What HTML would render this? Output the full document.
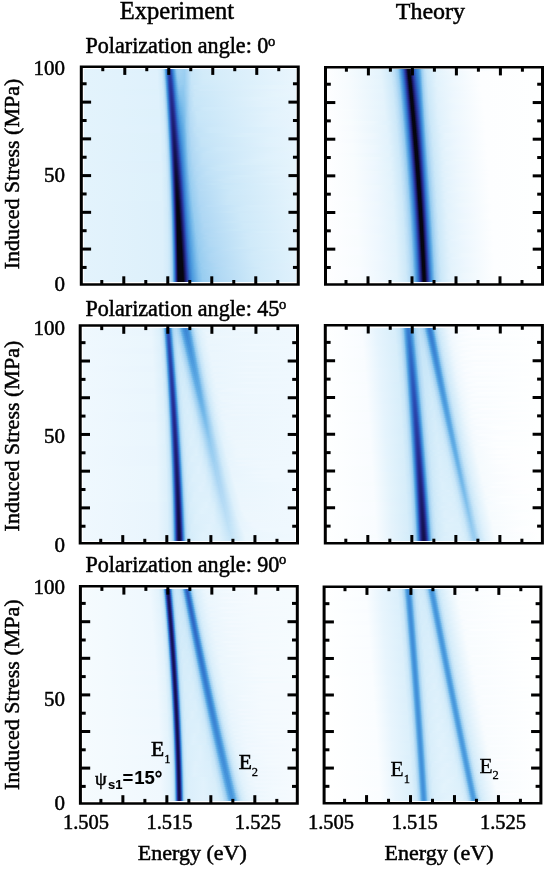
<!DOCTYPE html>
<html><head><meta charset="utf-8"><style>
html,body{margin:0;padding:0;background:#fff;}
#c{position:relative;width:550px;height:871px;overflow:hidden;background:#fff;}
.h{position:absolute;}
.h>div{height:2px;background-size:calc(100% + 1px) 100%;background-position:-0.5px 0;background-repeat:no-repeat;}
svg{position:absolute;left:0;top:0;}
</style></head><body><div id="c">
<div class="h" style="left:84px;top:69px;width:212px;height:213px">
<div style="background-image:linear-gradient(90deg,#e3f3fc 1px,#dff1fc 73px,#d6edfa 77px,#c4e3f7 79px,#b0d8f4 80px,#8ec7ee 81px,#57a4e1 82px,#3981d2 83px,#2d5cbd 84px,#2944aa 85px,#283da2 86px,#2945aa 87px,#2d5bbc 88px,#347acf 89px,#4594db 90px,#7dbdeb 92px,#95ccf0 93px,#a4d2f2 95px,#a1d1f2 98px,#9ccff1 101px,#aed7f4 104px,#c9e7f8 108px,#d3ebfa 119px,#e8f5fd 209px,#e8f5fd 212px)"></div>
<div style="background-image:linear-gradient(90deg,#e3f3fc 1px,#def1fc 74px,#d6edfa 77px,#c6e5f8 79px,#b3daf4 80px,#95ccf0 81px,#5da8e3 82px,#3b85d4 83px,#2e60bf 84px,#2945ab 85px,#283ca1 86px,#2841a7 87px,#2b55b8 88px,#3274cc 89px,#418fd9 90px,#76b9e9 92px,#90c8ef 93px,#9ccff1 94px,#a3d2f2 96px,#9ccff1 101px,#aed7f4 104px,#c9e6f8 108px,#d2ebf9 119px,#e8f5fd 209px,#e8f5fd 212px)"></div>
<div style="background-image:linear-gradient(90deg,#e3f3fc 1px,#dff1fc 74px,#d1eaf9 78px,#c8e6f8 79px,#b6dbf5 80px,#9acef1 81px,#62ade5 82px,#3e8ad6 83px,#2e64c2 84px,#2947ac 85px,#283ba0 86px,#283ea3 87px,#2a4fb5 88px,#306dc7 89px,#3e89d6 90px,#6fb5e8 92px,#8ac5ed 93px,#99cef1 94px,#a1d1f2 96px,#9bcef1 101px,#aed7f4 104px,#c8e6f8 108px,#d2ebf9 120px,#e8f5fd 210px,#e8f5fd 212px)"></div>
<div style="background-image:linear-gradient(90deg,#e3f3fc 1px,#dff1fc 74px,#d2ebf9 78px,#c9e7f8 79px,#b8ddf5 80px,#9ed0f1 81px,#69b2e7 82px,#418ed8 83px,#2f69c5 84px,#2949ae 85px,#283a9f 86px,#283ba0 87px,#2a4ab0 88px,#2f66c3 89px,#3b84d3 90px,#67b1e6 92px,#84c1ec 93px,#97ccf0 94px,#9fd0f1 96px,#9acef1 101px,#aed7f4 104px,#c8e6f8 108px,#d2ebf9 120px,#e8f5fd 210px,#e8f5fd 212px)"></div>
<div style="background-image:linear-gradient(90deg,#e3f3fc 1px,#dff1fc 74px,#d3ebfa 78px,#cbe7f8 79px,#bbdef6 80px,#a2d2f2 81px,#71b6e8 82px,#4493db 83px,#306ec8 84px,#2a4bb1 85px,#283a9f 86px,#27399d 87px,#2946ab 88px,#377ed1 90px,#4898dd 91px,#7dbeeb 93px,#92caef 94px,#9dcff1 96px,#99cef1 101px,#add7f4 104px,#c8e6f8 108px,#d2ebf9 120px,#e8f5fd 209px,#e8f5fd 212px)"></div>
<div style="background-image:linear-gradient(90deg,#e3f3fc 1px,#dff1fc 74px,#d4ecfa 78px,#cce8f9 79px,#bde0f6 80px,#a6d3f2 81px,#79bbea 82px,#4898dd 83px,#3173cb 84px,#2a4db3 85px,#283a9f 86px,#27369b 87px,#2942a7 88px,#2c59bb 89px,#3479ce 90px,#4493db 91px,#77bae9 93px,#8dc7ee 94px,#98cdf0 95px,#9acef1 98px,#99cdf0 101px,#c7e6f8 108px,#d1ebf9 120px,#e8f5fd 209px,#e8f5fd 212px)"></div>
<div style="background-image:linear-gradient(90deg,#e3f3fc 1px,#dff1fc 74px,#d4ecfa 78px,#c0e1f7 80px,#aad5f3 81px,#81c0ec 82px,#4e9cde 83px,#3378ce 84px,#2b51b6 85px,#283b9f 86px,#273599 87px,#283ea3 88px,#2b53b7 89px,#3173cb 90px,#418ed8 91px,#70b6e8 93px,#87c3ed 94px,#95cbf0 95px,#99cdf0 98px,#98cdf0 101px,#c7e5f8 108px,#d1eaf9 119px,#e7f5fd 208px,#e8f5fd 212px)"></div>
<div style="background-image:linear-gradient(90deg,#e3f3fc 1px,#dff1fc 74px,#d5ecfa 78px,#c2e2f7 80px,#add7f4 81px,#89c4ed 82px,#53a1e0 83px,#367cd0 84px,#2b54b8 85px,#283ba0 86px,#273397 87px,#283a9f 88px,#2a4db3 89px,#306cc7 90px,#3e89d6 91px,#69b2e7 93px,#81c0ec 94px,#90c9ef 95px,#98cdf0 97px,#97cdf0 101px,#c6e5f8 108px,#d0eaf9 119px,#e7f5fd 207px,#e8f5fd 212px)"></div>
<div style="background-image:linear-gradient(90deg,#e3f3fc 1px,#dff1fc 74px,#d6edfa 78px,#c4e4f7 80px,#b1d8f4 81px,#91c9ef 82px,#58a5e2 83px,#3880d2 84px,#2c58ba 85px,#283da2 86px,#273296 87px,#27379b 88px,#2948ae 89px,#2f66c3 90px,#3a83d3 91px,#63aee5 93px,#7bbcea 94px,#8cc6ee 95px,#94cbf0 96px,#93caef 100px,#a3d2f2 103px,#c1e2f7 107px,#cce8f9 111px,#e5f4fc 191px,#e8f5fd 212px)"></div>
<div style="background-image:linear-gradient(90deg,#e3f3fc 1px,#dff1fc 74px,#d6edfa 78px,#c6e5f8 80px,#b3daf5 81px,#97ccf0 82px,#5ea9e3 83px,#3b85d4 84px,#2d5dbd 85px,#283ea3 86px,#263195 87px,#273498 88px,#2944a9 89px,#377ed1 91px,#4797dc 92px,#75b9e9 94px,#87c3ed 95px,#90c8ef 96px,#91c9ef 100px,#a2d2f2 103px,#c0e2f7 107px,#cbe8f8 111px,#e5f4fc 190px,#e8f5fd 212px)"></div>
<div style="background-image:linear-gradient(90deg,#e3f3fc 1px,#def1fb 75px,#d1eaf9 79px,#c8e6f8 80px,#b6dbf5 81px,#9bcef1 82px,#63aee5 83px,#3e89d6 84px,#2e61c0 85px,#2840a5 86px,#263095 87px,#263195 88px,#283fa5 89px,#2c59bb 90px,#3479ce 91px,#4392da 92px,#6fb5e8 94px,#81c0ec 95px,#8cc6ee 96px,#8fc8ef 100px,#abd6f3 104px,#c5e4f7 108px,#cfe9f9 117px,#e7f4fd 204px,#e8f5fd 212px)"></div>
<div style="background-image:linear-gradient(90deg,#e3f3fc 1px,#def1fc 75px,#d2ebf9 79px,#c9e7f8 80px,#b8ddf5 81px,#9fd0f1 82px,#6ab2e7 83px,#418ed8 84px,#2f66c3 85px,#2943a8 86px,#263094 87px,#262e93 88px,#283ba0 89px,#2b52b7 90px,#3173cb 91px,#55a2e1 93px,#7cbdeb 95px,#87c3ed 96px,#8dc7ee 100px,#bfe1f7 107px,#cae7f8 111px,#e4f3fc 189px,#e8f5fd 212px)"></div>
<div style="background-image:linear-gradient(90deg,#e3f3fc 1px,#def1fc 75px,#d2ebf9 79px,#cae7f8 80px,#bbdef6 81px,#a3d2f2 82px,#71b7e8 83px,#4493da 84px,#306bc6 85px,#2945ab 86px,#263095 87px,#262d90 88px,#27379c 89px,#2a4db2 90px,#306cc7 91px,#509edf 93px,#77bae9 95px,#83c1ec 96px,#89c5ed 98px,#8bc6ee 100px,#bfe1f6 107px,#cbe7f8 112px,#e5f4fc 193px,#e8f5fd 212px)"></div>
<div style="background-image:linear-gradient(90deg,#e3f3fc 1px,#dff1fc 75px,#d3ecfa 79px,#cbe8f8 80px,#bde0f6 81px,#a6d3f2 82px,#79bbea 83px,#4797dc 84px,#3170c9 85px,#2948ae 86px,#263195 87px,#252b8d 88px,#273398 89px,#2948ad 90px,#3a83d3 92px,#5faae4 94px,#7ebeeb 96px,#86c3ed 98px,#8ac5ed 100px,#bee0f6 107px,#cae7f8 112px,#e5f4fc 192px,#e7f5fd 212px)"></div>
<div style="background-image:linear-gradient(90deg,#e3f3fc 1px,#dff1fc 75px,#d4ecfa 79px,#bfe1f7 81px,#aad5f3 82px,#81c0ec 83px,#4d9bde 84px,#3275cc 85px,#2a4bb1 86px,#273296 87px,#242a8b 88px,#263094 89px,#2943a8 90px,#377ed1 92px,#4695dc 93px,#6cb3e7 95px,#79bbea 96px,#83c1ec 98px,#8ec7ee 101px,#b8ddf5 106px,#c8e6f8 110px,#e1f2fc 175px,#e7f5fd 212px)"></div>
<div style="background-image:linear-gradient(90deg,#e3f3fc 1px,#dff1fc 75px,#d4ecfa 79px,#c1e2f7 81px,#add7f4 82px,#88c4ed 83px,#52a0e0 84px,#347acf 85px,#2a4eb4 86px,#273397 87px,#242a8a 88px,#262d90 89px,#283ea3 90px,#3479ce 92px,#56a3e1 94px,#75b9e9 96px,#80bfeb 98px,#8dc7ee 101px,#b8dcf5 106px,#c7e6f8 110px,#e0f1fc 172px,#e7f5fd 212px)"></div>
<div style="background-image:linear-gradient(90deg,#e3f3fc 1px,#dff1fc 75px,#d5ecfa 79px,#c3e3f7 81px,#b0d8f4 82px,#8fc8ef 83px,#57a4e1 84px,#377ed1 85px,#2b53b7 86px,#273599 87px,#232988 88px,#252b8c 89px,#283a9e 90px,#2b52b7 91px,#3173cb 92px,#519fdf 94px,#70b6e8 96px,#7dbdeb 98px,#8bc6ee 101px,#b7dcf5 106px,#c8e6f8 111px,#e3f3fc 184px,#e7f5fd 212px)"></div>
<div style="background-image:linear-gradient(90deg,#e3f3fc 1px,#dff1fc 75px,#d6edfa 79px,#c5e4f8 81px,#b3d9f4 82px,#96ccf0 83px,#5ca8e3 84px,#3a82d3 85px,#2c57ba 86px,#27379b 87px,#232988 88px,#242989 89px,#27359a 90px,#2a4db2 91px,#306cc7 92px,#3d87d5 93px,#4c9bde 94px,#6bb3e7 96px,#79bbea 98px,#89c5ed 101px,#b7dcf5 106px,#c8e6f8 111px,#e2f2fc 181px,#e7f5fd 212px)"></div>
<div style="background-image:linear-gradient(90deg,#e3f3fc 1px,#dff1fc 75px,#d6edfa 79px,#c7e5f8 81px,#b5dbf5 82px,#9acef1 83px,#61ace5 84px,#3d87d5 85px,#2d5cbd 86px,#27399e 87px,#232987 88px,#232885 89px,#273196 90px,#2948ad 91px,#2f66c3 92px,#3a82d3 93px,#4797dc 94px,#66b0e6 96px,#76b9e9 98px,#88c4ed 101px,#b6dcf5 106px,#c7e5f8 111px,#e1f2fc 178px,#e7f5fd 212px)"></div>
<div style="background-image:linear-gradient(90deg,#e3f3fc 1px,#dff1fc 75px,#d7edfa 79px,#c8e6f8 81px,#b7dcf5 82px,#9dcff1 83px,#67b0e6 84px,#3f8bd7 85px,#2e61c0 86px,#283ba0 87px,#232987 88px,#222682 89px,#262d91 90px,#2943a8 91px,#367dd0 93px,#4493db 94px,#62ade5 96px,#86c3ed 101px,#afd7f4 105px,#c2e3f7 109px,#cde9f9 121px,#e6f4fd 204px,#e7f5fd 212px)"></div>
<div style="background-image:linear-gradient(90deg,#e3f3fc 1px,#def1fb 76px,#d1ebf9 80px,#c9e7f8 81px,#b9def6 82px,#a1d1f2 83px,#6eb5e8 84px,#4290d9 85px,#2f65c3 86px,#283ea3 87px,#232988 88px,#212580 89px,#252b8c 90px,#283ea3 91px,#3378ce 93px,#519fdf 95px,#67b1e6 97px,#84c2ec 101px,#aed7f4 105px,#c2e2f7 109px,#cce8f9 120px,#e6f4fd 203px,#e7f4fd 212px)"></div>
<div style="background-image:linear-gradient(90deg,#e3f3fc 1px,#def1fb 76px,#d2ebf9 80px,#cae7f8 81px,#bcdff6 82px,#a4d3f2 83px,#75b9e9 84px,#4594db 85px,#306bc6 86px,#2841a6 87px,#242989 88px,#20247d 89px,#232988 90px,#27399e 91px,#3173cb 93px,#4d9bde 95px,#64aee5 97px,#83c1ec 101px,#a4d3f2 104px,#badef6 107px,#c8e6f8 113px,#e3f3fc 190px,#e7f4fd 212px)"></div>
<div style="background-image:linear-gradient(90deg,#e3f3fc 1px,#def1fb 76px,#d3ebfa 80px,#cbe8f8 81px,#bee0f6 82px,#a7d4f3 83px,#7cbdeb 84px,#4998dd 85px,#3170c9 86px,#2944aa 87px,#242a8b 88px,#20237b 89px,#222783 90px,#273599 91px,#2a4db3 92px,#306cc7 93px,#3c85d4 94px,#4898dd 95px,#61ace4 97px,#81c0ec 101px,#a4d2f2 104px,#b9ddf5 107px,#c7e6f8 113px,#e3f3fc 187px,#e7f4fd 212px)"></div>
<div style="background-image:linear-gradient(90deg,#e3f3fc 1px,#def1fb 76px,#d3ecfa 80px,#bfe1f7 82px,#aad5f3 83px,#83c1ec 84px,#4e9cde 85px,#3275cc 86px,#2948ad 87px,#252b8d 88px,#1f237a 89px,#21257f 90px,#263094 91px,#2948ae 92px,#2f66c3 93px,#3981d2 94px,#53a1e0 96px,#7fbfeb 101px,#a3d2f2 104px,#b8ddf5 107px,#c8e6f8 114px,#e4f3fc 192px,#e7f4fd 212px)"></div>
<div style="background-image:linear-gradient(90deg,#e3f3fc 1px,#def1fc 76px,#d4ecfa 80px,#c1e2f7 82px,#add7f4 83px,#8ac5ed 84px,#53a0e0 85px,#3479cf 86px,#2a4bb1 87px,#252c8f 88px,#1f2279 89px,#20237b 90px,#262c90 91px,#2943a8 92px,#2e60bf 93px,#367cd0 94px,#4f9edf 96px,#7dbeeb 101px,#99cdf0 103px,#b7dcf5 107px,#c7e6f8 114px,#e3f3fc 189px,#e7f4fd 212px)"></div>
<div style="background-image:linear-gradient(90deg,#e3f3fc 1px,#def1fc 76px,#d4ecfa 80px,#c3e3f7 82px,#b0d8f4 83px,#90c9ef 84px,#58a4e2 85px,#377ed1 86px,#2a4fb5 87px,#262d91 88px,#1f2278 89px,#1f2278 90px,#242a8a 91px,#283ea3 92px,#2c5abb 93px,#3377ce 94px,#4b9ade 96px,#60abe4 98px,#7bbcea 101px,#98cdf0 103px,#b7dcf5 107px,#c7e5f8 114px,#e2f2fc 186px,#e7f4fd 212px)"></div>
<div style="background-image:linear-gradient(90deg,#e3f3fc 1px,#def1fc 76px,#d5ecfa 80px,#c5e4f7 82px,#b3d9f4 83px,#96ccf0 84px,#5da8e3 85px,#3982d3 86px,#2b54b7 87px,#263094 88px,#1f2278 89px,#1e2075 90px,#222785 91px,#27399e 92px,#2b54b8 93px,#3172ca 94px,#4797dc 96px,#5da9e3 98px,#79bbea 101px,#97cdf0 103px,#b6dcf5 107px,#c6e5f8 114px,#e1f2fc 183px,#e7f4fd 212px)"></div>
<div style="background-image:linear-gradient(90deg,#e3f3fc 1px,#def1fc 76px,#d5edfa 80px,#c6e5f8 82px,#b5dbf5 83px,#9acef1 84px,#61ace5 85px,#3c86d5 86px,#2c58ba 87px,#273297 88px,#1f2278 89px,#1d1f72 90px,#212580 91px,#273599 92px,#2a4eb3 93px,#306cc7 94px,#3a83d3 95px,#519fdf 97px,#6bb3e7 100px,#97ccf0 103px,#b5dbf5 107px,#c5e4f8 114px,#e1f2fc 182px,#e7f4fd 212px)"></div>
<div style="background-image:linear-gradient(90deg,#e3f3fc 1px,#dff1fc 76px,#d6edfa 80px,#c8e6f8 82px,#b7dcf5 83px,#9dcff1 84px,#66b0e6 85px,#3f8ad7 86px,#2d5dbd 87px,#27359a 88px,#1f2279 89px,#1c1e6f 90px,#20237b 91px,#263094 92px,#2f66c3 94px,#377fd1 95px,#4d9cde 97px,#68b1e6 100px,#96ccf0 103px,#b5dbf5 107px,#c5e4f7 114px,#e0f2fc 180px,#e7f4fd 212px)"></div>
<div style="background-image:linear-gradient(90deg,#e3f3fc 1px,#dff1fc 76px,#d6edfa 80px,#c9e6f8 82px,#b9ddf5 83px,#a0d1f2 84px,#6db4e7 85px,#418ed8 86px,#2e62c0 87px,#27389d 88px,#1f237a 89px,#1b1d6d 90px,#1e2176 91px,#252c8f 92px,#2e60bf 94px,#357acf 95px,#4a99dd 97px,#66b0e6 100px,#94cbf0 103px,#afd7f4 106px,#c0e1f7 111px,#cce8f9 127px,#e5f4fd 205px,#e6f4fd 212px)"></div>
<div style="background-image:linear-gradient(90deg,#e3f3fc 1px,#dff1fc 76px,#d7edfa 80px,#cae7f8 82px,#bbdef6 83px,#a3d2f2 84px,#73b8e9 85px,#4493da 86px,#2f67c4 87px,#283ba0 88px,#20237c 89px,#1b1c6b 90px,#1d1f72 91px,#242989 92px,#283fa4 93px,#2c5abb 94px,#3276cd 95px,#4696dc 97px,#71b6e8 101px,#92caef 103px,#aed7f4 106px,#bfe1f6 111px,#cce8f9 127px,#e5f4fd 205px,#e6f4fd 212px)"></div>
<div style="background-image:linear-gradient(90deg,#e3f3fc 1px,#dff1fc 76px,#d7edfa 80px,#cbe7f8 82px,#bcdff6 83px,#a6d3f2 84px,#7abcea 85px,#4797dc 86px,#306cc7 87px,#283fa4 88px,#20247e 89px,#1b1b6a 90px,#1c1d6e 91px,#222783 92px,#283a9f 93px,#2b54b8 94px,#3170c9 95px,#4493db 97px,#6fb5e8 101px,#91c9ef 103px,#add6f3 106px,#bee0f6 111px,#cce8f9 127px,#e5f4fd 205px,#e6f4fd 212px)"></div>
<div style="background-image:linear-gradient(90deg,#e3f3fc 1px,#def1fb 77px,#d3ebfa 81px,#cbe8f8 82px,#bee0f6 83px,#a9d5f3 84px,#80bfeb 85px,#4c9bde 86px,#3171ca 87px,#2942a7 88px,#212580 89px,#1a1b68 90px,#1b1b6a 91px,#20247e 92px,#27359a 93px,#2a4eb4 94px,#306bc6 95px,#3980d2 96px,#4c9bde 98px,#6db4e7 101px,#9ccff1 104px,#b2d9f4 107px,#c2e3f7 114px,#dbeffb 164px,#e6f4fd 212px)"></div>
<div style="background-image:linear-gradient(90deg,#e3f3fc 1px,#def1fb 77px,#d3ecfa 81px,#c0e1f7 83px,#acd6f3 84px,#86c3ed 85px,#509edf 86px,#3276cd 87px,#2946ab 88px,#222783 89px,#1a1a68 90px,#1a1a67 91px,#1f2279 92px,#263095 93px,#2949af 94px,#2f65c2 95px,#367cd0 96px,#4998dd 98px,#6ab3e7 101px,#9bcef1 104px,#b1d8f4 107px,#c2e2f7 114px,#d7eefa 155px,#e6f4fd 212px)"></div>
<div style="background-image:linear-gradient(90deg,#e3f3fc 1px,#def1fb 77px,#d4ecfa 81px,#c1e2f7 83px,#aed7f4 84px,#8cc6ee 85px,#55a2e1 86px,#357acf 87px,#2949af 88px,#232886 89px,#1a1a67 90px,#191864 91px,#1d2074 92px,#262c8f 93px,#2e60bf 95px,#3478ce 96px,#4696dc 98px,#68b1e6 101px,#9acef1 104px,#b4daf5 108px,#c5e4f8 118px,#e1f2fc 187px,#e6f4fd 212px)"></div>
<div style="background-image:linear-gradient(90deg,#e3f3fc 1px,#def1fb 77px,#d4ecfa 81px,#c3e3f7 83px,#b1d8f4 84px,#92caef 85px,#59a6e2 86px,#377ed1 87px,#2a4db3 88px,#242989 89px,#1a1a68 90px,#181761 91px,#1c1d6f 92px,#242a89 93px,#2c5abb 95px,#3274cc 96px,#4493db 98px,#66b0e6 101px,#99cdf0 104px,#b3daf5 108px,#c5e4f7 118px,#e0f2fc 186px,#e6f4fd 212px)"></div>
<div style="background-image:linear-gradient(90deg,#e3f3fc 1px,#def1fb 77px,#d4ecfa 81px,#c4e4f7 83px,#b3daf4 84px,#97ccf0 85px,#5ea9e3 86px,#3a82d3 87px,#2b51b6 88px,#252b8d 89px,#1a1a68 90px,#17165e 91px,#1b1b6a 92px,#222783 93px,#2b54b8 95px,#316fc9 96px,#4290d9 98px,#64aee5 101px,#98cdf0 104px,#b2d9f4 108px,#c4e4f7 118px,#e0f2fc 185px,#e6f4fd 212px)"></div>
<div style="background-image:linear-gradient(90deg,#e3f3fc 1px,#def1fb 77px,#d5ecfa 81px,#c6e5f8 83px,#b4dbf5 84px,#9acef1 85px,#62ade5 86px,#3c86d4 87px,#2c56b9 88px,#262d91 89px,#1a1b69 90px,#17155c 91px,#191966 92px,#20247e 93px,#27369a 94px,#2a4fb4 95px,#306ac5 96px,#408dd8 98px,#62ade5 101px,#97ccf0 104px,#b2d9f4 108px,#c4e3f7 118px,#e0f1fc 184px,#e6f4fd 212px)"></div>
<div style="background-image:linear-gradient(90deg,#e3f3fc 1px,#def1fb 77px,#d5edfa 81px,#c7e5f8 83px,#b6dcf5 84px,#9dcff1 85px,#66b0e6 86px,#3e8ad6 87px,#2d5bbc 88px,#263094 89px,#1b1c6b 90px,#16145a 91px,#181761 92px,#1f2278 93px,#273196 94px,#294aaf 95px,#357bcf 97px,#54a1e0 100px,#71b6e8 102px,#95ccf0 104px,#b1d8f4 108px,#c3e3f7 118px,#dff1fc 183px,#e6f4fd 212px)"></div>
<div style="background-image:linear-gradient(90deg,#e3f3fc 1px,#def1fb 77px,#d6edfa 81px,#c8e6f8 83px,#b8ddf5 84px,#a0d0f1 85px,#6cb4e7 86px,#418ed8 87px,#2d5fbf 88px,#273397 89px,#1b1c6c 90px,#151358 91px,#17165d 92px,#1d1f73 93px,#262d90 94px,#2d5fbf 96px,#3377ce 97px,#52a0e0 100px,#6fb5e8 102px,#93caef 104px,#abd6f3 107px,#bcdff6 113px,#cce8f9 134px,#e5f4fc 208px,#e6f4fd 212px)"></div>
<div style="background-image:linear-gradient(90deg,#e3f3fc 1px,#def1fb 77px,#d6edfa 81px,#c9e6f8 83px,#badef6 84px,#a2d2f2 85px,#72b7e9 86px,#4392da 87px,#2e64c2 88px,#27369b 89px,#1c1d6e 90px,#151356 91px,#161459 92px,#1c1d6d 93px,#242a8a 94px,#2c5abb 96px,#3173cb 97px,#509edf 100px,#6cb4e7 102px,#91c9ef 104px,#aad5f3 107px,#bbdff6 113px,#cce8f9 134px,#e5f4fc 207px,#e6f4fd 212px)"></div>
<div style="background-image:linear-gradient(90deg,#e3f3fc 1px,#def1fb 77px,#d6edfa 81px,#cae7f8 83px,#bbdff6 84px,#a5d3f2 85px,#78baea 86px,#4695dc 87px,#2f69c5 88px,#28399e 89px,#1d1e71 90px,#151355 91px,#151355 92px,#1a1a68 93px,#222784 94px,#2b55b8 96px,#306ec8 97px,#4290d9 99px,#6ab2e7 102px,#8fc8ef 104px,#a3d2f2 106px,#b4dbf5 110px,#c6e5f8 124px,#e2f2fc 195px,#e6f4fd 212px)"></div>
<div style="background-image:linear-gradient(90deg,#e3f3fc 1px,#def1fc 77px,#d2ebf9 82px,#cae7f8 83px,#bddff6 84px,#a7d4f3 85px,#7ebeeb 86px,#4a99dd 87px,#306ec8 88px,#283da2 89px,#1d2074 90px,#151354 91px,#141251 92px,#191863 93px,#21257f 94px,#2a4fb5 96px,#377ed1 98px,#59a6e2 101px,#7bbcea 103px,#9acef1 105px,#b1d8f4 109px,#c3e3f7 120px,#dff1fc 185px,#e5f4fd 212px)"></div>
<div style="background-image:linear-gradient(90deg,#e3f3fc 1px,#def1fc 77px,#d2ebf9 82px,#bee0f6 84px,#aad5f3 85px,#83c1ec 86px,#4e9cde 87px,#3172cb 88px,#2840a6 89px,#1e2177 90px,#151354 91px,#13114e 92px,#17165e 93px,#273397 95px,#2a4bb1 96px,#357bcf 98px,#4998dd 100px,#65afe6 102px,#8bc6ee 104px,#99cdf0 105px,#b0d8f4 109px,#c2e3f7 120px,#dff1fc 184px,#e5f4fd 212px)"></div>
<div style="background-image:linear-gradient(90deg,#e3f3fc 1px,#def1fc 77px,#d3ebfa 82px,#c0e1f7 84px,#acd6f3 85px,#89c4ed 86px,#52a0e0 87px,#3377cd 88px,#2944a9 89px,#1f237a 90px,#151354 91px,#13114a 92px,#16145a 93px,#262e92 95px,#2946ac 96px,#3377ce 98px,#4696dc 100px,#77bae9 103px,#98cdf0 105px,#afd8f4 109px,#c2e2f7 120px,#dff1fc 183px,#e5f4fd 212px)"></div>
<div style="background-image:linear-gradient(90deg,#e3f3fc 1px,#def1fc 77px,#d3ebfa 82px,#c1e2f7 84px,#aed7f4 85px,#8ec7ee 86px,#56a3e1 87px,#357acf 88px,#2947ad 89px,#20247d 90px,#151355 91px,#121047 92px,#151354 93px,#252b8c 95px,#2d5bbc 97px,#3274cc 98px,#4594db 100px,#74b8e9 103px,#97ccf0 105px,#aed7f4 109px,#c0e1f7 119px,#dcf0fb 174px,#e5f4fc 212px)"></div>
<div style="background-image:linear-gradient(90deg,#e3f3fc 1px,#ddf0fb 78px,#d3ecfa 82px,#c2e3f7 84px,#b0d8f4 85px,#93caef 86px,#5aa6e2 87px,#377ed1 88px,#2a4bb1 89px,#212681 90px,#151356 91px,#110f45 92px,#14124f 93px,#232887 95px,#2c56b9 97px,#316fc9 98px,#4392da 100px,#72b7e8 103px,#95cbf0 105px,#add7f4 109px,#bfe1f7 119px,#daeffb 170px,#e5f4fc 212px)"></div>
<div style="background-image:linear-gradient(90deg,#e3f3fc 1px,#def0fb 78px,#d4ecfa 82px,#c4e3f7 84px,#b2d9f4 85px,#97ccf0 86px,#5ea9e3 87px,#3982d3 88px,#2a4fb4 89px,#222885 90px,#151357 91px,#110f42 92px,#13114b 93px,#191863 94px,#212681 95px,#2b51b6 97px,#3880d1 99px,#5eaae4 102px,#93caef 105px,#acd6f3 109px,#bee0f6 118px,#d6edfa 159px,#e5f4fc 212px)"></div>
<div style="background-image:linear-gradient(90deg,#e3f3fc 1px,#def0fb 78px,#d4ecfa 82px,#c5e4f7 84px,#b4daf5 85px,#99cef1 86px,#62ace5 87px,#3c85d4 88px,#2b53b7 89px,#242989 90px,#161459 91px,#100e40 92px,#121046 93px,#17165e 94px,#273599 96px,#2a4db3 97px,#367dd0 99px,#5ca8e3 102px,#90c9ef 105px,#a6d3f2 108px,#b8dcf5 114px,#cbe8f8 138px,#e4f3fc 208px,#e5f4fc 212px)"></div>
<div style="background-image:linear-gradient(90deg,#e3f3fc 1px,#def0fb 78px,#d4ecfa 82px,#c6e5f8 84px,#b5dbf5 85px,#9ccff1 86px,#65afe6 87px,#3e89d6 88px,#2c58ba 89px,#252b8d 90px,#16155b 91px,#100e3e 92px,#110f42 93px,#161458 94px,#263195 96px,#2949ae 97px,#347acf 99px,#4b9add 101px,#8ec7ee 105px,#a0d1f2 107px,#b3daf5 112px,#c6e5f8 129px,#e1f2fc 195px,#e5f4fc 212px)"></div>
<div style="background-image:linear-gradient(90deg,#e3f3fc 1px,#def0fb 78px,#d5ecfa 82px,#c7e5f8 84px,#b7dcf5 85px,#9ed0f1 86px,#6ab2e7 87px,#408cd8 88px,#2d5cbd 89px,#262d91 90px,#17165e 91px,#100e3d 92px,#100e3e 93px,#141253 94px,#262d90 96px,#2945aa 97px,#3377cd 99px,#4898dd 101px,#8cc6ee 105px,#9fd0f1 107px,#b4dbf5 113px,#c9e6f8 134px,#e3f3fc 204px,#e5f4fc 212px)"></div>
<div style="background-image:linear-gradient(90deg,#e3f3fc 1px,#def0fb 78px,#d5edfa 82px,#c8e6f8 84px,#b8ddf5 85px,#a1d1f2 86px,#6fb5e8 87px,#4290d9 88px,#2e60c0 89px,#263095 90px,#181760 91px,#0f0d3c 92px,#0f0d3a 93px,#13114d 94px,#242a8a 96px,#2c5abb 98px,#3173cb 99px,#4696dc 101px,#89c5ed 105px,#97ccf0 106px,#afd7f4 111px,#c1e2f7 124px,#def1fc 186px,#e5f4fc 212px)"></div>
<div style="background-image:linear-gradient(90deg,#e3f3fc 1px,#def1fb 78px,#d5edfa 82px,#c9e6f8 84px,#badef6 85px,#a3d2f2 86px,#74b8e9 87px,#4493db 88px,#2f65c2 89px,#273498 90px,#191863 91px,#0f0d3c 92px,#0e0c36 93px,#121048 94px,#222785 96px,#2c56b9 98px,#3170c9 99px,#4594db 101px,#87c3ed 105px,#95ccf0 106px,#aed7f4 111px,#c0e1f7 123px,#ddf0fb 183px,#e5f3fc 212px)"></div>
<div style="background-image:linear-gradient(90deg,#e3f3fc 1px,#def1fb 78px,#d6edfa 82px,#c9e7f8 84px,#bbdef6 85px,#a5d3f2 86px,#79bbea 87px,#4796dc 88px,#2f69c5 89px,#27379c 90px,#1a1966 91px,#0f0d3b 92px,#0d0b32 93px,#110f43 94px,#18165f 95px,#27389d 97px,#2b51b6 98px,#3981d2 100px,#53a0e0 102px,#93caef 106px,#a9d5f3 110px,#bbdff6 119px,#d3ecfa 157px,#e5f3fc 212px)"></div>
<div style="background-image:linear-gradient(90deg,#e3f3fc 1px,#def1fb 78px,#d1eaf9 83px,#cae7f8 84px,#bcdff6 85px,#a7d4f3 86px,#7ebeeb 87px,#4a99dd 88px,#306dc8 89px,#283a9f 90px,#1a1b69 91px,#0f0d3c 92px,#0d0b2f 93px,#100e3e 94px,#16145a 95px,#273499 97px,#2a4db3 98px,#377ed1 100px,#60abe4 103px,#91c9ef 106px,#a4d3f2 109px,#b7dcf5 116px,#cee9f9 147px,#e4f3fc 212px)"></div>
<div style="background-image:linear-gradient(90deg,#e3f3fc 1px,#def1fb 78px,#d1ebf9 83px,#cae7f8 84px,#bde0f6 85px,#a9d5f3 86px,#83c1ec 87px,#4e9cde 88px,#3172ca 89px,#283ea3 90px,#1b1c6d 91px,#0f0d3c 92px,#0c0a2c 93px,#0f0d39 94px,#151354 95px,#263095 97px,#2949af 98px,#367cd0 100px,#5ea9e3 103px,#8ec8ee 106px,#9ed0f1 108px,#b3daf4 114px,#c9e6f8 137px,#e3f3fc 205px,#e4f3fc 212px)"></div>
<div style="background-image:linear-gradient(90deg,#e3f3fc 1px,#def1fb 78px,#d2ebf9 83px,#bfe0f6 85px,#abd6f3 86px,#87c4ed 87px,#519fe0 88px,#3276cd 89px,#2841a6 90px,#1c1e70 91px,#100e3d 92px,#0b092a 93px,#0e0c34 94px,#1c1d6e 96px,#262d90 97px,#2945ab 98px,#3479ce 100px,#5ca8e3 103px,#8cc6ee 106px,#9dcff1 108px,#b4daf5 115px,#cbe7f8 142px,#e4f3fc 209px,#e4f3fc 212px)"></div>
<div style="background-image:linear-gradient(90deg,#e3f3fc 1px,#def1fb 78px,#d2ebf9 83px,#c0e1f7 85px,#add7f4 86px,#8cc6ee 87px,#55a2e1 88px,#3479ce 89px,#2944aa 90px,#1e2074 91px,#100e3f 92px,#0b0928 93px,#0d0b2f 94px,#121049 95px,#242a8b 97px,#2942a7 98px,#3276cd 100px,#5aa6e2 103px,#96ccf0 107px,#afd8f4 113px,#c2e3f7 129px,#def1fc 189px,#e4f3fc 212px)"></div>
<div style="background-image:linear-gradient(90deg,#e3f3fc 1px,#def1fb 78px,#d2ebf9 83px,#c1e2f7 85px,#afd7f4 86px,#90c9ef 87px,#58a5e2 88px,#367cd0 89px,#2948ad 90px,#1f2178 91px,#100e41 92px,#0a0926 93px,#0c0a2b 94px,#110f43 95px,#232885 97px,#283ea3 98px,#2c58ba 99px,#3173cb 100px,#4797dc 102px,#87c3ed 106px,#9bcef1 108px,#b3d9f4 115px,#cae7f8 142px,#e3f3fc 208px,#e4f3fc 212px)"></div>
<div style="background-image:linear-gradient(90deg,#e3f3fc 1px,#def1fb 78px,#d3ebfa 83px,#c2e2f7 85px,#b0d8f4 86px,#94cbf0 87px,#5ca8e3 88px,#387fd1 89px,#2a4bb1 90px,#20237b 91px,#110f43 92px,#0a0824 93px,#0b0927 94px,#100e3e 95px,#17165f 96px,#283a9f 98px,#2b54b8 99px,#316fc9 100px,#4695dc 102px,#85c2ec 106px,#99cef1 108px,#b2d9f4 115px,#c9e7f8 141px,#e3f3fc 207px,#e4f3fc 212px)"></div>
<div style="background-image:linear-gradient(90deg,#e3f3fc 1px,#def1fb 78px,#d3ebfa 83px,#c3e3f7 85px,#b2d9f4 86px,#97cdf0 87px,#5faae4 88px,#3a83d3 89px,#2a4eb4 90px,#21257f 91px,#110f45 92px,#0a0823 93px,#0a0823 94px,#0f0d38 95px,#161459 96px,#27369b 98px,#2a50b5 99px,#306cc7 100px,#4493db 102px,#73b7e9 105px,#8fc8ef 107px,#a2d1f2 110px,#b5dbf5 117px,#cee9f9 151px,#e4f3fc 212px)"></div>
<div style="background-image:linear-gradient(90deg,#e3f3fc 1px,#def1fb 78px,#d3ecfa 83px,#c4e3f7 85px,#b3daf5 86px,#99cef1 87px,#62ade5 88px,#3c86d4 89px,#2b52b7 90px,#222783 91px,#121048 92px,#090822 93px,#090820 94px,#0d0b33 95px,#151353 96px,#273397 98px,#2a4cb2 99px,#387fd1 101px,#60abe4 104px,#8dc7ee 107px,#9ccff1 109px,#b2d9f4 116px,#cce8f9 147px,#e4f3fc 212px)"></div>
<div style="background-image:linear-gradient(90deg,#e3f3fc 1px,#def1fb 78px,#d3ecfa 83px,#c5e4f7 85px,#b4dbf5 86px,#9bcef1 87px,#65afe6 88px,#3e89d6 89px,#2c56b9 90px,#232987 91px,#13114b 92px,#090821 93px,#08071c 94px,#0c0a2e 95px,#1d1e70 97px,#262f93 98px,#2949ae 99px,#367dd0 101px,#4f9edf 103px,#8ac5ee 107px,#9bcef1 109px,#b2d9f4 116px,#cce8f9 147px,#e4f3fc 212px)"></div>
<div style="background-image:linear-gradient(90deg,#e3f3fc 1px,#def1fb 78px,#d4ecfa 83px,#c5e5f8 85px,#b6dbf5 86px,#9dcff1 87px,#69b2e7 88px,#408cd7 89px,#2c5abb 90px,#242a8b 91px,#13114e 92px,#090820 93px,#070719 94px,#0b0929 95px,#1b1c6b 97px,#252c8f 98px,#2945ab 99px,#357acf 101px,#4d9cde 103px,#88c4ed 107px,#9acef1 109px,#b1d9f4 116px,#cbe7f8 146px,#e3f3fc 211px,#e4f3fc 212px)"></div>
<div style="background-image:linear-gradient(90deg,#e3f3fc 1px,#def1fb 78px,#d4ecfa 83px,#c6e5f8 85px,#b7dcf5 86px,#9fd0f1 87px,#6db4e7 88px,#418fd9 89px,#2d5ebe 90px,#252c8f 91px,#141252 92px,#090820 93px,#070616 94px,#0a0925 95px,#110f42 96px,#242a8a 98px,#2942a7 99px,#2d5dbe 100px,#3378ce 101px,#4b9ade 103px,#85c2ed 107px,#99cdf0 109px,#b0d8f4 116px,#cbe7f8 146px,#e3f3fc 211px,#e3f3fc 212px)"></div>
<div style="background-image:linear-gradient(90deg,#e3f3fc 1px,#def1fb 78px,#d4ecfa 83px,#c7e5f8 85px,#b8ddf5 86px,#a1d1f2 87px,#71b7e8 88px,#4391da 89px,#2e61c0 90px,#262f93 91px,#151355 92px,#090821 93px,#060613 94px,#090821 95px,#0f0d3d 96px,#181761 97px,#222785 98px,#283ea3 99px,#2c5abb 100px,#3275cc 101px,#4998dd 103px,#83c1ec 107px,#97cdf0 109px,#b0d8f4 116px,#cae7f8 145px,#e3f3fc 209px,#e3f3fc 212px)"></div>
<div style="background-image:linear-gradient(90deg,#e3f3fc 1px,#ddf0fb 79px,#d4ecfa 83px,#c8e6f8 85px,#b9ddf5 86px,#a3d2f2 87px,#75b9e9 88px,#4594db 89px,#2f65c2 90px,#273296 91px,#161459 92px,#090821 93px,#050511 94px,#08071c 95px,#0e0c37 96px,#17155c 97px,#283ba0 99px,#2c56b9 100px,#3172ca 101px,#4696dc 103px,#73b7e9 106px,#96ccf0 109px,#afd7f4 116px,#c9e6f8 144px,#e2f3fc 208px,#e3f3fc 212px)"></div>
<div style="background-image:linear-gradient(90deg,#e3f3fc 1px,#ddf0fb 79px,#d5ecfa 83px,#c8e6f8 85px,#badef6 86px,#a4d3f2 87px,#79bbea 88px,#4797dc 89px,#2f69c5 90px,#273599 91px,#17155c 92px,#090822 93px,#05050f 94px,#070718 95px,#0d0b32 96px,#151357 97px,#27379c 99px,#2b52b6 100px,#306ec8 101px,#4594db 103px,#70b6e8 106px,#94cbf0 109px,#aed7f4 116px,#c8e6f8 143px,#e2f2fc 206px,#e3f3fc 212px)"></div>
<div style="background-image:linear-gradient(90deg,#e3f3fc 1px,#ddf0fb 79px,#d5ecfa 83px,#c9e6f8 85px,#bbdef6 86px,#a6d3f2 87px,#7dbeeb 88px,#4a99dd 89px,#306cc7 90px,#27389c 91px,#181760 92px,#0a0823 93px,#05050f 94px,#060614 95px,#0c0a2d 96px,#141251 97px,#273498 99px,#2a4eb4 100px,#306bc6 101px,#4492da 103px,#6db4e7 106px,#92caef 109px,#a8d4f3 114px,#b9ddf6 125px,#d4ecfa 167px,#e3f3fc 212px)"></div>
<div style="background-image:linear-gradient(90deg,#e3f3fc 1px,#ddf0fb 79px,#d0eaf9 84px,#c9e7f8 85px,#bcdff6 86px,#a8d4f3 87px,#81c0ec 88px,#4d9cde 89px,#3170c9 90px,#283a9f 91px,#191863 92px,#0a0925 93px,#05050f 94px,#050510 95px,#0b0928 96px,#13114b 97px,#263095 99px,#2a4bb1 100px,#377fd1 102px,#509edf 104px,#85c2ec 108px,#98cdf0 110px,#b0d8f4 118px,#cee9f9 155px,#e3f3fc 212px)"></div>
<div style="background-image:linear-gradient(90deg,#e3f3fc 1px,#ddf0fb 79px,#d0eaf9 84px,#cae7f8 85px,#bddff6 86px,#a9d5f3 87px,#84c2ec 88px,#509edf 89px,#3173cb 90px,#283da2 91px,#1a1a66 92px,#0a0927 93px,#05050f 94px,#05050f 95px,#0a0823 96px,#1b1c6c 98px,#262d91 99px,#2948ad 100px,#2e64c2 101px,#367cd0 102px,#4e9cde 104px,#83c1ec 108px,#97ccf0 110px,#b0d8f4 118px,#cee9f9 155px,#e3f3fc 212px)"></div>
<div style="background-image:linear-gradient(90deg,#e3f3fc 1px,#ddf0fb 79px,#d1eaf9 84px,#bee0f6 86px,#abd6f3 87px,#88c4ed 88px,#53a0e0 89px,#3277cd 90px,#2840a5 91px,#1b1b6a 92px,#0b0929 93px,#05050f 94px,#05050f 95px,#09081f 96px,#1a1a67 98px,#252b8c 99px,#2944aa 100px,#2e60bf 101px,#347acf 102px,#4b9ade 104px,#80bfec 108px,#95cbf0 110px,#add7f4 117px,#c9e6f8 146px,#e2f2fc 208px,#e3f3fc 212px)"></div>
<div style="background-image:linear-gradient(90deg,#e3f3fc 1px,#ddf0fb 79px,#d1eaf9 84px,#bee0f6 86px,#acd6f3 87px,#8bc6ee 88px,#55a2e1 89px,#3479cf 90px,#2943a8 91px,#1c1d6d 92px,#0b0a2b 93px,#05050f 94px,#05050f 95px,#08071a 96px,#0f0d3b 97px,#181862 98px,#232988 99px,#2841a6 100px,#2d5dbd 101px,#3377ce 102px,#4998dd 104px,#7ebeeb 108px,#99cdf0 111px,#b0d8f4 119px,#cee9f9 157px,#e3f3fc 212px)"></div>
<div style="background-image:linear-gradient(90deg,#e3f3fc 1px,#ddf0fb 79px,#d1ebf9 84px,#bfe1f7 86px,#add7f4 87px,#8fc8ee 88px,#58a5e2 89px,#367cd0 90px,#2946ab 91px,#1d1e71 92px,#0c0a2d 93px,#05050f 94px,#05050f 95px,#070616 96px,#0e0c36 97px,#17165e 98px,#222783 99px,#283ea3 100px,#2c59bb 101px,#3274cc 102px,#4797dc 104px,#7cbdea 108px,#98cdf0 111px,#afd8f4 119px,#cee9f9 157px,#e2f3fc 212px)"></div>
<div style="background-image:linear-gradient(90deg,#e3f3fc 1px,#ddf0fb 79px,#d1ebf9 84px,#c0e1f7 86px,#afd7f4 87px,#92c9ef 88px,#5aa7e2 89px,#377fd1 90px,#2949ae 91px,#1e2074 92px,#0d0b30 93px,#05050f 94px,#060512 96px,#0d0b31 97px,#161459 98px,#283b9f 100px,#2c56b9 101px,#3171ca 102px,#4595db 104px,#79bbea 108px,#97ccf0 111px,#afd7f4 119px,#cee9f9 158px,#e2f3fc 212px)"></div>
<div style="background-image:linear-gradient(90deg,#e3f3fc 1px,#ddf0fb 79px,#d2ebf9 84px,#c1e2f7 86px,#b0d8f4 87px,#95cbf0 88px,#5da9e3 89px,#3981d2 90px,#2a4bb1 91px,#1f2278 92px,#0d0b33 93px,#05050f 94px,#05050f 96px,#0c0a2b 97px,#151353 98px,#27379c 100px,#2b52b6 101px,#306ec8 102px,#4493da 104px,#69b2e7 107px,#95ccf0 111px,#aed7f4 119px,#cee9f9 158px,#e2f2fc 212px)"></div>
<div style="background-image:linear-gradient(90deg,#e3f3fc 1px,#ddf0fb 79px,#d2ebf9 84px,#c1e2f7 86px,#b1d9f4 87px,#97ccf0 88px,#5fabe4 89px,#3a83d3 90px,#2a4eb4 91px,#20237b 92px,#0e0c36 93px,#05050f 94px,#05050f 96px,#0b0927 97px,#13114e 98px,#273498 100px,#2a4eb4 101px,#306bc6 102px,#4390d9 104px,#67b0e6 107px,#93cbef 111px,#abd6f3 118px,#c9e6f8 149px,#e1f2fc 209px,#e2f2fc 212px)"></div>
<div style="background-image:linear-gradient(90deg,#e3f3fc 1px,#ddf0fb 79px,#d2ebf9 84px,#c2e3f7 86px,#b2d9f4 87px,#98cdf0 88px,#62ace5 89px,#3c86d4 90px,#2b51b6 91px,#21257f 92px,#0f0d39 93px,#05050f 94px,#05050f 96px,#090822 97px,#121049 98px,#263195 100px,#2a4bb1 101px,#377ed1 103px,#4d9cde 105px,#7ebeeb 109px,#98cdf0 112px,#b0d8f4 121px,#cfeaf9 161px,#e2f2fc 212px)"></div>
<div style="background-image:linear-gradient(90deg,#e3f3fc 1px,#ddf0fb 79px,#d2ebf9 84px,#c3e3f7 86px,#b3daf4 87px,#9acef1 88px,#64aee5 89px,#3d88d5 90px,#2b55b8 91px,#222682 92px,#0f0d3c 93px,#05050f 94px,#05050f 96px,#08071e 97px,#1b1c6c 99px,#262d91 100px,#2948ae 101px,#2e64c2 102px,#357bd0 103px,#4b9add 105px,#7bbcea 109px,#97ccf0 112px,#afd8f4 121px,#cfe9f9 161px,#e2f2fc 212px)"></div>
<div style="background-image:linear-gradient(90deg,#e3f3fc 1px,#ddf0fb 79px,#d3ebfa 84px,#c3e3f7 86px,#b4daf5 87px,#9bcef1 88px,#66b0e6 89px,#3f8ad7 90px,#2c58ba 91px,#232886 92px,#100e3f 93px,#05050f 94px,#05050f 96px,#070719 97px,#1a1a67 99px,#252b8d 100px,#2945aa 101px,#2e60c0 102px,#3479ce 103px,#4898dd 105px,#79bbea 109px,#96ccf0 112px,#add6f3 120px,#cee9f9 160px,#e2f2fc 212px)"></div>
<div style="background-image:linear-gradient(90deg,#e3f3fc 1px,#ddf0fb 79px,#d3ebfa 84px,#c4e4f7 86px,#b5dbf5 87px,#9dcff1 88px,#69b2e7 89px,#408dd8 90px,#2d5bbc 91px,#242989 92px,#110f43 93px,#05050f 94px,#05050f 96px,#060615 97px,#181863 99px,#242989 100px,#2942a7 101px,#2d5dbd 102px,#3277cd 103px,#4696dc 105px,#77bae9 109px,#94cbf0 112px,#aad5f3 119px,#c9e7f8 152px,#e2f2fc 212px)"></div>
<div style="background-image:linear-gradient(90deg,#e3f3fc 1px,#ddf0fb 79px,#d3ebfa 84px,#c5e4f7 86px,#b5dbf5 87px,#9ed0f1 88px,#6cb4e7 89px,#418fd9 90px,#2d5ebe 91px,#252b8c 92px,#121046 93px,#05050f 94px,#050510 97px,#0d0b34 98px,#17165e 99px,#222784 100px,#283fa4 101px,#2c5abb 102px,#3274cc 103px,#4594db 105px,#74b8e9 109px,#92caef 112px,#a7d4f3 118px,#bbdef6 135px,#d5edfa 175px,#e2f2fc 212px)"></div>
<div style="background-image:linear-gradient(90deg,#e3f3fc 1px,#ddf0fb 79px,#d3ecfa 84px,#c5e4f8 86px,#b6dcf5 87px,#9fd0f1 88px,#6fb5e8 89px,#4391da 90px,#2e60c0 91px,#262c90 92px,#12104a 93px,#05050f 94px,#05050f 97px,#0c0a2f 98px,#161459 99px,#283ca0 101px,#2c56b9 102px,#3171ca 103px,#4492da 105px,#72b7e9 109px,#97ccf0 113px,#aed7f4 122px,#cfe9f9 163px,#e1f2fc 212px)"></div>
<div style="background-image:linear-gradient(90deg,#e3f3fc 1px,#ddf0fb 79px,#d3ecfa 84px,#c6e5f8 86px,#b7dcf5 87px,#a1d1f2 88px,#72b7e9 89px,#4493da 90px,#2e63c1 91px,#262e92 92px,#13114d 93px,#05050f 94px,#05050f 97px,#0b092a 98px,#151354 99px,#27389d 101px,#2b53b7 102px,#306dc8 103px,#4290d9 105px,#64aee5 108px,#8ec7ee 112px,#9dcff1 115px,#b2d9f4 126px,#d1eaf9 167px,#e1f2fc 212px)"></div>
<div style="background-image:linear-gradient(90deg,#e3f3fc 1px,#ddf0fb 79px,#d3ecfa 84px,#c6e5f8 86px,#b8dcf5 87px,#a2d1f2 88px,#75b9e9 89px,#4595db 90px,#2f66c3 91px,#263195 92px,#141251 93px,#05050f 94px,#05050f 97px,#0a0925 98px,#14124f 99px,#27359a 101px,#2a4fb5 102px,#306ac6 103px,#418ed8 105px,#62ade5 108px,#94cbf0 113px,#abd6f3 121px,#cee9f9 162px,#e1f2fc 212px)"></div>
<div style="background-image:linear-gradient(90deg,#e3f3fc 1px,#ddf0fb 79px,#d3ecfa 84px,#c7e5f8 86px,#b8ddf5 87px,#a3d2f2 88px,#78baea 89px,#4797dc 90px,#2f69c5 91px,#273397 92px,#151354 93px,#05050f 94px,#05050f 97px,#090821 98px,#12104a 99px,#273296 101px,#2a4cb2 102px,#367dd0 104px,#56a3e1 107px,#8ac5ee 112px,#9ccff1 115px,#b1d9f4 126px,#d0eaf9 167px,#e1f2fc 212px)"></div>
<div style="background-image:linear-gradient(90deg,#e3f3fc 1px,#ddf0fb 79px,#d4ecfa 84px,#c7e5f8 86px,#b9ddf5 87px,#a4d2f2 88px,#7abcea 89px,#4998dd 90px,#306bc6 91px,#27359a 92px,#151357 93px,#05050f 94px,#05050f 97px,#08071c 98px,#1c1d6e 100px,#262f93 101px,#2949af 102px,#357acf 104px,#54a1e0 107px,#88c4ed 112px,#9bcef1 115px,#b0d8f4 126px,#d0eaf9 167px,#e1f2fc 212px)"></div>
<div style="background-image:linear-gradient(90deg,#e3f3fc 1px,#ddf0fb 79px,#d4ecfa 84px,#c8e6f8 86px,#b9def6 87px,#a5d3f2 88px,#7dbdeb 89px,#4b9ade 90px,#306ec8 91px,#27389c 92px,#16145b 93px,#050510 94px,#05050f 97px,#070618 98px,#1b1b6a 100px,#262c8f 101px,#2946ac 102px,#3378ce 104px,#52a0e0 107px,#86c3ed 112px,#9acef1 115px,#b0d8f4 126px,#d0eaf9 167px,#e1f2fc 212px)"></div>
<div style="background-image:linear-gradient(90deg,#e3f3fc 1px,#ddf0fb 79px,#d4ecfa 84px,#c8e6f8 86px,#badef6 87px,#a6d3f2 88px,#7fbfeb 89px,#4d9cde 90px,#3170c9 91px,#283a9f 92px,#17165e 93px,#060512 94px,#05050f 97px,#060613 98px,#191965 100px,#242a8b 101px,#2943a8 102px,#3276cd 104px,#509edf 107px,#84c2ec 112px,#99cdf0 115px,#afd8f4 126px,#d0eaf9 167px,#e1f2fc 212px)"></div>
<div style="background-image:linear-gradient(90deg,#e3f3fc 1px,#ddf0fb 79px,#d4ecfa 84px,#c8e6f8 86px,#bbdef6 87px,#a7d4f3 88px,#82c0ec 89px,#4f9ddf 90px,#3173cb 91px,#283ca1 92px,#181760 93px,#060614 94px,#05050f 96px,#050510 98px,#181761 100px,#232887 101px,#2840a5 102px,#2c5abc 103px,#3173cb 104px,#4392da 106px,#6eb5e8 110px,#93caef 114px,#a7d4f3 121px,#cae7f8 157px,#e1f2fc 212px)"></div>
<div style="background-image:linear-gradient(90deg,#e3f3fc 1px,#ddf0fb 79px,#d4ecfa 84px,#c9e6f8 86px,#bbdff6 87px,#a8d4f3 88px,#84c1ec 89px,#519fdf 90px,#3275cc 91px,#283ea3 92px,#191863 93px,#070616 94px,#05050f 95px,#05050f 98px,#0d0b31 99px,#17155d 100px,#222683 101px,#283da2 102px,#2c57b9 103px,#3170c9 104px,#4290d9 106px,#6cb3e7 110px,#91c9ef 114px,#a4d3f2 120px,#bddff6 142px,#d6edfa 181px,#e1f2fc 212px)"></div>
<div style="background-image:linear-gradient(90deg,#e3f3fc 1px,#ddf0fb 79px,#d4ecfa 84px,#c9e6f8 86px,#a9d5f3 88px,#86c3ed 89px,#52a0e0 90px,#3377ce 91px,#2840a5 92px,#191966 93px,#070719 94px,#05050f 95px,#05050f 98px,#0c0a2c 99px,#161458 100px,#283a9f 102px,#2b53b7 103px,#306dc7 104px,#418ed8 106px,#69b2e7 110px,#8fc8ef 114px,#9fd0f1 118px,#b4daf5 133px,#d1eaf9 171px,#e0f2fc 212px)"></div>
<div style="background-image:linear-gradient(90deg,#e3f3fc 1px,#ddf0fb 79px,#d4ecfa 84px,#c9e7f8 86px,#aad5f3 88px,#88c4ed 89px,#54a1e0 90px,#3479ce 91px,#2942a7 92px,#1a1b69 93px,#08071b 94px,#05050f 95px,#05050f 98px,#0b0927 99px,#141253 100px,#27379c 102px,#2a50b5 103px,#377ed1 105px,#54a2e0 108px,#86c2ed 113px,#99cdf0 116px,#afd8f4 128px,#d0eaf9 169px,#e0f2fc 212px)"></div>
<div style="background-image:linear-gradient(90deg,#e3f3fc 1px,#ddf0fb 79px,#d4ecfa 84px,#c9e7f8 86px,#aad5f3 88px,#8ac5ed 89px,#56a3e1 90px,#357bcf 91px,#2944aa 92px,#1b1c6b 93px,#08071d 94px,#05050f 95px,#05050f 98px,#0a0823 99px,#13114e 100px,#273499 102px,#2a4db3 103px,#357cd0 105px,#52a0e0 108px,#84c1ec 113px,#98cdf0 116px,#add7f4 127px,#cfe9f9 168px,#e0f2fc 212px)"></div>
<div style="background-image:linear-gradient(90deg,#e3f3fc 1px,#ddf0fb 79px,#d4ecfa 84px,#c9e7f8 86px,#abd6f3 88px,#8cc6ee 89px,#57a4e1 90px,#367cd0 91px,#2946ac 92px,#1c1d6e 93px,#090820 94px,#05050f 95px,#05050f 98px,#09081e 99px,#1d1f72 101px,#263195 102px,#2a4ab0 103px,#3479cf 105px,#519fdf 108px,#82c0ec 113px,#97ccf0 116px,#add6f3 127px,#cfe9f9 168px,#e0f2fc 212px)"></div>
<div style="background-image:linear-gradient(90deg,#e3f3fc 1px,#ddf0fb 79px,#d5ecfa 84px,#cae7f8 86px,#acd6f3 88px,#8ec7ee 89px,#59a5e2 90px,#377ed1 91px,#2948ad 92px,#1d1e70 93px,#090822 94px,#05050f 95px,#05050f 98px,#08071a 99px,#1c1d6d 101px,#262e92 102px,#2947ad 103px,#3377ce 105px,#4f9ddf 108px,#80bfeb 113px,#96ccf0 116px,#acd6f3 127px,#cee9f9 168px,#e0f2fc 212px)"></div>
<div style="background-image:linear-gradient(90deg,#e3f3fc 1px,#ddf0fb 79px,#d5ecfa 84px,#cae7f8 86px,#add6f3 88px,#8fc8ef 89px,#5aa6e2 90px,#387fd1 91px,#294aaf 92px,#1d1f73 93px,#0a0925 94px,#05050f 95px,#05050f 98px,#070615 99px,#1a1b69 101px,#252c8e 102px,#2945aa 103px,#3275cc 105px,#4d9cde 108px,#7ebeeb 113px,#98cdf0 117px,#afd7f4 130px,#d0eaf9 171px,#e0f2fc 212px)"></div>
<div style="background-image:linear-gradient(90deg,#e3f3fc 1px,#ddf0fb 79px,#d5ecfa 84px,#cae7f8 86px,#add7f4 88px,#91c9ef 89px,#5ca8e3 90px,#3981d2 91px,#2a4bb1 92px,#1e2075 93px,#0b0927 94px,#05050f 95px,#050511 99px,#191965 101px,#242a8a 102px,#2942a7 103px,#2d5bbc 104px,#3172cb 105px,#4290d9 107px,#68b1e6 111px,#8cc6ee 115px,#9dcff1 119px,#b4daf5 136px,#d1eaf9 173px,#e0f1fc 212px)"></div>
<div style="background-image:linear-gradient(90deg,#e3f3fc 1px,#ddf0fb 79px,#d5ecfa 84px,#cae7f8 86px,#aed7f4 88px,#93caef 89px,#5da9e3 90px,#3a82d3 91px,#2a4db3 92px,#1f2278 93px,#0b0929 94px,#05050f 95px,#05050f 99px,#181761 101px,#232886 102px,#283fa4 103px,#2c58ba 104px,#316fc9 105px,#418ed8 107px,#66b0e6 111px,#8bc5ee 115px,#9acef1 118px,#b1d8f4 133px,#d0eaf9 172px,#e0f1fc 212px)"></div>
<div style="background-image:linear-gradient(90deg,#e3f3fc 1px,#ddf0fb 79px,#d5ecfa 84px,#cae7f8 86px,#afd7f4 88px,#94cbf0 89px,#5eaae4 90px,#3a84d3 91px,#2a4fb4 92px,#1f237a 93px,#0c0a2c 94px,#05050f 95px,#05050f 99px,#0d0b30 100px,#17155d 101px,#222682 102px,#283ca1 103px,#2b54b8 104px,#306dc7 105px,#408cd7 107px,#65afe6 111px,#90c8ef 116px,#a0d1f2 121px,#bcdff6 146px,#d5ecfa 182px,#e0f1fc 212px)"></div>
<div style="background-image:linear-gradient(90deg,#e3f3fc 1px,#ddf0fb 79px,#d5ecfa 84px,#cae7f8 86px,#afd8f4 88px,#96ccf0 89px,#60abe4 90px,#3b85d4 91px,#2b51b6 92px,#20247c 93px,#0c0a2e 94px,#05050f 95px,#05050f 99px,#0c0a2c 100px,#161458 101px,#21247e 102px,#27399e 103px,#2b51b6 104px,#367dd0 106px,#519fdf 109px,#87c3ed 115px,#98cdf0 118px,#b0d8f4 133px,#d0eaf9 173px,#e0f1fc 212px)"></div>
<div style="background-image:linear-gradient(90deg,#e3f3fc 1px,#ddf0fb 79px,#d5ecfa 84px,#cbe7f8 86px,#b0d8f4 88px,#97ccf0 89px,#61ace4 90px,#3c86d5 91px,#2b52b7 92px,#21257e 93px,#0d0b30 94px,#05050f 95px,#05050f 99px,#0b0927 100px,#151353 101px,#27369b 103px,#2a4eb4 104px,#357bcf 106px,#509edf 109px,#85c2ed 115px,#97cdf0 118px,#afd8f4 133px,#d0eaf9 173px,#dff1fc 212px)"></div>
<div style="background-image:linear-gradient(90deg,#e3f3fc 1px,#ddf0fb 79px,#d5ecfa 84px,#cbe7f8 86px,#b0d8f4 88px,#97cdf0 89px,#62ade5 90px,#3d87d5 91px,#2b54b8 92px,#212681 93px,#0d0b33 94px,#05050f 95px,#05050f 99px,#0a0823 100px,#13114e 101px,#273498 103px,#2a4cb1 104px,#3479ce 106px,#4e9cde 109px,#84c1ec 115px,#99cdf0 119px,#b2d9f4 136px,#d0eaf9 174px,#dff1fc 212px)"></div>
<div style="background-image:linear-gradient(90deg,#e3f3fc 1px,#ddf0fb 79px,#d1eaf9 85px,#c0e2f7 87px,#b1d8f4 88px,#98cdf0 89px,#63ade5 90px,#3e88d6 91px,#2c56b9 92px,#222683 93px,#0e0c35 94px,#05050f 95px,#05050f 99px,#09081e 100px,#1d1f72 102px,#263195 103px,#2949af 104px,#3277cd 106px,#4c9bde 109px,#82c0ec 115px,#98cdf0 119px,#b1d9f4 136px,#d0eaf9 174px,#dff1fc 212px)"></div>
<div style="background-image:linear-gradient(90deg,#e3f3fc 1px,#ddf0fb 79px,#d1eaf9 85px,#c1e2f7 87px,#b1d9f4 88px,#99cdf0 89px,#64aee5 90px,#3e8ad6 91px,#2c57ba 92px,#222785 93px,#0e0c37 94px,#05050f 95px,#05050f 99px,#08071a 100px,#1c1d6e 102px,#262e92 103px,#2946ac 104px,#3274cc 106px,#4b9add 109px,#80bfec 115px,#98cdf0 119px,#b1d8f4 136px,#d0eaf9 174px,#dff1fc 212px)"></div>
<div style="background-image:linear-gradient(90deg,#e3f3fc 1px,#ddf0fb 79px,#d1eaf9 85px,#c1e2f7 87px,#b1d9f4 88px,#99cdf0 89px,#65afe6 90px,#3f8bd7 91px,#2c59bb 92px,#232886 93px,#0f0d3a 94px,#05050f 95px,#05050f 99px,#070615 100px,#1b1b6a 102px,#252c8f 103px,#2944a9 104px,#3172ca 106px,#4998dd 109px,#7fbeeb 115px,#97ccf0 119px,#b0d8f4 136px,#d0eaf9 175px,#dff1fc 212px)"></div>
<div style="height:1px;background-image:linear-gradient(90deg,#e3f3fc 1px,#ddf0fb 79px,#d1eaf9 85px,#c1e2f7 87px,#b2d9f4 88px,#9acef1 89px,#66b0e6 90px,#3f8bd7 91px,#2c5abc 92px,#232988 93px,#0f0d3b 94px,#05050f 95px,#060612 100px,#1a1a67 102px,#242b8c 103px,#2942a7 104px,#2c5abb 105px,#3170c9 106px,#408dd8 108px,#63aee5 112px,#8bc6ee 117px,#99cdf0 120px,#b4dbf5 141px,#d0eaf9 176px,#dff1fc 212px)"></div>
</div>
<div class="h" style="left:83px;top:328px;width:212px;height:213px">
<div style="background-image:linear-gradient(90deg,#eff8fe 1px,#eaf6fd 68px,#dff1fc 76px,#cee9f9 79px,#bfe1f7 80px,#a5d3f2 81px,#6eb5e8 82px,#418ed8 83px,#2f68c4 84px,#2a4fb5 85px,#2a4fb5 86px,#2f68c4 87px,#3f8ad6 88px,#61ace4 89px,#93caef 90px,#a9d5f3 91px,#b4daf5 92px,#b5dbf5 94px,#a2d2f2 96px,#93caef 97px,#60abe4 99px,#4391da 101px,#3b85d4 103px,#418ed8 105px,#4a99dd 106px,#5ba7e3 107px,#75b9e9 108px,#95cbf0 109px,#b8ddf5 111px,#cde9f9 113px,#e3f3fc 118px,#ecf7fd 128px,#eff8fe 212px)"></div>
<div style="background-image:linear-gradient(90deg,#eff8fe 1px,#e9f5fd 69px,#dcf0fb 77px,#d0eaf9 79px,#c2e3f7 80px,#a9d5f3 81px,#78bbea 82px,#4594db 83px,#306ec8 84px,#2b51b6 85px,#2a4db3 86px,#2e62c0 87px,#3b85d4 88px,#5ba7e2 89px,#8cc6ee 90px,#a8d4f3 91px,#b4dbf5 92px,#b8ddf5 94px,#a9d5f3 96px,#9ccff1 97px,#6ab2e7 99px,#4797dc 101px,#3d87d5 103px,#3f8bd7 105px,#4595dc 106px,#69b2e7 108px,#8ac5ed 109px,#a1d1f2 110px,#c0e1f7 112px,#d7eefa 115px,#e8f5fd 121px,#eff8fe 162px,#eff8fe 212px)"></div>
<div style="background-image:linear-gradient(90deg,#eff8fe 1px,#e9f5fd 69px,#ddf0fb 77px,#d1ebf9 79px,#c5e4f8 80px,#aed7f4 81px,#82c1ec 82px,#4a99dd 83px,#3173cb 84px,#2b53b7 85px,#2a4cb1 86px,#2d5dbd 87px,#387fd1 88px,#54a2e0 89px,#85c2ed 90px,#a6d3f2 91px,#b4dbf5 92px,#bbdef6 94px,#aed7f4 96px,#93caef 98px,#5faae4 100px,#4492da 102px,#3d88d5 104px,#4392da 106px,#4f9ddf 107px,#61ace4 108px,#9bcef1 110px,#c7e6f8 113px,#def1fb 117px,#ebf6fd 124px,#eff8fe 212px)"></div>
<div style="background-image:linear-gradient(90deg,#eff8fe 1px,#e9f5fd 69px,#ddf0fb 77px,#d2ebf9 79px,#c8e6f8 80px,#b2d9f4 81px,#8cc6ee 82px,#519fdf 83px,#3479ce 84px,#2c56b9 85px,#2a4bb0 86px,#2c58ba 87px,#3479cf 88px,#4e9cde 89px,#7dbeeb 90px,#a3d2f2 91px,#b4daf5 92px,#bde0f6 94px,#b3daf5 96px,#9bcef1 98px,#69b2e7 100px,#4898dd 102px,#3e89d6 104px,#428fd9 106px,#4a99dd 107px,#5aa7e2 108px,#72b7e8 109px,#92caef 110px,#b6dbf5 112px,#cce8f9 114px,#e0f1fc 118px,#ebf6fd 125px,#eff8fe 212px)"></div>
<div style="background-image:linear-gradient(90deg,#eff8fe 1px,#eaf6fd 69px,#def1fb 77px,#d3ecfa 79px,#cae7f8 80px,#b6dbf5 81px,#95ccf0 82px,#58a4e1 83px,#377ed1 84px,#2c59bb 85px,#2a4ab0 86px,#2b53b7 87px,#3173cb 88px,#4797dc 89px,#75b9e9 90px,#a0d1f2 91px,#b3daf5 92px,#bcdff6 93px,#bde0f6 95px,#afd7f4 97px,#92c9ef 99px,#5faae4 101px,#4493db 103px,#3f8ad6 105px,#4696dc 107px,#67b1e6 109px,#9fd0f1 111px,#bee0f6 113px,#d1eaf9 115px,#e5f3fc 120px,#edf7fd 132px,#eff8fe 212px)"></div>
<div style="background-image:linear-gradient(90deg,#eff8fe 1px,#eaf6fd 69px,#def1fb 77px,#d5ecfa 79px,#cbe8f8 80px,#b9ddf5 81px,#9bcef1 82px,#5eaae4 83px,#3a83d3 84px,#2d5dbe 85px,#2a4ab0 86px,#2a4fb5 87px,#306dc7 88px,#4391da 89px,#6cb3e7 90px,#9dcff1 91px,#b2d9f4 92px,#bcdff6 93px,#c0e1f7 95px,#b4daf5 97px,#9bcef1 99px,#68b1e6 101px,#4998dd 103px,#408cd7 105px,#4493db 107px,#60abe4 109px,#98cdf0 111px,#c6e5f8 114px,#ddf0fb 118px,#ebf6fd 125px,#eff8fe 212px)"></div>
<div style="background-image:linear-gradient(90deg,#eff8fe 1px,#eaf6fd 69px,#dff1fc 77px,#cde8f9 80px,#bcdff6 81px,#a0d1f2 82px,#65afe6 83px,#3d88d5 84px,#2e62c0 85px,#2a4ab0 86px,#2a4cb2 87px,#2f66c3 88px,#3f8bd7 89px,#64aee5 90px,#99cdf0 91px,#b0d8f4 92px,#bcdff6 93px,#c2e3f7 95px,#afd7f4 98px,#91c9ef 100px,#5faae4 102px,#4594db 104px,#408dd8 106px,#4b9add 108px,#5aa6e2 109px,#6fb5e8 110px,#8fc8ee 111px,#b4daf5 113px,#cbe8f8 115px,#dff1fc 119px,#ebf6fd 126px,#eff8fe 212px)"></div>
<div style="background-image:linear-gradient(90deg,#eff8fe 1px,#eaf6fd 69px,#dff1fc 77px,#cee9f9 80px,#bfe1f7 81px,#a5d3f2 82px,#6eb5e8 83px,#418ed8 84px,#2f66c3 85px,#2a4bb1 86px,#294aaf 87px,#2e60bf 88px,#3b85d4 89px,#5da9e3 90px,#94cbf0 91px,#aed7f4 92px,#bcdff6 93px,#c4e4f7 95px,#b4daf5 98px,#9acef1 100px,#68b1e6 102px,#4a99dd 104px,#418ed8 106px,#4797dc 108px,#66b0e6 110px,#9dcff1 112px,#c8e6f8 115px,#def1fb 119px,#ebf6fd 126px,#eff8fe 212px)"></div>
<div style="background-image:linear-gradient(90deg,#eff8fe 1px,#eaf6fd 69px,#dff1fc 77px,#cfeaf9 80px,#c2e2f7 81px,#a9d5f3 82px,#78bbea 83px,#4493db 84px,#306bc6 85px,#2a4db3 86px,#2948ad 87px,#2c5abc 88px,#387fd1 89px,#56a3e1 90px,#8cc6ee 91px,#abd6f3 92px,#bbdef6 93px,#c6e5f8 95px,#bfe1f7 97px,#aed7f4 99px,#8fc8ef 101px,#5faae4 103px,#4695dc 105px,#4290d9 107px,#4595db 108px,#5faae4 110px,#96ccf0 112px,#c4e3f7 115px,#d9eefa 118px,#e9f5fd 124px,#eff8fe 172px,#eff8fe 212px)"></div>
<div style="background-image:linear-gradient(90deg,#eff8fe 1px,#eaf6fd 69px,#ddf0fb 78px,#d1eaf9 80px,#c5e4f7 81px,#aed7f4 82px,#82c0ec 83px,#4998dd 84px,#3171ca 85px,#2a4fb5 86px,#2946ac 87px,#2b55b8 88px,#3479ce 89px,#4f9edf 90px,#83c1ec 91px,#a8d4f3 92px,#badef6 93px,#c7e5f8 95px,#c3e3f7 97px,#a8d4f3 100px,#9acef1 101px,#68b1e6 103px,#4b9add 105px,#4391d9 107px,#4c9bde 109px,#59a6e2 110px,#6db4e7 111px,#8bc6ee 112px,#b2d9f4 114px,#cae7f8 116px,#dff1fc 120px,#ebf6fd 127px,#eff8fe 212px)"></div>
<div style="background-image:linear-gradient(90deg,#eff8fe 1px,#e9f5fd 70px,#ddf0fb 78px,#d2ebf9 80px,#c7e6f8 81px,#b2d9f4 82px,#8bc6ee 83px,#509edf 84px,#3277cd 85px,#2b52b6 86px,#2945ab 87px,#2a50b5 88px,#3173cb 89px,#4898dd 90px,#7abbea 91px,#a4d3f2 92px,#b8ddf5 93px,#c8e6f8 95px,#c6e5f8 97px,#aed7f4 100px,#8fc8ee 102px,#5faae4 104px,#4797dc 106px,#4493da 108px,#4998dd 109px,#64afe5 111px,#9bcef1 113px,#c6e5f8 116px,#ddf0fb 120px,#ebf6fd 127px,#eff8fe 212px)"></div>
<div style="background-image:linear-gradient(90deg,#eff8fe 1px,#e9f5fd 70px,#def0fb 78px,#d3ecfa 80px,#c9e7f8 81px,#b5dbf5 82px,#94cbf0 83px,#56a3e1 84px,#357bd0 85px,#2b55b8 86px,#2945aa 87px,#2a4cb2 88px,#306cc6 89px,#4392da 90px,#70b6e8 91px,#a0d1f2 92px,#b6dcf5 93px,#c2e3f7 94px,#cae7f8 96px,#c3e3f7 98px,#a7d4f3 101px,#99cdf0 102px,#67b1e6 104px,#4c9bde 106px,#4493db 108px,#4797dc 109px,#5eaae4 111px,#75b9e9 112px,#93caef 113px,#c2e2f7 116px,#d8eefa 119px,#e9f5fd 125px,#eff8fe 168px,#eff8fe 212px)"></div>
<div style="background-image:linear-gradient(90deg,#eff8fe 1px,#e9f5fd 70px,#def1fb 78px,#d4ecfa 80px,#cbe7f8 81px,#b8ddf5 82px,#9acef1 83px,#5ca8e3 84px,#3980d2 85px,#2c59bb 86px,#2945ab 87px,#2949af 88px,#2f65c2 89px,#3f8cd7 90px,#66b0e6 91px,#9ccff1 92px,#b4daf5 93px,#c1e2f7 94px,#cae7f8 96px,#c0e1f7 99px,#a0d1f2 102px,#8ec7ee 103px,#5faae4 105px,#4898dd 107px,#4696dc 109px,#59a6e2 111px,#6bb3e7 112px,#9fd0f1 114px,#c9e6f8 117px,#def1fb 121px,#ebf6fd 128px,#eff8fe 212px)"></div>
<div style="background-image:linear-gradient(90deg,#eff8fe 1px,#eaf6fd 70px,#def1fc 78px,#cce8f9 81px,#bbdef6 82px,#9ed0f1 83px,#63ade5 84px,#3c86d4 85px,#2d5dbe 86px,#2946ab 87px,#2946ac 88px,#2d5ebe 89px,#3c85d4 90px,#5faae4 91px,#98cdf0 92px,#b2d9f4 93px,#c0e2f7 94px,#cbe8f8 96px,#c4e4f7 99px,#a7d4f3 102px,#98cdf0 103px,#67b1e6 105px,#4d9cde 107px,#4696dc 109px,#55a2e1 111px,#64aee5 112px,#99cdf0 114px,#c4e4f7 117px,#ddf0fb 121px,#ebf6fd 128px,#eff8fe 212px)"></div>
<div style="background-image:linear-gradient(90deg,#eff8fe 1px,#eaf6fd 70px,#dff1fc 78px,#cde9f9 81px,#bee0f6 82px,#a3d2f2 83px,#6bb3e7 84px,#3f8bd7 85px,#2e62c0 86px,#2947ac 87px,#2944a9 88px,#2c58ba 89px,#387fd1 90px,#58a5e2 91px,#90c9ef 92px,#afd7f4 93px,#bfe1f6 94px,#c8e6f8 95px,#cbe7f8 98px,#b8dcf5 101px,#9fd0f1 103px,#8dc7ee 104px,#5faae4 106px,#4a99dd 108px,#4999dd 110px,#5eaae4 112px,#73b8e9 113px,#90c8ef 114px,#b3daf5 116px,#cae7f8 118px,#dff1fc 122px,#ebf6fd 129px,#eff8fe 212px)"></div>
<div style="background-image:linear-gradient(90deg,#eff8fe 1px,#eaf6fd 70px,#dff1fc 78px,#cfe9f9 81px,#c1e2f7 82px,#a7d4f3 83px,#74b8e9 84px,#4290d9 85px,#2f67c4 86px,#2948ae 87px,#2942a7 88px,#2b53b7 89px,#3479ce 90px,#519fdf 91px,#87c3ed 92px,#abd6f3 93px,#bde0f6 94px,#c8e6f8 95px,#cce8f9 98px,#bcdff6 101px,#98cdf0 104px,#67b1e6 106px,#4f9ddf 108px,#4999dd 110px,#5aa6e2 112px,#6ab2e7 113px,#9dcff1 115px,#c7e5f8 118px,#def0fb 122px,#ebf6fd 129px,#eff8fe 212px)"></div>
<div style="background-image:linear-gradient(90deg,#eff8fe 1px,#eaf6fd 70px,#dff1fc 78px,#d0eaf9 81px,#c3e3f7 82px,#acd6f3 83px,#7dbdeb 84px,#4695dc 85px,#306cc7 86px,#2a4ab0 87px,#2841a6 88px,#2a4eb3 89px,#3173cb 90px,#4a99dd 91px,#7ebeeb 92px,#a7d4f3 93px,#bbdff6 94px,#c7e6f8 95px,#cde9f9 98px,#c0e1f7 101px,#9fd0f1 104px,#8cc6ee 105px,#73b7e9 106px,#60abe4 107px,#4c9bde 109px,#4d9cde 111px,#63aee5 113px,#97ccf0 115px,#c3e3f7 118px,#d8eefa 121px,#e9f5fd 127px,#eff8fe 171px,#eff8fe 212px)"></div>
<div style="background-image:linear-gradient(90deg,#eff8fe 1px,#eaf6fd 70px,#ddf0fb 79px,#d1ebf9 81px,#c6e5f8 82px,#b0d8f4 83px,#86c3ed 84px,#4c9bde 85px,#3172ca 86px,#2a4cb2 87px,#2840a5 88px,#294aaf 89px,#306bc6 90px,#4493db 91px,#74b8e9 92px,#a3d2f2 93px,#b9ddf6 94px,#c6e5f8 95px,#cee9f9 97px,#cae7f8 100px,#b2d9f4 103px,#97cdf0 105px,#67b1e6 107px,#509edf 109px,#4d9bde 111px,#5eaae4 113px,#72b7e8 114px,#8dc7ee 115px,#b1d9f4 117px,#c9e7f8 119px,#def1fc 123px,#ebf6fd 130px,#eff8fe 212px)"></div>
<div style="background-image:linear-gradient(90deg,#eff8fe 1px,#eaf6fd 70px,#ddf0fb 79px,#d2ebf9 81px,#c8e6f8 82px,#b3daf4 83px,#8fc8ee 84px,#52a0e0 85px,#3377ce 86px,#2a4fb5 87px,#283fa4 88px,#2946ac 89px,#2e64c2 90px,#408dd8 91px,#6ab2e7 92px,#9fd0f1 93px,#b7dcf5 94px,#c5e4f8 95px,#cfe9f9 97px,#cce8f9 100px,#b7dcf5 103px,#9ed0f1 105px,#60abe4 108px,#4e9ddf 110px,#519fdf 112px,#69b2e7 114px,#9bcef1 116px,#c5e4f8 119px,#ddf0fb 123px,#ebf6fd 130px,#eff8fe 212px)"></div>
<div style="background-image:linear-gradient(90deg,#eff8fe 1px,#e9f5fd 71px,#ddf0fb 79px,#d3ecfa 81px,#c9e7f8 82px,#b6dbf5 83px,#96ccf0 84px,#58a4e2 85px,#367cd0 86px,#2b53b7 87px,#283fa4 88px,#2943a8 89px,#2d5ebe 90px,#3c87d5 91px,#62ace5 92px,#9acef1 93px,#b4daf5 94px,#c3e3f7 95px,#cfe9f9 97px,#cae7f8 101px,#b2d9f4 104px,#97ccf0 106px,#68b1e6 108px,#52a0e0 110px,#509edf 112px,#63aee5 114px,#94cbf0 116px,#c1e2f7 119px,#d7edfa 122px,#e8f5fd 128px,#eff8fe 167px,#eff8fe 212px)"></div>
<div style="background-image:linear-gradient(90deg,#eff8fe 1px,#e9f5fd 71px,#def1fb 79px,#cbe7f8 82px,#b9ddf5 83px,#9bcef1 84px,#5ea9e3 85px,#3981d2 86px,#2c57b9 87px,#2840a5 88px,#2840a5 89px,#2c57ba 90px,#3880d2 91px,#5ba7e2 92px,#95cbf0 93px,#b1d9f4 94px,#c2e2f7 95px,#cfe9f9 97px,#cce8f9 101px,#b7dcf5 104px,#9ed0f1 106px,#61ace4 109px,#519fdf 111px,#55a2e1 113px,#5faae4 114px,#70b6e8 115px,#9fd0f1 117px,#c8e6f8 120px,#def1fb 124px,#ebf6fd 131px,#eff8fe 212px)"></div>
<div style="background-image:linear-gradient(90deg,#eff8fe 1px,#e9f5fd 71px,#def1fb 79px,#cce8f9 82px,#bbdff6 83px,#9fd0f1 84px,#64aee5 85px,#3c86d4 86px,#2d5bbc 87px,#2841a6 88px,#283ea3 89px,#2b51b6 90px,#357acf 91px,#54a1e0 92px,#8cc6ee 93px,#aed7f4 94px,#c0e1f7 95px,#cfe9f9 97px,#cee9f9 101px,#bbdff6 104px,#96ccf0 107px,#68b1e6 109px,#54a1e0 111px,#54a1e0 113px,#69b2e7 115px,#99cef1 117px,#c3e3f7 120px,#dcf0fb 124px,#ebf6fd 131px,#eff8fe 212px)"></div>
<div style="background-image:linear-gradient(90deg,#eff8fe 1px,#eaf6fd 71px,#def1fc 79px,#cde9f9 82px,#bee0f6 83px,#a4d2f2 84px,#6cb3e7 85px,#3f8bd7 86px,#2e60bf 87px,#2942a7 88px,#283ca1 89px,#2a4cb2 90px,#3274cc 91px,#4d9bde 92px,#82c1ec 93px,#aad5f3 94px,#bee0f6 95px,#cae7f8 96px,#d2ebf9 99px,#c8e6f8 103px,#abd6f3 106px,#8bc5ee 108px,#62ace5 110px,#53a1e0 112px,#59a5e2 114px,#63aee5 115px,#92caef 117px,#bfe1f6 120px,#d6edfa 123px,#e8f5fd 129px,#eff8fe 163px,#eff8fe 212px)"></div>
<div style="background-image:linear-gradient(90deg,#eff8fe 1px,#eaf6fd 71px,#dff1fc 79px,#cfe9f9 82px,#c1e2f7 83px,#a8d4f3 84px,#74b8e9 85px,#4290d9 86px,#2f65c2 87px,#2944a9 88px,#283b9f 89px,#2948ae 90px,#306cc7 91px,#4695dc 92px,#79bbea 93px,#a6d3f2 94px,#bbdff6 95px,#c9e6f8 96px,#d2ebf9 99px,#cae7f8 103px,#b1d9f4 106px,#96ccf0 108px,#69b2e7 110px,#56a3e1 112px,#57a4e1 114px,#60abe4 115px,#70b6e8 116px,#9dcff1 118px,#c6e5f8 121px,#ddf0fb 125px,#ebf6fd 132px,#eff8fe 212px)"></div>
<div style="background-image:linear-gradient(90deg,#eff8fe 1px,#eaf6fd 71px,#dff1fc 79px,#d0eaf9 82px,#c3e3f7 83px,#abd6f3 84px,#7dbdeb 85px,#4595dc 86px,#306ac5 87px,#2946ab 88px,#283a9e 89px,#2944a9 90px,#2f65c3 91px,#428fd9 92px,#6fb5e8 93px,#a2d1f2 94px,#b9ddf5 95px,#c7e6f8 96px,#d3ebfa 99px,#cce8f9 103px,#b6dbf5 106px,#9dcff1 108px,#63ade5 111px,#56a3e1 113px,#5da9e3 115px,#69b2e7 116px,#98cdf0 118px,#c1e2f7 121px,#d7eefa 124px,#e9f5fd 130px,#eff8fe 169px,#eff8fe 212px)"></div>
<div style="background-image:linear-gradient(90deg,#eff8fe 1px,#eaf6fd 71px,#dcf0fb 80px,#d1eaf9 82px,#c5e4f8 83px,#afd8f4 84px,#85c2ed 85px,#4b9add 86px,#316fc9 87px,#2948ae 88px,#27399e 89px,#2840a6 90px,#2d5fbe 91px,#3e89d6 92px,#65afe6 93px,#9dcff1 94px,#b6dcf5 95px,#c6e5f8 96px,#d1ebf9 98px,#d1eaf9 102px,#c4e3f7 105px,#a4d2f2 108px,#96ccf0 109px,#6ab2e7 111px,#58a5e2 113px,#5ba7e3 115px,#64aee5 116px,#a1d1f2 119px,#c8e6f8 122px,#def1fb 126px,#ebf6fd 133px,#eff8fe 212px)"></div>
<div style="background-image:linear-gradient(90deg,#eff8fe 1px,#eaf6fd 71px,#ddf0fb 80px,#d2ebf9 82px,#c7e6f8 83px,#b2d9f4 84px,#8dc7ee 85px,#519fdf 86px,#3275cc 87px,#2a4bb1 88px,#27399e 89px,#283da2 90px,#2c58ba 91px,#3a83d3 92px,#5eaae4 93px,#98cdf0 94px,#b4daf5 95px,#c4e4f7 96px,#d1ebf9 98px,#d2ebf9 102px,#c7e6f8 105px,#aad5f3 108px,#8ac5ee 110px,#64aee5 112px,#58a5e2 114px,#61ace4 116px,#70b6e8 117px,#9ccff1 119px,#c4e4f7 122px,#dcf0fb 126px,#ebf6fd 133px,#eff8fe 212px)"></div>
<div style="background-image:linear-gradient(90deg,#eff8fe 1px,#eaf6fd 71px,#ddf0fb 80px,#c9e6f8 83px,#b5dbf5 84px,#95cbf0 85px,#56a3e1 86px,#347acf 87px,#2a4eb4 88px,#27399e 89px,#283a9f 90px,#2b52b6 91px,#367dd0 92px,#57a4e1 93px,#92c9ef 94px,#b1d8f4 95px,#c2e2f7 96px,#d1eaf9 98px,#d3ecfa 102px,#c3e3f7 106px,#a3d2f2 109px,#95ccf0 110px,#6cb3e7 112px,#60abe4 113px,#5aa6e2 115px,#69b2e7 117px,#96ccf0 119px,#bfe1f7 122px,#d6edfa 125px,#e8f5fd 131px,#eff8fe 165px,#eff8fe 212px)"></div>
<div style="background-image:linear-gradient(90deg,#eff8fe 1px,#eaf6fd 71px,#ddf0fb 80px,#cae7f8 83px,#b8ddf5 84px,#9acef1 85px,#5ca8e3 86px,#377ed1 87px,#2b52b7 88px,#283a9f 89px,#27389d 90px,#2a4cb2 91px,#3377cd 92px,#509fdf 93px,#88c4ed 94px,#add7f4 95px,#c0e1f7 96px,#d0eaf9 98px,#d4ecfa 102px,#c7e6f8 106px,#aad5f3 109px,#8ac5ee 111px,#65afe6 113px,#5ba7e3 115px,#65afe6 117px,#9fd0f1 120px,#c6e5f8 123px,#ddf0fb 127px,#ebf6fd 134px,#eff8fe 212px)"></div>
<div style="background-image:linear-gradient(90deg,#eff8fe 1px,#eaf6fd 71px,#def0fb 80px,#cbe8f8 83px,#badef6 84px,#9ed0f1 85px,#62ace5 86px,#3a83d3 87px,#2c56b9 88px,#283ba0 89px,#27369b 90px,#2948ad 91px,#316fc9 92px,#4999dd 93px,#7fbfeb 94px,#a9d5f3 95px,#bee0f6 96px,#cae7f8 97px,#d5edfa 100px,#cee9f9 105px,#badef6 108px,#95ccf0 111px,#6db4e7 113px,#62ace5 114px,#5da9e3 116px,#63ade5 117px,#70b6e8 118px,#9acef1 120px,#c2e3f7 123px,#dcf0fb 127px,#ebf6fd 134px,#eff8fe 212px)"></div>
<div style="background-image:linear-gradient(90deg,#eff8fe 1px,#e9f5fd 72px,#def1fb 80px,#cde8f9 83px,#bddff6 84px,#a2d1f2 85px,#68b1e6 86px,#3d88d5 87px,#2d5bbc 88px,#283ca1 89px,#273599 90px,#2943a9 91px,#2f68c4 92px,#4493db 93px,#76b9e9 94px,#a5d3f2 95px,#bbdff6 96px,#c9e6f8 97px,#d5edfa 100px,#d0eaf9 105px,#bfe0f6 108px,#9ccff1 111px,#67b0e6 114px,#5ea9e3 116px,#61ace4 117px,#6bb3e7 118px,#94cbf0 120px,#bee0f6 123px,#cfeaf9 125px,#e6f4fd 131px,#eef7fe 147px,#eff8fe 212px)"></div>
<div style="background-image:linear-gradient(90deg,#eff8fe 1px,#e9f5fd 72px,#def1fc 80px,#cee9f9 83px,#bfe1f7 84px,#a6d3f2 85px,#70b6e8 86px,#408dd8 87px,#2e60bf 88px,#283ea3 89px,#273398 90px,#283fa4 91px,#2e61c0 92px,#408dd8 93px,#6cb3e7 94px,#a0d1f2 95px,#b9ddf5 96px,#c8e6f8 97px,#d5edfa 100px,#d2ebf9 105px,#c3e3f7 108px,#a3d2f2 111px,#95ccf0 112px,#6fb5e8 114px,#63aee5 115px,#60ace4 117px,#67b0e6 118px,#add6f3 122px,#cde8f9 125px,#e3f3fc 130px,#edf7fd 139px,#eff8fe 212px)"></div>
<div style="background-image:linear-gradient(90deg,#eff8fe 1px,#e9f5fd 72px,#dff1fc 80px,#cfe9f9 83px,#c1e2f7 84px,#a9d5f3 85px,#78bbea 86px,#4392da 87px,#2f65c2 88px,#2840a5 89px,#273397 90px,#283ca1 91px,#2c5abc 92px,#3c87d5 93px,#63aee5 94px,#9ccff1 95px,#b6dbf5 96px,#c6e5f8 97px,#d5edfa 100px,#d3ecfa 105px,#c7e5f8 108px,#a9d5f3 111px,#8bc6ee 113px,#69b2e7 115px,#61ace4 117px,#65afe6 118px,#71b6e8 119px,#99cdf0 121px,#c0e1f7 124px,#d6edfa 127px,#e8f5fd 133px,#eff8fe 166px,#eff8fe 212px)"></div>
<div style="background-image:linear-gradient(90deg,#eff8fe 1px,#eaf6fd 72px,#dff1fc 80px,#d0eaf9 83px,#c3e3f7 84px,#add6f3 85px,#80bfeb 86px,#4796dc 87px,#306ac5 88px,#2943a8 89px,#273296 90px,#27389d 91px,#2b54b8 92px,#3981d2 93px,#5da8e3 94px,#97cdf0 95px,#b3daf5 96px,#c4e4f7 97px,#d2ebf9 99px,#d6edfa 104px,#cae7f8 108px,#afd8f4 111px,#96ccf0 113px,#70b6e8 115px,#65afe6 116px,#64aee5 118px,#6db4e7 119px,#a2d1f2 122px,#c7e5f8 125px,#ddf0fb 129px,#ebf6fd 136px,#eff8fe 212px)"></div>
<div style="background-image:linear-gradient(90deg,#eff8fe 1px,#eaf6fd 72px,#dcf0fb 81px,#d1eaf9 83px,#c5e4f8 84px,#b0d8f4 85px,#87c4ed 86px,#4c9bde 87px,#316fc9 88px,#2945ab 89px,#273296 90px,#27359a 91px,#2a4eb4 92px,#357bcf 93px,#56a3e1 94px,#90c9ef 95px,#b0d8f4 96px,#c2e2f7 97px,#d1ebf9 99px,#d7edfa 104px,#c7e5f8 109px,#9ccff1 113px,#6bb3e7 116px,#64afe5 117px,#64aee5 118px,#6ab2e7 119px,#8bc5ee 121px,#abd6f3 123px,#cce8f9 126px,#e2f2fc 131px,#ecf7fd 139px,#eff8fe 212px)"></div>
<div style="background-image:linear-gradient(90deg,#eff8fe 1px,#eaf6fd 72px,#dcf0fb 81px,#d1ebf9 83px,#c7e6f8 84px,#b3daf4 85px,#8fc8ef 86px,#519fe0 87px,#3275cc 88px,#2948ae 89px,#273297 90px,#273397 91px,#2949af 92px,#3274cc 93px,#4f9edf 94px,#87c3ed 95px,#add6f3 96px,#c0e1f7 97px,#d1eaf9 99px,#d8eefa 103px,#cee9f9 108px,#b9ddf6 111px,#96ccf0 114px,#72b7e9 116px,#68b1e6 117px,#65afe6 118px,#68b1e6 119px,#73b7e9 120px,#98cdf0 122px,#c9e6f8 126px,#e1f2fc 131px,#ecf6fd 138px,#eff8fe 212px)"></div>
<div style="background-image:linear-gradient(90deg,#eff8fe 1px,#eaf6fd 72px,#ddf0fb 81px,#c9e6f8 84px,#b5dbf5 85px,#96ccf0 86px,#57a4e1 87px,#3479cf 88px,#2a4bb1 89px,#273397 90px,#263195 91px,#2944aa 92px,#306dc8 93px,#4998dd 94px,#7ebeeb 95px,#a9d5f3 96px,#bee0f6 97px,#cae7f8 98px,#d7edfa 101px,#d6edfa 106px,#c6e5f8 110px,#9ccff1 114px,#6eb5e8 117px,#67b1e6 118px,#68b1e6 119px,#6fb5e8 120px,#aed7f4 124px,#cde9f9 127px,#e3f3fc 132px,#edf7fd 141px,#eff8fe 212px)"></div>
<div style="background-image:linear-gradient(90deg,#eff8fe 1px,#eaf6fd 72px,#ddf0fb 81px,#cae7f8 84px,#b8dcf5 85px,#9acef1 86px,#5ca8e3 87px,#377ed1 88px,#2a4fb4 89px,#273498 90px,#262f93 91px,#2840a5 92px,#2f66c3 93px,#4492da 94px,#75b9e9 95px,#a5d3f2 96px,#bbdff6 97px,#c9e7f8 98px,#d6edfa 101px,#d5ecfa 107px,#c2e3f7 111px,#96ccf0 115px,#75b9e9 117px,#6bb3e7 118px,#69b1e7 119px,#6db4e7 120px,#8ac5ee 122px,#b6dbf5 125px,#d1eaf9 128px,#e7f4fd 134px,#eef7fe 151px,#eff8fe 212px)"></div>
<div style="background-image:linear-gradient(90deg,#eff8fe 1px,#eaf6fd 72px,#ddf0fb 81px,#cbe8f8 84px,#badef6 85px,#9ecff1 86px,#61ace5 87px,#3a82d3 88px,#2b53b7 89px,#27359a 90px,#262d91 91px,#283ca1 92px,#2d5fbf 93px,#408cd7 94px,#6cb3e7 95px,#a1d1f2 96px,#b9ddf5 97px,#c8e6f8 98px,#d6edfa 101px,#d6edfa 107px,#c6e5f8 111px,#9ccff1 115px,#71b6e8 118px,#6bb3e7 119px,#6cb4e7 120px,#75b9e9 121px,#a4d2f2 124px,#c7e6f8 127px,#ddf0fb 131px,#ebf6fd 138px,#eff8fe 212px)"></div>
<div style="background-image:linear-gradient(90deg,#eff8fe 1px,#eaf6fd 72px,#def0fb 81px,#cce8f9 84px,#bcdff6 85px,#a1d1f2 86px,#67b0e6 87px,#3c87d5 88px,#2c57ba 89px,#27379c 90px,#262c90 91px,#27389d 92px,#2c59bb 93px,#3c86d5 94px,#64aee5 95px,#9ccff1 96px,#b6dcf5 97px,#c6e5f8 98px,#d6edfa 101px,#d7edfa 107px,#c9e7f8 111px,#a3d2f2 115px,#77baea 118px,#6fb5e8 119px,#6db4e7 120px,#72b7e9 121px,#b8ddf5 126px,#d2ebf9 129px,#e7f5fd 135px,#eef7fe 154px,#eff8fe 212px)"></div>
<div style="background-image:linear-gradient(90deg,#eff8fe 1px,#eaf6fd 72px,#def1fb 81px,#cde9f9 84px,#bee0f6 85px,#a5d3f2 86px,#6eb5e8 87px,#3f8bd7 88px,#2d5cbd 89px,#27399e 90px,#252c8f 91px,#273499 92px,#2b52b7 93px,#3981d2 94px,#5da9e3 95px,#98cdf0 96px,#b3daf5 97px,#c4e4f7 98px,#d2ebf9 100px,#d9eefb 105px,#d0eaf9 110px,#bde0f6 113px,#8fc8ee 117px,#73b8e9 119px,#6fb5e8 120px,#71b7e8 121px,#7bbcea 122px,#a7d4f3 125px,#c9e7f8 128px,#e1f2fc 133px,#ecf6fd 140px,#eff8fe 212px)"></div>
<div style="background-image:linear-gradient(90deg,#eff8fe 1px,#eaf6fd 72px,#def1fb 81px,#cee9f9 84px,#c0e1f7 85px,#a8d4f3 86px,#75b9e9 87px,#4290d9 88px,#2e61c0 89px,#283ba0 90px,#252c8e 91px,#273195 92px,#2a4cb2 93px,#357bcf 94px,#57a4e1 95px,#91c9ef 96px,#b1d8f4 97px,#c2e3f7 98px,#d2ebf9 100px,#daeffb 105px,#d2ebf9 110px,#c2e2f7 113px,#97cdf0 117px,#7abbea 119px,#72b7e9 120px,#71b7e8 121px,#78baea 122px,#b0d8f4 126px,#cde9f9 129px,#e3f3fc 134px,#edf7fd 143px,#eff8fe 212px)"></div>
<div style="background-image:linear-gradient(90deg,#eff8fe 1px,#e9f5fd 73px,#def1fc 81px,#cfe9f9 84px,#c2e3f7 85px,#abd6f3 86px,#7dbdeb 87px,#4594db 88px,#2f66c3 89px,#283da2 90px,#252c8e 91px,#262e92 92px,#2947ad 93px,#3275cc 94px,#509edf 95px,#89c4ed 96px,#add7f4 97px,#c0e1f7 98px,#d1ebf9 100px,#daeffb 105px,#d3ecfa 110px,#c6e5f8 113px,#9dcff1 117px,#77bae9 120px,#73b8e9 121px,#76bae9 122px,#90c9ef 124px,#c2e2f7 128px,#dbeffb 132px,#ebf6fd 139px,#eff8fe 212px)"></div>
<div style="background-image:linear-gradient(90deg,#eff8fe 1px,#e9f5fd 73px,#dbeffb 82px,#d0eaf9 84px,#c4e4f7 85px,#aed7f4 86px,#84c1ec 87px,#4998dd 88px,#306bc6 89px,#2840a5 90px,#252c8e 91px,#262c8f 92px,#2943a8 93px,#306ec8 94px,#4a99dd 95px,#80bfeb 96px,#a9d5f3 97px,#bee0f6 98px,#cae7f8 99px,#d7eefa 102px,#d7eefa 109px,#c9e7f8 113px,#98cdf0 118px,#7cbdeb 120px,#76b9e9 121px,#76b9e9 122px,#7dbeeb 123px,#b3daf4 127px,#cfe9f9 130px,#e6f4fd 136px,#eef7fd 150px,#eff8fe 212px)"></div>
<div style="background-image:linear-gradient(90deg,#eff8fe 1px,#e9f5fd 73px,#dcf0fb 82px,#d1eaf9 84px,#c6e5f8 85px,#b1d9f4 86px,#8ac5ee 87px,#4e9ddf 88px,#3170c9 89px,#2943a8 90px,#252c8f 91px,#252b8c 92px,#283ea3 93px,#2f67c3 94px,#4594db 95px,#78baea 96px,#a6d3f2 97px,#bcdff6 98px,#c9e7f8 99px,#d7edfa 102px,#d8eefa 109px,#c6e5f8 114px,#91c9ef 119px,#7abcea 121px,#77baea 122px,#7bbcea 123px,#c4e4f7 129px,#dcf0fb 133px,#ebf6fd 140px,#eff8fe 212px)"></div>
<div style="background-image:linear-gradient(90deg,#eff8fe 1px,#e9f5fd 73px,#dcf0fb 82px,#d1ebf9 84px,#c7e6f8 85px,#b3daf5 86px,#91c9ef 87px,#53a1e0 88px,#3275cc 89px,#2946ab 90px,#262c90 91px,#242a8a 92px,#283a9f 93px,#2e60bf 94px,#418ed8 95px,#6fb5e8 96px,#a2d1f2 97px,#b9ddf6 98px,#c8e6f8 99px,#d7edfa 102px,#d9eefb 109px,#c9e6f8 114px,#99cdf0 119px,#7fbfeb 121px,#7abbea 122px,#7bbcea 123px,#83c1ec 124px,#c0e1f7 129px,#d6edfa 132px,#eaf6fd 139px,#eff8fe 196px,#eff8fe 212px)"></div>
<div style="background-image:linear-gradient(90deg,#eff8fe 1px,#e9f5fd 73px,#dcf0fb 82px,#c9e6f8 85px,#b5dbf5 86px,#97ccf0 87px,#58a4e2 88px,#3479cf 89px,#2949af 90px,#262d91 91px,#232988 92px,#27369a 93px,#2c59bb 94px,#3d88d6 95px,#66b0e6 96px,#9ed0f1 97px,#b7dcf5 98px,#c7e5f8 99px,#d6edfa 102px,#daeffb 109px,#cbe8f8 114px,#a9d5f3 118px,#7dbeeb 122px,#7cbdea 123px,#81c0ec 124px,#c6e5f8 130px,#e0f1fc 135px,#ecf6fd 142px,#eff8fe 212px)"></div>
<div style="background-image:linear-gradient(90deg,#eff8fe 1px,#eaf6fd 73px,#ddf0fb 82px,#cae7f8 85px,#b8dcf5 86px,#9acef1 87px,#5da8e3 88px,#377dd1 89px,#2a4cb2 90px,#262e92 91px,#232886 92px,#273296 93px,#2b53b7 94px,#3a83d3 95px,#60abe4 96px,#9acef1 97px,#b4dbf5 98px,#c5e4f7 99px,#d6edfa 102px,#daeffb 109px,#cee9f9 114px,#afd7f4 118px,#82c0ec 122px,#7ebeeb 123px,#80bfeb 124px,#cbe8f8 131px,#e1f2fc 136px,#ecf7fd 144px,#eff8fe 212px)"></div>
<div style="background-image:linear-gradient(90deg,#eff8fe 1px,#eaf6fd 73px,#ddf0fb 82px,#cbe7f8 85px,#badef6 86px,#9dcff1 87px,#61ace5 88px,#3982d2 89px,#2a50b5 90px,#263094 91px,#222784 92px,#262e93 93px,#2a4db3 94px,#367dd0 95px,#5aa6e2 96px,#95cbf0 97px,#b2d9f4 98px,#c3e3f7 99px,#d2ebf9 101px,#dbeffb 107px,#d3ecfa 113px,#c5e4f8 116px,#81c0ec 123px,#80bfeb 124px,#86c3ed 125px,#c8e6f8 131px,#e0f2fc 136px,#ecf6fd 143px,#eff8fe 212px)"></div>
<div style="background-image:linear-gradient(90deg,#eff8fe 1px,#eaf6fd 73px,#ddf0fb 82px,#cce8f9 85px,#bcdff6 86px,#a1d1f2 87px,#66b0e6 88px,#3c86d4 89px,#2b54b8 90px,#273296 91px,#222784 92px,#252c8f 93px,#2948ad 94px,#3377ce 95px,#54a1e0 96px,#8dc7ee 97px,#afd8f4 98px,#c1e2f7 99px,#d2ebf9 101px,#dbeffb 107px,#d5edfa 113px,#c1e2f7 117px,#85c2ed 123px,#82c0ec 124px,#85c2ec 125px,#cce8f9 132px,#e2f2fc 137px,#ecf7fd 145px,#eff8fe 212px)"></div>
<div style="background-image:linear-gradient(90deg,#eff8fe 1px,#eaf6fd 73px,#ddf0fb 82px,#cce8f9 85px,#bde0f6 86px,#a4d2f2 87px,#6db4e7 88px,#3e8ad6 89px,#2c59bb 90px,#273498 91px,#222783 92px,#242a8b 93px,#2943a8 94px,#3171ca 95px,#4e9cde 96px,#85c2ed 97px,#acd6f3 98px,#bfe1f7 99px,#d1eaf9 101px,#dbeffb 106px,#d6edfa 113px,#c5e4f8 117px,#85c2ec 124px,#85c2ec 125px,#a0d1f2 128px,#cae7f8 132px,#e1f2fc 137px,#ecf6fd 144px,#eff8fe 212px)"></div>
<div style="background-image:linear-gradient(90deg,#eff8fe 1px,#eaf6fd 73px,#def0fb 82px,#cde9f9 85px,#bfe1f7 86px,#a7d4f3 87px,#73b8e9 88px,#418ed8 89px,#2d5dbe 90px,#27369a 91px,#222783 92px,#232887 93px,#283ea3 94px,#306ac6 95px,#4797dc 96px,#7dbeeb 97px,#a8d4f3 98px,#bde0f6 99px,#cae7f8 100px,#d7eefa 103px,#dbeffb 111px,#cee9f9 116px,#afd8f4 120px,#89c4ed 124px,#86c3ed 125px,#8ac5ed 126px,#c7e5f8 132px,#e0f1fc 137px,#ecf6fd 144px,#eff8fe 212px)"></div>
<div style="background-image:linear-gradient(90deg,#eff8fe 1px,#eaf6fd 73px,#def1fb 82px,#cee9f9 85px,#c1e2f7 86px,#aad5f3 87px,#7abbea 88px,#4492da 89px,#2e62c0 90px,#27389d 91px,#222783 92px,#222784 93px,#283a9f 94px,#2e63c1 95px,#4392da 96px,#75b9e9 97px,#a4d3f2 98px,#bbdef6 99px,#c9e6f8 100px,#d7edfa 103px,#dbeffb 111px,#d0eaf9 116px,#bddff6 119px,#8ec7ee 124px,#88c4ed 125px,#89c5ed 126px,#cbe8f8 133px,#e1f2fc 138px,#ecf7fd 146px,#eff8fe 212px)"></div>
<div style="background-image:linear-gradient(90deg,#eff8fe 1px,#eaf6fd 73px,#def1fb 82px,#cfe9f9 85px,#c3e3f7 86px,#acd6f3 87px,#80bfeb 88px,#4696dc 89px,#2f67c3 90px,#283ba0 91px,#222783 92px,#212681 93px,#27369a 94px,#2d5dbd 95px,#408cd7 96px,#6db4e7 97px,#a1d1f2 98px,#b9ddf5 99px,#c8e6f8 100px,#d7edfa 103px,#dcf0fb 111px,#d2ebf9 116px,#c1e2f7 119px,#8cc6ee 125px,#8ac5ee 126px,#a0d1f2 129px,#c9e6f8 133px,#e0f2fc 138px,#ecf6fd 145px,#eff8fe 212px)"></div>
<div style="background-image:linear-gradient(90deg,#eff8fe 1px,#eaf6fd 73px,#def1fc 82px,#d0eaf9 85px,#c4e4f7 86px,#afd7f4 87px,#86c3ed 88px,#4b9add 89px,#306bc6 90px,#283da2 91px,#222784 92px,#21257f 93px,#273296 94px,#2c56b9 95px,#3d87d5 96px,#65afe6 97px,#9dcff1 98px,#b6dcf5 99px,#c6e5f8 100px,#d6edfa 103px,#dcf0fb 111px,#d0eaf9 117px,#bddff6 120px,#91c9ef 125px,#8cc6ee 126px,#8ec7ee 127px,#b2d9f4 131px,#cde8f9 134px,#e5f4fc 140px,#edf7fd 151px,#eff8fe 212px)"></div>
<div style="background-image:linear-gradient(90deg,#eff8fe 1px,#eaf6fd 73px,#def1fc 82px,#d0eaf9 85px,#c6e5f8 86px,#b1d9f4 87px,#8cc6ee 88px,#4f9ddf 89px,#3170c9 90px,#2840a5 91px,#232885 92px,#20247c 93px,#262e92 94px,#2a50b5 95px,#3982d2 96px,#5faae4 97px,#99cdf0 98px,#b4daf5 99px,#c4e4f7 100px,#d3ebfa 102px,#ddf0fb 109px,#d5edfa 116px,#c1e2f7 120px,#96ccf0 125px,#8ec8ee 127px,#a3d2f2 130px,#cae7f8 134px,#e1f2fc 139px,#ecf6fd 146px,#eff8fe 212px)"></div>
<div style="background-image:linear-gradient(90deg,#eff8fe 1px,#eaf6fd 73px,#dff1fc 82px,#d1eaf9 85px,#c7e5f8 86px,#b3daf5 87px,#92caef 88px,#54a1e0 89px,#3275cc 90px,#2943a9 91px,#232887 92px,#1f237b 93px,#252b8d 94px,#2a4bb1 95px,#367cd0 96px,#59a6e2 97px,#95cbf0 98px,#b1d9f4 99px,#c3e3f7 100px,#d2ebf9 102px,#dcf0fb 108px,#d7edfa 116px,#c5e4f7 120px,#94cbf0 126px,#90c9ef 127px,#a0d1f2 130px,#cee9f9 135px,#e5f4fd 141px,#eef7fd 153px,#eff8fe 212px)"></div>
<div style="background-image:linear-gradient(90deg,#eff8fe 1px,#eaf6fd 73px,#dff1fc 82px,#d2ebf9 85px,#c8e6f8 86px,#b5dbf5 87px,#97ccf0 88px,#58a5e2 89px,#3479ce 90px,#2946ac 91px,#242989 92px,#1f2279 93px,#242989 94px,#2946ab 95px,#3377cd 96px,#54a1e0 97px,#8dc7ee 98px,#afd7f4 99px,#c1e2f7 100px,#d1ebf9 102px,#dcf0fb 108px,#d8eefa 116px,#c9e6f8 120px,#98cdf0 126px,#93caef 128px,#a6d4f3 131px,#cce8f9 135px,#e4f3fc 141px,#edf7fd 151px,#eff8fe 212px)"></div>
<div style="background-image:linear-gradient(90deg,#eff8fe 1px,#eaf6fd 73px,#dcf0fb 83px,#c9e7f8 86px,#b7dcf5 87px,#9acef1 88px,#5ca8e3 89px,#367cd0 90px,#2949af 91px,#242a8b 92px,#1f2278 93px,#222784 94px,#2841a6 95px,#3171ca 96px,#4e9cde 97px,#86c3ed 98px,#acd6f3 99px,#bfe1f6 100px,#d1eaf9 102px,#dcf0fb 108px,#d9eefb 116px,#c5e4f7 121px,#9bcef1 126px,#94cbf0 128px,#a3d2f2 131px,#cfeaf9 136px,#e6f4fd 142px,#eef7fd 155px,#eff8fe 212px)"></div>
<div style="background-image:linear-gradient(90deg,#eff8fe 1px,#e9f5fd 74px,#dcf0fb 83px,#cae7f8 86px,#b9ddf5 87px,#9dcff1 88px,#60abe4 89px,#3880d2 90px,#2a4db3 91px,#252b8d 92px,#1f2177 93px,#212681 94px,#283ca1 95px,#306ac6 96px,#4898dd 97px,#7ebeeb 98px,#a8d4f3 99px,#bde0f6 100px,#cae7f8 101px,#d9eefb 105px,#dbeffb 115px,#cde9f9 120px,#99cef1 127px,#97ccf0 129px,#aad5f3 132px,#cde8f9 136px,#e5f4fc 142px,#edf7fd 153px,#eff8fe 212px)"></div>
<div style="background-image:linear-gradient(90deg,#eff8fe 1px,#e9f5fd 74px,#ddf0fb 83px,#cbe7f8 86px,#badef6 87px,#9fd0f1 88px,#64afe5 89px,#3b84d4 90px,#2a50b5 91px,#252c8f 92px,#1e2177 93px,#20247d 94px,#27389d 95px,#2e64c2 96px,#4493da 97px,#77bae9 98px,#a5d3f2 99px,#bbdef6 100px,#c9e6f8 101px,#d7edfa 104px,#ddf0fb 114px,#d0eaf9 120px,#b5dbf5 124px,#9dcff1 127px,#97cdf0 129px,#a6d4f3 132px,#d0eaf9 137px,#e6f4fd 143px,#eef7fe 157px,#eff8fe 212px)"></div>
<div style="background-image:linear-gradient(90deg,#eff8fe 1px,#e9f5fd 74px,#ddf0fb 83px,#cce8f9 86px,#bcdff6 87px,#a2d2f2 88px,#69b2e7 89px,#3d88d5 90px,#2b54b8 91px,#262e92 92px,#1e2177 93px,#1f227a 94px,#273498 95px,#2d5dbe 96px,#418ed8 97px,#6fb5e8 98px,#a2d1f2 99px,#b9ddf5 100px,#c8e6f8 101px,#d7edfa 104px,#ddf0fb 114px,#d2ebf9 120px,#c1e2f7 123px,#9bcef1 128px,#99cef1 130px,#add6f3 133px,#cee9f9 137px,#e5f4fd 143px,#edf7fd 154px,#eff8fe 212px)"></div>
<div style="background-image:linear-gradient(90deg,#eff8fe 1px,#e9f5fd 74px,#ddf0fb 83px,#cce8f9 86px,#bee0f6 87px,#a5d3f2 88px,#6fb5e8 89px,#3f8bd7 90px,#2c58bb 91px,#263094 92px,#1e2177 93px,#1e2177 94px,#263094 95px,#2c57ba 96px,#3e89d6 97px,#67b1e6 98px,#9ed0f1 99px,#b7dcf5 100px,#c6e5f8 101px,#d6edfa 104px,#ddf0fb 114px,#d3ecfa 120px,#bde0f6 124px,#9ed0f1 128px,#9acef1 130px,#a9d5f3 133px,#cce8f9 137px,#e4f3fc 143px,#edf7fd 153px,#eff8fe 212px)"></div>
<div style="background-image:linear-gradient(90deg,#eff8fe 1px,#e9f5fd 74px,#ddf0fb 83px,#cde9f9 86px,#bfe1f7 87px,#a7d4f3 88px,#75b9e9 89px,#428fd9 90px,#2d5dbd 91px,#273296 92px,#1e2177 93px,#1e2074 94px,#252c8f 95px,#2b51b6 96px,#3a83d3 97px,#61ace5 98px,#9bcef1 99px,#b5dbf5 100px,#c5e4f7 101px,#d6edfa 104px,#def1fb 114px,#d5edfa 120px,#c1e2f7 124px,#9dcff1 129px,#9ccff1 131px,#b0d8f4 134px,#cfeaf9 138px,#e6f4fd 144px,#eef7fd 156px,#eff8fe 212px)"></div>
<div style="background-image:linear-gradient(90deg,#eff8fe 1px,#e9f5fd 74px,#ddf0fb 83px,#cee9f9 86px,#c1e2f7 87px,#a9d5f3 88px,#7abcea 89px,#4492da 90px,#2e61c0 91px,#273499 92px,#1f2278 93px,#1d1f72 94px,#242a8a 95px,#2a4cb1 96px,#377ed1 97px,#5ca8e3 98px,#97ccf0 99px,#b2d9f4 100px,#c3e3f7 101px,#d2ebf9 103px,#ddf0fb 110px,#d9eefb 119px,#c5e4f8 124px,#a0d1f2 129px,#9ccff1 131px,#acd6f3 134px,#cde9f9 138px,#e5f4fc 144px,#edf7fd 154px,#eff8fe 212px)"></div>
<div style="background-image:linear-gradient(90deg,#eff8fe 1px,#e9f5fd 74px,#def0fb 83px,#cee9f9 86px,#c2e2f7 87px,#acd6f3 88px,#80bfeb 89px,#4696dc 90px,#2f65c2 91px,#27379b 92px,#1f2279 93px,#1c1e70 94px,#232886 95px,#2947ac 96px,#3479cf 97px,#57a4e1 98px,#91c9ef 99px,#b0d8f4 100px,#c1e2f7 101px,#d1ebf9 103px,#ddf0fb 109px,#daeffb 119px,#c9e6f8 124px,#9fd0f1 130px,#9ed0f1 132px,#bbdef6 136px,#d6edfa 140px,#eaf6fd 147px,#eff8fe 198px,#eff8fe 212px)"></div>
<div style="background-image:linear-gradient(90deg,#eff8fe 1px,#e9f5fd 74px,#def1fb 83px,#cfe9f9 86px,#c3e3f7 87px,#aed7f4 88px,#85c2ec 89px,#4a99dd 90px,#2f69c5 91px,#28399e 92px,#1f227a 93px,#1c1d6e 94px,#212681 95px,#2942a7 96px,#3274cc 97px,#519fe0 98px,#8ac5ee 99px,#add7f4 100px,#c0e1f7 101px,#d1eaf9 103px,#ddf0fb 109px,#dbeffb 119px,#cbe8f8 124px,#a1d1f2 130px,#9ed0f1 132px,#afd8f4 135px,#cfe9f9 139px,#e5f4fd 145px,#eef7fd 156px,#eff8fe 212px)"></div>
<div style="background-image:linear-gradient(90deg,#eff8fe 1px,#e9f5fd 74px,#def1fb 83px,#d0eaf9 86px,#c5e4f7 87px,#b0d8f4 88px,#8ac5ed 89px,#4e9cde 90px,#306dc8 91px,#283ca1 92px,#20237b 93px,#1b1c6c 94px,#20247d 95px,#283ea3 96px,#306ec8 97px,#4c9bde 98px,#83c1ec 99px,#aad5f3 100px,#bee0f6 101px,#cae7f8 102px,#d9eefb 106px,#ddf0fb 118px,#cde9f9 124px,#a1d1f2 131px,#a5d3f2 134px,#d2ebf9 140px,#e8f5fd 147px,#eff8fe 173px,#eff8fe 212px)"></div>
<div style="background-image:linear-gradient(90deg,#eff8fe 1px,#e9f5fd 74px,#def1fb 83px,#d0eaf9 86px,#c6e5f8 87px,#b2d9f4 88px,#8fc8ef 89px,#519fe0 90px,#3171ca 91px,#283fa4 92px,#20247d 93px,#1b1c6b 94px,#1f2279 95px,#27399e 96px,#2f68c4 97px,#4796dc 98px,#7cbdeb 99px,#a7d4f3 100px,#bcdff6 101px,#c9e7f8 102px,#d9eefb 106px,#ddf0fb 118px,#d0eaf9 124px,#afd8f4 129px,#a1d1f2 132px,#aad5f3 135px,#d0eaf9 140px,#e6f4fd 146px,#eef7fd 158px,#eff8fe 212px)"></div>
<div style="background-image:linear-gradient(90deg,#eff8fe 1px,#eaf6fd 74px,#def1fc 83px,#d1eaf9 86px,#c7e5f8 87px,#b3daf5 88px,#94cbef 89px,#55a2e1 90px,#3275cd 91px,#2842a7 92px,#21257f 93px,#1b1b6a 94px,#1e2075 95px,#273599 96px,#2e62c0 97px,#4392da 98px,#75b9e9 99px,#a4d3f2 100px,#badef6 101px,#c8e6f8 102px,#d7edfa 105px,#dff1fc 116px,#d5edfa 123px,#c2e2f7 127px,#a2d2f2 132px,#a8d4f3 135px,#d3ebfa 141px,#e9f5fd 148px,#eff8fe 178px,#eff8fe 212px)"></div>
<div style="background-image:linear-gradient(90deg,#eff8fe 1px,#eaf6fd 74px,#dcf0fb 84px,#c8e6f8 87px,#b5dbf5 88px,#97cdf0 89px,#59a5e2 90px,#3479ce 91px,#2944aa 92px,#212681 93px,#1b1b6a 94px,#1d1f72 95px,#263195 96px,#2d5cbd 97px,#408dd8 98px,#6eb5e8 99px,#a1d1f2 100px,#b8ddf5 101px,#c7e6f8 102px,#d6edfa 105px,#dff1fc 116px,#d7edfa 123px,#c6e5f8 127px,#a5d3f2 132px,#a7d4f3 135px,#d6edfa 142px,#eaf6fd 149px,#eff8fe 198px,#eff8fe 212px)"></div>
<div style="background-image:linear-gradient(90deg,#eff8fe 1px,#eaf6fd 74px,#dcf0fb 84px,#c9e6f8 87px,#b7dcf5 88px,#9acef1 89px,#5ca8e3 90px,#367cd0 91px,#2947ad 92px,#222683 93px,#1a1b69 94px,#1c1d6e 95px,#262d90 96px,#2c56b9 97px,#3d88d6 98px,#67b1e6 99px,#9ed0f1 100px,#b6dcf5 101px,#c6e5f8 102px,#d6edfa 105px,#dff1fc 116px,#d8eefa 123px,#c2e3f7 128px,#a4d3f2 133px,#abd6f3 136px,#d4ecfa 142px,#e9f5fd 149px,#eff8fe 184px,#eff8fe 212px)"></div>
<div style="background-image:linear-gradient(90deg,#eff8fe 1px,#eaf6fd 74px,#dcf0fb 84px,#c9e7f8 87px,#b8ddf5 88px,#9ccff1 89px,#60abe4 90px,#387fd1 91px,#2a4ab0 92px,#222785 93px,#1a1b69 94px,#1b1c6b 95px,#242a8b 96px,#2a50b5 97px,#3b84d3 98px,#62ade5 99px,#9bcef1 100px,#b4dbf5 101px,#c4e4f7 102px,#d6edfa 105px,#dff1fc 116px,#d7edfa 124px,#c6e5f8 128px,#a7d4f3 133px,#aad5f3 136px,#d2ebf9 142px,#e8f5fd 149px,#eff8fe 174px,#eff8fe 212px)"></div>
<div style="background-image:linear-gradient(90deg,#eff8fe 1px,#eaf6fd 74px,#dcf0fb 84px,#cae7f8 87px,#b9ddf6 88px,#9ed0f1 89px,#63aee5 90px,#3a83d3 91px,#2a4db3 92px,#232987 93px,#1a1b69 94px,#1a1b69 95px,#232886 96px,#2a4bb1 97px,#387fd1 98px,#5da9e3 99px,#97cdf0 100px,#b2d9f4 101px,#c3e3f7 102px,#d2ebf9 104px,#ddf0fb 111px,#dcf0fb 122px,#c9e7f8 128px,#a9d5f3 133px,#a9d5f3 136px,#d5edfa 143px,#e9f5fd 150px,#eff8fe 190px,#eff8fe 212px)"></div>
<div style="background-image:linear-gradient(90deg,#eff8fe 1px,#eaf6fd 74px,#dcf0fb 84px,#cbe7f8 87px,#bbdef6 88px,#a0d1f2 89px,#67b0e6 90px,#3c86d4 91px,#2a50b5 92px,#242a8a 93px,#1a1b69 94px,#1a1966 95px,#212681 96px,#2946ac 97px,#357acf 98px,#58a5e2 99px,#92caef 100px,#b0d8f4 101px,#c1e2f7 102px,#d1ebf9 104px,#ddf0fb 111px,#ddf0fb 122px,#cce8f9 128px,#a9d5f3 134px,#acd6f3 137px,#d3ecfa 143px,#e9f5fd 150px,#eff8fe 179px,#eff8fe 212px)"></div>
<div style="background-image:linear-gradient(90deg,#eff8fe 1px,#eaf6fd 74px,#dcf0fb 84px,#cbe8f8 87px,#bcdff6 88px,#a3d2f2 89px,#6bb3e7 90px,#3e89d6 91px,#2b54b8 92px,#252b8c 93px,#1b1b69 94px,#191864 95px,#20247d 96px,#2942a7 97px,#3275cd 98px,#53a1e0 99px,#8cc6ee 100px,#aed7f4 101px,#c0e1f7 102px,#d1eaf9 104px,#ddf0fb 110px,#ddf0fb 122px,#cee9f9 128px,#abd6f3 134px,#abd6f3 137px,#d6edfa 144px,#eaf6fd 151px,#eff8fe 197px,#eff8fe 212px)"></div>
<div style="background-image:linear-gradient(90deg,#eff8fe 1px,#eaf6fd 74px,#ddf0fb 84px,#cce8f9 87px,#bde0f6 88px,#a5d3f2 89px,#70b6e8 90px,#408cd7 91px,#2c57ba 92px,#252c8f 93px,#1b1b6a 94px,#181862 95px,#1f2278 96px,#283ea3 97px,#3170c9 98px,#4e9ddf 99px,#86c3ed 100px,#abd6f3 101px,#bee0f6 102px,#d0eaf9 104px,#ddf0fb 110px,#ddf0fb 123px,#cce8f9 129px,#aad5f3 135px,#afd8f4 138px,#d4ecfa 144px,#e9f5fd 151px,#eff8fe 184px,#eff8fe 212px)"></div>
<div style="background-image:linear-gradient(90deg,#eff8fe 1px,#eaf6fd 74px,#ddf0fb 84px,#cce8f9 87px,#bee0f6 88px,#a7d4f3 89px,#75b9e9 90px,#418fd9 91px,#2d5bbc 92px,#262e92 93px,#1b1c6b 94px,#181760 95px,#1e2074 96px,#27399e 97px,#306ac6 98px,#4999dd 99px,#80bfeb 100px,#a8d4f3 101px,#bddff6 102px,#c9e7f8 103px,#d9eefb 107px,#dff1fc 121px,#d2ebf9 128px,#add7f4 135px,#aed7f4 138px,#d7edfa 145px,#eaf6fd 152px,#eff8fe 206px,#eff8fe 212px)"></div>
<div style="background-image:linear-gradient(90deg,#eff8fe 1px,#eaf6fd 74px,#ddf0fb 84px,#cde8f9 87px,#c0e1f7 88px,#a9d5f3 89px,#79bbea 90px,#4392da 91px,#2d5fbe 92px,#263094 93px,#1b1c6c 94px,#17165e 95px,#1c1e70 96px,#27359a 97px,#2f65c2 98px,#4595db 99px,#79bbea 100px,#a6d3f2 101px,#bbdef6 102px,#c9e6f8 103px,#d9eefa 107px,#dff1fc 121px,#d4ecfa 128px,#badef6 133px,#acd6f3 136px,#b1d9f4 139px,#d9effb 146px,#ebf6fd 153px,#eff8fe 212px)"></div>
<div style="background-image:linear-gradient(90deg,#eff8fe 1px,#eaf6fd 74px,#ddf0fb 84px,#cee9f9 87px,#c1e2f7 88px,#aad5f3 89px,#7dbeeb 90px,#4594db 91px,#2e62c1 92px,#273296 93px,#1c1d6d 94px,#17155d 95px,#1b1c6c 96px,#263195 97px,#2d5fbf 98px,#4290d9 99px,#73b7e9 100px,#a3d2f2 101px,#b9ddf6 102px,#c8e6f8 103px,#d6edfa 106px,#e0f1fc 118px,#d8eefa 127px,#c4e4f7 132px,#afd7f4 136px,#b0d8f4 139px,#d8eefa 146px,#eaf6fd 153px,#eff8fe 212px)"></div>
<div style="background-image:linear-gradient(90deg,#eff8fe 1px,#eaf6fd 74px,#ddf0fb 84px,#cee9f9 87px,#c2e2f7 88px,#acd6f3 89px,#82c0ec 90px,#4797dc 91px,#2f66c3 92px,#273499 93px,#1c1d6e 94px,#17155c 95px,#1a1b69 96px,#262d91 97px,#2c59bb 98px,#408cd7 99px,#6cb4e7 100px,#a0d1f2 101px,#b7dcf5 102px,#c6e5f8 103px,#d6edfa 106px,#e0f1fc 118px,#d9effb 127px,#c1e2f7 133px,#aed7f4 137px,#b4daf5 140px,#daeffb 147px,#ebf6fd 154px,#eff8fe 212px)"></div>
<div style="background-image:linear-gradient(90deg,#eff8fe 1px,#eaf6fd 74px,#ddf0fb 84px,#cee9f9 87px,#c3e3f7 88px,#aed7f4 89px,#86c2ed 90px,#4b9add 91px,#2f69c5 92px,#27379b 93px,#1c1e70 94px,#16145b 95px,#191965 96px,#242b8c 97px,#2b54b8 98px,#3d88d5 99px,#66b0e6 100px,#9dcff1 101px,#b6dbf5 102px,#c5e4f8 103px,#d6edfa 106px,#e0f1fc 118px,#dbeffb 127px,#c5e4f7 133px,#b0d8f4 137px,#b3d9f4 140px,#d9eefa 147px,#eaf6fd 154px,#eff8fe 212px)"></div>
<div style="background-image:linear-gradient(90deg,#eff8fe 1px,#eaf6fd 74px,#ddf0fb 84px,#cfe9f9 87px,#c4e3f7 88px,#b0d8f4 89px,#8ac5ed 90px,#4e9cde 91px,#306cc7 92px,#27399e 93px,#1d1e71 94px,#16145a 95px,#181862 96px,#232887 97px,#2a4fb4 98px,#3a83d3 99px,#61ace5 100px,#9acef1 101px,#b4daf5 102px,#c4e4f7 103px,#d2ebf9 105px,#ddf0fb 112px,#ddf0fb 126px,#cce8f9 132px,#b3d9f4 137px,#b2d9f4 140px,#dbeffb 148px,#ebf6fd 155px,#eff8fe 212px)"></div>
<div style="background-image:linear-gradient(90deg,#eff8fe 1px,#eaf6fd 74px,#def0fb 84px,#cfeaf9 87px,#c5e4f7 88px,#b1d9f4 89px,#8dc7ee 90px,#519fdf 91px,#3170c9 92px,#283ba0 93px,#1d1f73 94px,#161459 95px,#18165f 96px,#222682 97px,#2a4ab0 98px,#387fd1 99px,#5da9e3 100px,#97cdf0 101px,#b2d9f4 102px,#c2e3f7 103px,#d1ebf9 105px,#ddf0fb 112px,#def0fb 126px,#cee9f9 132px,#b2d9f4 138px,#b5dbf5 141px,#ddf0fb 149px,#ebf6fd 156px,#eff8fe 212px)"></div>
<div style="background-image:linear-gradient(90deg,#eff8fe 1px,#eaf6fd 74px,#def0fb 84px,#d0eaf9 87px,#c6e5f8 88px,#b2d9f4 89px,#91c9ef 90px,#53a1e0 91px,#3173cb 92px,#283ea3 93px,#1e2074 94px,#161459 95px,#17155c 96px,#20247d 97px,#2946ab 98px,#357bcf 99px,#59a5e2 100px,#93caef 101px,#b0d8f4 102px,#c1e2f7 103px,#d1ebf9 105px,#ddf0fb 112px,#ddf0fb 127px,#c8e6f8 134px,#b4daf5 138px,#b4daf5 141px,#dcf0fb 149px,#ebf6fd 156px,#eff8fe 212px)"></div>
<div style="background-image:linear-gradient(90deg,#eff8fe 1px,#eaf6fd 74px,#def1fb 84px,#d0eaf9 87px,#c6e5f8 88px,#b3daf5 89px,#95cbf0 90px,#56a3e1 91px,#3276cd 92px,#2840a5 93px,#1e2176 94px,#161459 95px,#16145a 96px,#1f2279 97px,#2942a7 98px,#3277cd 99px,#54a2e0 100px,#8dc7ee 101px,#aed7f4 102px,#c0e1f7 103px,#d1eaf9 105px,#ddf0fb 111px,#def1fb 127px,#cfe9f9 133px,#b4daf5 139px,#b7dcf5 142px,#def0fb 150px,#ecf6fd 157px,#eff8fe 212px)"></div>
<div style="background-image:linear-gradient(90deg,#eff8fe 1px,#eaf6fd 74px,#def1fb 84px,#d1eaf9 87px,#c7e6f8 88px,#b5dbf5 89px,#97cdf0 90px,#59a5e2 91px,#3479ce 92px,#2942a8 93px,#1f2278 94px,#161458 95px,#151357 96px,#1e2074 97px,#283ea3 98px,#3172ca 99px,#509edf 100px,#88c4ed 101px,#acd6f3 102px,#bee0f6 103px,#d0eaf9 105px,#dcf0fb 111px,#def1fc 127px,#cde8f9 134px,#b5dbf5 139px,#b6dcf5 142px,#dcf0fb 150px,#ebf6fd 157px,#eff8fe 212px)"></div>
<div style="background-image:linear-gradient(90deg,#eff8fe 1px,#e9f5fd 75px,#dbeffb 85px,#c8e6f8 88px,#b6dbf5 89px,#99cdf0 90px,#5ca8e3 91px,#357bcf 92px,#2945aa 93px,#1f237a 94px,#161458 95px,#151354 96px,#1c1e70 97px,#28399e 98px,#306cc7 99px,#4b9ade 100px,#82c0ec 101px,#a9d5f3 102px,#bddff6 103px,#c9e7f8 104px,#d9eefb 108px,#e0f2fc 124px,#d6edfa 132px,#b5dbf5 140px,#b9ddf5 143px,#def1fc 151px,#ecf6fd 158px,#eff8fe 212px)"></div>
<div style="background-image:linear-gradient(90deg,#eff8fe 1px,#e9f5fd 75px,#dbeffb 85px,#c9e6f8 88px,#b7dcf5 89px,#9bcef1 90px,#5eaae4 91px,#377ed1 92px,#2947ad 93px,#20237c 94px,#161459 95px,#141252 96px,#1b1c6c 97px,#27359a 98px,#2f67c4 99px,#4797dc 100px,#7cbdeb 101px,#a7d4f3 102px,#bbdff6 103px,#c9e6f8 104px,#d9eefa 108px,#e0f2fc 124px,#d7eefa 132px,#b5dbf5 141px,#bcdff6 144px,#ddf0fb 151px,#ebf6fd 158px,#eff8fe 212px)"></div>
<div style="background-image:linear-gradient(90deg,#eff8fe 1px,#e9f5fd 75px,#dbeffb 85px,#c9e7f8 88px,#b8ddf5 89px,#9ccff1 90px,#61ace4 91px,#3880d2 92px,#2949af 93px,#21247e 94px,#161459 95px,#141250 96px,#1a1a68 97px,#273296 98px,#2e62c1 99px,#4493db 100px,#77bae9 101px,#a4d3f2 102px,#badef6 103px,#c8e6f8 104px,#d8eefa 108px,#e1f2fc 124px,#d9eefa 132px,#b7dcf5 141px,#bbdef6 144px,#dff1fc 152px,#ecf6fd 159px,#eff8fe 212px)"></div>
<div style="background-image:linear-gradient(90deg,#eff8fe 1px,#e9f5fd 75px,#dbeffb 85px,#cae7f8 88px,#b9ddf5 89px,#9ed0f1 90px,#63aee5 91px,#3a83d3 92px,#2a4cb1 93px,#212580 94px,#161459 95px,#13114e 96px,#191964 97px,#262e92 98px,#2d5dbd 99px,#428fd9 100px,#71b6e8 101px,#a2d1f2 102px,#b8ddf5 103px,#c7e5f8 104px,#d6edfa 107px,#e0f2fc 120px,#dcf0fb 131px,#c5e4f7 138px,#b7dcf5 142px,#bee0f6 145px,#def1fb 152px,#ecf6fd 159px,#eff8fe 212px)"></div>
<div style="background-image:linear-gradient(90deg,#eff8fe 1px,#e9f5fd 75px,#dcf0fb 85px,#cae7f8 88px,#badef6 89px,#a0d0f1 90px,#66b0e6 91px,#3b85d4 92px,#2a4eb4 93px,#222682 94px,#16145a 95px,#13114c 96px,#181761 97px,#252b8d 98px,#2c58ba 99px,#3f8bd7 100px,#6bb3e7 101px,#9fd0f1 102px,#b7dcf5 103px,#c6e5f8 104px,#d6edfa 107px,#e0f2fc 119px,#ddf0fb 131px,#c8e6f8 138px,#b8ddf5 142px,#bde0f6 145px,#dff1fc 153px,#ecf7fd 160px,#eff8fe 212px)"></div>
<div style="background-image:linear-gradient(90deg,#eff8fe 1px,#e9f5fd 75px,#dcf0fb 85px,#cae7f8 88px,#bbdef6 89px,#a1d1f2 90px,#69b2e7 91px,#3d87d5 92px,#2b51b6 93px,#222785 94px,#16145b 95px,#12104a 96px,#17155d 97px,#232988 98px,#2b53b7 99px,#3d88d5 100px,#66b0e6 101px,#9dcff1 102px,#b5dbf5 103px,#c5e4f7 104px,#d5edfa 107px,#e0f2fc 119px,#dcf0fb 132px,#c6e5f8 139px,#b9ddf5 143px,#c0e1f7 146px,#e1f2fc 154px,#edf7fd 162px,#eff8fe 212px)"></div>
<div style="background-image:linear-gradient(90deg,#eff8fe 1px,#e9f5fd 75px,#dcf0fb 85px,#cbe7f8 88px,#bcdff6 89px,#a3d2f2 90px,#6db4e7 91px,#3e89d6 92px,#2b53b7 93px,#232887 94px,#16155b 95px,#121048 96px,#16145a 97px,#222784 98px,#2a4eb4 99px,#3b84d3 100px,#62ade5 101px,#9acef1 102px,#b4daf5 103px,#c3e3f7 104px,#d2ebf9 106px,#ddf0fb 113px,#dff1fc 130px,#d0eaf9 137px,#badef6 143px,#bfe1f7 146px,#e0f2fc 154px,#edf7fd 162px,#eff8fe 212px)"></div>
<div style="background-image:linear-gradient(90deg,#eff8fe 1px,#e9f5fd 75px,#dcf0fb 85px,#cbe8f8 88px,#bcdff6 89px,#a4d2f2 90px,#70b6e8 91px,#3f8cd7 92px,#2c56b9 93px,#242989 94px,#17155c 95px,#121047 96px,#151356 97px,#21257f 98px,#2a4ab0 99px,#3880d2 100px,#5eaae4 101px,#98cdf0 102px,#b2d9f4 103px,#c2e3f7 104px,#d1ebf9 106px,#ddf0fb 113px,#dff1fc 131px,#cee9f9 138px,#bcdff6 143px,#bee0f6 146px,#e2f2fc 155px,#edf7fd 163px,#eff8fe 212px)"></div>
<div style="background-image:linear-gradient(90deg,#eff8fe 1px,#e9f5fd 75px,#dcf0fb 85px,#cce8f9 88px,#bde0f6 89px,#a5d3f2 90px,#73b8e9 91px,#418ed8 92px,#2c59bb 93px,#242a8b 94px,#17155d 95px,#121046 96px,#141253 97px,#1f237a 98px,#2946ac 99px,#367cd0 100px,#5aa6e2 101px,#94cbf0 102px,#b0d8f4 103px,#c1e2f7 104px,#d1eaf9 106px,#ddf0fb 113px,#dff1fc 131px,#d0eaf9 138px,#bcdff6 144px,#c1e2f7 147px,#e4f3fc 156px,#edf7fd 165px,#eff8fe 212px)"></div>
<div style="background-image:linear-gradient(90deg,#eff8fe 1px,#e9f5fd 75px,#dcf0fb 85px,#cce8f9 88px,#bee0f6 89px,#a7d4f3 90px,#76b9e9 91px,#4290d9 92px,#2d5bbc 93px,#252b8d 94px,#17165e 95px,#110f45 96px,#14124f 97px,#1e2176 98px,#2943a8 99px,#3479ce 100px,#56a3e1 101px,#90c8ef 102px,#afd7f4 103px,#c0e1f7 104px,#d0eaf9 106px,#dcf0fb 112px,#e0f1fc 131px,#d2ebf9 138px,#bde0f6 144px,#c0e1f7 147px,#e5f4fc 157px,#eef7fd 167px,#eff8fe 212px)"></div>
<div style="background-image:linear-gradient(90deg,#eff8fe 1px,#e9f5fd 75px,#dcf0fb 85px,#cce8f9 88px,#bfe1f6 89px,#a8d4f3 90px,#79bbea 91px,#4392da 92px,#2d5ebe 93px,#262c90 94px,#17165f 95px,#110f44 96px,#13114c 97px,#1d1f72 98px,#283fa4 99px,#3275cc 100px,#53a0e0 101px,#8bc5ee 102px,#add6f3 103px,#bfe1f6 104px,#d0eaf9 106px,#dcf0fb 112px,#dff1fc 132px,#d1eaf9 139px,#bde0f6 145px,#c8e6f8 149px,#e6f4fd 158px,#eef7fe 171px,#eff8fe 212px)"></div>
<div style="background-image:linear-gradient(90deg,#eff8fe 1px,#e9f5fd 75px,#dcf0fb 85px,#cde8f9 88px,#bfe1f7 89px,#a9d5f3 90px,#7cbdeb 91px,#4594db 92px,#2e60bf 93px,#262e92 94px,#181760 95px,#110f43 96px,#121049 97px,#1c1d6e 98px,#283ba0 99px,#3170c9 100px,#4f9ddf 101px,#86c3ed 102px,#aad5f3 103px,#bde0f6 104px,#c9e7f8 105px,#d9eefa 109px,#e1f2fc 127px,#daeffb 136px,#bfe1f6 145px,#c2e3f7 148px,#e6f4fd 158px,#eef7fe 169px,#eff8fe 212px)"></div>
<div style="background-image:linear-gradient(90deg,#eff8fe 1px,#e9f5fd 75px,#dcf0fb 85px,#cde8f9 88px,#c0e1f7 89px,#aad5f3 90px,#7fbeeb 91px,#4696dc 92px,#2e62c1 93px,#262f94 94px,#181761 95px,#110f42 96px,#121046 97px,#1b1b6a 98px,#27389c 99px,#306bc6 100px,#4b9ade 101px,#81c0ec 102px,#a8d4f3 103px,#bcdff6 104px,#c9e6f8 105px,#d8eefa 109px,#e1f2fc 127px,#d9effb 137px,#bfe1f7 146px,#c9e7f8 150px,#e7f4fd 159px,#eef7fe 172px,#eff8fe 212px)"></div>
<div style="background-image:linear-gradient(90deg,#eff8fe 1px,#e9f5fd 75px,#dcf0fb 85px,#cde9f9 88px,#c1e2f7 89px,#acd6f3 90px,#81c0ec 91px,#4897dd 92px,#2f65c2 93px,#263195 94px,#181862 95px,#110f42 96px,#110f43 97px,#191966 98px,#273498 99px,#2f67c4 100px,#4797dc 101px,#7cbdeb 102px,#a6d4f3 103px,#bbdef6 104px,#c8e6f8 105px,#d8eefa 109px,#e1f2fc 127px,#dbeffb 137px,#c0e2f7 146px,#c8e6f8 150px,#e8f5fd 160px,#eff8fe 178px,#eff8fe 212px)"></div>
<div style="background-image:linear-gradient(90deg,#eff8fe 1px,#e9f5fd 75px,#dcf0fb 85px,#cee9f9 88px,#c1e2f7 89px,#add6f3 90px,#84c1ec 91px,#4a99dd 92px,#2f67c4 93px,#273397 94px,#191863 95px,#100e41 96px,#100e41 97px,#181862 98px,#263095 99px,#2e63c1 100px,#4594db 101px,#77baea 102px,#a4d3f2 103px,#badef6 104px,#c7e6f8 105px,#d8eefa 109px,#e1f2fc 127px,#dcf0fb 137px,#c1e2f7 147px,#cee9f9 152px,#e9f5fd 161px,#eff8fe 187px,#eff8fe 212px)"></div>
<div style="background-image:linear-gradient(90deg,#eff8fe 1px,#e9f5fd 75px,#ddf0fb 85px,#cee9f9 88px,#c2e3f7 89px,#aed7f4 90px,#86c3ed 91px,#4c9bde 92px,#2f69c5 93px,#273499 94px,#191965 95px,#100e41 96px,#100e3e 97px,#17165e 98px,#262d91 99px,#2d5ebe 100px,#4390d9 101px,#73b7e9 102px,#a2d2f2 103px,#b8ddf5 104px,#c6e5f8 105px,#d6edfa 108px,#e0f2fc 121px,#def1fb 136px,#c2e2f7 148px,#eaf6fd 162px,#eff8fe 203px,#eff8fe 212px)"></div>
<div style="background-image:linear-gradient(90deg,#eff8fe 1px,#e9f5fd 75px,#ddf0fb 85px,#cee9f9 88px,#c3e3f7 89px,#afd7f4 90px,#89c4ed 91px,#4e9cde 92px,#306cc7 93px,#27369a 94px,#191966 95px,#100e40 96px,#0f0d3c 97px,#16145b 98px,#252b8d 99px,#2c5abb 100px,#408dd8 101px,#6eb5e8 102px,#a0d1f2 103px,#b7dcf5 104px,#c6e5f8 105px,#d5edfa 108px,#e0f2fc 120px,#dff1fc 136px,#c3e3f7 148px,#d7edfa 155px,#ebf6fd 163px,#eff8fe 212px)"></div>
<div style="background-image:linear-gradient(90deg,#eff8fe 1px,#e9f5fd 75px,#ddf0fb 85px,#cee9f9 88px,#c3e3f7 89px,#b0d8f4 90px,#8bc6ee 91px,#4f9edf 92px,#306ec8 93px,#27379c 94px,#1a1a67 95px,#100e40 96px,#0f0d3a 97px,#151357 98px,#232988 99px,#2c56b9 100px,#3e8ad6 101px,#69b2e7 102px,#9ed0f1 103px,#b6dbf5 104px,#c5e4f7 105px,#d5edfa 108px,#e0f2fc 120px,#def1fb 137px,#c4e4f7 149px,#eaf6fd 163px,#eff8fe 212px)"></div>
<div style="background-image:linear-gradient(90deg,#eff8fe 1px,#e9f5fd 75px,#ddf0fb 85px,#cfe9f9 88px,#c4e4f7 89px,#b0d8f4 90px,#8dc7ee 91px,#519fdf 92px,#3170c9 93px,#27399e 94px,#1a1b68 95px,#100e40 96px,#0e0c38 97px,#141253 98px,#222784 99px,#2b51b6 100px,#3c87d5 101px,#65afe6 102px,#9ccff1 103px,#b4dbf5 104px,#c4e3f7 105px,#d5ecfa 108px,#e0f2fc 120px,#dff1fc 137px,#c5e4f7 149px,#eaf6fd 163px,#eff8fe 197px,#eff8fe 212px)"></div>
<div style="height:1px;background-image:linear-gradient(90deg,#eff8fe 1px,#e9f5fd 75px,#ddf0fb 85px,#cfe9f9 88px,#c4e4f7 89px,#b1d9f4 90px,#8fc8ef 91px,#52a0e0 92px,#3171ca 93px,#283a9f 94px,#1a1b69 95px,#100e40 96px,#0e0c36 97px,#141250 98px,#212681 99px,#2a4eb4 100px,#3b84d4 101px,#62ade5 102px,#9acef1 103px,#b3daf5 104px,#c3e3f7 105px,#d1ebf9 107px,#ddf0fb 114px,#e0f2fc 136px,#d0eaf9 144px,#c6e5f8 150px,#eaf6fd 164px,#eff8fe 212px)"></div>
</div>
<div class="h" style="left:83px;top:589px;width:212px;height:212px">
<div style="background-image:linear-gradient(90deg,#f5fbfe 1px,#eff8fe 67px,#e2f2fc 76px,#d2ebf9 79px,#c3e3f7 80px,#a3d2f2 81px,#58a4e2 82px,#2e63c1 83px,#232887 84px,#16145a 85px,#181760 86px,#262f92 87px,#306dc8 88px,#5aa6e2 89px,#9ccff1 90px,#b7dcf5 91px,#c5e4f7 92px,#cce8f9 94px,#c7e6f8 97px,#b2d9f4 99px,#9ccff1 100px,#6db4e7 101px,#4695db 102px,#3378ce 103px,#2e61c0 104px,#2d5fbf 105px,#3173cb 106px,#4391da 107px,#6cb3e7 108px,#a0d1f2 109px,#badef6 110px,#cae7f8 111px,#dcf0fb 114px,#edf7fd 124px,#f5fafe 169px,#f5fbfe 212px)"></div>
<div style="background-image:linear-gradient(90deg,#f5fbfe 1px,#eff8fe 67px,#e3f3fc 76px,#d4ecfa 79px,#c8e6f8 80px,#abd6f3 81px,#64aee5 82px,#3172ca 83px,#262f93 84px,#17165f 85px,#16145b 86px,#232887 87px,#2e60bf 88px,#4f9ddf 89px,#95cbf0 90px,#b4daf5 91px,#c3e3f7 92px,#cce8f9 94px,#c9e7f8 97px,#b7dcf5 99px,#a5d3f2 100px,#81c0ec 101px,#53a0e0 102px,#3982d3 103px,#2f68c4 104px,#2d5ebe 105px,#306ac5 106px,#3b85d4 107px,#5aa6e2 108px,#91c9ef 109px,#b1d9f4 110px,#c5e4f7 111px,#d6edfa 113px,#eaf6fd 121px,#f3fafe 146px,#f5fbfe 212px)"></div>
<div style="background-image:linear-gradient(90deg,#f5fbfe 1px,#eff8fe 67px,#e3f3fc 76px,#d6edfa 79px,#cae7f8 80px,#b2d9f4 81px,#75b9e9 82px,#377ed1 83px,#27399d 84px,#191965 85px,#151357 86px,#20247c 87px,#2b53b7 88px,#4594db 89px,#89c4ed 90px,#b0d8f4 91px,#c1e2f7 92px,#cce8f9 94px,#cae7f8 97px,#bcdff6 99px,#add7f4 100px,#93caef 101px,#61ace4 102px,#418dd8 103px,#3172ca 104px,#2e60bf 105px,#2e64c1 106px,#357acf 107px,#4a99dd 108px,#7abbea 109px,#a6d4f3 110px,#bee0f6 111px,#cce8f9 112px,#ddf0fb 115px,#edf7fd 125px,#f5fafe 172px,#f5fbfe 212px)"></div>
<div style="background-image:linear-gradient(90deg,#f5fbfe 1px,#eff8fe 67px,#e4f3fc 76px,#d7edfa 79px,#cde8f9 80px,#b7dcf5 81px,#86c3ed 82px,#3e89d6 83px,#2943a9 84px,#1c1d6d 85px,#151356 86px,#1d1f72 87px,#2948ad 88px,#3f8ad6 89px,#7bbdea 90px,#acd6f3 91px,#bfe1f7 92px,#c9e7f8 93px,#cde9f9 96px,#c8e6f8 98px,#b3daf5 100px,#9ed0f1 101px,#73b8e9 102px,#4a99dd 103px,#367cd0 104px,#2f65c3 105px,#2e60bf 106px,#3171ca 107px,#408dd8 108px,#63ade5 109px,#9acef1 110px,#b6dbf5 111px,#c8e6f8 112px,#dbeffb 115px,#edf7fd 125px,#f5fafe 169px,#f5fbfe 212px)"></div>
<div style="background-image:linear-gradient(90deg,#f5fbfe 1px,#eff8fe 68px,#e1f2fc 77px,#d8eefa 79px,#cfeaf9 80px,#bcdff6 81px,#95cbf0 82px,#4594db 83px,#2a4eb4 84px,#1e2176 85px,#151356 86px,#1b1b6a 87px,#283ea3 88px,#3880d2 89px,#6db4e8 90px,#a7d4f3 91px,#bde0f6 92px,#c8e6f8 93px,#cee9f9 96px,#c4e3f7 99px,#b9ddf5 100px,#a7d4f3 101px,#87c3ed 102px,#58a4e2 103px,#3c86d5 104px,#306dc7 105px,#2e60bf 106px,#2f69c5 107px,#3981d2 108px,#53a1e0 109px,#86c3ed 110px,#acd6f3 111px,#c1e2f7 112px,#d5ecfa 114px,#e8f5fd 121px,#f3f9fe 142px,#f5fbfe 212px)"></div>
<div style="background-image:linear-gradient(90deg,#f5fbfe 1px,#eff8fe 68px,#e2f2fc 77px,#d1ebf9 80px,#c1e2f7 81px,#9ed0f1 82px,#519fdf 83px,#2d5cbc 84px,#212580 85px,#161458 86px,#191863 87px,#273498 88px,#3275cc 89px,#61ace4 90px,#a1d1f2 91px,#badef6 92px,#c7e6f8 93px,#cee9f9 96px,#c7e5f8 99px,#afd8f4 101px,#98cdf0 102px,#66b0e6 103px,#4392da 104px,#3377cd 105px,#2e63c1 106px,#2e64c1 107px,#3378ce 108px,#4594db 109px,#6eb5e8 110px,#a0d1f2 111px,#badef6 112px,#cae7f8 113px,#dcf0fb 116px,#edf7fd 126px,#f5fafe 171px,#f5fbfe 212px)"></div>
<div style="background-image:linear-gradient(90deg,#f5fbfe 1px,#eff8fe 68px,#e2f3fc 77px,#d3ecfa 80px,#c5e4f8 81px,#a6d3f2 82px,#5da9e3 83px,#2f69c5 84px,#242b8c 85px,#17155c 86px,#17165d 87px,#252c8e 88px,#2f69c5 89px,#57a4e1 90px,#9bcef1 91px,#b7dcf5 92px,#c6e5f8 93px,#cfe9f9 96px,#c9e6f8 99px,#b5dbf5 101px,#a1d1f2 102px,#7abbea 103px,#4f9ddf 104px,#3980d2 105px,#2f69c5 106px,#2e62c0 107px,#306ec8 108px,#3d88d6 109px,#5ca8e3 110px,#92caef 111px,#b1d9f4 112px,#c4e4f7 113px,#d6edfa 115px,#eaf6fd 123px,#f4fafe 149px,#f5fbfe 212px)"></div>
<div style="background-image:linear-gradient(90deg,#f5fbfe 1px,#eff8fe 68px,#e3f3fc 77px,#d5ecfa 80px,#c9e6f8 81px,#add7f4 82px,#6ab2e7 83px,#3376cd 84px,#273297 85px,#181761 86px,#161459 87px,#222783 88px,#2d5cbd 89px,#4c9bde 90px,#93caef 91px,#b4daf5 92px,#c4e4f7 93px,#cee9f9 95px,#cbe7f8 99px,#badef6 101px,#aad5f3 102px,#8dc7ee 103px,#5da8e3 104px,#3f8bd7 105px,#3172cb 106px,#2e63c1 107px,#2f68c4 108px,#377ed1 109px,#4d9bde 110px,#7bbcea 111px,#a6d3f2 112px,#bde0f6 113px,#cce8f9 114px,#ddf0fb 117px,#edf7fd 127px,#f5fafe 174px,#f5fbfe 212px)"></div>
<div style="background-image:linear-gradient(90deg,#f5fbfe 1px,#eff8fe 68px,#e4f3fc 77px,#d6edfa 80px,#cbe8f8 81px,#b4daf5 82px,#7bbcea 83px,#3982d2 84px,#283ca1 85px,#1a1a67 86px,#151356 87px,#1f2279 88px,#2a50b5 89px,#4392da 90px,#87c3ed 91px,#b1d8f4 92px,#c2e3f7 93px,#cee9f9 95px,#cce8f9 99px,#bfe1f6 101px,#b1d9f4 102px,#9bcef1 103px,#6cb4e7 104px,#4796dc 105px,#357bd0 106px,#2f67c4 107px,#2e64c2 108px,#3275cc 109px,#428fd9 110px,#65afe5 111px,#9acef1 112px,#b5dbf5 113px,#c7e5f8 114px,#dbeffb 117px,#ecf6fd 126px,#f4fafe 163px,#f5fbfe 212px)"></div>
<div style="background-image:linear-gradient(90deg,#f5fbfe 1px,#eff8fe 68px,#e4f3fc 77px,#d8eefa 80px,#cee9f9 81px,#b9ddf5 82px,#8bc5ee 83px,#408cd8 84px,#2946ac 85px,#1c1e6f 86px,#151355 87px,#1c1e70 88px,#2945ab 89px,#3d88d5 90px,#7abbea 91px,#acd6f3 92px,#c0e1f7 93px,#cae7f8 94px,#cfe9f9 98px,#c3e3f7 101px,#b7dcf5 102px,#a4d2f2 103px,#80bfeb 104px,#54a2e0 105px,#3c85d4 106px,#306ec8 107px,#2e64c2 108px,#306dc7 109px,#3b84d4 110px,#55a2e1 111px,#87c3ed 112px,#abd6f3 113px,#c0e2f7 114px,#d5ecfa 116px,#e6f4fd 122px,#f2f9fe 140px,#f5fbfe 212px)"></div>
<div style="background-image:linear-gradient(90deg,#f5fbfe 1px,#eff8fe 69px,#e1f2fc 78px,#d9eefa 80px,#d0eaf9 81px,#bee0f6 82px,#98cdf0 83px,#4897dc 84px,#2b51b6 85px,#1f2278 86px,#151356 87px,#1a1b68 88px,#283ca1 89px,#377ed1 90px,#6cb3e7 91px,#a7d4f3 92px,#bee0f6 93px,#c9e7f8 94px,#d0eaf9 97px,#c6e5f8 101px,#acd6f3 103px,#93caef 104px,#62ade5 105px,#4290d9 106px,#3377cd 107px,#2f66c3 108px,#2f68c4 109px,#357bcf 110px,#4796dc 111px,#6fb6e8 112px,#a0d1f2 113px,#b9ddf5 114px,#c9e7f8 115px,#dcf0fb 118px,#edf7fd 128px,#f5fafe 173px,#f5fbfe 212px)"></div>
<div style="background-image:linear-gradient(90deg,#f5fbfe 1px,#eff8fe 69px,#e2f2fc 78px,#d2ebf9 81px,#c2e2f7 82px,#a0d1f2 83px,#53a1e0 84px,#2d5ebe 85px,#222682 86px,#161458 87px,#181862 88px,#273397 89px,#3274cc 90px,#60abe4 91px,#a1d1f2 92px,#bbdff6 93px,#c9e6f8 94px,#d0eaf9 97px,#c9e6f8 101px,#b3daf4 103px,#9ed0f1 104px,#4c9bde 106px,#3880d2 107px,#306bc6 108px,#2f65c3 109px,#3172cb 110px,#3f8bd7 111px,#5da9e3 112px,#92c9ef 113px,#b0d8f4 114px,#c3e3f7 115px,#d6edfa 117px,#e8f5fd 124px,#f3f9fe 146px,#f5fbfe 212px)"></div>
<div style="background-image:linear-gradient(90deg,#f5fbfe 1px,#eff8fe 69px,#e3f3fc 78px,#d3ecfa 81px,#c6e5f8 82px,#a7d4f3 83px,#5faae4 84px,#306bc6 85px,#252b8d 86px,#17155c 87px,#17155d 88px,#252b8d 89px,#2f68c4 90px,#56a3e1 91px,#9bcff1 92px,#b8ddf5 93px,#c7e6f8 94px,#d1eaf9 97px,#cbe7f8 101px,#b8ddf5 103px,#a7d4f3 104px,#87c3ed 105px,#5aa6e2 106px,#3f8ad6 107px,#3173cb 108px,#2f66c3 109px,#306cc7 110px,#3880d2 111px,#4e9ddf 112px,#7bbcea 113px,#a5d3f2 114px,#bcdff6 115px,#cbe7f8 116px,#dcf0fb 119px,#edf7fd 129px,#f5fafe 175px,#f5fbfe 212px)"></div>
<div style="background-image:linear-gradient(90deg,#f5fbfe 1px,#eff8fe 69px,#e3f3fc 78px,#d5edfa 81px,#c9e7f8 82px,#aed7f4 83px,#6bb3e7 84px,#3377ce 85px,#273397 86px,#181761 87px,#161459 88px,#222682 89px,#2d5cbc 90px,#4c9bde 91px,#94cbf0 92px,#b5dbf5 93px,#c6e5f8 94px,#d0eaf9 96px,#cce8f9 101px,#bde0f6 103px,#afd7f4 104px,#98cdf0 105px,#68b1e6 106px,#4695db 107px,#367cd0 108px,#306ac5 109px,#2f68c4 110px,#3378ce 111px,#4391da 112px,#65afe6 113px,#99cef1 114px,#b4daf5 115px,#c6e5f8 116px,#dbeffb 119px,#ecf6fd 128px,#f4fafe 165px,#f5fbfe 212px)"></div>
<div style="background-image:linear-gradient(90deg,#f5fbfe 1px,#eff8fe 69px,#e4f3fc 78px,#d6edfa 81px,#cce8f9 82px,#b4daf5 83px,#7bbcea 84px,#3a82d3 85px,#283ca1 86px,#1a1a67 87px,#151356 88px,#1f2279 89px,#2a50b5 90px,#4492da 91px,#89c4ed 92px,#b2d9f4 93px,#c4e4f7 94px,#d0eaf9 96px,#cde9f9 101px,#c2e2f7 103px,#b5dbf5 104px,#a1d1f2 105px,#7bbcea 106px,#52a0e0 107px,#3b85d4 108px,#3170c9 109px,#2f67c4 110px,#3170c9 111px,#3c86d5 112px,#56a3e1 113px,#86c3ed 114px,#aad5f3 115px,#bfe1f7 116px,#d4ecfa 118px,#e6f4fd 124px,#f2f9fe 142px,#f5fbfe 212px)"></div>
<div style="background-image:linear-gradient(90deg,#f5fbfe 1px,#eff8fe 69px,#e4f3fc 78px,#d8eefa 81px,#cee9f9 82px,#b9ddf5 83px,#8bc5ee 84px,#408cd7 85px,#2946ab 86px,#1c1d6f 87px,#151355 88px,#1c1e70 89px,#2946ab 90px,#3e89d6 91px,#7cbdeb 92px,#add7f4 93px,#c2e2f7 94px,#cfeaf9 96px,#cfe9f9 101px,#c5e4f8 103px,#aad5f3 105px,#8ec7ee 106px,#5fabe4 107px,#428fd9 108px,#3378ce 109px,#2f69c5 110px,#306bc6 111px,#367dd0 112px,#4897dc 113px,#6fb5e8 114px,#9fd0f1 115px,#b8dcf5 116px,#c8e6f8 117px,#dcf0fb 120px,#ecf7fd 129px,#f4fafe 167px,#f5fbfe 212px)"></div>
<div style="background-image:linear-gradient(90deg,#f5fbfe 1px,#eff8fe 70px,#e2f2fc 79px,#d9eefb 81px,#d0eaf9 82px,#bde0f6 83px,#98cdf0 84px,#4796dc 85px,#2a50b5 86px,#1f2177 87px,#151356 88px,#1a1b69 89px,#283da2 90px,#387fd1 91px,#6fb5e8 92px,#a9d5f3 93px,#bfe1f7 94px,#cbe7f8 95px,#d2ebf9 99px,#c8e6f8 103px,#b1d9f4 105px,#9bcef1 106px,#70b6e8 107px,#4b9ade 108px,#3980d2 109px,#306ec8 110px,#2f69c5 111px,#3275cd 112px,#408cd7 113px,#5da9e3 114px,#90c9ef 115px,#afd8f4 116px,#c2e3f7 117px,#d5edfa 119px,#e8f5fd 126px,#f3f9fe 148px,#f5fbfe 212px)"></div>
<div style="background-image:linear-gradient(90deg,#f5fbfe 1px,#eff8fe 70px,#e2f2fc 79px,#d2ebf9 82px,#c2e2f7 83px,#9fd0f1 84px,#52a0e0 85px,#2d5cbd 86px,#212681 87px,#151358 88px,#181862 89px,#273498 90px,#3276cd 91px,#62ade5 92px,#a3d2f2 93px,#bddff6 94px,#cae7f8 95px,#d2ebf9 98px,#cae7f8 103px,#b7dcf5 105px,#a4d3f2 106px,#83c1ec 107px,#58a5e2 108px,#3f8ad6 109px,#3275cc 110px,#2f69c5 111px,#316fc9 112px,#3a82d3 113px,#4f9ddf 114px,#7abcea 115px,#a4d2f2 116px,#bbdef6 117px,#cae7f8 118px,#dcf0fb 121px,#edf7fd 131px,#f5fafe 177px,#f5fbfe 212px)"></div>
<div style="background-image:linear-gradient(90deg,#f5fbfe 1px,#eff8fe 70px,#e3f3fc 79px,#d3ecfa 82px,#c6e5f8 83px,#a6d4f3 84px,#5da8e3 85px,#2f69c5 86px,#242a8b 87px,#16155b 88px,#17155d 89px,#252c8f 90px,#306ac6 91px,#59a5e2 92px,#9ed0f1 93px,#badef6 94px,#c9e6f8 95px,#d3ebfa 98px,#cce8f9 103px,#bcdff6 105px,#add6f3 106px,#94cbf0 107px,#66afe6 108px,#4594db 109px,#367dd0 110px,#306dc7 111px,#306bc6 112px,#357acf 113px,#4492da 114px,#65afe5 115px,#98cdf0 116px,#b3daf4 117px,#c5e4f7 118px,#d6edfa 120px,#e8f5fd 127px,#f3f9fe 149px,#f5fbfe 212px)"></div>
<div style="background-image:linear-gradient(90deg,#f5fbfe 1px,#eff8fe 70px,#e3f3fc 79px,#d5ecfa 82px,#c9e6f8 83px,#add7f4 84px,#68b1e6 85px,#3275cc 86px,#263195 87px,#181760 88px,#161459 89px,#222785 90px,#2d5fbe 91px,#4f9edf 92px,#98cdf0 93px,#b7dcf5 94px,#c8e6f8 95px,#d3ebfa 98px,#cee9f9 103px,#c1e2f7 105px,#b3daf5 106px,#9fd0f1 107px,#519fdf 109px,#3c85d4 110px,#3172cb 111px,#306ac6 112px,#3173cb 113px,#3d88d5 114px,#56a3e1 115px,#84c1ec 116px,#a9d5f3 117px,#bee0f6 118px,#cce8f9 119px,#ddf0fb 122px,#edf7fd 132px,#f5fafe 179px,#f5fbfe 212px)"></div>
<div style="background-image:linear-gradient(90deg,#f5fbfe 1px,#eff8fe 70px,#e4f3fc 79px,#d6edfa 82px,#cbe8f8 83px,#b3daf4 84px,#77baea 85px,#387fd1 86px,#27399e 87px,#191965 88px,#151356 89px,#20237b 90px,#2b53b7 91px,#4695dc 92px,#8ec7ee 93px,#b4daf5 94px,#c6e5f8 95px,#d1eaf9 97px,#d1ebf9 102px,#c5e4f7 105px,#a8d4f3 107px,#8bc5ee 108px,#5ea9e3 109px,#428fd9 110px,#347acf 111px,#306cc7 112px,#306ec8 113px,#387fd1 114px,#4898dd 115px,#6eb5e8 116px,#9dcff1 117px,#b6dbf5 118px,#c7e5f8 119px,#dbeffb 122px,#ecf6fd 131px,#f4fafe 169px,#f5fbfe 212px)"></div>
<div style="background-image:linear-gradient(90deg,#f5fbfe 1px,#eff8fe 70px,#e4f3fc 79px,#d7eefa 82px,#cde9f9 83px,#b7dcf5 84px,#86c3ed 85px,#3e89d6 86px,#2942a8 87px,#1b1c6c 88px,#151355 89px,#1d1f73 90px,#2949af 91px,#408dd8 92px,#82c0ec 93px,#b0d8f4 94px,#c4e4f7 95px,#d1eaf9 97px,#d2ebf9 102px,#c8e6f8 105px,#b0d8f4 107px,#9acef1 108px,#6db4e7 109px,#4b9add 110px,#3982d2 111px,#3171ca 112px,#306cc7 113px,#3378ce 114px,#408dd8 115px,#5da8e3 116px,#8ec7ee 117px,#add7f4 118px,#c0e2f7 119px,#d4ecfa 121px,#e6f4fd 127px,#f2f9fe 145px,#f5fbfe 212px)"></div>
<div style="background-image:linear-gradient(90deg,#f5fbfe 1px,#eff8fe 71px,#e1f2fc 80px,#d8eefa 82px,#cfeaf9 83px,#bcdff6 84px,#94cbef 85px,#4492da 86px,#2a4cb1 87px,#1d2073 88px,#151355 89px,#1b1c6b 90px,#2840a5 91px,#3b84d3 92px,#75b9e9 93px,#acd6f3 94px,#c2e2f7 95px,#d0eaf9 97px,#d3ebfa 102px,#cae7f8 105px,#b6dbf5 107px,#a3d2f2 108px,#80bfeb 109px,#57a4e1 110px,#3f8bd7 111px,#3377cd 112px,#306dc7 113px,#3172cb 114px,#3b84d3 115px,#4f9ddf 116px,#a2d1f2 118px,#b9ddf5 119px,#c9e7f8 120px,#dcf0fb 123px,#ecf7fd 132px,#f5fafe 171px,#f5fbfe 212px)"></div>
<div style="background-image:linear-gradient(90deg,#f5fbfe 1px,#eff8fe 71px,#e2f2fc 80px,#d1eaf9 83px,#c0e1f7 84px,#9ccff1 85px,#4d9bde 86px,#2c57b9 87px,#20237c 88px,#151356 89px,#191965 90px,#27389c 91px,#357bcf 92px,#69b1e7 93px,#a7d4f3 94px,#bfe1f7 95px,#cbe8f8 96px,#d4ecfa 100px,#cce8f9 105px,#bbdef6 107px,#abd6f3 108px,#92caef 109px,#64aee5 110px,#4695db 111px,#377ed1 112px,#3170c9 113px,#306ec8 114px,#367cd0 115px,#4493da 116px,#63aee5 117px,#95cbf0 118px,#b1d8f4 119px,#c3e3f7 120px,#d5edfa 122px,#e8f5fd 129px,#f3f9fe 151px,#f5fbfe 212px)"></div>
<div style="background-image:linear-gradient(90deg,#f5fbfe 1px,#eff8fe 71px,#e3f3fc 80px,#d3ebfa 83px,#c4e4f7 84px,#a3d2f2 85px,#57a4e1 86px,#2e62c1 87px,#232885 88px,#161459 89px,#18165f 90px,#263094 91px,#3171ca 92px,#5faae4 93px,#a2d1f2 94px,#bddff6 95px,#cae7f8 96px,#d4ecfa 99px,#d1eaf9 104px,#c9e7f8 106px,#b2d9f4 108px,#9dcff1 109px,#519fdf 111px,#3c87d5 112px,#3275cc 113px,#306ec8 114px,#3276cd 115px,#3e89d6 116px,#55a2e1 117px,#81c0ec 118px,#a6d4f3 119px,#bcdff6 120px,#cae7f8 121px,#dcf0fb 124px,#ecf7fd 133px,#f5fafe 173px,#f5fbfe 212px)"></div>
<div style="background-image:linear-gradient(90deg,#f5fbfe 1px,#eff8fe 71px,#e3f3fc 80px,#d4ecfa 83px,#c7e6f8 84px,#a9d5f3 85px,#61ace5 86px,#306ec8 87px,#252c8f 88px,#17155d 89px,#16145b 90px,#242a8a 91px,#2f66c3 92px,#56a3e1 93px,#9ccff1 94px,#badef6 95px,#c9e7f8 96px,#d4ecfa 99px,#cfeaf9 105px,#c4e4f7 107px,#a6d4f3 109px,#89c4ed 110px,#5ea9e3 111px,#4290d9 112px,#357cd0 113px,#316fc9 114px,#3171ca 115px,#3880d2 116px,#4898dd 117px,#6bb3e7 118px,#9bcef1 119px,#b4daf5 120px,#c5e4f8 121px,#dbeffb 124px,#ecf6fd 133px,#f4fafe 170px,#f5fbfe 212px)"></div>
<div style="background-image:linear-gradient(90deg,#f5fbfe 1px,#eff8fe 71px,#e4f3fc 80px,#d5edfa 83px,#cae7f8 84px,#afd8f4 85px,#6eb5e8 86px,#3479ce 87px,#273498 88px,#181761 89px,#151358 90px,#212681 91px,#2d5bbc 92px,#4c9bde 93px,#96ccf0 94px,#b7dcf5 95px,#c8e6f8 96px,#d4ecfa 99px,#d0eaf9 105px,#c8e6f8 107px,#aed7f4 109px,#98cdf0 110px,#6cb4e7 111px,#4b9ade 112px,#3a83d3 113px,#3274cc 114px,#316fc9 115px,#347acf 116px,#418ed8 117px,#5ca7e3 118px,#8ac5ed 119px,#aad5f3 120px,#bee0f6 121px,#d4ecfa 123px,#e4f3fc 128px,#f1f9fe 143px,#f5fbfe 212px)"></div>
<div style="background-image:linear-gradient(90deg,#f5fbfe 1px,#eff8fe 71px,#e4f3fc 80px,#d7edfa 83px,#cce8f9 84px,#b4daf5 85px,#7cbdeb 86px,#3a82d3 87px,#283ca1 88px,#1a1a67 89px,#151355 90px,#1f2278 91px,#2a50b5 92px,#4493db 93px,#8cc6ee 94px,#b4daf5 95px,#c6e5f8 96px,#d2ebf9 98px,#d3ecfa 104px,#cae7f8 107px,#b5dbf5 109px,#a1d1f2 110px,#7fbfeb 111px,#57a4e1 112px,#408cd7 113px,#3479cf 114px,#3170c9 115px,#3275cc 116px,#3b85d4 117px,#4e9ddf 118px,#9fd0f1 120px,#b7dcf5 121px,#c7e6f8 122px,#dbeffb 125px,#ecf6fd 134px,#f4fafe 172px,#f5fbfe 212px)"></div>
<div style="background-image:linear-gradient(90deg,#f5fbfe 1px,#eff8fe 72px,#e4f3fc 80px,#d8eefa 83px,#cee9f9 84px,#b9ddf5 85px,#8ac5ed 86px,#3f8bd7 87px,#2944aa 88px,#1c1d6d 89px,#151354 90px,#1d1e71 91px,#2947ad 92px,#3f8bd7 93px,#80bfeb 94px,#b0d8f4 95px,#c4e4f7 96px,#d2ebf9 98px,#d4ecfa 104px,#c6e5f8 108px,#aad5f3 110px,#91c9ef 111px,#64aee5 112px,#4796dc 113px,#3880d2 114px,#3173cb 115px,#3171ca 116px,#377dd0 117px,#4493da 118px,#62ace5 119px,#92caef 120px,#aed7f4 121px,#c1e2f7 122px,#d4ecfa 124px,#e6f4fd 130px,#f2f9fe 148px,#f5fbfe 212px)"></div>
<div style="background-image:linear-gradient(90deg,#f5fbfe 1px,#eff8fe 72px,#e2f2fc 81px,#d9eefb 83px,#d0eaf9 84px,#bddff6 85px,#96ccf0 86px,#4594db 87px,#2a4db3 88px,#1e2075 89px,#151354 90px,#1b1b6a 91px,#283fa4 92px,#3a82d3 93px,#74b8e9 94px,#acd6f3 95px,#c2e3f7 96px,#d2ebf9 98px,#d5ecfa 104px,#c9e6f8 108px,#b1d9f4 110px,#9dcff1 111px,#52a0e0 113px,#3e89d6 114px,#3378ce 115px,#3171ca 116px,#3378ce 117px,#3e89d6 118px,#54a1e0 119px,#7dbdeb 120px,#a3d2f2 121px,#b9def6 122px,#c9e7f8 123px,#dcf0fb 126px,#ecf7fd 135px,#f5fafe 174px,#f5fbfe 212px)"></div>
<div style="background-image:linear-gradient(90deg,#f5fbfe 1px,#eff8fe 72px,#e2f3fc 81px,#d1ebf9 84px,#c1e2f7 85px,#9dcff1 86px,#4e9ddf 87px,#2c58ba 88px,#20247d 89px,#151356 90px,#191864 91px,#27379b 92px,#347acf 93px,#68b1e6 94px,#a7d4f3 95px,#c0e1f7 96px,#cce8f9 97px,#d6edfa 101px,#cfeaf9 107px,#c4e3f7 109px,#a5d3f2 111px,#88c4ed 112px,#5eaae4 113px,#4392da 114px,#377ed1 115px,#3173cb 116px,#3274cc 117px,#3981d2 118px,#4897dc 119px,#69b1e6 120px,#98cdf0 121px,#b1d9f4 122px,#c3e3f7 123px,#d5edfa 125px,#e7f4fd 131px,#f2f9fe 150px,#f5fbfe 212px)"></div>
<div style="background-image:linear-gradient(90deg,#f5fbfe 1px,#eff8fe 72px,#e3f3fc 81px,#d3ebfa 84px,#c4e4f7 85px,#a3d2f2 86px,#58a4e2 87px,#2e63c1 88px,#232885 89px,#161458 90px,#17165f 91px,#262f93 92px,#3170ca 93px,#5faae4 94px,#a2d2f2 95px,#bee0f6 96px,#cbe8f8 97px,#d6edfa 100px,#d3ecfa 106px,#c7e6f8 109px,#aed7f4 111px,#98cdf0 112px,#6db4e7 113px,#4d9bde 114px,#3c85d4 115px,#3377cd 116px,#3172cb 117px,#357bcf 118px,#418ed8 119px,#5aa6e2 120px,#85c2ed 121px,#a7d4f3 122px,#bcdff6 123px,#cae7f8 124px,#dcf0fb 127px,#ecf7fd 136px,#f5fafe 176px,#f5fbfe 212px)"></div>
<div style="background-image:linear-gradient(90deg,#f5fbfe 1px,#eff8fe 72px,#e3f3fc 81px,#d4ecfa 84px,#c7e6f8 85px,#a9d5f3 86px,#61ace5 87px,#306ec8 88px,#252c8f 89px,#17155c 90px,#16145b 91px,#242a8a 92px,#2f66c3 93px,#56a3e1 94px,#9dcff1 95px,#bbdef6 96px,#cae7f8 97px,#d6edfa 100px,#d2ebf9 107px,#cae7f8 109px,#b4daf5 111px,#a1d1f2 112px,#7fbfeb 113px,#59a5e2 114px,#418ed8 115px,#367cd0 116px,#3173cb 117px,#3377cd 118px,#3c85d4 119px,#4d9cde 120px,#70b6e8 121px,#9ccff1 122px,#b4daf5 123px,#c5e4f8 124px,#dbeffb 127px,#ebf6fd 135px,#f4fafe 167px,#f5fbfe 212px)"></div>
<div style="background-image:linear-gradient(90deg,#f5fbfe 1px,#eff8fe 72px,#e4f3fc 81px,#d5edfa 84px,#cae7f8 85px,#afd8f4 86px,#6db4e7 87px,#3378ce 88px,#273397 89px,#181760 90px,#151357 91px,#212681 92px,#2d5cbd 93px,#4e9cde 94px,#98cdf0 95px,#b8ddf5 96px,#c9e7f8 97px,#d6edfa 100px,#d3ebfa 107px,#c5e4f8 110px,#a9d5f3 112px,#91c9ef 113px,#65afe6 114px,#4897dd 115px,#3a83d3 116px,#3276cd 117px,#3274cc 118px,#377ed1 119px,#4492da 120px,#5fabe4 121px,#8dc7ee 122px,#abd6f3 123px,#bee0f6 124px,#d3ecfa 126px,#e4f3fc 131px,#f1f9fe 146px,#f5fbfe 212px)"></div>
<div style="background-image:linear-gradient(90deg,#f5fbfe 1px,#f0f8fe 72px,#e4f3fc 81px,#d7edfa 84px,#cce8f9 85px,#b4daf5 86px,#7abcea 87px,#3981d2 88px,#283a9f 89px,#191965 90px,#151355 91px,#1f2279 92px,#2b52b6 93px,#4695db 94px,#8fc8ef 95px,#b5dbf5 96px,#c8e6f8 97px,#d5edfa 100px,#d4ecfa 107px,#c9e6f8 110px,#b1d9f4 112px,#9dcff1 113px,#53a1e0 115px,#3f8bd7 116px,#357bcf 117px,#3274cc 118px,#347acf 119px,#3e89d6 120px,#52a0e0 121px,#a0d1f2 123px,#b7dcf5 124px,#c7e5f8 125px,#dbeffb 128px,#ecf6fd 137px,#f4fafe 176px,#f5fbfe 212px)"></div>
<div style="background-image:linear-gradient(90deg,#f5fbfe 1px,#eff8fe 73px,#e4f3fc 81px,#d8eefa 84px,#cee9f9 85px,#b8ddf5 86px,#87c3ed 87px,#3e89d6 88px,#2942a8 89px,#1b1c6b 90px,#151353 91px,#1d1f72 92px,#2949af 93px,#408dd8 94px,#84c2ec 95px,#b2d9f4 96px,#c6e5f8 97px,#d3ebfa 99px,#d7edfa 105px,#cbe8f8 110px,#b7dcf5 112px,#a5d3f2 113px,#89c4ed 114px,#5fabe4 115px,#4594db 116px,#3981d2 117px,#3276cd 118px,#3277cd 119px,#3982d3 120px,#4796dc 121px,#65afe6 122px,#94cbef 123px,#aed7f4 124px,#cde8f9 126px,#ddf0fb 129px,#ecf7fd 138px,#f5fafe 180px,#f5fbfe 212px)"></div>
<div style="background-image:linear-gradient(90deg,#f5fbfe 1px,#eff8fe 73px,#e2f2fc 82px,#d9eefa 84px,#cfeaf9 85px,#bcdff6 86px,#93caef 87px,#4392da 88px,#2a4ab0 89px,#1d1f72 90px,#151353 91px,#1b1c6b 92px,#2841a6 93px,#3b85d4 94px,#79bbea 95px,#aed7f4 96px,#c4e4f7 97px,#d3ebfa 99px,#d7eefa 105px,#cde8f9 110px,#bcdff6 112px,#add7f4 113px,#98cdf0 114px,#6eb5e8 115px,#4f9ddf 116px,#3d88d5 117px,#347acf 118px,#3275cd 119px,#367cd0 120px,#418dd8 121px,#58a4e2 122px,#80bfeb 123px,#a4d2f2 124px,#c9e6f8 126px,#dcf0fb 129px,#ecf7fd 138px,#f4fafe 177px,#f5fbfe 212px)"></div>
<div style="background-image:linear-gradient(90deg,#f5fbfe 1px,#eff8fe 73px,#e2f2fc 82px,#d1eaf9 85px,#bfe1f7 86px,#9bcef1 87px,#4a9add 88px,#2b54b7 89px,#1f2279 90px,#151354 91px,#191965 92px,#28399e 93px,#377dd0 94px,#6eb4e8 95px,#aad5f3 96px,#c2e2f7 97px,#cde9f9 98px,#d8eefa 102px,#d2ebf9 109px,#cae7f8 111px,#b4daf5 113px,#a1d1f2 114px,#80bfec 115px,#5aa7e2 116px,#4391d9 117px,#387fd1 118px,#3276cd 119px,#3479ce 120px,#3c85d4 121px,#4c9ade 122px,#6cb3e7 123px,#99cdf0 124px,#b1d9f4 125px,#c2e3f7 126px,#d5ecfa 128px,#e7f4fd 134px,#f2f9fe 153px,#f5fbfe 212px)"></div>
<div style="background-image:linear-gradient(90deg,#f5fbfe 1px,#eff8fe 73px,#e3f3fc 82px,#d2ebf9 85px,#c3e3f7 86px,#a1d1f2 87px,#54a1e0 88px,#2d5ebe 89px,#212681 90px,#151356 91px,#181760 92px,#273297 93px,#3275cc 94px,#63aee5 95px,#a5d3f2 96px,#c0e1f7 97px,#cce8f9 98px,#d7edfa 101px,#d5edfa 108px,#c5e4f8 112px,#a9d5f3 114px,#92caef 115px,#67b0e6 116px,#4a9add 117px,#3c86d4 118px,#3479cf 119px,#3377cd 120px,#387fd1 121px,#4391da 122px,#5da8e3 123px,#87c3ed 124px,#a7d4f3 125px,#cae7f8 127px,#dcf0fb 130px,#ecf7fd 139px,#f5fafe 179px,#f5fbfe 212px)"></div>
<div style="background-image:linear-gradient(90deg,#f5fbfe 1px,#eff8fe 73px,#e3f3fc 82px,#d4ecfa 85px,#c6e5f8 86px,#a6d4f3 87px,#5ca8e3 88px,#2f68c4 89px,#242989 90px,#161459 91px,#17155c 92px,#252c8f 93px,#306bc6 94px,#5ba7e3 95px,#a1d1f2 96px,#bde0f6 97px,#cbe8f8 98px,#d7edfa 101px,#d4ecfa 109px,#c9e6f8 112px,#b1d9f4 114px,#9dcff1 115px,#56a3e1 117px,#418ed8 118px,#377ed1 119px,#3377cd 120px,#357bcf 121px,#3e89d6 122px,#509edf 123px,#73b8e9 124px,#9dcff1 125px,#b4daf5 126px,#c4e4f7 127px,#daeffb 130px,#ebf6fd 138px,#f4fafe 170px,#f5fbfe 212px)"></div>
<div style="background-image:linear-gradient(90deg,#f5fbfe 1px,#eff8fe 73px,#e4f3fc 82px,#d5ecfa 85px,#c9e6f8 86px,#acd6f3 87px,#65afe6 88px,#3172ca 89px,#262e92 90px,#17155d 91px,#161458 92px,#232886 93px,#2e62c0 94px,#53a1e0 95px,#9ccff1 96px,#bbdef6 97px,#cae7f8 98px,#d7edfa 101px,#d5edfa 109px,#cbe8f8 112px,#b7dcf5 114px,#a6d3f2 115px,#8ac5ee 116px,#62ace5 117px,#4796dc 118px,#3b84d3 119px,#3479ce 120px,#3479ce 121px,#3a82d3 122px,#4695dc 123px,#62ace5 124px,#8ec7ee 125px,#aad5f3 126px,#cbe7f8 128px,#dcf0fb 131px,#ecf7fd 140px,#f5fafe 181px,#f5fbfe 212px)"></div>
<div style="background-image:linear-gradient(90deg,#f5fbfe 1px,#f0f8fe 73px,#e4f3fc 82px,#d6edfa 85px,#cbe7f8 86px,#b1d9f4 87px,#71b6e8 88px,#357bcf 89px,#273599 90px,#181761 91px,#151355 92px,#21247e 93px,#2c58ba 94px,#4b9ade 95px,#96ccf0 96px,#b8ddf5 97px,#c9e7f8 98px,#d7edfa 101px,#d6edfa 109px,#c7e6f8 113px,#aed7f4 115px,#99cdf0 116px,#71b7e8 117px,#529fe0 118px,#3f8bd7 119px,#367dd0 120px,#3378ce 121px,#377dd1 122px,#408dd8 123px,#55a2e1 124px,#a0d1f2 126px,#c6e5f8 128px,#dbeffb 131px,#ebf6fd 139px,#f4fafe 172px,#f5fbfe 212px)"></div>
<div style="background-image:linear-gradient(90deg,#f5fbfe 1px,#f0f8fe 73px,#e4f3fc 82px,#d7edfa 85px,#cce8f9 86px,#b5dbf5 87px,#7dbeeb 88px,#3a83d3 89px,#283ca1 90px,#191966 91px,#151353 92px,#1e2177 93px,#2a4fb4 94px,#4493db 95px,#8dc7ee 96px,#b5dbf5 97px,#c8e6f8 98px,#d7edfa 101px,#d7edfa 109px,#cae7f8 113px,#b4daf5 115px,#a2d1f2 116px,#83c1ec 117px,#5da9e3 118px,#4494db 119px,#3a82d3 120px,#3479cf 121px,#357acf 122px,#3c86d4 123px,#4a99dd 124px,#67b0e6 125px,#94cbef 126px,#add7f4 127px,#cce8f9 129px,#ddf0fb 132px,#ecf7fd 141px,#f5fafe 183px,#f5fbfe 212px)"></div>
<div style="background-image:linear-gradient(90deg,#f5fbfe 1px,#eff8fe 74px,#e5f4fc 82px,#d8eefa 85px,#cee9f9 86px,#b9ddf5 87px,#89c4ed 88px,#3f8ad7 89px,#2943a8 90px,#1b1c6b 91px,#141252 92px,#1c1e70 93px,#2947ad 94px,#408cd7 95px,#83c1ec 96px,#b2d9f4 97px,#c7e5f8 98px,#d4ecfa 100px,#d9eefb 107px,#d0eaf9 112px,#c5e4f8 114px,#aad5f3 116px,#94cbef 117px,#6ab2e7 118px,#4e9cde 119px,#3e89d6 120px,#367cd0 121px,#3479ce 122px,#3880d2 123px,#4290d9 124px,#5aa6e2 125px,#81c0ec 126px,#a3d2f2 127px,#c7e6f8 129px,#dbeffb 132px,#ebf6fd 140px,#f4fafe 173px,#f5fbfe 212px)"></div>
<div style="background-image:linear-gradient(90deg,#f5fbfe 1px,#eff8fe 74px,#e2f2fc 83px,#d9eefb 85px,#cfeaf9 86px,#bcdff6 87px,#94cbf0 88px,#4492da 89px,#2a4bb0 90px,#1d1f71 91px,#141252 92px,#1b1b6a 93px,#2840a5 94px,#3b85d4 95px,#79bbea 96px,#afd7f4 97px,#c5e4f7 98px,#d4ecfa 100px,#d9eefb 107px,#cee9f9 113px,#bfe1f6 115px,#b1d9f4 116px,#9ed0f1 117px,#59a5e2 119px,#4391da 120px,#3981d2 121px,#347acf 122px,#367cd0 123px,#3e89d6 124px,#4e9ddf 125px,#6db4e7 126px,#99cdf0 127px,#b0d8f4 128px,#cde8f9 130px,#e0f2fc 134px,#eef7fe 145px,#f5fbfe 212px)"></div>
<div style="background-image:linear-gradient(90deg,#f5fbfe 1px,#eff8fe 74px,#e2f3fc 83px,#d1eaf9 86px,#bfe1f7 87px,#9bcef1 88px,#4a99dd 89px,#2b53b7 90px,#1f2278 91px,#141253 92px,#191964 93px,#27399e 94px,#377dd0 95px,#6fb5e8 96px,#abd6f3 97px,#c3e3f7 98px,#d3ecfa 100px,#d9effb 107px,#d0eaf9 113px,#c3e3f7 115px,#a6d4f3 117px,#8dc7ee 118px,#65afe5 119px,#4a99dd 120px,#3d87d5 121px,#367cd0 122px,#357acf 123px,#3a83d3 124px,#4594db 125px,#5eaae4 126px,#87c3ed 127px,#a6d3f2 128px,#c9e6f8 130px,#dcf0fb 133px,#ecf7fd 142px,#f5fafe 182px,#f5fbfe 212px)"></div>
<div style="background-image:linear-gradient(90deg,#f5fbfe 1px,#eff8fe 74px,#e3f3fc 83px,#d2ebf9 86px,#c3e3f7 87px,#a0d1f2 88px,#52a0e0 89px,#2d5cbd 90px,#21257f 91px,#151355 92px,#181760 93px,#273397 94px,#3276cd 95px,#65afe6 96px,#a7d4f3 97px,#c1e2f7 98px,#cde9f9 99px,#d8eefa 102px,#d6edfa 111px,#c7e6f8 115px,#aed7f4 117px,#9acef1 118px,#55a2e1 120px,#418fd9 121px,#3880d2 122px,#357acf 123px,#377fd1 124px,#408cd7 125px,#52a0e0 126px,#74b8e9 127px,#9ccff1 128px,#b2d9f4 129px,#cee9f9 131px,#e0f2fc 135px,#eef8fe 146px,#f5fbfe 212px)"></div>
<div style="background-image:linear-gradient(90deg,#f5fbfe 1px,#eff8fe 74px,#e3f3fc 83px,#d3ecfa 86px,#c6e5f8 87px,#a5d3f2 88px,#5ba7e2 89px,#2f65c3 90px,#232887 91px,#151357 92px,#17155c 93px,#262d90 94px,#306dc8 95px,#5da9e3 96px,#a2d2f2 97px,#bee0f6 98px,#cce8f9 99px,#d8eefa 102px,#d7edfa 111px,#cae7f8 115px,#b5dbf5 117px,#a3d2f2 118px,#86c3ed 119px,#60abe4 120px,#4797dc 121px,#3c86d4 122px,#367cd0 123px,#367cd0 124px,#3c86d4 125px,#4897dc 126px,#62ade5 127px,#8dc7ee 128px,#a9d5f3 129px,#cae7f8 131px,#dcf0fb 134px,#ecf7fd 143px,#f5fafe 184px,#f5fafe 212px)"></div>
<div style="background-image:linear-gradient(90deg,#f5fbfe 1px,#f0f8fe 74px,#e4f3fc 83px,#d5ecfa 86px,#c8e6f8 87px,#abd5f3 88px,#63ade5 89px,#316fc8 90px,#252c8f 91px,#16145b 92px,#161458 93px,#232988 94px,#2e64c2 95px,#56a3e1 96px,#9ed0f1 97px,#bcdff6 98px,#cbe8f8 99px,#d8eefa 102px,#d8eefa 111px,#cce8f9 115px,#badef6 117px,#96ccf0 119px,#6fb5e8 120px,#519fe0 121px,#408dd8 122px,#3880d2 123px,#357bd0 124px,#3981d2 125px,#428fd9 126px,#56a3e1 127px,#9fd0f1 129px,#c4e4f7 131px,#daeffb 134px,#ebf6fd 142px,#f4fafe 174px,#f5fafe 212px)"></div>
<div style="background-image:linear-gradient(90deg,#f5fbfe 1px,#f0f8fe 74px,#e4f3fc 83px,#d6edfa 86px,#cae7f8 87px,#afd8f4 88px,#6cb4e7 89px,#3377ce 90px,#273296 91px,#17165e 92px,#151355 93px,#212580 94px,#2d5cbd 95px,#4e9ddf 96px,#99cdf0 97px,#badef6 98px,#cae7f8 99px,#d8eefa 102px,#d8eefa 111px,#cee9f9 115px,#bfe1f7 117px,#9fd0f1 119px,#5ca8e3 121px,#4594db 122px,#3b85d4 123px,#367dd0 124px,#377ed1 125px,#3e88d6 126px,#4c9bde 127px,#67b1e6 128px,#92caef 129px,#acd6f3 130px,#cbe7f8 132px,#dcf0fb 135px,#ecf7fd 144px,#f5fafe 186px,#f5fafe 212px)"></div>
<div style="background-image:linear-gradient(90deg,#f5fbfe 1px,#f0f8fe 74px,#e4f3fc 83px,#d7edfa 86px,#cce8f9 87px,#b3daf5 88px,#77baea 89px,#377fd1 90px,#27389d 91px,#181862 92px,#141253 93px,#1f2279 94px,#2b53b7 95px,#4797dc 96px,#93caef 97px,#b7dcf5 98px,#c9e7f8 99px,#d8eefa 102px,#d9eefa 111px,#cbe8f8 116px,#b8ddf5 118px,#a8d4f3 119px,#91c9ef 120px,#69b2e7 121px,#4e9ddf 122px,#3f8bd7 123px,#387fd1 124px,#367dd0 125px,#3a83d3 126px,#4492da 127px,#5aa7e2 128px,#a2d1f2 130px,#c6e5f8 132px,#daeffb 135px,#ebf6fd 143px,#f4fafe 176px,#f5fafe 212px)"></div>
<div style="background-image:linear-gradient(90deg,#f5fbfe 1px,#eff8fe 75px,#e5f3fc 83px,#d8eefa 86px,#cde9f9 87px,#b7dcf5 88px,#82c0ec 89px,#3c86d4 90px,#283ea3 91px,#1a1a67 92px,#141252 93px,#1d1f73 94px,#2a4bb1 95px,#4290d9 96px,#8ac5ee 97px,#b5dbf5 98px,#c8e6f8 99px,#d7eefa 102px,#d9eefb 111px,#cee9f9 116px,#bde0f6 118px,#9ccff1 120px,#59a5e2 122px,#4492da 123px,#3b84d3 124px,#367dd0 125px,#3880d2 126px,#3f8bd7 127px,#4f9edf 128px,#6db4e7 129px,#97ccf0 130px,#aed7f4 131px,#cbe8f8 133px,#ddf0fb 136px,#ecf7fd 145px,#f5fafe 187px,#f5fafe 212px)"></div>
<div style="background-image:linear-gradient(90deg,#f5fbfe 1px,#eff8fe 75px,#e5f4fc 83px,#d8eefa 86px,#cfe9f9 87px,#badef6 88px,#8cc6ee 89px,#408dd8 90px,#2945ab 91px,#1b1c6c 92px,#141251 93px,#1c1d6d 94px,#2945aa 95px,#3e8ad6 96px,#81c0ec 97px,#b2d9f4 98px,#c7e5f8 99px,#d5ecfa 101px,#dbeffb 109px,#d3ecfa 115px,#c2e2f7 118px,#a5d3f2 120px,#8bc5ee 121px,#64aee5 122px,#4b9ade 123px,#3e8ad6 124px,#387fd1 125px,#377ed1 126px,#3c86d4 127px,#4695dc 128px,#5eaae4 129px,#85c2ec 130px,#a4d3f2 131px,#c7e5f8 133px,#dbeffb 136px,#ebf6fd 144px,#f4fafe 178px,#f5fafe 212px)"></div>
<div style="background-image:linear-gradient(90deg,#f5fbfe 1px,#eff8fe 75px,#e2f2fc 84px,#d9eefb 86px,#d0eaf9 87px,#bde0f6 88px,#96ccf0 89px,#4494db 90px,#2a4cb2 91px,#1d1f72 92px,#141251 93px,#1a1a68 94px,#283ea3 95px,#3a83d3 96px,#77baea 97px,#afd7f4 98px,#c5e4f8 99px,#d4ecfa 101px,#dbeffb 108px,#d4ecfa 115px,#c6e5f8 118px,#add6f3 120px,#99cdf0 121px,#74b8e9 122px,#56a3e1 123px,#4391d9 124px,#3a83d3 125px,#377ed1 126px,#3982d2 127px,#418ed8 128px,#53a1e0 129px,#72b7e9 130px,#9acef1 131px,#c1e2f7 133px,#d3ecfa 135px,#e7f4fd 141px,#f2f9fe 160px,#f5fafe 212px)"></div>
<div style="background-image:linear-gradient(90deg,#f5fbfe 1px,#eff8fe 75px,#e3f3fc 84px,#d1ebf9 87px,#c0e1f7 88px,#9bcef1 89px,#4b9ade 90px,#2b53b7 91px,#1f2278 92px,#141252 93px,#191863 94px,#27389d 95px,#367cd0 96px,#6eb5e8 97px,#abd6f3 98px,#c3e3f7 99px,#d4ecfa 101px,#dbeffb 108px,#d3ebfa 116px,#c9e7f8 118px,#b3daf5 120px,#a1d1f2 121px,#85c2ec 122px,#61ace4 123px,#4998dd 124px,#3e88d6 125px,#3880d1 126px,#387fd1 127px,#3d88d5 128px,#4998dd 129px,#62ade5 130px,#8ac5ee 131px,#a7d4f3 132px,#c8e6f8 134px,#dbeffb 137px,#ebf6fd 145px,#f4fafe 179px,#f5fafe 212px)"></div>
<div style="background-image:linear-gradient(90deg,#f5fbfe 1px,#f0f8fe 75px,#e3f3fc 84px,#d2ebf9 87px,#c3e3f7 88px,#a0d1f2 89px,#52a0e0 90px,#2d5cbd 91px,#21257e 92px,#151354 93px,#17165f 94px,#273296 95px,#3276cd 96px,#65afe6 97px,#a7d4f3 98px,#c1e2f7 99px,#cee9f9 100px,#d9eefb 103px,#d9eefb 113px,#cce8f9 118px,#b9ddf5 120px,#95cbf0 122px,#6fb5e8 123px,#53a0e0 124px,#428fd9 125px,#3a83d3 126px,#387fd1 127px,#3b84d3 128px,#4391da 129px,#57a4e1 130px,#9dcff1 132px,#c2e3f7 134px,#d4ecfa 136px,#e7f4fd 142px,#f2f9fe 161px,#f5fafe 212px)"></div>
<div style="background-image:linear-gradient(90deg,#f5fbfe 1px,#f0f8fe 75px,#e3f3fc 84px,#d3ecfa 87px,#c5e4f8 88px,#a5d3f2 89px,#5aa6e2 90px,#2e64c2 91px,#232885 92px,#151356 93px,#16145b 94px,#262d90 95px,#306ec8 96px,#5eaae4 97px,#a3d2f2 98px,#bfe1f7 99px,#cde8f9 100px,#d9eefa 103px,#daeffb 113px,#cee9f9 118px,#bee0f6 120px,#9ed0f1 122px,#5da9e3 124px,#4796dc 125px,#3d88d5 126px,#3880d2 127px,#3981d2 128px,#3f8bd7 129px,#4c9bde 130px,#66b0e6 131px,#8fc8ef 132px,#a9d5f3 133px,#c9e7f8 135px,#dbeffb 138px,#ebf6fd 146px,#f4fafe 181px,#f5fafe 212px)"></div>
<div style="background-image:linear-gradient(90deg,#f5fbfe 1px,#f0f8fe 75px,#e4f3fc 84px,#d5ecfa 87px,#c8e6f8 88px,#aad5f3 89px,#61ace4 90px,#306cc7 91px,#252b8c 92px,#161459 93px,#151358 94px,#242989 95px,#2f66c3 96px,#58a4e2 97px,#9fd0f1 98px,#bde0f6 99px,#cce8f9 100px,#d9eefa 103px,#daeffb 113px,#d0eaf9 118px,#c3e3f7 120px,#a7d4f3 122px,#90c8ef 123px,#6ab2e7 124px,#509edf 125px,#418ed8 126px,#3a83d3 127px,#3880d2 128px,#3c86d4 129px,#4594db 130px,#5aa6e2 131px,#9fd0f1 133px,#c3e3f7 135px,#daeffb 138px,#ebf6fd 146px,#f4fafe 178px,#f5fafe 212px)"></div>
<div style="background-image:linear-gradient(90deg,#f5fbfe 1px,#f0f8fe 75px,#e4f3fc 84px,#d5edfa 87px,#c9e7f8 88px,#aed7f4 89px,#68b1e6 90px,#3274cc 91px,#262f93 92px,#17155c 93px,#151355 94px,#222682 95px,#2d5ebe 96px,#519fdf 97px,#9bcef1 98px,#bbdff6 99px,#cbe8f8 100px,#d9eefa 103px,#dbeffb 113px,#d1ebf9 118px,#c7e5f8 120px,#aed7f4 122px,#9bcff1 123px,#5ba7e2 125px,#4595db 126px,#3d87d5 127px,#3981d2 128px,#3a83d3 129px,#408dd8 130px,#509edf 131px,#6bb3e7 132px,#93caef 133px,#abd6f3 134px,#cae7f8 136px,#dcf0fb 139px,#ebf6fd 147px,#f4fafe 182px,#f5fafe 212px)"></div>
<div style="background-image:linear-gradient(90deg,#f5fbfe 1px,#f0f8fe 75px,#e4f3fc 84px,#d6edfa 87px,#cbe7f8 88px,#b2d9f4 89px,#72b7e9 90px,#357bcf 91px,#273499 92px,#18165f 93px,#141252 94px,#20237b 95px,#2c56b9 96px,#4a9add 97px,#97ccf0 98px,#b9ddf5 99px,#cae7f8 100px,#d8eefa 103px,#daeffb 114px,#cfeaf9 119px,#c1e2f7 121px,#a4d2f2 123px,#8bc5ee 124px,#66afe6 125px,#4e9cde 126px,#408dd8 127px,#3a83d3 128px,#3981d2 129px,#3d88d5 130px,#4796dc 131px,#5ea9e3 132px,#a1d1f2 134px,#c5e4f7 136px,#daeffb 139px,#ebf6fd 147px,#f4fafe 180px,#f5fafe 212px)"></div>
<div style="background-image:linear-gradient(90deg,#f5fbfe 1px,#eff8fe 76px,#e5f3fc 84px,#d7eefa 87px,#cce8f9 88px,#b5dbf5 89px,#7cbdeb 90px,#3981d2 91px,#283a9f 92px,#191863 93px,#141251 94px,#1e2075 95px,#2a4fb4 96px,#4594db 97px,#90c8ef 98px,#b7dcf5 99px,#cae7f8 100px,#d8eefa 103px,#dbeffb 114px,#d1eaf9 119px,#c6e5f8 121px,#acd6f3 123px,#99cdf0 124px,#58a5e2 126px,#4493db 127px,#3c87d5 128px,#3981d2 129px,#3b84d4 130px,#4290d9 131px,#53a1e0 132px,#6fb6e8 133px,#97ccf0 134px,#bee0f6 136px,#d2ebf9 138px,#e4f3fc 143px,#f1f8fe 158px,#f5fafe 212px)"></div>
<div style="background-image:linear-gradient(90deg,#f5fbfe 1px,#eff8fe 76px,#e5f4fc 84px,#d8eefa 87px,#cee9f9 88px,#b8dcf5 89px,#85c2ed 90px,#3d88d5 91px,#2840a5 92px,#1a1a67 93px,#141250 94px,#1c1e70 95px,#2949ae 96px,#418ed8 97px,#88c4ed 98px,#b4daf5 99px,#c9e6f8 100px,#d6edfa 102px,#ddf0fb 110px,#d5edfa 118px,#c9e7f8 121px,#b3daf4 123px,#a1d1f2 124px,#86c3ed 125px,#62ade5 126px,#4c9bde 127px,#408cd7 128px,#3a83d3 129px,#3a82d3 130px,#3f8ad6 131px,#4a99dd 132px,#61ace4 133px,#86c3ed 134px,#a4d2f2 135px,#c6e5f8 137px,#daeffb 140px,#ebf6fd 148px,#f4fafe 181px,#f5fafe 212px)"></div>
<div style="background-image:linear-gradient(90deg,#f5fbfe 1px,#eff8fe 76px,#e2f2fc 85px,#d9eefa 87px,#cfe9f9 88px,#bbdef6 89px,#8ec7ee 90px,#418ed8 91px,#2946ab 92px,#1b1c6c 93px,#14124f 94px,#1b1c6b 95px,#2943a8 96px,#3d88d6 97px,#80bfeb 98px,#b2d9f4 99px,#c7e6f8 100px,#d5edfa 102px,#ddf0fb 110px,#d4ecfa 119px,#c4e4f7 122px,#a9d5f3 124px,#95cbf0 125px,#71b6e8 126px,#55a3e1 127px,#4492da 128px,#3c86d5 129px,#3a82d3 130px,#3c86d5 131px,#4492da 132px,#56a3e1 133px,#74b8e9 134px,#9acef1 135px,#bfe1f7 137px,#d2ebf9 139px,#e4f3fc 144px,#f1f8fe 159px,#f5fafe 212px)"></div>
<div style="background-image:linear-gradient(90deg,#f5fbfe 1px,#eff8fe 76px,#e2f3fc 85px,#d9eefb 87px,#d0eaf9 88px,#bde0f6 89px,#96ccf0 90px,#4494db 91px,#2a4bb1 92px,#1d1e71 93px,#14124f 94px,#191966 95px,#283da2 96px,#3a82d3 97px,#77baea 98px,#afd8f4 99px,#c6e5f8 100px,#d5edfa 102px,#ddf0fb 110px,#d5edfa 119px,#c8e6f8 122px,#b1d8f4 124px,#9ed0f1 125px,#60abe4 127px,#4a99dd 128px,#3f8bd7 129px,#3a84d3 130px,#3b84d3 131px,#408cd7 132px,#4d9bde 133px,#64aee5 134px,#8bc5ee 135px,#a6d3f2 136px,#c7e5f8 138px,#daeffb 141px,#ebf6fd 149px,#f4fafe 183px,#f5fafe 212px)"></div>
<div style="background-image:linear-gradient(90deg,#f5fbfe 1px,#f0f8fe 76px,#e3f3fc 85px,#d1ebf9 88px,#c0e1f7 89px,#9bcef1 90px,#4a99dd 91px,#2b52b7 92px,#1e2176 93px,#141250 94px,#181862 95px,#27389c 96px,#367dd0 97px,#6fb5e8 98px,#acd6f3 99px,#c4e4f7 100px,#d5ecfa 102px,#ddf0fb 109px,#d6edfa 119px,#cbe7f8 122px,#b6dcf5 124px,#91c9ef 126px,#6db4e7 127px,#53a1e0 128px,#4391da 129px,#3c86d5 130px,#3a83d3 131px,#3d88d5 132px,#4594db 133px,#59a6e2 134px,#9ccff1 136px,#c0e1f7 138px,#d3ebfa 140px,#e6f4fd 146px,#f2f9fe 165px,#f5fafe 212px)"></div>
<div style="background-image:linear-gradient(90deg,#f5fbfe 1px,#f0f8fe 76px,#e3f3fc 85px,#d2ebf9 88px,#c2e3f7 89px,#9fd0f1 90px,#509edf 91px,#2c59bb 92px,#20237c 93px,#141251 94px,#17165e 95px,#273297 96px,#3377cd 97px,#67b0e6 98px,#a8d5f3 99px,#c2e3f7 100px,#cee9f9 101px,#dbeffb 105px,#daeffb 117px,#cde8f9 122px,#bcdff6 124px,#9ccff1 126px,#5da9e3 128px,#4898dd 129px,#3f8bd7 130px,#3b84d4 131px,#3c85d4 132px,#418ed8 133px,#4f9edf 134px,#68b1e6 135px,#8fc8ee 136px,#a8d4f3 137px,#c7e6f8 139px,#dbeffb 142px,#ebf6fd 150px,#f4fafe 184px,#f5fafe 212px)"></div>
<div style="background-image:linear-gradient(90deg,#f5fbfe 1px,#f0f8fe 76px,#e3f3fc 85px,#d3ecfa 88px,#c5e4f7 89px,#a3d2f2 90px,#57a4e1 91px,#2e60bf 92px,#212681 93px,#141253 94px,#16145b 95px,#262e91 96px,#3170c9 97px,#61ace4 98px,#a5d3f2 99px,#c1e2f7 100px,#cee9f9 101px,#daeffb 104px,#dbeffb 116px,#cfe9f9 122px,#c1e2f7 124px,#a4d3f2 126px,#8dc7ee 127px,#69b2e7 128px,#519fe0 129px,#4290d9 130px,#3c87d5 131px,#3b84d4 132px,#3e8ad6 133px,#4797dc 134px,#5ca8e3 135px,#9ed0f1 137px,#c1e2f7 139px,#d3ecfa 141px,#e7f4fd 147px,#f2f9fe 166px,#f5fafe 212px)"></div>
<div style="background-image:linear-gradient(90deg,#f5fbfe 1px,#f0f8fe 76px,#e4f3fc 85px,#d4ecfa 88px,#c7e5f8 89px,#a7d4f3 90px,#5da9e3 91px,#2f67c4 92px,#232987 93px,#151355 94px,#151357 95px,#242a8b 96px,#2f69c5 97px,#5ba7e3 98px,#a2d1f2 99px,#bfe1f6 100px,#cde9f9 101px,#d9effb 104px,#dcf0fb 116px,#d1eaf9 122px,#c5e4f8 124px,#acd6f3 126px,#9acef1 127px,#5ba7e3 129px,#4797dc 130px,#3f8ad7 131px,#3b85d4 132px,#3d87d5 133px,#4391d9 134px,#52a0e0 135px,#6cb3e7 136px,#92caef 137px,#bbdef6 139px,#d0eaf9 141px,#e4f3fc 146px,#f0f8fe 160px,#f5fafe 212px)"></div>
<div style="background-image:linear-gradient(90deg,#f5fbfe 1px,#f0f8fe 76px,#e4f3fc 85px,#d5ecfa 88px,#c9e6f8 89px,#abd6f3 90px,#63ade5 91px,#306ec8 92px,#252b8d 93px,#161458 94px,#151355 95px,#222885 96px,#2e62c1 97px,#55a2e1 98px,#9ed0f1 99px,#bde0f6 100px,#cce8f9 101px,#d9effb 104px,#dcf0fb 116px,#d2ebf9 122px,#c9e6f8 124px,#b3daf4 126px,#a2d1f2 127px,#89c4ed 128px,#66b0e6 129px,#509edf 130px,#4290d9 131px,#3d87d5 132px,#3c85d4 133px,#408cd7 134px,#4999dd 135px,#5faae4 136px,#a0d0f1 138px,#c2e3f7 140px,#d9eefb 143px,#e9f5fd 150px,#f3fafe 177px,#f5fafe 212px)"></div>
<div style="background-image:linear-gradient(90deg,#f5fbfe 1px,#f0f8fe 76px,#e4f3fc 85px,#d6edfa 88px,#cae7f8 89px,#afd7f4 90px,#6ab2e7 91px,#3275cc 92px,#262f93 93px,#16145b 94px,#141252 95px,#21257f 96px,#2d5cbd 97px,#509edf 98px,#9bcef1 99px,#bbdff6 100px,#cce8f9 101px,#d9eefb 104px,#dcf0fb 116px,#d4ecfa 122px,#c4e4f7 125px,#aad5f3 127px,#97ccf0 128px,#75b9e9 129px,#59a6e2 130px,#4696dc 131px,#3f8ad7 132px,#3c86d4 133px,#3d88d6 134px,#4493da 135px,#55a2e1 136px,#70b6e8 137px,#95cbf0 138px,#bcdff6 140px,#d1eaf9 142px,#e4f3fc 147px,#f0f8fe 161px,#f5fafe 212px)"></div>
<div style="background-image:linear-gradient(90deg,#f5fbfe 1px,#eff8fe 77px,#e4f3fc 85px,#d7edfa 88px,#cbe8f8 89px,#b2d9f4 90px,#72b7e9 91px,#357bcf 92px,#273498 93px,#17165e 94px,#141250 95px,#1f227a 96px,#2b55b8 97px,#4a99dd 98px,#97ccf0 99px,#b9ddf6 100px,#cbe7f8 101px,#d9eefb 104px,#ddf0fb 116px,#d2ebf9 123px,#c8e6f8 125px,#b1d9f4 127px,#a0d0f1 128px,#85c2ec 129px,#63aee5 130px,#4e9ddf 131px,#428fd9 132px,#3d87d5 133px,#3c87d5 134px,#418ed8 135px,#4c9bde 136px,#61ace5 137px,#85c2ec 138px,#a2d1f2 139px,#c3e3f7 141px,#d9eefb 144px,#eaf6fd 151px,#f4fafe 179px,#f5fafe 212px)"></div>
<div style="background-image:linear-gradient(90deg,#f5fbfe 1px,#eff8fe 77px,#e5f4fc 85px,#d7eefa 88px,#cce8f9 89px,#b4dbf5 90px,#7abcea 91px,#3880d2 92px,#27389d 93px,#181761 94px,#14124f 95px,#1e2075 96px,#2a4fb4 97px,#4594db 98px,#91c9ef 99px,#b7dcf5 100px,#cae7f8 101px,#d9eefb 104px,#ddf0fb 116px,#d3ecfa 123px,#c2e3f7 126px,#a8d4f3 128px,#94cbf0 129px,#71b7e8 130px,#57a4e1 131px,#4695dc 132px,#3f8ad7 133px,#3c86d5 134px,#3e8ad6 135px,#4595db 136px,#57a4e1 137px,#73b8e9 138px,#98cdf0 139px,#bddff6 141px,#d1eaf9 143px,#e4f3fc 148px,#f0f8fe 162px,#f5fafe 212px)"></div>
<div style="background-image:linear-gradient(90deg,#f5fbfe 1px,#eff8fe 77px,#e5f4fc 85px,#d8eefa 88px,#cde9f9 89px,#b7dcf5 90px,#82c1ec 91px,#3c85d4 92px,#283da2 93px,#191965 94px,#13114e 95px,#1c1e70 96px,#294aaf 97px,#428fd9 98px,#8ac5ee 99px,#b5dbf5 100px,#c9e7f8 101px,#d6edfa 103px,#def1fb 112px,#d7eefa 122px,#c7e5f8 126px,#afd8f4 128px,#9dcff1 129px,#61ace4 131px,#4d9cde 132px,#428fd9 133px,#3d88d5 134px,#3d88d5 135px,#428fd9 136px,#4f9ddf 137px,#64aee5 138px,#88c4ed 139px,#a3d2f2 140px,#c4e4f7 142px,#d9eefb 145px,#eaf6fd 152px,#f4fafe 180px,#f5fafe 212px)"></div>
<div style="background-image:linear-gradient(90deg,#f5fbfe 1px,#f0f8fe 77px,#e5f4fc 85px,#d8eefa 88px,#cee9f9 89px,#b9ddf6 90px,#8ac5ed 91px,#3f8ad7 92px,#2942a7 93px,#1a1b68 94px,#13114d 95px,#1b1c6b 96px,#2945aa 97px,#3f8ad7 98px,#83c1ec 99px,#b3daf5 100px,#c8e6f8 101px,#d6edfa 103px,#def1fc 112px,#d6edfa 123px,#cae7f8 126px,#b5dbf5 128px,#91c9ef 130px,#6eb5e8 131px,#56a3e1 132px,#4595db 133px,#3f8bd7 134px,#3d87d5 135px,#3f8cd7 136px,#4797dc 137px,#5aa6e2 138px,#9acef1 140px,#bee0f6 142px,#d1ebf9 144px,#e4f3fc 149px,#f0f8fe 163px,#f5fafe 212px)"></div>
<div style="background-image:linear-gradient(90deg,#f5fbfe 1px,#f0f8fe 77px,#e2f3fc 86px,#d9eefb 88px,#cfeaf9 89px,#bcdff6 90px,#91c9ef 91px,#428fd9 92px,#2947ad 93px,#1b1c6c 94px,#13114d 95px,#1a1a67 96px,#2840a5 97px,#3c86d4 98px,#7dbdeb 99px,#b1d9f4 100px,#c7e6f8 101px,#d6edfa 103px,#def1fc 111px,#d7edfa 123px,#c5e4f8 127px,#add7f4 129px,#9bcef1 130px,#5fabe4 132px,#4c9bde 133px,#418fd9 134px,#3d88d6 135px,#3e89d6 136px,#4391da 137px,#519fdf 138px,#67b0e6 139px,#8bc6ee 140px,#a5d3f2 141px,#c5e4f7 143px,#d9effb 146px,#ebf6fd 154px,#f4fafe 187px,#f5fafe 212px)"></div>
<div style="background-image:linear-gradient(90deg,#f5fbfe 1px,#f0f8fe 77px,#e3f3fc 86px,#d9effb 88px,#d0eaf9 89px,#bee0f6 90px,#97cdf0 91px,#4594db 92px,#2a4cb2 93px,#1d1e70 94px,#13114d 95px,#191863 96px,#283ba0 97px,#3981d2 98px,#76b9e9 99px,#afd7f4 100px,#c6e5f8 101px,#d6edfa 103px,#def1fc 111px,#d8eefa 123px,#c9e6f8 127px,#b4daf5 129px,#a3d2f2 130px,#8dc7ee 131px,#6bb3e7 132px,#55a2e1 133px,#4594db 134px,#3f8bd7 135px,#3e88d6 136px,#408dd8 137px,#4998dd 138px,#5ca8e3 139px,#9bcef1 141px,#bee0f6 143px,#d2ebf9 145px,#e4f3fc 150px,#f0f8fe 164px,#f5fafe 212px)"></div>
<div style="background-image:linear-gradient(90deg,#f5fbfe 1px,#f0f8fe 77px,#e3f3fc 86px,#d1ebf9 89px,#c0e1f7 90px,#9bcef1 91px,#4999dd 92px,#2b51b6 93px,#1e2075 94px,#13114e 95px,#181760 96px,#27369b 97px,#367cd0 98px,#6fb5e8 99px,#acd6f3 100px,#c5e4f7 101px,#d5edfa 103px,#dff1fc 111px,#d9eefa 123px,#cbe8f8 127px,#b9ddf6 129px,#99cef1 131px,#5ea9e3 133px,#4b9ade 134px,#418fd9 135px,#3e89d6 136px,#3f8bd7 137px,#4493db 138px,#53a1e0 139px,#6ab2e7 140px,#8fc8ee 141px,#a6d3f2 142px,#c5e5f8 144px,#daeffb 147px,#ebf6fd 155px,#f4fafe 189px,#f5fafe 212px)"></div>
<div style="background-image:linear-gradient(90deg,#f5fbfe 1px,#f0f8fe 77px,#e3f3fc 86px,#d2ebf9 89px,#c2e2f7 90px,#9ed0f1 91px,#4f9ddf 92px,#2c57ba 93px,#1f2279 94px,#14124f 95px,#17155d 96px,#273296 97px,#3377ce 98px,#68b1e6 99px,#a9d5f3 100px,#c3e3f7 101px,#d5edfa 103px,#def1fc 110px,#d9effb 123px,#c8e6f8 128px,#b2d9f4 130px,#a2d1f2 131px,#8ac5ed 132px,#69b1e6 133px,#53a1e0 134px,#4594db 135px,#3f8bd7 136px,#3e89d6 137px,#418fd9 138px,#4b9ade 139px,#5faae4 140px,#9dcff1 142px,#bfe1f7 144px,#d2ebf9 146px,#e4f3fc 151px,#f1f8fe 166px,#f5fafe 212px)"></div>
<div style="background-image:linear-gradient(90deg,#f5fbfe 1px,#f0f8fe 77px,#e3f3fc 86px,#d3ebfa 89px,#c4e4f7 90px,#a2d1f2 91px,#54a1e0 92px,#2d5dbd 93px,#20247e 94px,#141250 95px,#16145a 96px,#262e92 97px,#3172ca 98px,#63ade5 99px,#a7d4f3 100px,#c2e2f7 101px,#cfe9f9 102px,#daeffb 105px,#def1fb 118px,#d4ecfa 126px,#c3e3f7 129px,#a9d5f3 131px,#98cdf0 132px,#5ca8e3 134px,#4a9add 135px,#3e8ad6 137px,#408cd7 138px,#4595db 139px,#55a3e1 140px,#6db4e8 141px,#91c9ef 142px,#b8ddf5 144px,#cfe9f9 146px,#e0f2fc 150px,#eef7fe 160px,#f5fafe 212px)"></div>
<div style="background-image:linear-gradient(90deg,#f5fbfe 1px,#f0f8fe 77px,#e4f3fc 86px,#d4ecfa 89px,#c6e5f8 90px,#a5d3f2 91px,#59a5e2 92px,#2e62c1 93px,#222682 94px,#141252 95px,#151357 96px,#252b8d 97px,#306cc7 98px,#5ea9e3 99px,#a4d2f2 100px,#c0e2f7 101px,#cee9f9 102px,#daeffb 105px,#def1fb 118px,#d5ecfa 126px,#c7e5f8 129px,#b1d8f4 131px,#a0d1f2 132px,#87c3ed 133px,#67b0e6 134px,#52a0e0 135px,#4494db 136px,#408cd7 137px,#3f8bd7 138px,#4290d9 139px,#4d9cde 140px,#61ace4 141px,#9ed0f1 143px,#c0e1f7 145px,#d2ebf9 147px,#e6f4fd 153px,#f2f9fe 171px,#f5fafe 212px)"></div>
<div style="background-image:linear-gradient(90deg,#f5fbfe 1px,#f0f8fe 77px,#e4f3fc 86px,#d4ecfa 89px,#c7e6f8 90px,#a8d4f3 91px,#5ea9e3 92px,#2f68c4 93px,#232887 94px,#151354 95px,#151354 96px,#232988 97px,#2f67c3 98px,#59a6e2 99px,#a1d1f2 100px,#bfe1f7 101px,#cde9f9 102px,#daeffb 105px,#def1fc 118px,#d6edfa 126px,#cae7f8 129px,#b6dcf5 131px,#95cbf0 133px,#75b9e9 134px,#5ba7e3 135px,#4a99dd 136px,#3f8bd7 138px,#418dd8 139px,#4796dc 140px,#58a4e1 141px,#70b6e8 142px,#94cbef 143px,#b9ddf6 145px,#cfe9f9 147px,#e3f3fc 152px,#f0f8fe 165px,#f5fafe 212px)"></div>
<div style="background-image:linear-gradient(90deg,#f5fbfe 1px,#f0f8fe 77px,#e4f3fc 86px,#d5edfa 89px,#c9e6f8 90px,#abd6f3 91px,#62ade5 92px,#306dc8 93px,#252b8c 94px,#151356 95px,#141252 96px,#222783 97px,#2e61c0 98px,#55a2e1 99px,#9ed0f1 100px,#bee0f6 101px,#cde8f9 102px,#daeffb 105px,#dff1fc 118px,#d5ecfa 127px,#c6e5f8 130px,#afd8f4 132px,#9ed0f1 133px,#65afe6 135px,#529fe0 136px,#4493db 137px,#408cd7 138px,#408cd7 139px,#4392da 140px,#4f9edf 141px,#63ade5 142px,#a0d0f1 144px,#c0e2f7 146px,#d2ebf9 148px,#e6f4fd 154px,#f2f9fe 172px,#f5fafe 212px)"></div>
<div style="background-image:linear-gradient(90deg,#f5fbfe 1px,#f0f8fe 77px,#e4f3fc 86px,#d6edfa 89px,#cae7f8 90px,#aed7f4 91px,#68b1e6 92px,#3173cb 93px,#262d91 94px,#161458 95px,#141250 96px,#21247e 97px,#2d5cbd 98px,#509edf 99px,#9bcef1 100px,#bcdff6 101px,#cce8f9 102px,#daeffb 105px,#dff1fc 118px,#d6edfa 127px,#c9e7f8 130px,#b5dbf5 132px,#93caef 134px,#72b7e9 135px,#5aa6e2 136px,#4999dd 137px,#3f8cd7 139px,#418fd9 140px,#4898dd 141px,#5aa6e2 142px,#73b8e9 143px,#96ccf0 144px,#badef6 146px,#cfeaf9 148px,#e3f3fc 153px,#f0f8fe 166px,#f5fafe 212px)"></div>
<div style="background-image:linear-gradient(90deg,#f5fbfe 1px,#eff8fe 78px,#e5f3fc 86px,#d6edfa 89px,#cbe7f8 90px,#b0d8f4 91px,#6eb5e8 92px,#3378ce 93px,#263095 94px,#16145a 95px,#13114e 96px,#1f227a 97px,#2c57b9 98px,#4c9bde 99px,#99cdf0 100px,#badef6 101px,#cce8f9 102px,#daeffb 105px,#dff1fc 118px,#d7edfa 127px,#c5e4f7 131px,#add7f4 133px,#9dcff1 134px,#63aee5 136px,#4493db 138px,#408dd8 139px,#408dd8 140px,#4493db 141px,#519fe0 142px,#65afe6 143px,#86c3ed 144px,#a1d1f2 145px,#c1e2f7 147px,#d8eefa 150px,#e9f5fd 157px,#f3fafe 184px,#f5fafe 212px)"></div>
<div style="background-image:linear-gradient(90deg,#f5fbfe 1px,#eff8fe 78px,#e5f4fc 86px,#d7edfa 89px,#cce8f9 90px,#b3d9f4 91px,#75b8e9 92px,#367cd0 93px,#273498 94px,#17155d 95px,#13114d 96px,#1e2176 97px,#2b52b6 98px,#4797dc 99px,#95ccf0 100px,#b9ddf5 101px,#cbe8f8 102px,#daeffb 105px,#dff1fc 118px,#d6edfa 128px,#c9e6f8 131px,#b4daf5 133px,#90c9ef 135px,#70b6e8 136px,#59a6e2 137px,#4999dd 138px,#408dd8 140px,#4290d9 141px,#4a9add 142px,#5ba7e3 143px,#76b9e9 144px,#97cdf0 145px,#bbdef6 147px,#cfeaf9 149px,#e3f3fc 154px,#f0f8fe 167px,#f5fafe 212px)"></div>
<div style="background-image:linear-gradient(90deg,#f5fbfe 1px,#f0f8fe 78px,#e5f4fc 86px,#d7eefa 89px,#cce8f9 90px,#b5dbf5 91px,#7bbcea 92px,#3880d2 93px,#27389c 94px,#18165f 95px,#13114c 96px,#1d1f72 97px,#2a4db3 98px,#4493db 99px,#90c9ef 100px,#b7dcf5 101px,#cae7f8 102px,#daeffb 105px,#dff1fc 118px,#d7edfa 128px,#c4e4f7 132px,#acd6f3 134px,#9bcef1 135px,#62ade5 137px,#4494db 139px,#418ed8 140px,#418ed8 141px,#4595db 142px,#53a1e0 143px,#67b1e6 144px,#89c4ed 145px,#a2d1f2 146px,#c2e2f7 148px,#d8eefa 151px,#e9f5fd 158px,#f3fafe 185px,#f5fafe 212px)"></div>
<div style="background-image:linear-gradient(90deg,#f5fbfe 1px,#f0f8fe 78px,#e5f4fc 86px,#d8eefa 89px,#cde9f9 90px,#b6dcf5 91px,#81c0ec 92px,#3b84d3 93px,#283ba0 94px,#181862 95px,#13114b 96px,#1c1d6e 97px,#2949af 98px,#428fd9 99px,#8bc6ee 100px,#b6dbf5 101px,#cae7f8 102px,#d7edfa 104px,#e0f1fc 113px,#daeffb 127px,#c8e6f8 132px,#b3d9f4 134px,#8ec7ee 136px,#6eb5e8 137px,#58a5e2 138px,#4998dd 139px,#418dd8 141px,#4391da 142px,#4c9bde 143px,#5da9e3 144px,#99cdf0 146px,#bbdef6 148px,#cfeaf9 150px,#e3f3fc 155px,#f0f8fe 168px,#f5fafe 212px)"></div>
<div style="background-image:linear-gradient(90deg,#f5fbfe 1px,#f0f8fe 78px,#e5f4fd 86px,#d8eefa 89px,#cee9f9 90px,#b8ddf5 91px,#86c3ed 92px,#3d88d5 93px,#283fa4 94px,#191965 95px,#13114a 96px,#1b1c6b 97px,#2945ab 98px,#408cd7 99px,#86c3ed 100px,#b4dbf5 101px,#c9e7f8 102px,#d7edfa 104px,#e0f1fc 113px,#daeffb 127px,#cbe7f8 132px,#aad5f3 135px,#9acef1 136px,#61ace5 138px,#4594db 140px,#418ed8 141px,#428fd9 142px,#4796dc 143px,#55a2e1 144px,#6ab2e7 145px,#8bc6ee 146px,#a3d2f2 147px,#c2e3f7 149px,#d8eefa 152px,#e9f5fd 159px,#f3fafe 186px,#f5fafe 212px)"></div>
<div style="background-image:linear-gradient(90deg,#f5fbfe 1px,#f0f8fe 78px,#e5f4fd 86px,#d9eefa 89px,#cfe9f9 90px,#badef6 91px,#8cc6ee 92px,#3f8bd7 93px,#2942a8 94px,#1a1a67 95px,#12104a 96px,#1a1a67 97px,#2841a7 98px,#3d88d5 99px,#81c0ec 100px,#b3daf4 101px,#c8e6f8 102px,#d7edfa 104px,#e0f2fc 113px,#d9effb 128px,#c7e5f8 133px,#b1d9f4 135px,#8cc6ee 137px,#6db4e7 138px,#58a4e2 139px,#4998dd 140px,#418ed8 142px,#4493da 143px,#4e9cde 144px,#5faae4 145px,#9acef1 147px,#bcdff6 149px,#d0eaf9 151px,#e3f3fc 156px,#f0f8fe 169px,#f5fafe 212px)"></div>
<div style="background-image:linear-gradient(90deg,#f5fbfe 1px,#f0f8fe 78px,#e2f3fc 87px,#d9eefb 89px,#d0eaf9 90px,#bcdff6 91px,#91c9ef 92px,#428fd9 93px,#2946ac 94px,#1b1b6a 95px,#12104a 96px,#191964 97px,#283ea3 98px,#3b84d4 99px,#7cbdea 100px,#b1d9f4 101px,#c8e6f8 102px,#d6edfa 104px,#e0f1fc 112px,#daeffb 128px,#cae7f8 133px,#a9d5f3 136px,#98cdf0 137px,#60abe4 139px,#4594db 141px,#428fd9 142px,#4290d9 143px,#4898dd 144px,#57a4e1 145px,#6cb4e7 146px,#8dc7ee 147px,#b5dbf5 149px,#cce8f9 151px,#dff1fc 155px,#edf7fd 164px,#f5fafe 212px)"></div>
<div style="background-image:linear-gradient(90deg,#f5fbfe 1px,#f0f8fe 78px,#e3f3fc 87px,#d9effb 89px,#d0eaf9 90px,#bde0f6 91px,#96ccf0 92px,#4493da 93px,#2949af 94px,#1c1d6d 95px,#12104a 96px,#181761 97px,#283a9f 98px,#3981d2 99px,#76bae9 100px,#afd8f4 101px,#c7e5f8 102px,#d6edfa 104px,#e0f1fc 112px,#dbeffb 128px,#cce8f9 133px,#bcdff6 135px,#a0d1f2 137px,#8ac5ed 138px,#6bb3e7 139px,#4998dd 141px,#428fd9 143px,#4594db 144px,#509edf 145px,#61ace4 146px,#9bcef1 148px,#bcdff6 150px,#d0eaf9 152px,#e3f3fc 157px,#f0f8fe 170px,#f5fafe 212px)"></div>
<div style="background-image:linear-gradient(90deg,#f5fbfe 1px,#f0f8fe 78px,#e3f3fc 87px,#d1eaf9 90px,#bfe1f6 91px,#99cdf0 92px,#4696dc 93px,#2a4db3 94px,#1c1e70 95px,#13114a 96px,#17165f 97px,#27379c 98px,#377dd0 99px,#71b7e8 100px,#aed7f4 101px,#c6e5f8 102px,#d6edfa 104px,#e0f1fc 112px,#dbeffb 128px,#cfe9f9 133px,#c1e2f7 135px,#97ccf0 138px,#60abe4 140px,#4594db 142px,#4290d9 143px,#4a99dd 145px,#58a5e2 146px,#6eb5e8 147px,#8fc8ef 148px,#b5dbf5 150px,#cce8f9 152px,#dff1fc 156px,#edf7fd 165px,#f5fafe 212px)"></div>
<div style="background-image:linear-gradient(90deg,#f5fbfe 1px,#f0f8fe 78px,#e3f3fc 87px,#d1ebf9 90px,#c0e1f7 91px,#9bcef1 92px,#4a99dd 93px,#2b51b6 94px,#1d1f73 95px,#13114b 96px,#17155c 97px,#273498 98px,#347acf 99px,#6cb4e7 100px,#acd6f3 101px,#c5e4f7 102px,#d6edfa 104px,#e0f2fc 112px,#dbeffb 129px,#cce8f9 134px,#bbdef6 136px,#9fd0f1 138px,#88c4ed 139px,#6ab2e7 140px,#4999dd 142px,#4390d9 144px,#4695dc 145px,#62ade5 147px,#9ccff1 149px,#bcdff6 151px,#d0eaf9 153px,#e3f3fc 158px,#f0f8fe 171px,#f5fafe 212px)"></div>
<div style="background-image:linear-gradient(90deg,#f5fbfe 1px,#f0f8fe 78px,#e3f3fc 87px,#d2ebf9 90px,#c2e2f7 91px,#9ed0f1 92px,#4d9cde 93px,#2b55b8 94px,#1e2176 95px,#13114b 96px,#16145a 97px,#263195 98px,#3277cd 99px,#68b1e6 100px,#aad5f3 101px,#c4e4f7 102px,#d6edfa 104px,#e0f1fc 111px,#dbeffb 129px,#cee9f9 134px,#c0e1f7 136px,#a7d4f3 138px,#96ccf0 139px,#5faae4 141px,#4595db 143px,#4493da 145px,#4b9ade 146px,#5aa6e2 147px,#70b6e8 148px,#91c9ef 149px,#b6dbf5 151px,#cce8f9 153px,#dff1fc 157px,#edf7fd 166px,#f5fafe 212px)"></div>
<div style="background-image:linear-gradient(90deg,#f5fbfe 1px,#f0f8fe 78px,#e3f3fc 87px,#d3ebfa 90px,#c3e3f7 91px,#a0d1f2 92px,#519fdf 93px,#2c59bb 94px,#1f2279 95px,#13114c 96px,#151358 97px,#262e92 98px,#3173cb 99px,#64aee5 100px,#a8d4f3 101px,#c3e3f7 102px,#cfeaf9 103px,#dbeffb 106px,#e0f2fc 121px,#d7edfa 132px,#c5e4f7 136px,#aed7f4 138px,#9ed0f1 139px,#69b2e7 141px,#4a99dd 143px,#4391da 145px,#4796dc 146px,#64aee5 148px,#9dcff1 150px,#bddff6 152px,#d0eaf9 154px,#e3f3fc 159px,#f0f8fe 172px,#f5fafe 212px)"></div>
<div style="background-image:linear-gradient(90deg,#f5fbfe 1px,#f0f8fe 78px,#e4f3fc 87px,#d3ecfa 90px,#c4e4f7 91px,#a2d2f2 92px,#54a2e0 93px,#2d5cbd 94px,#20247c 95px,#13114d 96px,#151355 97px,#252c8e 98px,#316fc8 99px,#61ace4 100px,#a6d3f2 101px,#c2e2f7 102px,#cfe9f9 103px,#dbeffb 106px,#e0f2fc 121px,#d8eefa 132px,#c8e6f8 136px,#a6d3f2 139px,#94cbf0 140px,#5faae4 142px,#4695dc 144px,#4594db 146px,#4d9bde 147px,#5ba7e3 148px,#73b7e9 149px,#93caef 150px,#b6dcf5 152px,#cde8f9 154px,#dff1fc 158px,#edf7fd 167px,#f5fafe 212px)"></div>
<div style="background-image:linear-gradient(90deg,#f5fbfe 1px,#f0f8fe 78px,#e4f3fc 87px,#d4ecfa 90px,#c5e4f8 91px,#a4d3f2 92px,#58a4e2 93px,#2e60bf 94px,#21257f 95px,#13114e 96px,#151353 97px,#242a8b 98px,#306bc6 99px,#5da9e3 100px,#a4d2f2 101px,#c1e2f7 102px,#cee9f9 103px,#dbeffb 106px,#e1f2fc 121px,#d7edfa 133px,#c4e4f7 137px,#9dcff1 140px,#68b1e6 142px,#4a99dd 144px,#4493da 146px,#4898dd 147px,#65afe6 149px,#9ecff1 151px,#bde0f6 153px,#d0eaf9 155px,#e3f3fc 160px,#f0f8fe 173px,#f5fafe 212px)"></div>
<div style="background-image:linear-gradient(90deg,#f5fbfe 1px,#f0f8fe 78px,#e4f3fc 87px,#d4ecfa 90px,#c6e5f8 91px,#a6d4f3 92px,#5ba7e3 93px,#2e64c2 94px,#222682 95px,#14124f 96px,#141251 97px,#232987 98px,#2f67c4 99px,#5aa7e2 100px,#a2d2f2 101px,#c0e1f7 102px,#cee9f9 103px,#dbeffb 106px,#e1f2fc 121px,#d8eefa 133px,#c8e6f8 137px,#a5d3f2 140px,#93caef 141px,#76b9e9 142px,#5eaae4 143px,#4696dc 145px,#4595dc 147px,#4e9ddf 148px,#5da9e3 149px,#74b8e9 150px,#94cbef 151px,#b7dcf5 153px,#cde8f9 155px,#dff1fc 159px,#edf7fd 168px,#f5fafe 212px)"></div>
<div style="background-image:linear-gradient(90deg,#f5fbfe 1px,#f0f8fe 78px,#e4f3fc 87px,#d5ecfa 90px,#c8e6f8 91px,#a8d4f3 92px,#5ea9e3 93px,#2f67c4 94px,#232885 95px,#141250 96px,#141250 97px,#222784 98px,#2e64c1 99px,#57a4e1 100px,#a0d1f2 101px,#bfe1f6 102px,#cee9f9 103px,#dbeffb 106px,#e1f2fc 121px,#d9eefa 133px,#cbe7f8 137px,#acd6f3 140px,#9ccff1 141px,#68b1e6 143px,#4a99dd 145px,#4494db 147px,#4999dd 148px,#67b0e6 150px,#9ed0f1 152px,#bde0f6 154px,#d0eaf9 156px,#e3f3fc 161px,#f0f8fe 174px,#f5fafe 212px)"></div>
<div style="background-image:linear-gradient(90deg,#f5fbfe 1px,#f0f8fe 78px,#e4f3fc 87px,#d5edfa 90px,#c8e6f8 91px,#aad5f3 92px,#61ace4 93px,#306bc6 94px,#242988 95px,#141251 96px,#13114e 97px,#212681 98px,#2e60bf 99px,#54a2e1 100px,#9ed0f1 101px,#bee0f6 102px,#cde9f9 103px,#dbeffb 106px,#e1f2fc 121px,#d7eefa 134px,#c7e6f8 138px,#a4d2f2 141px,#92caef 142px,#75b9e9 143px,#5eaae4 144px,#4796dc 146px,#4696dc 148px,#5eaae4 150px,#76b9e9 151px,#95cbf0 152px,#c4e3f7 155px,#d8eefa 158px,#e9f5fd 165px,#f3fafe 193px,#f5fafe 212px)"></div>
<div style="background-image:linear-gradient(90deg,#f5fbfe 1px,#f0f8fe 78px,#e4f3fc 87px,#d5edfa 90px,#c9e7f8 91px,#acd6f3 92px,#64aee5 93px,#306ec8 94px,#242a8b 95px,#141253 96px,#13114d 97px,#20247e 98px,#2d5dbd 99px,#529fe0 100px,#9dcff1 101px,#bde0f6 102px,#cde8f9 103px,#dbeffb 106px,#e1f2fc 121px,#d8eefa 134px,#cae7f8 138px,#abd6f3 141px,#9bcff1 142px,#67b1e6 144px,#4b9add 146px,#4595db 148px,#4b9add 149px,#69b1e7 151px,#9fd0f1 153px,#bee0f6 155px,#d0eaf9 157px,#e3f3fc 162px,#f0f8fe 175px,#f5fafe 212px)"></div>
<div style="background-image:linear-gradient(90deg,#f5fbfe 1px,#f0f8fe 79px,#e4f3fc 87px,#d6edfa 90px,#cae7f8 91px,#aed7f4 92px,#67b0e6 93px,#3171ca 94px,#252c8e 95px,#151354 96px,#13114c 97px,#20237b 98px,#2c59bb 99px,#4f9ddf 100px,#9bcef1 101px,#bcdff6 102px,#cde8f9 103px,#dbeffb 106px,#e1f2fc 121px,#d9effb 134px,#c7e5f8 139px,#a3d2f2 142px,#91c9ef 143px,#74b8e9 144px,#5eaae4 145px,#4797dc 147px,#4797dc 149px,#5fabe4 151px,#96ccf0 153px,#c4e4f7 156px,#d8eefa 159px,#e9f5fd 166px,#f3fafe 194px,#f5fafe 212px)"></div>
<div style="background-image:linear-gradient(90deg,#f5fbfe 1px,#f0f8fe 79px,#e5f3fc 87px,#d6edfa 90px,#cae7f8 91px,#afd8f4 92px,#6ab3e7 93px,#3274cc 94px,#262d91 95px,#151355 96px,#13114b 97px,#1f2278 98px,#2c56b9 99px,#4c9bde 100px,#99cef1 101px,#bbdff6 102px,#cce8f9 103px,#dbeffb 106px,#e1f2fc 121px,#d8eefa 135px,#cae7f8 139px,#aad5f3 142px,#9bcef1 143px,#67b0e6 145px,#4b9ade 147px,#4696dc 149px,#58a5e2 151px,#6ab2e7 152px,#9fd0f1 154px,#bee0f6 156px,#d0eaf9 158px,#e3f3fc 163px,#eff8fe 175px,#f5fafe 212px)"></div>
<div style="background-image:linear-gradient(90deg,#f5fbfe 1px,#f0f8fe 79px,#e5f4fc 87px,#d6edfa 90px,#cbe7f8 91px,#b1d8f4 92px,#6eb5e8 93px,#3377ce 94px,#262f93 95px,#151357 96px,#12104a 97px,#1e2176 98px,#2b53b7 99px,#4999dd 100px,#98cdf0 101px,#badef6 102px,#cce8f9 103px,#dbeffb 106px,#e2f2fc 121px,#d9eefb 135px,#cce8f9 139px,#b1d9f4 142px,#90c8ef 144px,#74b8e9 145px,#5eaae4 146px,#4898dd 148px,#4998dd 150px,#61ace4 152px,#97ccf0 154px,#c4e4f7 157px,#d8eefa 160px,#e9f5fd 167px,#f3fafe 195px,#f5fafe 212px)"></div>
<div style="background-image:linear-gradient(90deg,#f5fbfe 1px,#f0f8fe 79px,#e5f4fc 87px,#d7edfa 90px,#cbe8f8 91px,#b2d9f4 92px,#72b7e8 93px,#3479cf 94px,#263195 95px,#161458 96px,#121049 97px,#1d1f73 98px,#2a50b5 99px,#4797dc 100px,#96ccf0 101px,#b9def6 102px,#cbe8f8 103px,#daeffb 106px,#e2f2fc 121px,#d8eefa 136px,#c9e7f8 140px,#aad5f3 143px,#9acef1 144px,#67b0e6 146px,#4c9bde 148px,#4797dc 150px,#59a6e2 152px,#6cb3e7 153px,#89c4ed 154px,#a0d1f2 155px,#bee0f6 157px,#d0eaf9 159px,#e3f3fc 164px,#eff8fe 176px,#f5fafe 212px)"></div>
<div style="background-image:linear-gradient(90deg,#f5fbfe 1px,#f0f8fe 79px,#e5f4fc 87px,#d7edfa 90px,#cce8f9 91px,#b3daf4 92px,#75b9e9 93px,#357cd0 94px,#273397 95px,#16145a 96px,#121048 97px,#1d1e71 98px,#2a4eb4 99px,#4595db 100px,#93caef 101px,#b9ddf5 102px,#cbe8f8 103px,#daeffb 106px,#e2f2fc 121px,#d9eefb 136px,#cce8f9 140px,#b0d8f4 143px,#8fc8ef 145px,#73b8e9 146px,#5eaae4 147px,#4998dd 149px,#4696dc 150px,#53a1e0 152px,#62ace5 153px,#97cdf0 155px,#c4e4f7 158px,#d8eefa 161px,#e9f5fd 168px,#f3fafe 196px,#f4fafe 212px)"></div>
</div>
<div class="h" style="left:328px;top:69px;width:212px;height:213px">
<div style="background-image:linear-gradient(90deg,#fdfeff 1px,#f6fbfe 20px,#e5f4fc 53px,#d0eaf9 63px,#c2e3f7 66px,#a9d5f3 69px,#9dcff1 70px,#89c5ed 71px,#57a4e1 73px,#4392da 74px,#367cd0 75px,#2e61c0 76px,#2943a8 77px,#232887 78px,#16145a 79px,#090820 80px,#05050f 81px,#05050f 82px,#0e0c37 83px,#1b1c6c 84px,#262f93 85px,#2947ad 86px,#3171ca 88px,#4797dc 91px,#58a5e2 92px,#70b6e8 93px,#91c9ef 94px,#b4daf5 96px,#c8e6f8 98px,#dcf0fb 104px,#ecf6fd 118px,#f9fcff 140px,#feffff 194px,#feffff 212px)"></div>
<div style="background-image:linear-gradient(90deg,#fdfeff 1px,#f6fbfe 20px,#e5f4fc 53px,#d1eaf9 63px,#bcdff6 67px,#9fd0f1 70px,#8ec8ee 71px,#4696dc 74px,#2f67c3 76px,#2948ae 77px,#252c8f 78px,#191864 79px,#0c0a2b 80px,#05050f 81px,#05050f 82px,#0c0a2b 83px,#181863 84px,#242a8b 85px,#2942a7 86px,#2c58bb 87px,#367cd0 89px,#4594db 91px,#6cb3e7 93px,#8dc7ee 94px,#a3d2f2 95px,#bee0f6 97px,#cce8f9 99px,#e0f2fc 107px,#eef7fd 123px,#fdfeff 153px,#feffff 212px)"></div>
<div style="background-image:linear-gradient(90deg,#fdfeff 1px,#f6fbfe 20px,#e5f4fd 53px,#d2ebf9 63px,#bee0f6 67px,#a2d1f2 70px,#94cbef 71px,#60abe4 73px,#4a99dd 74px,#306dc7 76px,#2a4eb4 77px,#273296 78px,#1c1d6d 79px,#0e0c37 80px,#05050f 81px,#05050f 82px,#090820 83px,#161459 84px,#222783 85px,#283da2 86px,#2b53b7 87px,#3378ce 89px,#4392da 91px,#67b1e6 93px,#89c4ed 94px,#a1d1f2 95px,#bddff6 97px,#d0eaf9 100px,#e5f4fc 110px,#fdfeff 152px,#feffff 212px)"></div>
<div style="background-image:linear-gradient(90deg,#fdfeff 1px,#f6fbfe 20px,#e4f3fc 54px,#cfe9f9 64px,#b8ddf5 68px,#97cdf0 71px,#64aee5 73px,#3e89d6 75px,#3172cb 76px,#2b54b8 77px,#27389c 78px,#1e2176 79px,#110f43 80px,#05050f 81px,#05050f 82px,#070616 83px,#13114e 84px,#20237b 85px,#27389c 86px,#2a4eb3 87px,#3275cc 89px,#428fd9 91px,#509edf 92px,#64aee5 93px,#85c2ec 94px,#9fd0f1 95px,#bbdef6 97px,#cfeaf9 100px,#e4f3fc 110px,#fdfeff 152px,#feffff 212px)"></div>
<div style="background-image:linear-gradient(90deg,#fdfeff 1px,#f7fbfe 20px,#e4f3fc 54px,#cfeaf9 64px,#c1e2f7 67px,#a6d4f3 70px,#9acef1 71px,#53a0e0 74px,#3378ce 76px,#2c5abc 77px,#283da2 78px,#21257f 79px,#13114f 80px,#060615 81px,#05050f 82px,#05050f 83px,#110f42 84px,#1d1f73 85px,#273296 86px,#2949ae 87px,#3170c9 89px,#408cd7 91px,#4d9bde 92px,#61ace5 93px,#9ccff1 95px,#badef6 97px,#cee9f9 100px,#e4f3fc 110px,#fdfeff 152px,#feffff 212px)"></div>
<div style="background-image:linear-gradient(90deg,#fdfeff 1px,#f7fbfe 20px,#e5f4fc 54px,#d0eaf9 64px,#c2e3f7 67px,#a9d5f3 70px,#9ccff1 71px,#89c5ed 72px,#57a4e1 74px,#4392da 75px,#367cd0 76px,#2e60c0 77px,#2943a8 78px,#232887 79px,#16145a 80px,#090820 81px,#05050f 82px,#05050f 83px,#0e0c37 84px,#1b1b6a 85px,#262d90 86px,#2944a9 87px,#306cc7 89px,#3e8ad6 91px,#4a99dd 92px,#5eaae4 93px,#9acef1 95px,#b8ddf5 97px,#cee9f9 100px,#e2f3fc 109px,#eff8fe 127px,#fdfeff 153px,#feffff 212px)"></div>
<div style="background-image:linear-gradient(90deg,#fdfeff 1px,#f7fbfe 20px,#e5f4fc 54px,#d1eaf9 64px,#bcdff6 68px,#9fd0f1 71px,#8ec7ee 72px,#4695dc 75px,#2f66c3 77px,#2948ae 78px,#252c8f 79px,#191863 80px,#0b0a2b 81px,#05050f 82px,#05050f 83px,#0c0a2b 84px,#181761 85px,#242989 86px,#283fa4 87px,#2b54b8 88px,#3478ce 90px,#4797dc 92px,#5ba7e3 93px,#98cdf0 95px,#b7dcf5 97px,#cde8f9 100px,#e2f2fc 109px,#eff8fe 127px,#fdfeff 153px,#feffff 212px)"></div>
<div style="background-image:linear-gradient(90deg,#fdfeff 1px,#f6fbfe 21px,#e5f4fc 54px,#d1ebf9 64px,#bee0f6 68px,#a1d1f2 71px,#93caef 72px,#5fabe4 74px,#4a99dd 75px,#306cc7 77px,#2a4eb3 78px,#273196 79px,#1b1c6c 80px,#0e0c36 81px,#05050f 82px,#05050f 83px,#090820 84px,#161458 85px,#212681 86px,#283a9f 87px,#2a4fb4 88px,#3275cc 90px,#4594db 92px,#58a5e2 93px,#73b8e9 94px,#96ccf0 95px,#b5dbf5 97px,#cce8f9 100px,#e0f2fc 108px,#eef7fd 124px,#fdfeff 154px,#feffff 212px)"></div>
<div style="background-image:linear-gradient(90deg,#fdfeff 1px,#f6fbfe 21px,#e4f3fc 55px,#cfe9f9 65px,#b8dcf5 69px,#97ccf0 72px,#63aee5 74px,#3e89d6 76px,#3172ca 77px,#2b54b7 78px,#27379c 79px,#1e2075 80px,#110f42 81px,#05050f 82px,#05050f 83px,#070616 84px,#13114d 85px,#1f227a 86px,#27359a 87px,#2a4ab0 88px,#3171ca 90px,#4391da 92px,#55a2e1 93px,#6fb5e8 94px,#92c9ef 95px,#b3daf5 97px,#cbe8f8 100px,#e0f2fc 108px,#edf7fd 124px,#fdfeff 155px,#feffff 212px)"></div>
<div style="background-image:linear-gradient(90deg,#fdfeff 1px,#f6fbfe 21px,#e4f3fc 55px,#cfeaf9 65px,#c1e2f7 68px,#a6d3f2 71px,#9acef1 72px,#52a0e0 75px,#3377ce 77px,#2c5abb 78px,#283da1 79px,#20247d 80px,#13114d 81px,#060614 82px,#05050f 84px,#110f42 85px,#1d1f72 86px,#263094 87px,#2946ab 88px,#306dc7 90px,#418ed8 92px,#52a0e0 93px,#6bb3e7 94px,#8dc7ee 95px,#a3d2f2 96px,#bcdff6 98px,#cfe9f9 101px,#e4f3fc 111px,#fdfeff 153px,#feffff 212px)"></div>
<div style="background-image:linear-gradient(90deg,#fdfeff 1px,#f7fbfe 21px,#e5f4fc 55px,#d0eaf9 65px,#c2e2f7 68px,#a8d4f3 71px,#9ccff1 72px,#88c4ed 73px,#56a3e1 75px,#4391da 76px,#357cd0 77px,#2e60bf 78px,#2942a7 79px,#232886 80px,#161458 81px,#08071e 82px,#05050f 83px,#05050f 84px,#0e0c37 85px,#1a1b69 86px,#252c8e 87px,#2841a6 88px,#2f69c5 90px,#3f8bd7 92px,#4f9ddf 93px,#66b0e6 94px,#89c4ed 95px,#a1d1f2 96px,#bbdef6 98px,#cee9f9 101px,#e4f3fc 111px,#fdfeff 153px,#feffff 212px)"></div>
<div style="background-image:linear-gradient(90deg,#fdfeff 1px,#f7fbfe 21px,#e5f4fc 55px,#d1eaf9 65px,#bcdff6 69px,#9ed0f1 72px,#8dc7ee 73px,#4595db 76px,#2f65c3 78px,#2947ad 79px,#252b8d 80px,#181762 81px,#0b0928 82px,#05050f 83px,#05050f 84px,#0c0a2c 85px,#181761 86px,#232887 87px,#283da1 88px,#2a50b5 89px,#3378ce 91px,#4c9bde 93px,#63aee5 94px,#85c2ec 95px,#9fd0f1 96px,#b9ddf6 98px,#cde9f9 101px,#e2f2fc 110px,#eff8fe 128px,#fdfeff 154px,#feffff 212px)"></div>
<div style="background-image:linear-gradient(90deg,#fdfeff 1px,#f7fbfe 21px,#e4f3fc 56px,#cee9f9 66px,#b6dbf5 70px,#92caef 73px,#4998dd 76px,#306bc6 78px,#2a4cb2 79px,#263094 80px,#1b1b6a 81px,#0d0b33 82px,#05050f 83px,#05050f 84px,#090821 85px,#161458 86px,#212580 87px,#27389c 88px,#2a4cb1 89px,#3274cc 91px,#4998dd 93px,#60abe4 94px,#9ccff1 96px,#b8ddf5 98px,#cde8f9 101px,#e2f2fc 110px,#eef7fe 127px,#fdfeff 155px,#feffff 212px)"></div>
<div style="background-image:linear-gradient(90deg,#fdfeff 1px,#f7fbfe 21px,#e4f3fc 56px,#cfe9f9 66px,#b7dcf5 70px,#96ccf0 73px,#62ade5 75px,#3d88d5 77px,#3171ca 78px,#2b52b7 79px,#27369a 80px,#1d1f73 81px,#100e3f 82px,#05050f 83px,#05050f 84px,#070617 85px,#13114d 86px,#1f2278 87px,#273397 88px,#2947ad 89px,#3170c9 91px,#4696dc 93px,#5da9e3 94px,#9acef1 96px,#b6dcf5 98px,#cce8f9 101px,#e2f2fc 110px,#eef7fe 127px,#fdfeff 155px,#feffff 212px)"></div>
<div style="background-image:linear-gradient(90deg,#fdfeff 1px,#f6fbfe 22px,#e4f3fc 56px,#cfeaf9 66px,#c0e1f7 69px,#a5d3f2 72px,#99cdf0 73px,#519fe0 76px,#3276cd 78px,#2c58ba 79px,#283ba0 80px,#20237b 81px,#12104a 82px,#050511 83px,#05050f 85px,#1d1e71 87px,#262e92 88px,#2c57ba 90px,#3880d2 92px,#4493db 93px,#5aa6e2 94px,#98cdf0 96px,#b5dbf5 98px,#cbe8f8 101px,#e0f1fc 109px,#edf7fd 125px,#fdfeff 156px,#feffff 212px)"></div>
<div style="background-image:linear-gradient(90deg,#fdfeff 1px,#f7fbfe 22px,#e5f3fc 56px,#d0eaf9 66px,#c2e2f7 69px,#a8d4f3 72px,#9bcef1 73px,#87c3ed 74px,#55a2e1 76px,#357acf 78px,#2d5ebe 79px,#2840a6 80px,#222783 81px,#151355 82px,#08071b 83px,#05050f 84px,#05050f 85px,#0e0c38 86px,#1a1b69 87px,#252b8c 88px,#2b52b7 90px,#367dd0 92px,#4290d9 93px,#57a4e1 94px,#95cbf0 96px,#b3daf5 98px,#cae7f8 101px,#dff1fc 109px,#edf7fd 124px,#fdfeff 156px,#feffff 212px)"></div>
<div style="background-image:linear-gradient(90deg,#fdfeff 1px,#f7fbfe 22px,#e5f4fc 56px,#d0eaf9 66px,#bcdff6 70px,#9ed0f1 73px,#8cc6ee 74px,#59a6e2 76px,#4494db 77px,#2e64c1 79px,#2946ab 80px,#242a8b 81px,#17165f 82px,#0a0925 83px,#05050f 84px,#05050f 85px,#0c0a2d 86px,#181761 87px,#232885 88px,#2a4eb4 90px,#347acf 92px,#408dd8 93px,#54a1e0 94px,#6eb5e8 95px,#91c9ef 96px,#b2d9f4 98px,#cae7f8 101px,#dff1fc 109px,#edf7fd 124px,#fdfeff 156px,#feffff 212px)"></div>
<div style="background-image:linear-gradient(90deg,#fdfeff 1px,#f7fbfe 22px,#e5f4fc 56px,#d1ebf9 66px,#bde0f6 70px,#a0d1f2 73px,#90c9ef 74px,#4797dc 77px,#2f69c5 79px,#2a4bb0 80px,#262e92 81px,#1a1a67 82px,#0d0b2f 83px,#05050f 84px,#05050f 85px,#0a0823 86px,#161458 87px,#21257e 88px,#27369b 89px,#2e60bf 91px,#3276cd 92px,#509edf 94px,#6ab2e7 95px,#8dc7ee 96px,#a2d1f2 97px,#badef6 99px,#cde9f9 102px,#e2f2fc 111px,#eff8fe 129px,#fdfeff 155px,#feffff 212px)"></div>
<div style="background-image:linear-gradient(90deg,#fdfeff 1px,#f7fbfe 22px,#e4f3fc 57px,#cee9f9 67px,#b7dcf5 71px,#95cbf0 74px,#61ace4 76px,#3c86d5 78px,#306ec8 79px,#2a50b5 80px,#273498 81px,#1c1e70 82px,#0f0d3a 83px,#05050f 84px,#05050f 85px,#070719 86px,#13114e 87px,#1f2177 88px,#273296 89px,#2d5bbc 91px,#3173cb 92px,#4d9cde 94px,#66b0e6 95px,#88c4ed 96px,#a0d0f1 97px,#b9ddf5 99px,#cce8f9 102px,#e2f2fc 111px,#eef7fe 128px,#fdfeff 156px,#feffff 212px)"></div>
<div style="background-image:linear-gradient(90deg,#fdfeff 1px,#f7fbfe 22px,#e4f3fc 57px,#cfe9f9 67px,#c0e1f7 70px,#a4d3f2 73px,#98cdf0 74px,#64afe6 76px,#3f8ad7 78px,#3274cc 79px,#2c56b9 80px,#27399e 81px,#1f2278 82px,#110f45 83px,#05050f 84px,#050511 86px,#110f44 87px,#1c1e70 88px,#262d91 89px,#2c57ba 91px,#3b84d4 93px,#4a99dd 94px,#62ade5 95px,#84c1ec 96px,#9dcff1 97px,#b7dcf5 99px,#cce8f9 102px,#e1f2fc 111px,#eef7fe 128px,#fdfeff 156px,#feffff 212px)"></div>
<div style="background-image:linear-gradient(90deg,#fdfeff 1px,#f8fcfe 22px,#e5f3fc 57px,#d0eaf9 67px,#c1e2f7 70px,#a7d4f3 73px,#9acef1 74px,#85c2ec 75px,#69b2e7 76px,#418ed8 78px,#3378ce 79px,#2d5bbc 80px,#283ea3 81px,#212580 82px,#141250 83px,#070616 84px,#05050f 85px,#05050f 86px,#1a1b69 88px,#242a8b 89px,#2b53b7 91px,#3981d2 93px,#4796dc 94px,#5fabe4 95px,#9bcef1 97px,#b6dbf5 99px,#cbe7f8 102px,#e0f1fc 110px,#edf7fd 126px,#fdfeff 157px,#feffff 212px)"></div>
<div style="background-image:linear-gradient(90deg,#fefeff 1px,#f7fbfe 23px,#e5f4fc 57px,#d0eaf9 67px,#bbdef6 71px,#9dcff1 74px,#89c5ed 75px,#57a4e1 77px,#4392da 78px,#367cd0 79px,#2e61c0 80px,#2943a8 81px,#232987 82px,#16145a 83px,#090820 84px,#05050f 85px,#05050f 86px,#0d0b30 87px,#181761 88px,#222784 89px,#2a4eb4 91px,#377ed1 93px,#4494db 94px,#5ca8e3 95px,#99cdf0 97px,#b4daf5 99px,#cae7f8 102px,#dff1fc 110px,#edf7fd 125px,#fdfeff 157px,#feffff 212px)"></div>
<div style="background-image:linear-gradient(90deg,#fefeff 1px,#f7fbfe 23px,#e5f4fc 57px,#d1eaf9 67px,#bcdff6 71px,#9fd0f1 74px,#8ec7ee 75px,#4695dc 78px,#2f66c3 80px,#2948ae 81px,#252c8f 82px,#191863 83px,#0b092a 84px,#05050f 85px,#05050f 86px,#0a0926 87px,#161459 88px,#20247e 89px,#27369a 90px,#2e62c1 92px,#357bcf 93px,#4391d9 94px,#59a5e2 95px,#97ccf0 97px,#b3daf4 99px,#c9e7f8 102px,#dff1fc 110px,#edf7fd 125px,#fdfeff 157px,#feffff 212px)"></div>
<div style="background-image:linear-gradient(90deg,#fefeff 1px,#f7fbfe 23px,#e4f3fc 58px,#cee9f9 68px,#b6dbf5 72px,#93caef 75px,#4999dd 78px,#306cc6 80px,#2a4db3 81px,#263195 82px,#1b1c6b 83px,#0e0c34 84px,#05050f 85px,#05050f 86px,#08071c 87px,#141250 88px,#1f2177 89px,#273196 90px,#2d5ebe 92px,#3378ce 93px,#418ed8 94px,#56a3e1 95px,#93caef 97px,#b1d9f4 99px,#c9e6f8 102px,#dff1fc 110px,#edf7fd 125px,#fdfeff 158px,#feffff 212px)"></div>
<div style="background-image:linear-gradient(90deg,#fefeff 1px,#f7fbfe 23px,#e4f3fc 58px,#cfe9f9 68px,#b7dcf5 72px,#97ccf0 75px,#62ade5 77px,#3d88d5 79px,#3171ca 80px,#2b52b7 81px,#27369a 82px,#1d1f73 83px,#100e3f 84px,#05050f 85px,#060613 87px,#121046 88px,#1d1e71 89px,#262d91 90px,#2c5abb 92px,#3274cc 93px,#3f8bd7 94px,#52a0e0 95px,#6db4e8 96px,#8fc8ef 97px,#b0d8f4 99px,#c8e6f8 102px,#def1fc 110px,#edf7fd 125px,#fdfeff 158px,#feffff 212px)"></div>
<div style="background-image:linear-gradient(90deg,#fefeff 1px,#f7fcfe 23px,#e4f3fc 58px,#cfeaf9 68px,#c0e1f7 71px,#a5d3f2 74px,#99cdf0 75px,#66b0e6 77px,#408cd7 79px,#3276cd 80px,#2c58ba 81px,#283ba0 82px,#20237b 83px,#121049 84px,#050510 85px,#05050f 87px,#1b1b6a 89px,#242a8b 90px,#2c56b9 92px,#3170c9 93px,#3d87d5 94px,#4f9ddf 95px,#69b2e7 96px,#8bc5ee 97px,#a0d1f2 98px,#b8dcf5 100px,#cbe8f8 103px,#e1f2fc 112px,#eef7fe 128px,#fdfeff 157px,#feffff 212px)"></div>
<div style="background-image:linear-gradient(90deg,#fefeff 1px,#f8fcfe 23px,#edf7fd 47px,#def1fc 62px,#c8e6f8 70px,#a7d4f3 74px,#9bcef1 75px,#87c3ed 76px,#55a2e1 78px,#347acf 80px,#2d5dbe 81px,#2840a5 82px,#222682 83px,#151353 84px,#070719 85px,#05050f 86px,#05050f 87px,#0d0b33 88px,#181863 89px,#232885 90px,#2b51b6 92px,#3b84d4 94px,#4c9bde 95px,#65afe6 96px,#86c3ed 97px,#9ed0f1 98px,#b6dcf5 100px,#cbe7f8 103px,#dff1fc 111px,#edf7fd 126px,#fdfeff 158px,#feffff 212px)"></div>
<div style="background-image:linear-gradient(90deg,#fefeff 1px,#f8fcfe 23px,#edf7fd 45px,#e0f2fc 61px,#cde8f9 69px,#b3daf5 73px,#9dcff1 75px,#8bc6ee 76px,#59a5e2 78px,#4493db 79px,#2e63c1 81px,#2945aa 82px,#242a8a 83px,#17155d 84px,#0a0822 85px,#05050f 86px,#05050f 87px,#0b0929 88px,#16155b 89px,#21257f 90px,#2a4db3 92px,#3981d2 94px,#4898dd 95px,#62ace5 96px,#82c0ec 97px,#9ccff1 98px,#b5dbf5 100px,#cae7f8 103px,#dff1fc 111px,#edf7fd 126px,#fdfeff 158px,#feffff 212px)"></div>
<div style="background-image:linear-gradient(90deg,#fefeff 1px,#f7fbfe 24px,#e5f4fc 58px,#d1eaf9 68px,#bddff6 72px,#a0d0f1 75px,#8fc8ef 76px,#4796dc 79px,#2f68c4 81px,#2949af 82px,#262d91 83px,#191965 84px,#0c0a2c 85px,#05050f 86px,#05050f 87px,#090820 88px,#141253 89px,#1f2279 90px,#273397 91px,#2e64c2 93px,#4595dc 95px,#5eaae4 96px,#9acef1 98px,#bcdff6 101px,#d1eaf9 105px,#e6f4fd 116px,#fdfeff 157px,#feffff 212px)"></div>
<div style="background-image:linear-gradient(90deg,#fefeff 1px,#f7fbfe 24px,#e4f3fc 59px,#cee9f9 69px,#b6dcf5 73px,#94cbf0 76px,#60abe4 78px,#4a9add 79px,#306dc7 81px,#2a4eb4 82px,#273296 83px,#1c1d6d 84px,#0e0c36 85px,#05050f 86px,#05050f 87px,#070617 88px,#12104a 89px,#1d1f72 90px,#262f93 91px,#2e60bf 93px,#357bcf 94px,#4492da 95px,#5ba7e3 96px,#97cdf0 98px,#b2d9f4 100px,#cde8f9 104px,#e2f2fc 113px,#eef7fe 130px,#fdfeff 158px,#feffff 212px)"></div>
<div style="background-image:linear-gradient(90deg,#fefeff 1px,#f7fbfe 24px,#e4f3fc 59px,#cfe9f9 69px,#b8dcf5 73px,#97cdf0 76px,#63aee5 78px,#3e89d6 80px,#3172ca 81px,#2b54b7 82px,#27379c 83px,#1e2075 84px,#100e41 85px,#05050f 86px,#050510 88px,#1b1c6c 90px,#252b8e 91px,#2d5bbc 93px,#3378ce 94px,#428fd9 95px,#58a5e2 96px,#94cbf0 98px,#b0d8f4 100px,#cce8f9 104px,#e1f2fc 113px,#eef7fe 130px,#fdfeff 158px,#feffff 212px)"></div>
<div style="background-image:linear-gradient(90deg,#fefeff 1px,#f8fcfe 24px,#e4f3fc 59px,#cfeaf9 69px,#c0e2f7 72px,#a6d3f2 75px,#99cef1 76px,#52a0e0 79px,#3277cd 81px,#2c59bb 82px,#283ca1 83px,#20247c 84px,#13114b 85px,#050511 86px,#05050f 88px,#191965 90px,#232988 91px,#2c57ba 93px,#3274cc 94px,#408cd7 95px,#55a2e1 96px,#90c9ef 98px,#afd7f4 100px,#cbe8f8 104px,#e0f1fc 112px,#edf7fd 128px,#fdfeff 159px,#feffff 212px)"></div>
<div style="background-image:linear-gradient(90deg,#fefeff 1px,#f8fcfe 24px,#edf7fd 47px,#e0f2fc 62px,#cce8f9 70px,#b2d9f4 74px,#9ccff1 76px,#87c3ed 77px,#56a3e1 79px,#357bcf 81px,#2d5ebe 82px,#2841a6 83px,#222783 84px,#151355 85px,#070719 86px,#05050f 87px,#05050f 88px,#0c0a2e 89px,#17165f 90px,#222682 91px,#2b53b7 93px,#3170c9 94px,#3e89d6 95px,#519fe0 96px,#6cb3e7 97px,#8cc6ee 98px,#a0d1f2 99px,#bee0f6 102px,#d2ebf9 106px,#e8f5fd 118px,#fdfeff 158px,#feffff 212px)"></div>
<div style="background-image:linear-gradient(90deg,#fefeff 1px,#f8fcfe 24px,#eef7fd 46px,#e0f2fc 62px,#cde8f9 70px,#b4daf5 74px,#9ed0f1 76px,#8cc6ee 77px,#59a5e2 79px,#4493db 80px,#2e63c1 82px,#2945ab 83px,#242a8a 84px,#17165e 85px,#0a0823 86px,#05050f 87px,#05050f 88px,#0a0925 89px,#151357 90px,#20247c 91px,#2a4fb4 93px,#306cc7 94px,#3c86d4 95px,#4e9ddf 96px,#67b1e6 97px,#88c4ed 98px,#9ed0f1 99px,#bde0f6 102px,#d1ebf9 106px,#e7f5fd 118px,#fdfeff 158px,#feffff 212px)"></div>
<div style="background-image:linear-gradient(90deg,#fefeff 1px,#f8fcfe 24px,#eef7fe 45px,#e2f2fc 61px,#cee9f9 70px,#b5dbf5 74px,#a0d0f1 76px,#90c8ef 77px,#4797dc 80px,#2f68c4 82px,#294ab0 83px,#262d91 84px,#191965 85px,#0c0a2c 86px,#05050f 87px,#05050f 88px,#08071c 89px,#14124f 90px,#1e2176 91px,#273297 92px,#2a4bb1 93px,#3a83d3 95px,#4b9add 96px,#64aee5 97px,#83c1ec 98px,#9ccff1 99px,#bcdff6 102px,#d1eaf9 106px,#e6f4fd 117px,#fdfeff 158px,#feffff 212px)"></div>
<div style="background-image:linear-gradient(90deg,#fefeff 1px,#f7fbfe 25px,#e4f3fc 60px,#cee9f9 70px,#b6dcf5 74px,#94cbf0 77px,#60abe4 79px,#4b9add 80px,#306dc8 82px,#2a4eb4 83px,#273296 84px,#1c1d6d 85px,#0e0c36 86px,#05050f 87px,#060614 89px,#121046 90px,#1c1e70 91px,#262e92 92px,#2e64c2 94px,#4797dc 96px,#7fbfeb 98px,#99cef1 99px,#bbdef6 102px,#cde8f9 105px,#e2f2fc 114px,#eef7fe 131px,#fdfeff 159px,#feffff 212px)"></div>
<div style="background-image:linear-gradient(90deg,#fefeff 1px,#f7fbfe 25px,#e4f3fc 60px,#cfe9f9 70px,#b8dcf5 74px,#97cdf0 77px,#63aee5 79px,#3e89d6 81px,#3172cb 82px,#2b54b8 83px,#27379c 84px,#1e2075 85px,#100e40 86px,#05050f 87px,#05050f 89px,#1b1b6a 91px,#252b8d 92px,#2e60bf 94px,#367cd0 95px,#4594db 96px,#7bbcea 98px,#97cdf0 99px,#b9def6 102px,#cce8f9 105px,#e1f2fc 114px,#eef7fe 131px,#fdfeff 159px,#feffff 212px)"></div>
<div style="background-image:linear-gradient(90deg,#fefeff 1px,#f8fcfe 25px,#e4f3fc 60px,#cfeaf9 70px,#c0e2f7 73px,#a6d3f2 76px,#99cef1 77px,#52a0e0 80px,#3277cd 82px,#2c59bb 83px,#283ca1 84px,#20237c 85px,#12104a 86px,#050510 87px,#05050f 89px,#0e0c35 90px,#191864 91px,#232988 92px,#2d5bbc 94px,#3479cf 95px,#4391da 96px,#76bae9 98px,#94cbf0 99px,#afd8f4 101px,#cbe8f8 105px,#e1f2fc 114px,#eef7fe 130px,#fdfeff 160px,#feffff 212px)"></div>
<div style="background-image:linear-gradient(90deg,#fefeff 1px,#f8fcfe 25px,#edf7fd 48px,#e0f2fc 63px,#cce8f9 71px,#b2d9f4 75px,#9bcef1 77px,#87c3ed 78px,#55a2e1 80px,#357acf 82px,#2d5ebe 83px,#2840a5 84px,#222683 85px,#151353 86px,#070618 87px,#05050f 88px,#05050f 89px,#0c0a2c 90px,#17155d 91px,#222682 92px,#2c57ba 94px,#3276cd 95px,#418ed8 96px,#72b7e9 98px,#90c9ef 99px,#aed7f4 101px,#cbe7f8 105px,#dff1fc 113px,#edf7fd 128px,#fdfeff 160px,#feffff 212px)"></div>
<div style="background-image:linear-gradient(90deg,#fefeff 1px,#f8fcfe 25px,#edf7fd 47px,#e0f2fc 63px,#cde8f9 71px,#b4daf5 75px,#9dcff1 77px,#8bc6ee 78px,#59a5e2 80px,#4493db 81px,#2e63c1 83px,#2945aa 84px,#242a89 85px,#17155c 86px,#090821 87px,#05050f 88px,#05050f 89px,#0a0823 90px,#151356 91px,#20247d 92px,#27389d 93px,#2b53b7 94px,#3172cb 95px,#3f8bd7 96px,#6eb4e8 98px,#8cc6ee 99px,#9fd0f1 100px,#bde0f6 103px,#d1ebf9 107px,#e7f5fd 119px,#fdfeff 159px,#feffff 212px)"></div>
<div style="background-image:linear-gradient(90deg,#fefeff 1px,#f8fcfe 25px,#eef7fe 46px,#e2f2fc 62px,#cde9f9 71px,#b5dbf5 75px,#9fd0f1 77px,#8fc8ef 78px,#4696dc 81px,#2f68c4 83px,#2949af 84px,#262d90 85px,#191964 86px,#0b092a 87px,#05050f 88px,#05050f 89px,#08071b 90px,#13114e 91px,#1e2177 92px,#273499 93px,#2a4fb4 94px,#306ec8 95px,#3d88d5 96px,#69b2e7 98px,#88c4ed 99px,#9dcff1 100px,#bcdff6 103px,#d1eaf9 107px,#e6f4fd 118px,#fdfeff 159px,#feffff 212px)"></div>
<div style="background-image:linear-gradient(90deg,#fefeff 1px,#f8fcfe 25px,#eef7fe 46px,#e2f3fc 62px,#cee9f9 71px,#b6dcf5 75px,#93caef 78px,#5fabe4 80px,#4a99dd 81px,#306cc7 83px,#2a4eb3 84px,#263195 85px,#1b1c6b 86px,#0d0b33 87px,#05050f 88px,#060613 90px,#121046 91px,#1d1e71 92px,#263095 93px,#2a4bb1 94px,#306ac5 95px,#4d9cde 97px,#65afe6 98px,#84c2ec 99px,#9bcef1 100px,#bbdef6 103px,#cde8f9 106px,#e2f2fc 115px,#eef7fe 132px,#fdfeff 160px,#feffff 212px)"></div>
<div style="background-image:linear-gradient(90deg,#fefeff 1px,#f7fbfe 26px,#e4f3fc 61px,#cfe9f9 71px,#b7dcf5 75px,#97ccf0 78px,#63ade5 80px,#3d88d6 82px,#3171ca 83px,#2b52b7 84px,#27369a 85px,#1d1f73 86px,#100e3d 87px,#05050f 88px,#05050f 90px,#1b1c6b 92px,#262d90 93px,#2947ad 94px,#2f66c3 95px,#4a99dd 97px,#80bfeb 99px,#99cdf0 100px,#badef6 103px,#cce8f9 106px,#e1f2fc 115px,#eef7fe 132px,#fdfeff 160px,#feffff 212px)"></div>
<div style="background-image:linear-gradient(90deg,#fefeff 1px,#f7fcfe 26px,#e4f3fc 61px,#cfeaf9 71px,#c0e1f7 74px,#a5d3f2 77px,#99cdf0 78px,#66b0e6 80px,#3f8cd7 82px,#3275cd 83px,#2c57ba 84px,#283a9f 85px,#1f227a 86px,#121047 87px,#05050f 88px,#05050f 90px,#0e0c35 91px,#191965 92px,#242a8b 93px,#2944a9 94px,#2e62c0 95px,#4696dc 97px,#97cdf0 100px,#b9ddf5 103px,#cbe8f8 106px,#e1f2fc 115px,#eef7fe 131px,#fdfeff 160px,#feffff 212px)"></div>
<div style="background-image:linear-gradient(90deg,#fefeff 1px,#f8fcfe 26px,#edf7fd 50px,#def1fc 65px,#c8e6f8 73px,#a7d4f3 77px,#9bcef1 78px,#86c3ed 79px,#54a2e0 81px,#3479ce 83px,#2d5cbd 84px,#283fa4 85px,#212580 86px,#141250 87px,#060614 88px,#05050f 90px,#0c0a2d 91px,#17165f 92px,#232886 93px,#2840a5 94px,#2d5dbe 95px,#357cd0 96px,#4493db 97px,#78baea 99px,#94cbf0 100px,#b7dcf5 103px,#cfe9f9 107px,#e4f3fc 117px,#fdfeff 159px,#feffff 212px)"></div>
<div style="background-image:linear-gradient(90deg,#fefeff 1px,#f8fcfe 26px,#edf7fd 48px,#e0f2fc 64px,#cde8f9 72px,#b3daf5 76px,#9dcff1 78px,#8ac5ed 79px,#58a4e2 81px,#4492da 82px,#367dd0 83px,#2e61c0 84px,#2943a9 85px,#232887 86px,#161459 87px,#08071d 88px,#05050f 89px,#05050f 90px,#0a0925 91px,#161458 92px,#212580 93px,#283ca1 94px,#2c59bb 95px,#3478ce 96px,#4390d9 97px,#73b8e9 99px,#90c9ef 100px,#add7f4 102px,#cae7f8 106px,#dff1fc 114px,#edf7fd 129px,#fdfeff 161px,#feffff 212px)"></div>
<div style="background-image:linear-gradient(90deg,#fefeff 1px,#f8fcfe 26px,#eef7fe 47px,#e2f2fc 63px,#cde9f9 72px,#b4dbf5 76px,#9fd0f1 78px,#8ec7ee 79px,#4595dc 82px,#2f66c3 84px,#2947ad 85px,#252b8d 86px,#181760 87px,#0a0925 88px,#05050f 89px,#05050f 90px,#08071d 91px,#141251 92px,#1f237b 93px,#27389d 94px,#2b55b8 95px,#3275cc 96px,#418dd8 97px,#6fb5e8 99px,#8dc6ee 100px,#9fd0f1 101px,#bddff6 104px,#d1ebf9 108px,#e6f4fd 119px,#fdfeff 160px,#feffff 212px)"></div>
<div style="background-image:linear-gradient(90deg,#fefeff 1px,#f8fcfe 26px,#eef7fe 47px,#e2f3fc 63px,#cee9f9 72px,#b6dbf5 76px,#92c9ef 79px,#4898dd 82px,#306ac6 84px,#2a4cb1 85px,#262f93 86px,#1a1a68 87px,#0c0a2e 88px,#05050f 89px,#060615 91px,#121049 92px,#1e2075 93px,#273599 94px,#2b51b6 95px,#3171ca 96px,#52a0e0 98px,#89c4ed 100px,#9dcff1 101px,#bcdff6 104px,#d0eaf9 108px,#e6f4fd 119px,#fdfeff 160px,#feffff 212px)"></div>
<div style="background-image:linear-gradient(90deg,#fefeff 1px,#f8fcfe 26px,#eef7fe 46px,#e2f3fc 63px,#cee9f9 72px,#b7dcf5 76px,#95ccf0 79px,#61ace4 81px,#3c87d5 83px,#316fc9 84px,#2a50b5 85px,#273398 86px,#1c1d6f 87px,#0e0c38 88px,#05050f 89px,#05050f 91px,#1c1e6f 93px,#263195 94px,#2a4db3 95px,#306dc7 96px,#4f9ddf 98px,#66b0e6 99px,#85c2ec 100px,#9bcef1 101px,#badef6 104px,#cce8f9 107px,#e2f2fc 116px,#eef7fe 133px,#fdfeff 161px,#feffff 212px)"></div>
<div style="background-image:linear-gradient(90deg,#fefeff 1px,#f8fcfe 26px,#eef7fe 46px,#e3f3fc 63px,#cfe9f9 72px,#c0e1f7 75px,#a4d3f2 78px,#98cdf0 79px,#64aee5 81px,#3e8ad6 83px,#3173cb 84px,#2b55b8 85px,#27389d 86px,#1e2176 87px,#100e41 88px,#05050f 89px,#05050f 91px,#0f0d39 92px,#1b1b69 93px,#262d91 94px,#2949af 95px,#2f69c5 96px,#4c9bde 98px,#63aee5 99px,#99cdf0 101px,#b9ddf6 104px,#cce8f9 107px,#e1f2fc 116px,#eef7fe 133px,#fdfeff 161px,#feffff 212px)"></div>
<div style="background-image:linear-gradient(90deg,#fefeff 1px,#f8fcfe 27px,#e4f3fc 62px,#cfeaf9 72px,#c1e2f7 75px,#a6d3f2 78px,#9acef1 79px,#52a0e0 82px,#3377ce 84px,#2c5abb 85px,#283ca1 86px,#20247c 87px,#12104a 88px,#050510 89px,#05050f 91px,#0d0b31 92px,#191864 93px,#242b8c 94px,#2946ab 95px,#2f65c2 96px,#4998dd 98px,#97ccf0 101px,#b8ddf5 104px,#cbe8f8 107px,#e0f1fc 115px,#edf7fd 131px,#fdfeff 162px,#feffff 212px)"></div>
<div style="background-image:linear-gradient(90deg,#fefeff 1px,#f8fcfe 27px,#edf7fd 50px,#e0f2fc 65px,#cce8f9 73px,#b2d9f4 77px,#9ccff1 79px,#87c4ed 80px,#56a3e1 82px,#357bcf 84px,#2d5ebe 85px,#2840a6 86px,#222683 87px,#141253 88px,#070616 89px,#05050f 90px,#05050f 91px,#0b0929 92px,#17165e 93px,#232887 94px,#2942a7 95px,#2e61c0 96px,#377ed1 97px,#4696dc 98px,#94cbf0 101px,#b7dcf5 104px,#cee9f9 108px,#e4f3fc 118px,#fdfeff 160px,#feffff 212px)"></div>
<div style="background-image:linear-gradient(90deg,#fefeff 1px,#f8fcfe 27px,#edf7fd 49px,#e0f2fc 65px,#cde8f9 73px,#b4daf5 77px,#9dcff1 79px,#8bc6ee 80px,#59a5e2 82px,#4493db 83px,#2e63c1 85px,#2945aa 86px,#242989 87px,#16155b 88px,#09081f 89px,#05050f 90px,#05050f 91px,#090822 92px,#151357 93px,#212681 94px,#283ea3 95px,#2d5dbd 96px,#357bcf 97px,#4493da 98px,#75b8e9 100px,#91c9ef 101px,#acd6f3 103px,#cae7f8 107px,#dff1fc 115px,#edf7fd 130px,#fdfeff 162px,#feffff 212px)"></div>
<div style="background-image:linear-gradient(90deg,#fefeff 1px,#f8fcfe 27px,#eef7fe 48px,#e2f2fc 64px,#cde9f9 73px,#b5dbf5 77px,#9fd0f1 79px,#8fc8ef 80px,#4696dc 83px,#2f67c4 85px,#2949ae 86px,#252c8f 87px,#181862 88px,#0b0927 89px,#05050f 90px,#05050f 91px,#08071a 92px,#141250 93px,#20237c 94px,#283b9f 95px,#2c59bb 96px,#3378ce 97px,#4290d9 98px,#70b6e8 100px,#8dc7ee 101px,#abd6f3 103px,#c9e7f8 107px,#dff1fc 115px,#edf7fd 130px,#fdfeff 162px,#feffff 212px)"></div>
<div style="background-image:linear-gradient(90deg,#fefeff 1px,#f8fcfe 27px,#eef7fe 48px,#e2f3fc 64px,#cee9f9 73px,#b6dbf5 77px,#93caef 80px,#4999dd 83px,#306cc6 85px,#2a4db2 86px,#263094 87px,#1a1b69 88px,#0d0b30 89px,#05050f 90px,#060613 92px,#121048 93px,#1e2176 94px,#27379c 95px,#2b54b8 96px,#3275cc 97px,#54a2e0 99px,#89c4ed 101px,#9dcff1 102px,#bbdff6 105px,#d0eaf9 109px,#e6f4fd 120px,#fdfeff 161px,#feffff 212px)"></div>
<div style="background-image:linear-gradient(90deg,#fefeff 1px,#f8fcfe 27px,#eef7fe 47px,#e3f3fc 64px,#cee9f9 73px,#b7dcf5 77px,#96ccf0 80px,#62ade5 82px,#3d87d5 84px,#3170c9 85px,#2b51b6 86px,#273499 87px,#1c1e70 88px,#0f0d39 89px,#05050f 90px,#05050f 92px,#100e41 93px,#1d1e71 94px,#273398 95px,#2a50b5 96px,#3171ca 97px,#519fe0 99px,#68b1e6 100px,#85c2ed 101px,#9bcef1 102px,#badef6 105px,#cce8f9 108px,#e2f2fc 117px,#eef7fe 134px,#fdfeff 162px,#feffff 212px)"></div>
<div style="background-image:linear-gradient(90deg,#fefeff 1px,#f8fcfe 27px,#eef7fe 47px,#e3f3fc 64px,#cfe9f9 73px,#c0e1f7 76px,#a5d3f2 79px,#98cdf0 80px,#65afe6 82px,#3f8ad7 84px,#3274cc 85px,#2c56b9 86px,#27389d 87px,#1e2176 88px,#110f41 89px,#05050f 90px,#05050f 92px,#0f0d39 93px,#1b1c6b 94px,#263094 95px,#2a4cb2 96px,#306dc7 97px,#4e9ddf 99px,#65afe6 100px,#99cdf0 102px,#b9ddf6 105px,#cce8f9 108px,#e1f2fc 117px,#eef7fe 134px,#fdfeff 162px,#feffff 212px)"></div>
<div style="background-image:linear-gradient(90deg,#fefeff 1px,#f8fcfe 28px,#e4f3fc 63px,#cfeaf9 73px,#c1e2f7 76px,#a6d4f3 79px,#9acef1 80px,#53a0e0 83px,#3378ce 85px,#2c5abc 86px,#283da1 87px,#20247c 88px,#12104a 89px,#050510 90px,#05050f 92px,#0d0b32 93px,#191966 94px,#262c8f 95px,#2949af 96px,#2f69c5 97px,#4b9ade 99px,#97cdf0 102px,#b8ddf5 105px,#cbe8f8 108px,#e0f1fc 116px,#edf7fd 132px,#fdfeff 163px,#feffff 212px)"></div>
<div style="background-image:linear-gradient(90deg,#fefeff 1px,#f8fcfe 28px,#edf7fd 51px,#e0f2fc 66px,#cce8f9 74px,#b2d9f4 78px,#9ccff1 80px,#88c4ed 81px,#56a3e1 83px,#357bcf 85px,#2d5ebe 86px,#2841a6 87px,#222683 88px,#141252 89px,#070616 90px,#05050f 91px,#05050f 92px,#0b0a2a 93px,#181760 94px,#242a8a 95px,#2945ab 96px,#2f65c2 97px,#4898dd 99px,#95cbf0 102px,#b7dcf5 105px,#cee9f9 109px,#e4f3fc 119px,#fdfeff 161px,#feffff 212px)"></div>
<div style="background-image:linear-gradient(90deg,#fefeff 1px,#f8fcfe 28px,#eef7fd 50px,#e0f2fc 66px,#cde8f9 74px,#b4daf5 78px,#9ecff1 80px,#8bc6ee 81px,#59a5e2 83px,#4493db 84px,#2e63c1 86px,#2944aa 87px,#242989 88px,#16145a 89px,#08071e 90px,#05050f 91px,#05050f 92px,#0a0823 93px,#16145a 94px,#232885 95px,#2942a7 96px,#2e61c0 97px,#377ed1 98px,#4595dc 99px,#91c9ef 102px,#acd6f3 104px,#cae7f8 108px,#dff1fc 116px,#edf7fd 131px,#fdfeff 163px,#feffff 212px)"></div>
<div style="background-image:linear-gradient(90deg,#fefeff 1px,#f8fcfe 28px,#eef7fe 49px,#e2f2fc 65px,#cde9f9 74px,#b5dbf5 78px,#9fd0f1 80px,#8fc8ef 81px,#4696dc 84px,#2f67c4 86px,#2948ae 87px,#252c8e 88px,#181761 89px,#0a0926 90px,#05050f 91px,#05050f 92px,#08071c 93px,#141253 94px,#212580 95px,#283ea3 96px,#2d5dbd 97px,#357bd0 98px,#4492da 99px,#72b7e9 101px,#8ec7ee 102px,#abd6f3 104px,#c9e7f8 108px,#dff1fc 116px,#edf7fd 131px,#fdfeff 163px,#feffff 212px)"></div>
<div style="background-image:linear-gradient(90deg,#fefeff 1px,#f8fcfe 28px,#eef7fe 49px,#e2f3fc 65px,#cee9f9 74px,#b6dbf5 78px,#92caef 81px,#4999dd 84px,#306bc6 86px,#2a4cb2 87px,#262f93 88px,#1a1a68 89px,#0c0a2e 90px,#05050f 91px,#060614 93px,#13114c 94px,#20237b 95px,#283ba0 96px,#2c59bb 97px,#3378ce 98px,#56a3e1 100px,#8ac5ee 102px,#9dcff1 103px,#bbdff6 106px,#d0eaf9 110px,#e6f4fd 121px,#fdfeff 162px,#feffff 212px)"></div>
<div style="background-image:linear-gradient(90deg,#fefeff 1px,#f8fcfe 28px,#eef7fe 48px,#e3f3fc 65px,#cee9f9 74px,#b7dcf5 78px,#96ccf0 81px,#61ace5 83px,#3d87d5 85px,#316fc9 86px,#2a50b5 87px,#273398 88px,#1c1d6e 89px,#0e0c37 90px,#05050f 91px,#05050f 93px,#110f45 94px,#1e2075 95px,#27379c 96px,#2b55b8 97px,#3275cc 98px,#53a1e0 100px,#87c3ed 102px,#9bcff1 103px,#badef6 106px,#cce8f9 109px,#e2f2fc 118px,#eef7fe 135px,#fdfeff 163px,#feffff 212px)"></div>
<div style="background-image:linear-gradient(90deg,#fefeff 1px,#f8fcfe 28px,#eef7fe 48px,#e3f3fc 65px,#cfe9f9 74px,#c0e1f7 77px,#a4d3f2 80px,#98cdf0 81px,#64aee5 83px,#3e8ad6 85px,#3173cb 86px,#2b55b8 87px,#27379c 88px,#1e2075 89px,#100e3f 90px,#05050f 91px,#05050f 93px,#100e3e 94px,#1c1e70 95px,#273498 96px,#2b51b6 97px,#3171ca 98px,#519fdf 100px,#66b0e6 101px,#83c1ec 102px,#9acef1 103px,#b9ddf6 106px,#cce8f9 109px,#e1f2fc 118px,#eef7fe 135px,#fdfeff 163px,#feffff 212px)"></div>
<div style="background-image:linear-gradient(90deg,#fefeff 1px,#f9fcff 28px,#eef7fe 48px,#e3f3fc 65px,#cfeaf9 74px,#c1e2f7 77px,#a6d3f2 80px,#9acef1 81px,#52a0e0 84px,#3377cd 86px,#2c59bb 87px,#283ba0 88px,#1f237b 89px,#121047 90px,#05050f 91px,#05050f 93px,#0e0c36 94px,#1b1c6b 95px,#263094 96px,#2a4db3 97px,#306ec8 98px,#4e9cde 100px,#64aee5 101px,#98cdf0 103px,#b8ddf5 106px,#cbe8f8 109px,#e0f1fc 117px,#edf7fd 133px,#fdfeff 164px,#feffff 212px)"></div>
<div style="background-image:linear-gradient(90deg,#fefeff 1px,#f9fcff 28px,#eef7fe 48px,#e3f3fc 65px,#d0eaf9 74px,#c2e2f7 77px,#a7d4f3 80px,#9bcef1 81px,#87c3ed 82px,#55a2e1 84px,#347acf 86px,#2d5dbd 87px,#283fa4 88px,#212580 89px,#141250 90px,#060613 91px,#05050f 93px,#0c0a2f 94px,#191965 95px,#262d90 96px,#294ab0 97px,#306ac5 98px,#4b9add 100px,#96ccf0 103px,#b7dcf5 106px,#cee9f9 110px,#e4f3fc 120px,#fdfeff 162px,#feffff 212px)"></div>
<div style="background-image:linear-gradient(90deg,#fefeff 1px,#f8fcfe 29px,#edf7fd 51px,#e0f2fc 67px,#cde8f9 75px,#b3daf5 79px,#9dcff1 81px,#8ac5ee 82px,#58a5e2 84px,#4492da 85px,#367dd0 86px,#2e61c0 87px,#2943a8 88px,#232886 89px,#151357 90px,#08071b 91px,#05050f 92px,#05050f 93px,#0b0928 94px,#181760 95px,#242a8b 96px,#2946ac 97px,#2f66c3 98px,#4897dd 100px,#93caef 103px,#b6dcf5 106px,#cee9f9 110px,#e4f3fc 120px,#fdfeff 162px,#feffff 212px)"></div>
<div style="background-image:linear-gradient(90deg,#fefeff 1px,#f8fcfe 29px,#eef7fd 51px,#e0f2fc 67px,#cde9f9 75px,#b4dbf5 79px,#9fd0f1 81px,#8ec7ee 82px,#4595dc 85px,#2f65c3 87px,#2947ac 88px,#242b8c 89px,#17165e 90px,#0a0823 91px,#05050f 92px,#05050f 93px,#090821 94px,#16145a 95px,#232886 96px,#2943a8 97px,#2e62c1 98px,#387fd1 99px,#4595dc 100px,#90c8ef 103px,#acd6f3 105px,#cae7f8 109px,#dff1fc 117px,#edf7fd 132px,#fdfeff 164px,#feffff 212px)"></div>
<div style="background-image:linear-gradient(90deg,#fefeff 1px,#f8fcfe 29px,#eef7fe 50px,#e2f2fc 66px,#cee9f9 75px,#b5dbf5 79px,#a0d1f2 81px,#91c9ef 82px,#4897dd 85px,#2f69c5 87px,#2a4ab0 88px,#262d91 89px,#191965 90px,#0b0a2a 91px,#05050f 92px,#05050f 93px,#08071a 94px,#151353 95px,#212681 96px,#2840a5 97px,#2d5fbe 98px,#367cd0 99px,#4492da 100px,#71b6e8 102px,#8cc6ee 103px,#aad5f3 105px,#c9e7f8 109px,#dff1fc 117px,#edf7fd 132px,#fdfeff 165px,#feffff 212px)"></div>
<div style="background-image:linear-gradient(90deg,#fefeff 1px,#f8fcfe 29px,#eef7fe 50px,#e2f3fc 66px,#cee9f9 75px,#b6dcf5 79px,#94cbf0 82px,#60abe4 84px,#4b9add 85px,#306dc7 87px,#2a4eb4 88px,#263195 89px,#1b1c6b 90px,#0d0b32 91px,#05050f 92px,#060614 94px,#13114c 95px,#20247c 96px,#283ca1 97px,#2d5bbc 98px,#3479ce 99px,#56a3e1 101px,#89c4ed 103px,#9ccff1 104px,#bbdef6 107px,#cde8f9 110px,#e2f2fc 119px,#eef7fe 136px,#fdfeff 164px,#feffff 212px)"></div>
<div style="background-image:linear-gradient(90deg,#fefeff 1px,#f8fcfe 29px,#eef7fe 49px,#e3f3fc 66px,#cfe9f9 75px,#b7dcf5 79px,#97ccf0 82px,#63ade5 84px,#3d88d6 86px,#3171ca 87px,#2b52b6 88px,#273599 89px,#1d1e71 90px,#0f0d3a 91px,#05050f 92px,#05050f 94px,#110f46 95px,#1f2177 96px,#27399e 97px,#2c57ba 98px,#3276cd 99px,#53a1e0 101px,#69b2e7 102px,#86c2ed 103px,#9bcef1 104px,#badef6 107px,#cce8f9 110px,#e1f2fc 119px,#eef7fe 136px,#fdfeff 164px,#feffff 212px)"></div>
<div style="background-image:linear-gradient(90deg,#fefeff 1px,#f8fcfe 29px,#eef7fe 49px,#e3f3fc 66px,#cfeaf9 75px,#c0e1f7 78px,#a5d3f2 81px,#98cdf0 82px,#65afe6 84px,#3f8bd7 86px,#3275cc 87px,#2c56b9 88px,#27399e 89px,#1e2177 90px,#110f42 91px,#05050f 92px,#05050f 94px,#100e3f 95px,#1d1f72 96px,#27359a 97px,#2b53b7 98px,#3173cb 99px,#519fdf 101px,#66b0e6 102px,#99cdf0 104px,#b9ddf5 107px,#cce8f9 110px,#e1f2fc 119px,#eef7fe 136px,#fdfeff 164px,#feffff 212px)"></div>
<div style="background-image:linear-gradient(90deg,#fefeff 1px,#f9fcff 29px,#eef7fe 49px,#e3f3fc 66px,#d0eaf9 75px,#c1e2f7 78px,#a6d4f3 81px,#9acef1 82px,#84c2ec 83px,#68b1e7 84px,#418ed8 86px,#3378ce 87px,#2c5abc 88px,#283ca1 89px,#20247c 90px,#12104a 91px,#050510 92px,#05050f 94px,#0e0c38 95px,#1c1d6d 96px,#273296 97px,#2a4fb5 98px,#316fc9 99px,#4e9cde 101px,#63aee5 102px,#97cdf0 104px,#b8ddf5 107px,#cfe9f9 111px,#e4f3fc 121px,#fdfeff 163px,#feffff 212px)"></div>
<div style="background-image:linear-gradient(90deg,#fefeff 1px,#f9fcff 29px,#eef7fe 49px,#e3f3fc 66px,#d0eaf9 75px,#c2e2f7 78px,#a8d4f3 81px,#9ccff1 82px,#88c4ed 83px,#56a3e1 85px,#357bcf 87px,#2d5ebe 88px,#2840a5 89px,#222682 90px,#141252 91px,#070616 92px,#05050f 93px,#05050f 94px,#0d0b31 95px,#1a1a68 96px,#262f93 97px,#2a4cb2 98px,#306cc7 99px,#4b9ade 101px,#7bbcea 103px,#95ccf0 104px,#b7dcf5 107px,#cee9f9 111px,#e4f3fc 121px,#fdfeff 163px,#feffff 212px)"></div>
<div style="background-image:linear-gradient(90deg,#fefeff 1px,#f8fcfe 30px,#edf7fd 52px,#e0f2fc 68px,#cde8f9 76px,#b3daf5 80px,#9dcff1 82px,#8bc6ee 83px,#58a5e2 85px,#4493da 86px,#377dd0 87px,#2e62c0 88px,#2944a9 89px,#232987 90px,#161459 91px,#08071d 92px,#05050f 93px,#05050f 94px,#0b092a 95px,#181862 96px,#252c8e 97px,#2949ae 98px,#2f68c4 99px,#4898dd 101px,#92caef 104px,#b6dbf5 107px,#cee9f9 111px,#e4f3fc 121px,#fdfeff 163px,#feffff 212px)"></div>
<div style="background-image:linear-gradient(90deg,#fefeff 1px,#f8fcfe 30px,#eef7fe 51px,#e2f2fc 67px,#cde9f9 76px,#b4dbf5 80px,#9fd0f1 82px,#8ec7ee 83px,#4695dc 86px,#2f66c3 88px,#2947ad 89px,#252b8c 90px,#18165f 91px,#0a0924 92px,#05050f 93px,#05050f 94px,#0a0823 95px,#17155d 96px,#242a8a 97px,#2945ab 98px,#2e64c2 99px,#4696dc 101px,#8fc8ef 104px,#abd6f3 106px,#cae7f8 110px,#dff1fc 118px,#edf7fd 133px,#fdfeff 165px,#feffff 212px)"></div>
<div style="background-image:linear-gradient(90deg,#fefeff 1px,#f8fcfe 30px,#eef7fe 51px,#e2f3fc 67px,#cee9f9 76px,#b5dbf5 80px,#a0d1f2 82px,#91c9ef 83px,#4898dd 86px,#2f69c5 88px,#2a4ab0 89px,#262e91 90px,#191965 91px,#0c0a2c 92px,#05050f 93px,#05050f 94px,#08071d 95px,#151357 96px,#222885 97px,#2942a7 98px,#2e61c0 99px,#377dd0 100px,#4493db 101px,#71b6e8 103px,#8cc6ee 104px,#aad5f3 106px,#c9e7f8 110px,#dff1fc 118px,#edf7fd 133px,#fdfeff 166px,#feffff 212px)"></div>
<div style="background-image:linear-gradient(90deg,#fefeff 1px,#f8fcfe 30px,#eef7fe 51px,#e2f3fc 67px,#cee9f9 76px,#b6dcf5 80px,#94cbf0 83px,#60abe4 85px,#4b9add 86px,#306dc7 88px,#2a4eb4 89px,#273195 90px,#1b1c6b 91px,#0d0b33 92px,#05050f 93px,#05050f 94px,#070617 95px,#141251 96px,#212580 97px,#283fa4 98px,#2d5dbe 99px,#357bcf 100px,#4391d9 101px,#6eb4e8 103px,#89c4ed 104px,#9ccff1 105px,#bbdef6 108px,#cde8f9 111px,#e2f2fc 120px,#eef7fe 137px,#fdfeff 165px,#feffff 212px)"></div>
<div style="background-image:linear-gradient(90deg,#fefeff 1px,#f8fcfe 30px,#eef7fe 50px,#e3f3fc 67px,#cfe9f9 76px,#b7dcf5 80px,#97ccf0 83px,#62ade5 85px,#3d88d5 87px,#3171ca 88px,#2b52b6 89px,#273599 90px,#1d1e71 91px,#0f0d3b 92px,#05050f 93px,#050511 95px,#12104a 96px,#20237b 97px,#283ca1 98px,#2c5abb 99px,#3378ce 100px,#54a1e0 102px,#86c3ed 104px,#9bcef1 105px,#badef6 108px,#cce8f9 111px,#e1f2fc 120px,#eef7fe 137px,#fdfeff 165px,#feffff 212px)"></div>
<div style="background-image:linear-gradient(90deg,#fefeff 1px,#f8fcfe 30px,#eef7fe 50px,#e3f3fc 67px,#cfeaf9 76px,#c0e1f7 79px,#a5d3f2 82px,#98cdf0 83px,#65afe6 85px,#3f8bd7 87px,#3274cc 88px,#2c56b9 89px,#27389d 90px,#1e2176 91px,#110f42 92px,#05050f 93px,#05050f 95px,#110f44 96px,#1e2176 97px,#27389d 98px,#2c56b9 99px,#3275cc 100px,#519fe0 102px,#67b0e6 103px,#99cef1 105px,#b9ddf6 108px,#cce8f9 111px,#e1f2fc 120px,#eef7fe 137px,#fdfeff 165px,#feffff 212px)"></div>
<div style="background-image:linear-gradient(90deg,#fefeff 1px,#f9fcff 30px,#eef7fe 50px,#e3f3fc 67px,#cfeaf9 76px,#c1e2f7 79px,#a6d3f2 82px,#9acef1 83px,#53a0e0 86px,#3377ce 88px,#2c59bb 89px,#283ca1 90px,#20237b 91px,#121049 92px,#050510 93px,#05050f 95px,#100e3d 96px,#1d1f72 97px,#27359a 98px,#2b52b7 99px,#3172ca 100px,#4f9ddf 102px,#64aee5 103px,#98cdf0 105px,#b8ddf5 108px,#cbe8f8 111px,#e0f1fc 119px,#edf7fd 135px,#fdfeff 166px,#feffff 212px)"></div>
<div style="background-image:linear-gradient(90deg,#fefeff 1px,#f9fcff 30px,#eef7fe 50px,#e3f3fc 67px,#d0eaf9 76px,#c2e2f7 79px,#a8d4f3 82px,#9bcef1 83px,#87c3ed 84px,#55a2e1 86px,#347acf 88px,#2d5dbd 89px,#283fa4 90px,#212681 91px,#141250 92px,#070615 93px,#05050f 94px,#05050f 95px,#0e0c37 96px,#1b1c6d 97px,#273296 98px,#2a4fb4 99px,#306ec8 100px,#4c9bde 102px,#7cbdeb 104px,#96ccf0 105px,#b7dcf5 108px,#cee9f9 112px,#e4f3fc 122px,#fdfeff 164px,#feffff 212px)"></div>
<div style="background-image:linear-gradient(90deg,#fefeff 1px,#f9fcff 30px,#eff8fe 49px,#e3f3fc 67px,#d0eaf9 76px,#bbdef6 80px,#9dcff1 83px,#8ac5ed 84px,#58a4e2 86px,#4392da 87px,#367dd0 88px,#2e61c0 89px,#2943a8 90px,#232886 91px,#151357 92px,#08071c 93px,#05050f 94px,#05050f 95px,#0d0b30 96px,#1a1a68 97px,#262f93 98px,#2a4cb2 99px,#306bc6 100px,#4a99dd 102px,#94cbef 105px,#b6dcf5 108px,#cee9f9 112px,#e4f3fc 122px,#fdfeff 164px,#feffff 212px)"></div>
<div style="background-image:linear-gradient(90deg,#fefeff 1px,#f8fcfe 31px,#eef7fd 53px,#e0f2fc 69px,#cde9f9 77px,#b4daf5 81px,#9ed0f1 83px,#8dc7ee 84px,#5aa6e2 86px,#4594db 87px,#2e64c2 89px,#2946ab 90px,#242a8b 91px,#17165e 92px,#0a0823 93px,#05050f 94px,#05050f 95px,#0b092a 96px,#191863 97px,#252c8f 98px,#2949ae 99px,#2f68c4 100px,#4797dc 102px,#91c9ef 105px,#acd6f3 107px,#cae7f8 111px,#dff1fc 119px,#edf7fd 134px,#fdfeff 166px,#feffff 212px)"></div>
<div style="background-image:linear-gradient(90deg,#fefeff 1px,#f8fcfe 31px,#eef7fe 52px,#e2f2fc 68px,#cde9f9 77px,#b5dbf5 81px,#a0d0f1 83px,#90c8ef 84px,#4797dc 87px,#2f68c4 89px,#2949af 90px,#262c8f 91px,#191863 92px,#0b092a 93px,#05050f 94px,#05050f 95px,#0a0824 96px,#17165e 97px,#242a8a 98px,#2946ab 99px,#2e64c2 100px,#4595db 102px,#8ec7ee 105px,#abd6f3 107px,#c9e7f8 111px,#dff1fc 119px,#edf7fd 134px,#fdfeff 166px,#feffff 212px)"></div>
<div style="background-image:linear-gradient(90deg,#fefeff 1px,#f8fcfe 31px,#eef7fe 52px,#e2f3fc 68px,#cee9f9 77px,#b6dbf5 81px,#93caef 84px,#4999dd 87px,#306bc6 89px,#2a4cb2 90px,#262f93 91px,#1a1b69 92px,#0d0b30 93px,#05050f 94px,#05050f 95px,#08071e 96px,#161458 97px,#232886 98px,#2943a8 99px,#2e61c0 100px,#367dd0 101px,#4492da 102px,#70b6e8 104px,#8bc5ee 105px,#9dcff1 106px,#bbdff6 109px,#d0eaf9 113px,#e6f4fd 124px,#fdfeff 165px,#feffff 212px)"></div>
<div style="background-image:linear-gradient(90deg,#fefeff 1px,#f8fcfe 31px,#eef7fe 51px,#e2f3fc 68px,#cee9f9 77px,#b7dcf5 81px,#95ccf0 84px,#61ace4 86px,#3c87d5 88px,#306ec8 89px,#2a4fb5 90px,#273397 91px,#1c1d6e 92px,#0e0c38 93px,#05050f 94px,#05050f 95px,#070618 96px,#141252 97px,#212681 98px,#2840a5 99px,#2d5ebe 100px,#357acf 101px,#56a3e1 103px,#88c4ed 105px,#9ccff1 106px,#bbdef6 109px,#cce8f9 112px,#e2f2fc 121px,#eef7fe 138px,#fdfeff 166px,#feffff 212px)"></div>
<div style="background-image:linear-gradient(90deg,#fefeff 1px,#f8fcfe 31px,#eef7fe 51px,#e3f3fc 68px,#cfe9f9 77px,#b8ddf5 81px,#97cdf0 84px,#63aee5 86px,#3e89d6 88px,#3172ca 89px,#2b53b7 90px,#27369b 91px,#1d1f73 92px,#100e3e 93px,#05050f 94px,#060612 96px,#13114c 97px,#20247d 98px,#283da2 99px,#2c5abc 100px,#3378ce 101px,#54a1e0 103px,#69b2e7 104px,#85c2ec 105px,#9acef1 106px,#badef6 109px,#cce8f9 112px,#e1f2fc 121px,#eef7fe 138px,#fdfeff 166px,#feffff 212px)"></div>
<div style="background-image:linear-gradient(90deg,#fefeff 1px,#f8fcfe 31px,#eef7fe 51px,#e3f3fc 68px,#cfeaf9 77px,#c0e1f7 80px,#a5d3f2 83px,#99cdf0 84px,#65b0e6 86px,#3f8bd7 88px,#3275cc 89px,#2c57b9 90px,#28399e 91px,#1f2278 92px,#110f45 93px,#05050f 94px,#05050f 96px,#121046 97px,#1f2278 98px,#283a9e 99px,#2c57ba 100px,#3275cd 101px,#519fdf 103px,#66b0e6 104px,#99cdf0 106px,#b9ddf5 109px,#cbe8f8 112px,#e1f2fc 121px,#eef7fe 138px,#fdfeff 166px,#feffff 212px)"></div>
<div style="background-image:linear-gradient(90deg,#fefeff 1px,#f9fcff 31px,#eef7fe 51px,#e3f3fc 68px,#cfeaf9 77px,#c1e2f7 80px,#a6d4f3 83px,#9acef1 84px,#84c2ec 85px,#68b1e6 86px,#418ed8 88px,#3378ce 89px,#2c5abc 90px,#283da2 91px,#20247d 92px,#13114c 93px,#060612 94px,#05050f 96px,#100e40 97px,#1e2074 98px,#27379b 99px,#2b54b7 100px,#3172cb 101px,#4f9ddf 103px,#64aee5 104px,#98cdf0 106px,#b8ddf5 109px,#cfe9f9 113px,#e4f3fc 123px,#fdfeff 165px,#feffff 212px)"></div>
<div style="background-image:linear-gradient(90deg,#fefeff 1px,#f9fcff 31px,#eef7fe 51px,#e3f3fc 68px,#d0eaf9 77px,#c2e2f7 80px,#a8d4f3 83px,#9bcef1 84px,#87c3ed 85px,#55a2e1 87px,#357acf 89px,#2d5dbe 90px,#2840a5 91px,#222682 92px,#141252 93px,#070718 94px,#05050f 95px,#05050f 96px,#0f0d3a 97px,#1c1e6f 98px,#273498 99px,#2a50b5 100px,#316fc9 101px,#4c9bde 103px,#7cbdeb 105px,#96ccf0 106px,#b7dcf5 109px,#cee9f9 113px,#e4f3fc 123px,#fdfeff 165px,#feffff 212px)"></div>
<div style="background-image:linear-gradient(90deg,#fefeff 1px,#f9fcff 31px,#eff8fe 50px,#e3f3fc 68px,#d0eaf9 77px,#bbdef6 81px,#9dcff1 84px,#8ac5ed 85px,#58a4e1 87px,#4392da 88px,#367dd0 89px,#2e61c0 90px,#2943a8 91px,#232886 92px,#161459 93px,#09081e 94px,#05050f 95px,#05050f 96px,#0d0b34 97px,#1b1c6b 98px,#263095 99px,#2a4db3 100px,#306cc7 101px,#4a99dd 103px,#79bbea 105px,#94cbef 106px,#b6dcf5 109px,#cee9f9 113px,#e4f3fc 123px,#fdfeff 165px,#feffff 212px)"></div>
<div style="background-image:linear-gradient(90deg,#fefeff 1px,#f9fcff 31px,#eff8fe 50px,#e4f3fc 68px,#d1eaf9 77px,#bcdff6 81px,#9ed0f1 84px,#8dc6ee 85px,#5aa6e2 87px,#4594db 88px,#2e64c2 90px,#2946ab 91px,#242a8b 92px,#17165e 93px,#0a0924 94px,#05050f 95px,#05050f 96px,#0c0a2e 97px,#191966 98px,#262d91 99px,#2a4ab0 100px,#2f69c5 101px,#4897dd 103px,#91c9ef 106px,#acd6f3 108px,#cae7f8 112px,#dff1fc 120px,#edf7fd 135px,#fdfeff 167px,#feffff 212px)"></div>
<div style="background-image:linear-gradient(90deg,#fefeff 1px,#f8fcfe 32px,#eef7fe 53px,#e2f2fc 69px,#cde9f9 78px,#b5dbf5 82px,#9fd0f1 84px,#8fc8ef 85px,#4696dc 88px,#2f67c4 90px,#2949ae 91px,#262c8f 92px,#191863 93px,#0b0a2a 94px,#05050f 95px,#05050f 96px,#0b0928 97px,#181761 98px,#252b8d 99px,#2947ad 100px,#2f66c3 101px,#4695dc 103px,#8ec7ee 106px,#abd6f3 108px,#c9e7f8 112px,#dff1fc 120px,#edf7fd 135px,#fdfeff 167px,#feffff 212px)"></div>
<div style="background-image:linear-gradient(90deg,#fefeff 1px,#f8fcfe 32px,#eef7fe 53px,#e2f3fc 69px,#cee9f9 78px,#b6dbf5 82px,#92caef 85px,#4998dd 88px,#306ac6 90px,#2a4cb1 91px,#262f93 92px,#1a1b68 93px,#0d0b31 94px,#05050f 95px,#05050f 96px,#0a0822 97px,#17155d 98px,#242a89 99px,#2945aa 100px,#2e63c1 101px,#4493db 103px,#70b6e8 105px,#8cc6ee 106px,#9ed0f1 107px,#bcdff6 110px,#d0eaf9 114px,#e6f4fd 125px,#fdfeff 166px,#feffff 212px)"></div>
<div style="background-image:linear-gradient(90deg,#fefeff 1px,#f8fcfe 32px,#eef7fe 53px,#e2f3fc 69px,#cee9f9 78px,#b7dcf5 82px,#94cbf0 85px,#60abe4 87px,#4b9ade 88px,#306dc8 90px,#2a4eb4 91px,#273296 92px,#1c1d6d 93px,#0e0c37 94px,#05050f 95px,#05050f 96px,#08071d 97px,#151357 98px,#232885 99px,#2942a7 100px,#2e60bf 101px,#367cd0 102px,#4391da 103px,#6eb4e8 105px,#89c4ed 106px,#9ccff1 107px,#bbdef6 110px,#cce8f9 113px,#e2f2fc 122px,#eef7fe 139px,#fdfeff 167px,#feffff 212px)"></div>
<div style="background-image:linear-gradient(90deg,#fefeff 1px,#f8fcfe 32px,#eef7fe 52px,#e3f3fc 69px,#cfe9f9 78px,#b7dcf5 82px,#97ccf0 85px,#62ade5 87px,#3d88d5 89px,#3170ca 90px,#2b52b6 91px,#27359a 92px,#1d1f72 93px,#100e3d 94px,#05050f 95px,#05050f 96px,#070618 97px,#141252 98px,#212681 99px,#283fa4 100px,#2d5dbd 101px,#347acf 102px,#55a2e1 104px,#86c3ed 106px,#9bcef1 107px,#badef6 110px,#cce8f9 113px,#e2f2fc 122px,#eef7fe 139px,#fdfeff 167px,#feffff 212px)"></div>
<div style="background-image:linear-gradient(90deg,#fefeff 1px,#f8fcfe 32px,#eef7fe 52px,#e3f3fc 69px,#cfe9f9 78px,#c0e1f7 81px,#a4d3f2 84px,#98cdf0 85px,#64afe5 87px,#3f8ad6 89px,#3173cb 90px,#2b55b8 91px,#27389d 92px,#1e2177 93px,#110f44 94px,#05050f 95px,#060613 97px,#13114c 98px,#20247d 99px,#283ca1 100px,#2c5abb 101px,#3377ce 102px,#53a0e0 104px,#68b1e6 105px,#9acef1 107px,#b9ddf6 110px,#cce8f9 113px,#e1f2fc 122px,#eef7fe 139px,#fdfeff 167px,#feffff 212px)"></div>
<div style="background-image:linear-gradient(90deg,#fefeff 1px,#f8fcfe 32px,#eef7fe 52px,#e3f3fc 69px,#cfeaf9 78px,#c0e2f7 81px,#a6d3f2 84px,#99cdf0 85px,#66b0e6 87px,#408cd7 89px,#3276cd 90px,#2c58ba 91px,#283ba0 92px,#20237b 93px,#12104a 94px,#050511 95px,#05050f 97px,#121047 98px,#1f2279 99px,#283a9e 100px,#2c56b9 101px,#3275cc 102px,#509edf 104px,#65afe6 105px,#98cdf0 107px,#b8ddf5 110px,#cbe8f8 113px,#e1f2fc 122px,#eef7fe 138px,#fdfeff 167px,#feffff 212px)"></div>
<div style="background-image:linear-gradient(90deg,#fefeff 1px,#f9fcff 32px,#eef7fe 52px,#e3f3fc 69px,#d0eaf9 78px,#c1e2f7 81px,#a7d4f3 84px,#9acef1 85px,#85c2ec 86px,#69b2e7 87px,#418ed8 89px,#3479ce 90px,#2d5bbc 91px,#283ea3 92px,#21257f 93px,#141250 94px,#070616 95px,#05050f 96px,#05050f 97px,#100e41 98px,#1e2075 99px,#27379b 100px,#2b53b7 101px,#3172ca 102px,#4e9ddf 104px,#63aee5 105px,#97cdf0 107px,#b8dcf5 110px,#cfe9f9 114px,#e4f3fc 124px,#fdfeff 166px,#feffff 212px)"></div>
<div style="background-image:linear-gradient(90deg,#fefeff 1px,#f9fcff 32px,#eef7fe 52px,#e3f3fc 69px,#d0eaf9 78px,#c2e2f7 81px,#a8d4f3 84px,#9ccff1 85px,#88c4ed 86px,#56a3e1 88px,#357bcf 90px,#2d5ebe 91px,#2841a6 92px,#222784 93px,#151356 94px,#08071b 95px,#05050f 96px,#05050f 97px,#0f0d3b 98px,#1c1e70 99px,#273498 100px,#2a50b5 101px,#316fc9 102px,#4c9bde 104px,#7cbdeb 106px,#96ccf0 107px,#b7dcf5 110px,#cee9f9 114px,#e4f3fc 124px,#fdfeff 166px,#feffff 212px)"></div>
<div style="background-image:linear-gradient(90deg,#fefeff 1px,#f9fcff 32px,#eff8fe 51px,#e3f3fc 69px,#d0eaf9 78px,#bbdff6 82px,#9dcff1 85px,#8ac5ee 86px,#58a4e2 88px,#4492da 89px,#367dd0 90px,#2e61c0 91px,#2944a9 92px,#232988 93px,#16145b 94px,#090821 95px,#05050f 96px,#05050f 97px,#0e0c36 98px,#1b1c6c 99px,#273195 100px,#2a4db3 101px,#306cc7 102px,#4a99dd 104px,#79bbea 106px,#93caef 107px,#b6dcf5 110px,#cee9f9 114px,#e4f3fc 124px,#fdfeff 166px,#feffff 212px)"></div>
<div style="background-image:linear-gradient(90deg,#fefeff 1px,#f9fcff 32px,#eff8fe 51px,#e4f3fc 69px,#d1eaf9 78px,#bcdff6 82px,#9ed0f1 85px,#8dc6ee 86px,#5aa6e2 88px,#4594db 89px,#2e64c2 91px,#2946ac 92px,#252b8c 93px,#181760 94px,#0a0926 95px,#05050f 96px,#05050f 97px,#0d0b30 98px,#1a1a68 99px,#262e92 100px,#2a4bb1 101px,#2f69c5 102px,#4897dd 104px,#91c9ef 107px,#acd6f3 109px,#cae7f8 113px,#dff1fc 121px,#edf7fd 136px,#fdfeff 168px,#feffff 212px)"></div>
<div style="background-image:linear-gradient(90deg,#fefeff 1px,#f9fcff 32px,#eff8fe 51px,#e4f3fc 69px,#cde9f9 79px,#b5dbf5 83px,#9fd0f1 85px,#8fc8ef 86px,#4696dc 89px,#2f67c4 91px,#2949af 92px,#262c90 93px,#191964 94px,#0c0a2c 95px,#05050f 96px,#05050f 97px,#0b0a2b 98px,#191863 99px,#252c8f 100px,#2948ae 101px,#2f67c3 102px,#4696dc 104px,#8fc8ee 107px,#abd6f3 109px,#c9e7f8 113px,#dff1fc 121px,#edf7fd 136px,#fdfeff 168px,#feffff 212px)"></div>
<div style="background-image:linear-gradient(90deg,#fefeff 1px,#f8fcfe 33px,#eef7fe 54px,#e2f3fc 70px,#cee9f9 79px,#b6dbf5 83px,#a0d1f2 85px,#91c9ef 86px,#4898dd 89px,#306ac6 91px,#2a4bb1 92px,#262f93 93px,#1a1b69 94px,#0d0b31 95px,#05050f 96px,#05050f 97px,#0a0926 98px,#17165f 99px,#242a8b 100px,#2946ab 101px,#2e64c2 102px,#4594db 104px,#71b6e8 106px,#8cc6ee 107px,#aad5f3 109px,#c9e7f8 113px,#dff1fc 121px,#edf7fd 136px,#fdfeff 169px,#feffff 212px)"></div>
<div style="background-image:linear-gradient(90deg,#fefeff 1px,#f8fcfe 33px,#eef7fe 54px,#e2f3fc 70px,#cee9f9 79px,#b6dcf5 83px,#94cbf0 86px,#60abe4 88px,#4a99dd 89px,#306dc7 91px,#2a4eb4 92px,#273296 93px,#1c1d6d 94px,#0e0c37 95px,#05050f 96px,#05050f 97px,#090821 98px,#16145b 99px,#232988 100px,#2943a9 101px,#2e61c0 102px,#367dd0 103px,#4392da 104px,#6eb5e8 106px,#8ac5ed 107px,#9dcff1 108px,#bbdef6 111px,#d0eaf9 115px,#e6f4fd 126px,#fdfeff 167px,#feffff 212px)"></div>
<div style="height:1px;background-image:linear-gradient(90deg,#fefeff 1px,#f8fcfe 33px,#eef7fe 53px,#e2f3fc 70px,#cee9f9 79px,#b7dcf5 83px,#95ccf0 86px,#61ace4 88px,#3c87d5 90px,#316fc8 91px,#2a50b5 92px,#273498 93px,#1c1e70 94px,#0f0d3b 95px,#05050f 96px,#05050f 97px,#08071d 98px,#151357 99px,#222785 100px,#2841a7 101px,#2d5fbf 102px,#357bcf 103px,#4391d9 104px,#6db4e7 106px,#88c4ed 107px,#9ccff1 108px,#bbdef6 111px,#cce8f9 114px,#e2f2fc 123px,#eef7fe 140px,#fdfeff 168px,#feffff 212px)"></div>
</div>
<div class="h" style="left:328px;top:328px;width:212px;height:213px">
<div style="background-image:linear-gradient(90deg,#feffff 1px,#f9fcff 34px,#e6f4fd 49px,#d9eefb 67px,#c8e6f8 72px,#b2d9f4 74px,#a1d1f2 75px,#87c3ed 76px,#63aee5 77px,#4b9ade 78px,#3e89d6 79px,#377dd0 80px,#347acf 81px,#377ed1 82px,#4c9bde 84px,#62ade5 85px,#9bcef1 87px,#b3daf4 89px,#bde0f6 92px,#afd8f4 95px,#90c9ef 97px,#6fb5e8 98px,#54a1e0 99px,#428fd9 100px,#3880d2 101px,#347acf 102px,#377ed1 103px,#3f8bd7 104px,#519fdf 105px,#6eb4e8 106px,#95cbf0 107px,#badef6 109px,#cde9f9 111px,#ebf6fd 119px,#f8fcfe 129px,#feffff 212px)"></div>
<div style="background-image:linear-gradient(90deg,#feffff 1px,#f9fcff 34px,#e6f4fd 49px,#d9effb 67px,#c9e6f8 72px,#b4daf5 74px,#a4d2f2 75px,#8dc7ee 76px,#67b1e6 77px,#4f9ddf 78px,#3f8bd7 79px,#377ed1 80px,#3479ce 81px,#367cd0 82px,#4797dc 84px,#5ea9e3 85px,#98cdf0 87px,#b2d9f4 89px,#bee0f6 92px,#b3daf5 95px,#9acef1 97px,#5faae4 99px,#4897dc 100px,#3c86d5 101px,#367cd0 102px,#367cd0 103px,#3c86d4 104px,#4897dc 105px,#61ace4 106px,#87c3ed 107px,#a3d2f2 108px,#c2e2f7 110px,#d6edfa 113px,#f2f9fe 123px,#fcfdff 142px,#feffff 212px)"></div>
<div style="background-image:linear-gradient(90deg,#feffff 1px,#f9fcff 34px,#e6f4fd 49px,#d8eefa 68px,#c9e7f8 72px,#b6dbf5 74px,#92caef 76px,#6db4e7 77px,#52a0e0 78px,#408dd8 79px,#387fd1 80px,#3378ce 81px,#347acf 82px,#3a83d3 83px,#4493db 84px,#59a5e2 85px,#95cbf0 87px,#b0d8f4 89px,#bfe1f6 92px,#b7dcf5 95px,#a1d1f2 97px,#8dc6ee 98px,#6ab3e7 99px,#519fe0 100px,#418dd8 101px,#3880d2 102px,#367cd0 103px,#3982d2 104px,#4290d9 105px,#57a4e1 106px,#9bcef1 108px,#bde0f6 110px,#cfe9f9 112px,#eef7fe 121px,#fafdff 133px,#feffff 212px)"></div>
<div style="background-image:linear-gradient(90deg,#feffff 1px,#f8fcfe 35px,#e7f4fd 49px,#d8eefa 68px,#cae7f8 72px,#b8dcf5 74px,#97ccf0 76px,#73b7e9 77px,#55a2e1 78px,#428fd9 79px,#3880d2 80px,#3378ce 81px,#3378ce 82px,#3880d2 83px,#428fd9 84px,#54a1e0 85px,#6eb4e8 86px,#8fc8ee 87px,#a2d1f2 88px,#b7dcf5 90px,#c0e1f7 93px,#b3daf4 96px,#98cdf0 98px,#5ca8e3 100px,#4695dc 101px,#3c85d4 102px,#367dd0 103px,#387fd1 104px,#3f8ad7 105px,#4e9ddf 106px,#69b2e7 107px,#91c9ef 108px,#a8d4f3 109px,#c4e4f7 111px,#dbeffb 115px,#f4fafe 125px,#fdfeff 152px,#feffff 212px)"></div>
<div style="background-image:linear-gradient(90deg,#feffff 1px,#f9fcff 35px,#e6f4fd 50px,#d8eefa 68px,#cbe8f8 72px,#badef6 74px,#9acef1 76px,#59a5e2 78px,#4392da 79px,#3981d2 80px,#3377ce 81px,#3276cd 82px,#377dd0 83px,#3f8cd7 84px,#4f9edf 85px,#67b0e6 86px,#88c4ed 87px,#9fd0f1 88px,#b6dbf5 90px,#c1e2f7 93px,#b7dcf5 96px,#a0d0f1 98px,#89c4ed 99px,#67b0e6 100px,#4f9ddf 101px,#408cd7 102px,#3880d2 103px,#377ed1 104px,#3c85d4 105px,#4696dc 106px,#5ea9e3 107px,#82c0ec 108px,#a0d1f2 109px,#c0e1f7 111px,#d0eaf9 113px,#f0f8fe 123px,#fbfdff 138px,#feffff 212px)"></div>
<div style="background-image:linear-gradient(90deg,#feffff 1px,#f9fcff 35px,#e6f4fd 50px,#d9eefa 68px,#cce8f9 72px,#bbdff6 74px,#9dcff1 76px,#5ca8e3 78px,#4594db 79px,#3a83d3 80px,#3378ce 81px,#3274cc 82px,#357bcf 83px,#4a9add 85px,#62ace5 86px,#82c0ec 87px,#9ccff1 88px,#b5dbf5 90px,#c2e2f7 93px,#badef6 96px,#a6d3f2 98px,#96ccf0 99px,#59a5e2 101px,#4493db 102px,#3b85d4 103px,#377fd1 104px,#3a82d3 105px,#428fd9 106px,#55a2e1 107px,#73b7e9 108px,#98cdf0 109px,#bbdef6 111px,#cee9f9 113px,#ebf6fd 121px,#f8fcfe 131px,#feffff 212px)"></div>
<div style="background-image:linear-gradient(90deg,#feffff 1px,#f9fcff 35px,#e6f4fd 50px,#d9eefb 68px,#c7e5f8 73px,#b1d9f4 75px,#a0d0f1 76px,#84c1ec 77px,#60abe4 78px,#4797dc 79px,#3378ce 81px,#3173cb 82px,#3378ce 83px,#4696dc 85px,#5da9e3 86px,#99cdf0 88px,#b4daf5 90px,#c2e3f7 93px,#bde0f6 96px,#acd6f3 98px,#9ed0f1 99px,#85c2ec 100px,#63aee5 101px,#4c9bde 102px,#3f8bd7 103px,#3981d2 104px,#3880d2 105px,#3e8ad6 106px,#4c9bde 107px,#65afe6 108px,#8cc6ee 109px,#a5d3f2 110px,#c3e3f7 112px,#d6edfa 115px,#f2f9fe 125px,#fcfeff 145px,#feffff 212px)"></div>
<div style="background-image:linear-gradient(90deg,#feffff 1px,#f9fcff 35px,#e6f4fd 50px,#d9eefb 68px,#c8e6f8 73px,#b3daf4 75px,#a2d2f2 76px,#89c4ed 77px,#64aee5 78px,#4b9add 79px,#3479ce 81px,#3172ca 82px,#3275cd 83px,#4392da 85px,#58a5e2 86px,#96ccf0 88px,#b2d9f4 90px,#c3e3f7 93px,#c0e1f7 96px,#b2d9f4 98px,#93caef 100px,#72b7e8 101px,#56a3e1 102px,#4392da 103px,#3b85d4 104px,#3880d2 105px,#3c86d4 106px,#4594db 107px,#5ba7e3 108px,#9dcff1 110px,#bee0f6 112px,#cfeaf9 114px,#eef7fe 123px,#fafdff 135px,#feffff 212px)"></div>
<div style="background-image:linear-gradient(90deg,#feffff 1px,#f9fcff 35px,#e6f4fd 50px,#d8eefa 69px,#c9e7f8 73px,#b5dbf5 75px,#a5d3f2 76px,#8fc8ee 77px,#68b1e6 78px,#4e9cde 79px,#3e89d6 80px,#347acf 81px,#3171ca 82px,#3173cb 83px,#418dd8 85px,#53a1e0 86px,#6eb4e8 87px,#90c8ef 88px,#b0d8f4 90px,#c3e3f7 93px,#c2e2f7 96px,#b6dbf5 98px,#9ccff1 100px,#61ace4 102px,#4a99dd 103px,#3f8ad6 104px,#3982d3 105px,#3a83d3 106px,#418ed8 107px,#52a0e0 108px,#6eb5e8 109px,#94cbf0 110px,#b9ddf6 112px,#cde9f9 114px,#ebf6fd 122px,#f8fcfe 132px,#feffff 212px)"></div>
<div style="background-image:linear-gradient(90deg,#feffff 1px,#f8fcfe 36px,#e6f4fd 51px,#d8eefa 69px,#cae7f8 73px,#b7dcf5 75px,#94cbf0 77px,#6eb5e8 78px,#519fe0 79px,#3f8bd7 80px,#357bcf 81px,#3171ca 82px,#3170ca 83px,#357acf 84px,#3e89d6 85px,#4e9ddf 86px,#67b0e6 87px,#8ac5ed 88px,#a0d1f2 89px,#b8ddf5 91px,#c5e4f8 94px,#c0e1f7 97px,#b1d9f4 99px,#90c8ef 101px,#6db4e8 102px,#54a1e0 103px,#4391d9 104px,#3b85d4 105px,#3a82d3 106px,#3e8ad6 107px,#4a99dd 108px,#61ace5 109px,#86c3ed 110px,#a2d2f2 111px,#c1e2f7 113px,#d6edfa 116px,#f2f9fe 126px,#fcfeff 145px,#feffff 212px)"></div>
<div style="background-image:linear-gradient(90deg,#feffff 1px,#f9fcff 36px,#e6f4fd 51px,#d8eefa 69px,#cbe7f8 73px,#b9ddf5 75px,#98cdf0 77px,#55a2e1 79px,#418ed8 80px,#3171ca 82px,#306ec8 83px,#3377cd 84px,#4999dd 86px,#61ace5 87px,#83c1ec 88px,#9dcff1 89px,#b7dcf5 91px,#c6e5f8 94px,#c2e3f7 97px,#b5dbf5 99px,#9acef1 101px,#5eaae4 103px,#4898dd 104px,#3e8ad6 105px,#3a83d3 106px,#3c86d5 107px,#4493db 108px,#58a5e2 109px,#9acef1 111px,#bcdff6 113px,#cfe9f9 115px,#eef7fd 124px,#fafdff 136px,#feffff 212px)"></div>
<div style="background-image:linear-gradient(90deg,#feffff 1px,#f9fcff 36px,#e6f4fd 51px,#d8eefa 69px,#cbe8f8 73px,#badef6 75px,#9bcef1 77px,#59a5e2 79px,#4290d9 80px,#3171ca 82px,#306dc7 83px,#3274cc 84px,#4594db 86px,#5da8e3 87px,#9acef1 89px,#b5dbf5 91px,#c6e5f8 94px,#c5e4f7 97px,#b0d8f4 100px,#a2d1f2 101px,#8cc6ee 102px,#6ab2e7 103px,#529fe0 104px,#428fd9 105px,#3c85d4 106px,#3b85d4 107px,#418ed8 108px,#509edf 109px,#69b2e7 110px,#90c8ef 111px,#a7d4f3 112px,#c4e3f7 114px,#dbeffb 118px,#f4fafe 128px,#fdfeff 154px,#feffff 212px)"></div>
<div style="background-image:linear-gradient(90deg,#feffff 1px,#f9fcff 36px,#e6f4fd 51px,#d9eefa 69px,#c6e5f8 74px,#b0d8f4 76px,#9ed0f1 77px,#5ca8e3 79px,#4493db 80px,#3172ca 82px,#306bc6 83px,#3170ca 84px,#4290d9 86px,#58a4e1 87px,#97ccf0 89px,#b4daf5 91px,#c6e5f8 94px,#c6e5f8 97px,#b5dbf5 100px,#98cdf0 102px,#5ca7e3 104px,#4796dc 105px,#3e89d6 106px,#3b85d4 107px,#3e8ad6 108px,#4897dd 109px,#5eaae4 110px,#9fd0f1 112px,#bfe1f7 114px,#d0eaf9 116px,#f0f8fe 126px,#fbfdff 140px,#feffff 212px)"></div>
<div style="background-image:linear-gradient(90deg,#feffff 1px,#f9fcff 36px,#e6f4fd 51px,#d9eefb 69px,#c7e6f8 74px,#b2d9f4 76px,#a1d1f2 77px,#85c2ec 78px,#60abe4 79px,#4696dc 80px,#3173cb 82px,#306ac6 83px,#306ec8 84px,#357acf 85px,#408cd7 86px,#52a0e0 87px,#6eb5e8 88px,#91c9ef 89px,#b2d9f4 91px,#c6e5f8 94px,#c8e6f8 97px,#b9ddf5 100px,#a0d1f2 102px,#88c4ed 103px,#66b0e6 104px,#509edf 105px,#418fd9 106px,#3c86d5 107px,#3d87d5 108px,#4392da 109px,#55a3e1 110px,#72b7e9 111px,#97ccf0 112px,#badef6 114px,#cee9f9 116px,#ebf6fd 124px,#f9fcff 134px,#feffff 212px)"></div>
<div style="background-image:linear-gradient(90deg,#feffff 1px,#f9fcff 36px,#e6f4fd 52px,#d7eefa 70px,#c9e6f8 74px,#b4daf5 76px,#a3d2f2 77px,#8ac5ee 78px,#64aee5 79px,#4999dd 80px,#3274cc 82px,#306ac5 83px,#306bc6 84px,#3377cd 85px,#4d9cde 87px,#67b0e6 88px,#8bc6ee 89px,#a1d1f2 90px,#b9def6 92px,#c8e6f8 95px,#c7e5f8 98px,#b4daf5 101px,#96ccf0 103px,#59a6e2 105px,#4695dc 106px,#3e8ad6 107px,#3c87d5 108px,#418dd8 109px,#4d9cde 110px,#65afe6 111px,#8ac5ee 112px,#a4d2f2 113px,#c2e2f7 115px,#d6edfa 118px,#f2f9fe 128px,#fcfeff 147px,#feffff 212px)"></div>
<div style="background-image:linear-gradient(90deg,#feffff 1px,#f8fcfe 37px,#e6f4fd 52px,#d8eefa 70px,#c9e7f8 74px,#b5dbf5 76px,#a6d3f2 77px,#90c8ef 78px,#68b1e7 79px,#4d9cde 80px,#3c86d5 81px,#3275cd 82px,#2f69c5 83px,#2f69c5 84px,#3173cb 85px,#4898dd 87px,#62ace5 88px,#84c2ec 89px,#9ed0f1 90px,#b8ddf5 92px,#c8e6f8 95px,#c5e4f8 99px,#add7f4 102px,#9ed0f1 103px,#84c2ec 104px,#63aee5 105px,#4e9cde 106px,#418ed8 107px,#3d87d5 108px,#3f8ad7 109px,#4796dc 110px,#5ba7e3 111px,#9ccff1 113px,#bde0f6 115px,#cfe9f9 117px,#eef7fe 126px,#fafdff 138px,#feffff 212px)"></div>
<div style="background-image:linear-gradient(90deg,#feffff 1px,#f9fcff 37px,#e6f4fd 52px,#d8eefa 70px,#cae7f8 74px,#b7dcf5 76px,#95cbf0 78px,#6eb5e8 79px,#519fdf 80px,#3e89d6 81px,#3377cd 82px,#2f69c5 83px,#2f66c3 84px,#316fc9 85px,#4494db 87px,#5da8e3 88px,#9bcef1 90px,#b7dcf5 92px,#c8e6f8 95px,#c8e6f8 99px,#b3daf4 102px,#93caef 104px,#71b7e8 105px,#57a4e1 106px,#4594db 107px,#3f8ad6 108px,#3e89d6 109px,#4391da 110px,#53a1e0 111px,#6db4e7 112px,#93caef 113px,#b8ddf5 115px,#cde8f9 117px,#e7f5fd 124px,#f7fbfe 133px,#feffff 195px,#feffff 212px)"></div>
<div style="background-image:linear-gradient(90deg,#feffff 1px,#f9fcff 37px,#e6f4fd 52px,#d8eefa 70px,#cbe7f8 74px,#b9ddf6 76px,#98cdf0 78px,#54a2e0 80px,#408cd7 81px,#3479ce 82px,#306ac5 83px,#2f65c2 84px,#306cc7 85px,#367cd0 86px,#428fd9 87px,#57a4e1 88px,#98cdf0 90px,#b5dbf5 92px,#c8e6f8 95px,#c9e7f8 99px,#b7dcf5 102px,#9ccff1 104px,#61ace4 106px,#4c9bde 107px,#418ed8 108px,#3e89d6 109px,#418ed8 110px,#4c9ade 111px,#61ace5 112px,#85c2ec 113px,#a1d1f2 114px,#c0e1f7 116px,#d5edfa 119px,#f2f9fe 129px,#fcfdff 147px,#feffff 212px)"></div>
<div style="background-image:linear-gradient(90deg,#feffff 1px,#f9fcff 37px,#e6f4fd 52px,#d8eefa 70px,#cce8f9 74px,#bbdef6 76px,#9bcef1 78px,#58a5e2 80px,#418ed8 81px,#357acf 82px,#306ac6 83px,#2e63c1 84px,#2f69c5 85px,#3378ce 86px,#3f8bd7 87px,#52a0e0 88px,#6fb5e8 89px,#93caef 90px,#b3daf5 92px,#c8e6f8 95px,#cae7f8 99px,#bbdff6 102px,#a4d2f2 104px,#8fc8ef 105px,#6db4e8 106px,#55a2e1 107px,#4494db 108px,#3f8bd7 109px,#3f8bd7 110px,#4695dc 111px,#59a5e2 112px,#99cdf0 114px,#bbdef6 116px,#cee9f9 118px,#ebf6fd 126px,#f9fcff 136px,#feffff 212px)"></div>
<div style="background-image:linear-gradient(90deg,#feffff 1px,#f9fcff 37px,#e6f4fd 52px,#d9eefa 70px,#c6e5f8 75px,#b0d8f4 77px,#9ed0f1 78px,#5ca8e3 80px,#4391da 81px,#367dd0 82px,#306bc6 83px,#2e62c1 84px,#2f66c3 85px,#3274cc 86px,#3c86d5 87px,#4d9cde 88px,#68b1e6 89px,#8dc7ee 90px,#a3d2f2 91px,#bbdef6 93px,#cae7f8 96px,#c9e7f8 100px,#b7dcf5 103px,#9acef1 105px,#5faae4 107px,#4b9add 108px,#418ed8 109px,#3f8bd7 110px,#4391da 111px,#519fdf 112px,#68b1e6 113px,#8dc7ee 114px,#a5d3f2 115px,#c3e3f7 117px,#d6edfa 120px,#f3f9fe 130px,#fcfeff 149px,#feffff 212px)"></div>
<div style="background-image:linear-gradient(90deg,#feffff 1px,#f9fcff 37px,#e6f4fd 53px,#d9eefb 70px,#c8e6f8 75px,#b2d9f4 77px,#a1d1f2 78px,#85c2ec 79px,#5fabe4 80px,#4594db 81px,#377fd1 82px,#306cc7 83px,#2e62c0 84px,#2e63c1 85px,#3170c9 86px,#4898dd 88px,#62ade5 89px,#86c3ed 90px,#a0d1f2 91px,#badef6 93px,#cae7f8 96px,#cbe7f8 100px,#bbdef6 103px,#a2d1f2 105px,#8cc6ee 106px,#6ab2e7 107px,#53a1e0 108px,#4493db 109px,#408cd7 110px,#418ed8 111px,#4a99dd 112px,#5faae4 113px,#9ed0f1 115px,#bee0f6 117px,#cfeaf9 119px,#eef7fe 128px,#fafdff 140px,#feffff 212px)"></div>
<div style="background-image:linear-gradient(90deg,#feffff 1px,#f8fcfe 38px,#e6f4fd 53px,#d7eefa 71px,#c9e6f8 75px,#b4daf5 77px,#a4d2f2 78px,#8ac5ee 79px,#63aee5 80px,#4897dd 81px,#3981d2 82px,#306ec8 83px,#2e61c0 84px,#2e61c0 85px,#306bc6 86px,#377ed1 87px,#4493db 88px,#5da9e3 89px,#9dcff1 91px,#b8ddf5 93px,#cae7f8 96px,#cae7f8 101px,#b6dbf5 104px,#98cdf0 106px,#5da8e3 108px,#4a99dd 109px,#418fd9 110px,#408dd8 111px,#4595db 112px,#56a3e1 113px,#71b6e8 114px,#95cbf0 115px,#b9ddf5 117px,#cde8f9 119px,#eaf6fd 127px,#f9fcff 137px,#feffff 212px)"></div>
<div style="background-image:linear-gradient(90deg,#feffff 1px,#f9fcff 38px,#e6f4fd 53px,#d8eefa 71px,#c9e7f8 75px,#b6dbf5 77px,#a6d3f2 78px,#90c8ef 79px,#68b1e6 80px,#4b9ade 81px,#3b84d3 82px,#3170c9 83px,#2e61c0 84px,#2d5ebe 85px,#2f68c4 86px,#347acf 87px,#418fd9 88px,#58a5e2 89px,#99cef1 91px,#b6dcf5 93px,#cae7f8 96px,#cbe7f8 101px,#badef6 104px,#a0d1f2 106px,#88c4ed 107px,#67b0e6 108px,#529fe0 109px,#4493db 110px,#418dd8 111px,#4391da 112px,#4f9ddf 113px,#64afe5 114px,#88c4ed 115px,#a2d2f2 116px,#c1e2f7 118px,#d6edfa 121px,#f2f9fe 131px,#fcfdff 149px,#feffff 212px)"></div>
<div style="background-image:linear-gradient(90deg,#feffff 1px,#f9fcff 38px,#e6f4fd 53px,#d8eefa 71px,#cae7f8 75px,#b7dcf5 77px,#95cbf0 79px,#6db4e8 80px,#4f9ddf 81px,#3c86d5 82px,#3172ca 83px,#2e62c0 84px,#2d5dbd 85px,#2e64c2 86px,#3276cd 87px,#3f8ad6 88px,#53a0e0 89px,#71b6e8 90px,#95ccf0 91px,#b5dbf5 93px,#c9e7f8 96px,#cce8f9 101px,#bee0f6 104px,#a7d4f3 106px,#96ccf0 107px,#5ba7e2 109px,#4998dd 110px,#428fd9 111px,#428fd9 112px,#4998dd 113px,#5ca8e3 114px,#9bcef1 116px,#bcdff6 118px,#cee9f9 120px,#eef7fd 129px,#fafcff 140px,#feffff 212px)"></div>
<div style="background-image:linear-gradient(90deg,#feffff 1px,#f9fcff 38px,#e6f4fd 53px,#d8eefa 71px,#cbe7f8 75px,#b9ddf6 77px,#98cdf0 79px,#53a0e0 81px,#3e89d6 82px,#3274cc 83px,#2e62c1 84px,#2d5bbc 85px,#2e61c0 86px,#3171ca 87px,#3c86d4 88px,#4d9cde 89px,#69b2e7 90px,#8fc8ef 91px,#a4d3f2 92px,#bcdff6 94px,#cce8f9 97px,#cbe8f8 102px,#b9ddf6 105px,#9ed0f1 107px,#85c2ec 108px,#64afe5 109px,#509edf 110px,#4493db 111px,#428fd9 112px,#4595db 113px,#54a1e0 114px,#6cb3e7 115px,#90c9ef 116px,#b7dcf5 118px,#cce8f9 120px,#e7f4fd 127px,#f7fbfe 136px,#feffff 196px,#feffff 212px)"></div>
<div style="background-image:linear-gradient(90deg,#feffff 1px,#f9fcff 38px,#e6f4fd 53px,#d8eefa 71px,#cce8f9 75px,#bbdef6 77px,#9bcef1 79px,#57a3e1 81px,#408cd7 82px,#3277cd 83px,#2e63c1 84px,#2c5abc 85px,#2d5ebe 86px,#3981d2 88px,#4898dd 89px,#63aee5 90px,#89c4ed 91px,#a1d1f2 92px,#bbdef6 94px,#cbe8f8 97px,#cce8f9 102px,#bde0f6 105px,#a6d3f2 107px,#93caef 108px,#72b7e9 109px,#59a5e2 110px,#4898dd 111px,#4290d9 112px,#4492da 113px,#4e9cde 114px,#61ace5 115px,#9fd0f1 117px,#bfe1f6 119px,#d0eaf9 121px,#eef7fe 130px,#fafdff 142px,#feffff 212px)"></div>
<div style="background-image:linear-gradient(90deg,#feffff 1px,#f9fcff 38px,#e6f4fd 54px,#d9eefa 71px,#c6e5f8 76px,#b0d8f4 78px,#9ed0f1 79px,#7ebeeb 80px,#5aa6e2 81px,#428fd9 82px,#3479ce 83px,#2f65c2 84px,#2c5abb 85px,#2d5bbc 86px,#2f68c4 87px,#367dd0 88px,#4493db 89px,#5eaae4 90px,#82c0ec 91px,#9ed0f1 92px,#b9ddf6 94px,#cbe8f8 97px,#cde9f9 102px,#c1e2f7 105px,#add6f3 107px,#9dcff1 108px,#62ade5 110px,#4f9edf 111px,#4493db 112px,#4391da 113px,#4898dd 114px,#59a6e2 115px,#74b8e9 116px,#97cdf0 117px,#badef6 119px,#cde9f9 121px,#ebf6fd 129px,#f9fcff 139px,#feffff 212px)"></div>
<div style="background-image:linear-gradient(90deg,#feffff 1px,#f8fcfe 39px,#e6f4fd 54px,#d7edfa 72px,#c8e6f8 76px,#b2d9f4 78px,#a1d1f2 79px,#84c1ec 80px,#5eaae4 81px,#4492da 82px,#357bd0 83px,#2f66c3 84px,#2c59bb 85px,#2c59bb 86px,#2e64c2 87px,#3479ce 88px,#418fd9 89px,#59a5e2 90px,#9bcef1 92px,#b8ddf5 94px,#cbe7f8 97px,#cee9f9 102px,#c5e4f7 105px,#b3daf4 107px,#90c9ef 109px,#6fb5e8 110px,#57a4e1 111px,#4898dd 112px,#4392da 113px,#4595db 114px,#52a0e0 115px,#68b1e6 116px,#8bc5ee 117px,#a3d2f2 118px,#c1e2f7 120px,#d6edfa 123px,#f2f9fe 133px,#fcfeff 151px,#feffff 212px)"></div>
<div style="background-image:linear-gradient(90deg,#feffff 1px,#f9fcff 39px,#e6f4fd 54px,#d7eefa 72px,#c9e6f8 76px,#b4daf5 78px,#a3d2f2 79px,#89c5ed 80px,#62ade5 81px,#4695dc 82px,#377ed1 83px,#2f68c4 84px,#2c59bb 85px,#2c56b9 86px,#2e60bf 87px,#3274cc 88px,#3f8ad6 89px,#54a1e0 90px,#97cdf0 92px,#b6dbf5 94px,#cae7f8 97px,#cfeaf9 102px,#c8e6f8 105px,#abd6f3 108px,#9bcef1 109px,#60abe4 111px,#4e9ddf 112px,#4594db 113px,#4493db 114px,#4d9bde 115px,#5faae4 116px,#9ccff1 118px,#bcdff6 120px,#cfe9f9 122px,#eef7fd 131px,#fafdff 142px,#feffff 212px)"></div>
<div style="background-image:linear-gradient(90deg,#feffff 1px,#f9fcff 39px,#e6f4fd 54px,#d7eefa 72px,#c9e7f8 76px,#b6dbf5 78px,#a6d3f2 79px,#8fc8ee 80px,#66b0e6 81px,#4998dd 82px,#3981d2 83px,#306ac5 84px,#2c59bb 85px,#2b55b8 86px,#2d5cbd 87px,#316fc9 88px,#3c85d4 89px,#4e9ddf 90px,#6cb3e7 91px,#92caef 92px,#b4daf5 94px,#cae7f8 97px,#d0eaf9 102px,#c4e4f7 106px,#b2d9f4 108px,#a2d2f2 109px,#8dc7ee 110px,#6cb3e7 111px,#56a3e1 112px,#4898dd 113px,#4493db 114px,#4898dd 115px,#57a4e1 116px,#6fb5e8 117px,#93caef 118px,#b7dcf5 120px,#cce8f9 122px,#e7f5fd 129px,#f7fbfe 138px,#feffff 199px,#feffff 212px)"></div>
<div style="background-image:linear-gradient(90deg,#feffff 1px,#f9fcff 39px,#e6f4fd 54px,#d8eefa 72px,#cae7f8 76px,#b7dcf5 78px,#94cbf0 80px,#6bb3e7 81px,#4d9cde 82px,#3a83d3 83px,#306cc7 84px,#2c5abc 85px,#2b53b7 86px,#2c59bb 87px,#3981d2 89px,#4999dd 90px,#65afe6 91px,#8cc6ee 92px,#a3d2f2 93px,#bcdff6 95px,#cce8f9 98px,#d0eaf9 103px,#c8e6f8 106px,#aad5f3 109px,#99cdf0 110px,#5faae4 112px,#4e9cde 113px,#4595db 114px,#4696dc 115px,#519fdf 116px,#64aee5 117px,#85c2ec 118px,#a0d1f2 119px,#bfe1f7 121px,#d0eaf9 123px,#f0f8fe 133px,#fbfdff 147px,#feffff 212px)"></div>
<div style="background-image:linear-gradient(90deg,#feffff 1px,#f9fcff 39px,#e6f4fd 54px,#d8eefa 72px,#cbe7f8 76px,#b9ddf5 78px,#98cdf0 80px,#71b6e8 81px,#519fdf 82px,#3c86d5 83px,#316fc9 84px,#2d5bbc 85px,#2b52b7 86px,#2c56b9 87px,#2f66c3 88px,#367cd0 89px,#4594db 90px,#60abe4 91px,#85c2ec 92px,#a0d1f2 93px,#bbdef6 95px,#cce8f9 98px,#d0eaf9 103px,#c4e4f7 107px,#b0d8f4 109px,#a1d1f2 110px,#8ac5ed 111px,#69b2e7 112px,#55a2e1 113px,#4898dd 114px,#4595dc 115px,#4c9bde 116px,#5ca8e3 117px,#99cdf0 119px,#badef6 121px,#cee9f9 123px,#ebf6fd 131px,#f9fcff 141px,#feffff 212px)"></div>
<div style="background-image:linear-gradient(90deg,#feffff 1px,#f9fcff 39px,#e6f4fd 55px,#d8eefa 72px,#cbe8f8 76px,#bbdef6 78px,#9acef1 80px,#54a2e0 82px,#3e89d6 83px,#3172ca 84px,#2d5cbd 85px,#2b51b6 86px,#2b53b7 87px,#2e61c0 88px,#3378ce 89px,#428fd9 90px,#5ba7e2 91px,#9dcff1 93px,#b9ddf6 95px,#cce8f9 98px,#d0eaf9 104px,#c7e6f8 107px,#b6dbf5 109px,#97ccf0 111px,#5da9e3 113px,#4e9cde 114px,#4696dc 115px,#4998dd 116px,#55a3e1 117px,#6bb3e7 118px,#8dc7ee 119px,#a4d3f2 120px,#c2e2f7 122px,#d6edfa 125px,#f2f9fe 135px,#fcfeff 153px,#feffff 212px)"></div>
<div style="background-image:linear-gradient(90deg,#feffff 1px,#f9fcff 39px,#e6f4fd 55px,#d8eefa 72px,#c6e5f8 77px,#b0d8f4 79px,#9dcff1 80px,#58a5e2 82px,#408cd8 83px,#3275cc 84px,#2d5ebe 85px,#2b51b6 86px,#2b51b6 87px,#2d5dbd 88px,#3173cb 89px,#3f8bd7 90px,#55a2e1 91px,#99cef1 93px,#b7dcf5 95px,#c8e6f8 97px,#d2ebf9 102px,#cae7f8 107px,#afd8f4 110px,#9fd0f1 111px,#86c3ed 112px,#67b0e6 113px,#54a2e0 114px,#4998dd 115px,#4797dc 116px,#509edf 117px,#61ace4 118px,#9dcff1 120px,#bde0f6 122px,#cfe9f9 124px,#eef7fd 133px,#fafdff 144px,#feffff 212px)"></div>
<div style="background-image:linear-gradient(90deg,#feffff 1px,#f8fcfe 40px,#e6f4fd 55px,#d9eefa 72px,#c7e6f8 77px,#b2d9f4 79px,#a0d1f2 80px,#82c0ec 81px,#5ca8e3 82px,#4290d9 83px,#3377ce 84px,#2d5fbf 85px,#2b51b6 86px,#2a4eb4 87px,#2c59bb 88px,#306ec8 89px,#3c86d4 90px,#509edf 91px,#6fb5e8 92px,#95ccf0 93px,#b6dbf5 95px,#cbe8f8 98px,#d1ebf9 104px,#c7e5f8 108px,#b5dbf5 110px,#95cbf0 112px,#75b9e9 113px,#5ca8e3 114px,#4e9cde 115px,#4897dd 116px,#4c9bde 117px,#5aa6e2 118px,#72b7e9 119px,#95cbf0 120px,#b8ddf5 122px,#cce8f9 124px,#e7f5fd 131px,#f7fbfe 140px,#feffff 202px,#feffff 212px)"></div>
<div style="background-image:linear-gradient(90deg,#feffff 1px,#f9fcff 40px,#e6f4fd 55px,#d7edfa 73px,#c8e6f8 77px,#b3daf5 79px,#a2d2f2 80px,#87c3ed 81px,#60abe4 82px,#4493db 83px,#357acf 84px,#2e61c0 85px,#2b51b6 86px,#2a4db3 87px,#2b55b8 88px,#3981d2 90px,#4b9add 91px,#68b1e6 92px,#8fc8ef 93px,#a5d3f2 94px,#bee0f6 96px,#cde9f9 99px,#d1ebf9 105px,#c9e7f8 108px,#aed7f4 111px,#9dcff1 112px,#65afe6 114px,#54a1e0 115px,#4a99dd 116px,#4a99dd 117px,#54a2e0 118px,#67b0e6 119px,#88c4ed 120px,#a1d1f2 121px,#c0e1f7 123px,#d0eaf9 125px,#f0f8fe 135px,#fbfdff 148px,#feffff 212px)"></div>
<div style="background-image:linear-gradient(90deg,#feffff 1px,#f9fcff 40px,#e6f4fd 55px,#d7eefa 73px,#c9e7f8 77px,#b5dbf5 79px,#a5d3f2 80px,#8cc6ee 81px,#64aee5 82px,#4696dc 83px,#367dd0 84px,#2e64c2 85px,#2b51b6 86px,#2a4bb1 87px,#2b51b6 88px,#2e64c2 89px,#367dd0 90px,#4695dc 91px,#62ade5 92px,#88c4ed 93px,#a2d2f2 94px,#bcdff6 96px,#cde9f9 99px,#d2ebf9 105px,#c6e5f8 109px,#b4daf5 111px,#92caef 113px,#72b7e9 114px,#5ba7e3 115px,#4e9cde 116px,#4a99dd 117px,#509edf 118px,#5faae4 119px,#9acef1 121px,#bbdef6 123px,#cee9f9 125px,#ebf6fd 133px,#f9fcff 143px,#feffff 212px)"></div>
<div style="background-image:linear-gradient(90deg,#feffff 1px,#f9fcff 40px,#e6f4fd 55px,#d7eefa 73px,#cae7f8 77px,#b7dcf5 79px,#a8d4f3 80px,#92c9ef 81px,#68b1e6 82px,#4a99dd 83px,#3880d2 84px,#2b52b7 86px,#2a4ab0 87px,#2a4eb4 88px,#2d5fbf 89px,#3378ce 90px,#4391d9 91px,#5da9e3 92px,#82c0ec 93px,#9fd0f1 94px,#bbdef6 96px,#cde8f9 99px,#d3ebfa 105px,#c9e7f8 109px,#acd6f3 112px,#9ccff1 113px,#63aee5 115px,#53a1e0 116px,#4b9ade 117px,#4d9cde 118px,#58a5e2 119px,#6eb5e8 120px,#8fc8ef 121px,#b5dbf5 123px,#cbe8f8 125px,#e3f3fc 131px,#f6fbfe 140px,#fefeff 184px,#feffff 212px)"></div>
<div style="background-image:linear-gradient(90deg,#feffff 1px,#f9fcff 40px,#e6f4fd 56px,#d8eefa 73px,#cae7f8 77px,#b8ddf5 79px,#96ccf0 81px,#6eb5e8 82px,#4e9cde 83px,#3a83d3 84px,#2f69c5 85px,#2b53b7 86px,#294aaf 87px,#2a4cb2 88px,#2c5abc 89px,#3173cb 90px,#408cd7 91px,#58a4e1 92px,#9ccff1 94px,#b9ddf6 96px,#cce8f9 99px,#d3ecfa 105px,#cbe8f8 109px,#bde0f6 111px,#a3d2f2 113px,#8fc8ef 114px,#70b6e8 115px,#5aa6e2 116px,#4e9ddf 117px,#4c9bde 118px,#53a1e0 119px,#64aee5 120px,#9ed0f1 122px,#bde0f6 124px,#cfe9f9 126px,#eef7fd 135px,#fafdff 146px,#feffff 212px)"></div>
<div style="background-image:linear-gradient(90deg,#feffff 1px,#f9fcff 40px,#e6f4fd 56px,#d8eefa 73px,#cbe8f8 77px,#badef6 79px,#99cdf0 81px,#519fe0 83px,#3c86d4 84px,#306cc7 85px,#2b55b8 86px,#2949af 87px,#294aaf 88px,#2c56b9 89px,#306ec8 90px,#3d87d5 91px,#52a0e0 92px,#98cdf0 94px,#b7dcf5 96px,#c8e6f8 98px,#d4ecfa 104px,#cde8f9 109px,#c2e2f7 111px,#abd6f3 113px,#9acef1 114px,#62ade5 116px,#53a1e0 117px,#4d9bde 118px,#509edf 119px,#5da9e3 120px,#75b9e9 121px,#96ccf0 122px,#b8ddf5 124px,#cde8f9 126px,#e7f5fd 133px,#f7fcfe 142px,#feffff 205px,#feffff 212px)"></div>
<div style="background-image:linear-gradient(90deg,#feffff 1px,#f9fcff 40px,#e6f4fd 56px,#d8eefa 73px,#cce8f9 77px,#bbdff6 79px,#9ccff1 81px,#55a2e1 83px,#3e89d6 84px,#316fc9 85px,#2c56b9 86px,#2949af 87px,#2948ad 88px,#2b52b6 89px,#2f68c4 90px,#3a82d3 91px,#4d9cde 92px,#6cb3e7 93px,#94cbef 94px,#b5dbf5 96px,#c7e6f8 98px,#d3ecfa 103px,#cee9f9 109px,#bcdff6 112px,#a2d1f2 114px,#8cc6ee 115px,#6db4e8 116px,#5aa6e2 117px,#4f9ddf 118px,#4e9ddf 119px,#57a4e1 120px,#69b2e7 121px,#8ac5ed 122px,#a2d1f2 123px,#c0e1f7 125px,#d5edfa 128px,#f2f9fe 138px,#fcfdff 154px,#feffff 212px)"></div>
<div style="background-image:linear-gradient(90deg,#feffff 1px,#f8fcfe 41px,#e6f4fd 56px,#d8eefa 73px,#c7e5f8 78px,#b1d8f4 80px,#9fd0f1 81px,#7ebeeb 82px,#59a6e2 83px,#408cd7 84px,#3172cb 85px,#2c58ba 86px,#2949af 87px,#2946ab 88px,#2a4eb4 89px,#377ed1 91px,#4797dc 92px,#65afe6 93px,#8dc7ee 94px,#a4d3f2 95px,#bee0f6 97px,#cee9f9 100px,#d3ecfa 107px,#c9e6f8 111px,#a9d5f3 114px,#99cdf0 115px,#61ace4 117px,#53a1e0 118px,#4e9ddf 119px,#53a1e0 120px,#61ace5 121px,#9bcef1 123px,#bbdef6 125px,#cee9f9 127px,#ebf6fd 135px,#f9fcff 145px,#feffff 212px)"></div>
<div style="background-image:linear-gradient(90deg,#feffff 1px,#f9fcff 41px,#e6f4fd 56px,#d7edfa 74px,#c8e6f8 78px,#b2d9f4 80px,#a1d1f2 81px,#84c1ec 82px,#5da9e3 83px,#428fd9 84px,#3276cd 85px,#2c5abc 86px,#2949af 87px,#2945aa 88px,#2a4bb1 89px,#2d5ebe 90px,#3479ce 91px,#4493da 92px,#60abe4 93px,#86c3ed 94px,#a1d1f2 95px,#bcdff6 97px,#cee9f9 100px,#d4ecfa 107px,#cbe7f8 111px,#b0d8f4 114px,#a0d1f2 115px,#8ac5ed 116px,#6bb3e7 117px,#59a6e2 118px,#509edf 119px,#519fdf 120px,#5ba7e3 121px,#71b6e8 122px,#91c9ef 123px,#b6dbf5 125px,#cbe8f8 127px,#e3f3fc 133px,#f6fbfe 142px,#fefeff 186px,#feffff 212px)"></div>
<div style="background-image:linear-gradient(90deg,#feffff 1px,#f9fcff 41px,#e6f4fd 56px,#d7edfa 74px,#c9e6f8 78px,#b4daf5 80px,#a4d2f2 81px,#89c4ed 82px,#61ace4 83px,#4493da 84px,#3479ce 85px,#2d5dbd 86px,#294ab0 87px,#2943a9 88px,#2948ae 89px,#2c59bb 90px,#3274cc 91px,#418ed8 92px,#5ba7e2 93px,#7fbfeb 94px,#9ed0f1 95px,#bbdef6 97px,#cde9f9 100px,#d5ecfa 107px,#c8e6f8 112px,#a8d4f3 115px,#97ccf0 116px,#60abe4 118px,#54a1e0 119px,#509edf 120px,#57a4e1 121px,#66b0e6 122px,#9fd0f1 124px,#bde0f6 126px,#cfeaf9 128px,#eef7fd 137px,#fafdff 148px,#feffff 212px)"></div>
<div style="background-image:linear-gradient(90deg,#feffff 1px,#f9fcff 41px,#e5f4fd 57px,#d7eefa 74px,#c9e7f8 78px,#b6dbf5 80px,#a6d3f2 81px,#8ec8ee 82px,#65afe6 83px,#4696dc 84px,#357bd0 85px,#2d5fbf 86px,#2a4bb0 87px,#2942a8 88px,#2946ab 89px,#2b54b8 90px,#306ec8 91px,#3e89d6 92px,#55a2e1 93px,#9bcef1 95px,#b9ddf5 97px,#cde8f9 100px,#d5ecfa 107px,#cbe7f8 112px,#afd8f4 115px,#9fd0f1 116px,#6ab2e7 118px,#59a6e2 119px,#529fe0 120px,#54a1e0 121px,#5fabe4 122px,#78baea 123px,#97ccf0 124px,#b8ddf5 126px,#cde8f9 128px,#e7f5fd 135px,#f8fcfe 144px,#feffff 207px,#feffff 212px)"></div>
<div style="background-image:linear-gradient(90deg,#feffff 1px,#f9fcff 41px,#e5f4fd 57px,#d7eefa 74px,#cae7f8 78px,#b7dcf5 80px,#a8d5f3 81px,#93caef 82px,#69b2e7 83px,#4a99dd 84px,#377ed1 85px,#2a4cb1 87px,#2942a7 88px,#2943a9 89px,#2a50b5 90px,#2f69c5 91px,#3b84d4 92px,#509edf 93px,#97cdf0 95px,#b7dcf5 97px,#c8e6f8 99px,#d5edfa 105px,#d0eaf9 111px,#c8e6f8 113px,#b5dbf5 115px,#95cbf0 117px,#77baea 118px,#60abe4 119px,#55a2e1 120px,#53a0e0 121px,#5aa7e2 122px,#6cb4e7 123px,#8bc6ee 124px,#a2d2f2 125px,#c0e1f7 127px,#d5edfa 130px,#f2f9fe 140px,#fcfdff 156px,#feffff 212px)"></div>
<div style="background-image:linear-gradient(90deg,#feffff 1px,#f9fcff 41px,#e6f4fd 57px,#d8eefa 74px,#cbe7f8 78px,#b9ddf5 80px,#97cdf0 82px,#6fb5e8 83px,#4e9cde 84px,#3982d2 85px,#2a4db3 87px,#2841a7 88px,#2841a6 89px,#2a4cb2 90px,#387fd1 92px,#4a9add 93px,#69b2e7 94px,#92caef 95px,#a7d4f3 96px,#c0e1f7 98px,#cfe9f9 101px,#d5edfa 108px,#cae7f8 113px,#aed7f4 116px,#9dcff1 117px,#68b1e6 119px,#59a6e2 120px,#53a1e0 121px,#57a4e1 122px,#64aee5 123px,#9bcef1 125px,#bbdef6 127px,#cee9f9 129px,#ebf6fd 137px,#f9fcff 147px,#feffff 212px)"></div>
<div style="background-image:linear-gradient(90deg,#feffff 1px,#f8fcfe 42px,#e6f4fd 57px,#d8eefa 74px,#cbe8f8 78px,#badef6 80px,#9acef1 82px,#519fe0 84px,#3b85d4 85px,#2f68c4 86px,#2a4eb4 87px,#2841a7 88px,#283fa4 89px,#2948ae 90px,#2d5ebe 91px,#357bcf 92px,#4695dc 93px,#63aee5 94px,#8bc6ee 95px,#a4d2f2 96px,#bee0f6 98px,#cfe9f9 101px,#d6edfa 108px,#cce8f9 113px,#bfe0f6 115px,#a5d3f2 117px,#93caef 118px,#75b9e9 119px,#5fabe4 120px,#56a3e1 121px,#55a2e1 122px,#5eaae4 123px,#73b8e9 124px,#93caef 125px,#b6dbf5 127px,#cbe8f8 129px,#e3f3fc 135px,#f7fbfe 144px,#fefeff 187px,#feffff 212px)"></div>
<div style="background-image:linear-gradient(90deg,#feffff 1px,#f9fcff 42px,#e6f4fd 57px,#d8eefa 74px,#c6e5f8 79px,#afd8f4 81px,#9dcff1 82px,#55a2e1 84px,#3d88d5 85px,#306cc7 86px,#2a50b5 87px,#2841a7 88px,#283ea3 89px,#2945ab 90px,#2c58bb 91px,#3276cd 92px,#4290d9 93px,#5eaae4 94px,#85c2ec 95px,#a1d1f2 96px,#bcdff6 98px,#cee9f9 101px,#d6edfa 108px,#cee9f9 113px,#b9ddf5 116px,#9ccff1 118px,#67b1e6 120px,#5aa6e2 121px,#55a2e1 122px,#5aa6e2 123px,#69b2e7 124px,#9fd0f1 126px,#bee0f6 128px,#cfeaf9 130px,#eef7fd 139px,#fafdff 150px,#feffff 212px)"></div>
<div style="background-image:linear-gradient(90deg,#feffff 1px,#f9fcff 42px,#e6f4fd 57px,#d8eefa 74px,#c7e5f8 79px,#b1d9f4 81px,#9fd0f1 82px,#7fbfeb 83px,#59a6e2 84px,#3f8bd7 85px,#316fc9 86px,#2b53b7 87px,#2942a7 88px,#283ca1 89px,#2942a8 90px,#2b53b7 91px,#3170c9 92px,#3f8cd7 93px,#59a5e2 94px,#7ebeeb 95px,#9ed0f1 96px,#bbdef6 98px,#cee9f9 101px,#d7edfa 108px,#d0eaf9 113px,#c7e5f8 115px,#b3daf4 117px,#91c9ef 119px,#73b8e9 120px,#5faae4 121px,#57a4e1 122px,#58a4e2 123px,#62ade5 124px,#98cdf0 126px,#c5e4f7 129px,#dbeffb 133px,#f4fafe 143px,#fdfeff 167px,#feffff 212px)"></div>
<div style="background-image:linear-gradient(90deg,#feffff 1px,#f9fcff 42px,#e6f4fd 57px,#d7edfa 75px,#c8e6f8 79px,#b3daf4 81px,#a2d1f2 82px,#84c2ec 83px,#5da9e3 84px,#418fd8 85px,#3173cb 86px,#2b55b8 87px,#2942a8 88px,#283ba0 89px,#2840a5 90px,#2a4fb4 91px,#306ac6 92px,#3c87d5 93px,#54a1e0 94px,#9acef1 96px,#b9ddf6 98px,#cde9f9 101px,#d7edfa 108px,#cee9f9 114px,#c2e3f7 116px,#abd6f3 118px,#9bcef1 119px,#66b0e6 121px,#5aa6e2 122px,#57a4e1 123px,#5ea9e3 124px,#6fb5e8 125px,#8dc7ee 126px,#b3daf5 128px,#cae7f8 130px,#e0f1fc 135px,#f5fafe 144px,#fdfeff 173px,#feffff 212px)"></div>
<div style="background-image:linear-gradient(90deg,#feffff 1px,#f9fcff 42px,#e5f4fd 58px,#d7edfa 75px,#c9e6f8 79px,#b4dbf5 81px,#a4d2f2 82px,#8ac5ed 83px,#61ace4 84px,#4392da 85px,#3276cd 86px,#2c58ba 87px,#2943a9 88px,#283a9f 89px,#283da2 90px,#2a4bb0 91px,#2e64c2 92px,#3982d3 93px,#4e9ddf 94px,#6fb6e8 95px,#97ccf0 96px,#b7dcf5 98px,#c9e6f8 100px,#d6edfa 106px,#d3ebfa 113px,#c6e5f8 116px,#b2d9f4 118px,#8ec8ee 120px,#72b7e8 121px,#5faae4 122px,#58a5e2 123px,#5ba7e2 124px,#66b0e6 125px,#9ccff1 127px,#bbdef6 129px,#cee9f9 131px,#ebf6fd 139px,#f9fcff 149px,#feffff 212px)"></div>
<div style="background-image:linear-gradient(90deg,#feffff 1px,#f9fcff 42px,#e5f4fd 58px,#d7edfa 75px,#c9e7f8 79px,#b6dbf5 81px,#a6d4f3 82px,#8fc8ee 83px,#64afe5 84px,#4595dc 85px,#3479cf 86px,#2d5bbc 87px,#2944aa 88px,#283a9f 89px,#283ba0 90px,#2947ac 91px,#2d5fbe 92px,#367dd0 93px,#4998dd 94px,#68b1e6 95px,#91c9ef 96px,#a7d4f3 97px,#c0e1f7 99px,#cfeaf9 102px,#d7edfa 110px,#cee9f9 115px,#c2e2f7 117px,#99cef1 120px,#66b0e6 122px,#5ba7e3 123px,#59a6e2 124px,#61ace4 125px,#76b9e9 126px,#94cbf0 127px,#b6dbf5 129px,#cbe8f8 131px,#e3f3fc 137px,#f7fbfe 146px,#fefeff 189px,#feffff 212px)"></div>
<div style="background-image:linear-gradient(90deg,#feffff 1px,#f9fcff 42px,#e5f4fd 58px,#d7eefa 75px,#cae7f8 79px,#b7dcf5 81px,#a9d5f3 82px,#94cbf0 83px,#69b2e7 84px,#4998dd 85px,#367dd0 86px,#2d5ebe 87px,#2946ab 88px,#283a9e 89px,#27399d 90px,#2943a9 91px,#2c59bb 92px,#3378ce 93px,#4594db 94px,#62ade5 95px,#8bc6ee 96px,#a4d2f2 97px,#bee0f6 99px,#cfe9f9 102px,#d7eefa 110px,#d0eaf9 115px,#c6e5f8 117px,#b1d8f4 119px,#8cc6ee 121px,#71b6e8 122px,#5fabe4 123px,#5aa6e2 124px,#5ea9e3 125px,#6cb4e7 126px,#9fd0f1 128px,#bde0f6 130px,#cfe9f9 132px,#eef7fd 141px,#fafdff 152px,#feffff 212px)"></div>
<div style="background-image:linear-gradient(90deg,#feffff 1px,#f9fcff 42px,#e5f4fd 58px,#d8eefa 75px,#cbe7f8 79px,#b9ddf5 81px,#97cdf0 83px,#6fb5e8 84px,#4d9bde 85px,#3880d2 86px,#2947ad 88px,#28399e 89px,#27379c 90px,#2840a5 91px,#2b54b8 92px,#3173cb 93px,#428fd9 94px,#5da9e3 95px,#84c2ec 96px,#a1d1f2 97px,#bddff6 99px,#cee9f9 102px,#d8eefa 109px,#d1ebf9 115px,#c1e2f7 118px,#98cdf0 121px,#66afe6 123px,#5ca8e3 124px,#5ca8e3 125px,#65afe6 126px,#99cdf0 128px,#c4e4f7 131px,#dbeffb 135px,#f4fafe 145px,#fdfeff 168px,#feffff 212px)"></div>
<div style="background-image:linear-gradient(90deg,#feffff 1px,#f8fcfe 43px,#e6f4fd 58px,#d8eefa 75px,#cbe8f8 79px,#badef6 81px,#9acef1 83px,#509fdf 85px,#3a83d3 86px,#2e64c2 87px,#2949af 88px,#283a9e 89px,#27359a 90px,#283da2 91px,#2a4fb4 92px,#306dc7 93px,#3f8ad6 94px,#58a5e2 95px,#7dbeeb 96px,#9ed0f1 97px,#bbdef6 99px,#cee9f9 102px,#d8eefa 109px,#d3ebfa 115px,#c5e4f8 118px,#b0d8f4 120px,#8ac5ee 122px,#70b6e8 123px,#60abe4 124px,#5ca7e3 125px,#61ace4 126px,#72b7e9 127px,#8ec8ee 128px,#b3daf5 130px,#cae7f8 132px,#e0f1fc 137px,#f5fafe 146px,#fdfeff 174px,#feffff 212px)"></div>
<div style="background-image:linear-gradient(90deg,#feffff 1px,#f9fcff 43px,#e6f4fd 58px,#d8eefa 75px,#c6e5f8 80px,#afd8f4 82px,#9ccff1 83px,#54a2e0 85px,#3c86d5 86px,#2f68c4 87px,#2a4bb1 88px,#283a9f 89px,#273498 90px,#283a9f 91px,#2a4ab0 92px,#2f67c4 93px,#3c85d4 94px,#53a0e0 95px,#9acef1 97px,#b9ddf6 99px,#cde9f9 102px,#d8eefa 109px,#d1ebf9 116px,#c0e1f7 119px,#97ccf0 122px,#65afe6 124px,#5da9e3 125px,#5eaae4 126px,#6ab2e7 127px,#9ccff1 129px,#bbdef6 131px,#cee9f9 133px,#eaf6fd 141px,#f9fcff 151px,#feffff 212px)"></div>
<div style="background-image:linear-gradient(90deg,#feffff 1px,#f9fcff 43px,#e6f4fd 58px,#d8eefa 75px,#c7e5f8 80px,#b1d9f4 82px,#9fd0f1 83px,#7ebeeb 84px,#58a5e2 85px,#3e89d6 86px,#306bc6 87px,#2a4db3 88px,#283ba0 89px,#273397 90px,#27379c 91px,#2946ac 92px,#3880d2 94px,#4d9cde 95px,#6fb5e8 96px,#97cdf0 97px,#b8dcf5 99px,#c9e6f8 101px,#d7edfa 107px,#d5ecfa 115px,#c4e4f7 119px,#aed7f4 121px,#9fd0f1 122px,#6fb5e8 124px,#61ace4 125px,#5ea9e3 126px,#64aee5 127px,#78bbea 128px,#95cbf0 129px,#c2e3f7 132px,#d6edfa 135px,#f4fafe 146px,#fcfeff 167px,#feffff 212px)"></div>
<div style="background-image:linear-gradient(90deg,#feffff 1px,#f9fcff 43px,#e5f4fc 59px,#d6edfa 76px,#c8e6f8 80px,#b3daf4 82px,#a1d1f2 83px,#84c1ec 84px,#5ca8e3 85px,#408dd8 86px,#316fc9 87px,#2a4fb5 88px,#283ca0 89px,#273297 90px,#273599 91px,#2943a8 92px,#2d5bbc 93px,#357cd0 94px,#4898dd 95px,#68b1e6 96px,#92caef 97px,#a7d4f3 98px,#c0e1f7 100px,#d0eaf9 103px,#d9eefa 111px,#d1ebf9 117px,#c8e6f8 119px,#a6d3f2 122px,#95cbf0 123px,#7abcea 124px,#66b0e6 125px,#5faae4 126px,#61ace4 127px,#6fb5e8 128px,#a0d0f1 130px,#bde0f6 132px,#cfe9f9 134px,#edf7fd 143px,#fafdff 154px,#feffff 212px)"></div>
<div style="background-image:linear-gradient(90deg,#feffff 1px,#f9fcff 43px,#e5f4fd 59px,#d7edfa 76px,#c9e6f8 80px,#b4daf5 82px,#a4d2f2 83px,#89c4ed 84px,#5fabe4 85px,#4290d9 86px,#3173cb 87px,#2b52b7 88px,#283da2 89px,#273296 90px,#273297 91px,#283fa4 92px,#2c56b9 93px,#3377cd 94px,#4493db 95px,#62ade5 96px,#8bc6ee 97px,#a4d3f2 98px,#bfe1f6 100px,#cfeaf9 103px,#d9eefb 111px,#d3ebfa 117px,#c4e4f7 120px,#add7f4 122px,#9ecff1 123px,#6eb5e8 125px,#61ace5 126px,#60abe4 127px,#68b1e6 128px,#99cdf0 130px,#c4e4f7 133px,#dbeffb 137px,#f4fafe 147px,#fdfeff 170px,#feffff 212px)"></div>
<div style="background-image:linear-gradient(90deg,#feffff 1px,#f9fcff 43px,#e5f4fd 59px,#d7edfa 76px,#c9e7f8 80px,#b6dbf5 82px,#a6d3f2 83px,#8ec7ee 84px,#63aee5 85px,#4493db 86px,#3277cd 87px,#2b55b8 88px,#283ea3 89px,#273196 90px,#263095 91px,#283ba0 92px,#2a50b5 93px,#3171ca 94px,#418ed8 95px,#5da9e3 96px,#85c2ec 97px,#a1d1f2 98px,#bde0f6 100px,#cfe9f9 103px,#d9eefb 111px,#d1eaf9 118px,#c8e6f8 120px,#a5d3f2 123px,#94cbf0 124px,#79bbea 125px,#66b0e6 126px,#60abe4 127px,#64aee5 128px,#75b9e9 129px,#90c8ef 130px,#b3daf5 132px,#cae7f8 134px,#e0f1fc 139px,#f6fbfe 149px,#fefeff 188px,#feffff 212px)"></div>
<div style="background-image:linear-gradient(90deg,#feffff 1px,#f9fcff 43px,#e5f4fd 59px,#d7eefa 76px,#cae7f8 80px,#b7dcf5 82px,#a8d4f3 83px,#92caef 84px,#67b1e6 85px,#4797dc 86px,#347acf 87px,#2c58ba 88px,#283fa5 89px,#273196 90px,#262f93 91px,#27389d 92px,#2a4bb1 93px,#306bc6 94px,#3e89d6 95px,#58a5e2 96px,#7ebeeb 97px,#9ed0f1 98px,#b0d8f4 99px,#c5e4f7 101px,#d5edfa 106px,#d8eefa 115px,#cbe7f8 120px,#acd6f3 123px,#9dcff1 124px,#6eb5e8 126px,#62ade5 127px,#62ade5 128px,#6db4e7 129px,#9ccff1 131px,#c6e5f8 134px,#dbeffb 138px,#f5fafe 148px,#fdfeff 172px,#feffff 212px)"></div>
<div style="background-image:linear-gradient(90deg,#feffff 1px,#f8fcfe 44px,#e5f4fd 59px,#d7eefa 76px,#cae7f8 80px,#b9ddf5 82px,#97ccf0 84px,#6db4e7 85px,#4b9add 86px,#367dd0 87px,#2d5cbd 88px,#2841a6 89px,#273196 90px,#262d91 91px,#273599 92px,#2947ad 93px,#2f65c2 94px,#3b85d4 95px,#53a0e0 96px,#9bcef1 98px,#badef6 100px,#cee9f9 103px,#d9effb 111px,#d4ecfa 118px,#c7e6f8 121px,#a4d2f2 124px,#93caef 125px,#79bbea 126px,#67b0e6 127px,#62ade5 128px,#67b1e6 129px,#7bbcea 130px,#95cbf0 131px,#c2e2f7 134px,#d6edfa 137px,#f4fafe 148px,#fdfeff 169px,#feffff 212px)"></div>
<div style="background-image:linear-gradient(90deg,#feffff 1px,#f9fcff 44px,#e5f4fd 59px,#d8eefa 76px,#cbe7f8 80px,#badef6 82px,#99cdf0 84px,#4e9ddf 86px,#3880d2 87px,#2d5fbf 88px,#2943a8 89px,#273296 90px,#262c8f 91px,#273296 92px,#2943a8 93px,#3880d2 95px,#4e9cde 96px,#98cdf0 98px,#b8ddf5 100px,#c9e7f8 102px,#d7eefa 108px,#d7edfa 117px,#cae7f8 121px,#abd6f3 124px,#9ccff1 125px,#6eb5e8 127px,#64aee5 128px,#65afe6 129px,#72b7e9 130px,#a0d1f2 132px,#c8e6f8 135px,#dff1fc 140px,#f6fbfe 150px,#fefeff 186px,#feffff 212px)"></div>
<div style="background-image:linear-gradient(90deg,#feffff 1px,#f9fcff 44px,#e6f4fd 59px,#d8eefa 76px,#c5e4f8 81px,#aed7f4 83px,#9ccff1 84px,#52a0e0 86px,#3a83d3 87px,#2e63c1 88px,#2945aa 89px,#273297 90px,#252c8e 91px,#262f93 92px,#283fa4 93px,#2c59bb 94px,#357bcf 95px,#4898dd 96px,#69b2e7 97px,#93caef 98px,#a8d4f3 99px,#c1e2f7 101px,#d0eaf9 104px,#daeffb 113px,#d4ecfa 119px,#c7e5f8 122px,#a3d2f2 125px,#91c9ef 126px,#78bbea 127px,#68b1e6 128px,#64aee5 129px,#6cb3e7 130px,#99cef1 132px,#c4e4f7 135px,#dbeffb 139px,#f4fafe 149px,#fdfeff 171px,#feffff 212px)"></div>
<div style="background-image:linear-gradient(90deg,#feffff 1px,#f9fcff 44px,#e5f4fc 60px,#d6edfa 77px,#c6e5f8 81px,#b0d8f4 83px,#9ed0f1 84px,#7cbdeb 85px,#56a3e1 86px,#3c87d5 87px,#2f66c3 88px,#2947ad 89px,#273398 90px,#252b8d 91px,#262d90 92px,#283ba0 93px,#2b53b7 94px,#3276cd 95px,#4493db 96px,#63aee5 97px,#8dc7ee 98px,#a5d3f2 99px,#bfe1f7 101px,#d0eaf9 104px,#daeffb 112px,#d5edfa 119px,#cae7f8 122px,#aad5f3 125px,#9bcef1 126px,#6fb5e8 128px,#65afe6 129px,#68b1e6 130px,#78baea 131px,#91c9ef 132px,#b3daf4 134px,#c9e7f8 136px,#dff1fc 141px,#f6fbfe 151px,#fefeff 189px,#feffff 212px)"></div>
<div style="background-image:linear-gradient(90deg,#feffff 1px,#f9fcff 44px,#e5f4fc 60px,#d6edfa 77px,#c7e6f8 81px,#b2d9f4 83px,#a0d1f2 84px,#81c0ec 85px,#5aa6e2 86px,#3e8ad6 87px,#306ac6 88px,#294aaf 89px,#273499 90px,#252b8c 91px,#252b8d 92px,#27379c 93px,#2a4eb4 94px,#3170c9 95px,#418fd8 96px,#5eaae4 97px,#86c3ed 98px,#a2d2f2 99px,#bee0f6 101px,#cfeaf9 104px,#daeffb 112px,#d4ecfa 120px,#c6e5f8 123px,#a2d2f2 126px,#90c9ef 127px,#78bbea 128px,#69b2e7 129px,#66b0e6 130px,#71b6e8 131px,#9dcff1 133px,#c6e5f8 136px,#dbeffb 140px,#f5fafe 150px,#fdfeff 173px,#feffff 212px)"></div>
<div style="background-image:linear-gradient(90deg,#feffff 1px,#f9fcff 44px,#e5f4fc 60px,#d6edfa 77px,#c8e6f8 81px,#b3daf5 83px,#a3d2f2 84px,#86c3ed 85px,#5da9e3 86px,#418dd8 87px,#306ec8 88px,#2a4cb2 89px,#27369a 90px,#242a8b 91px,#242a8b 92px,#273498 93px,#2949af 94px,#306ac5 95px,#3e8ad6 96px,#59a5e2 97px,#80bfeb 98px,#9fd0f1 99px,#bcdff6 101px,#cfe9f9 104px,#daeffb 112px,#d5edfa 120px,#cae7f8 123px,#a9d5f3 126px,#9acef1 127px,#6fb5e8 129px,#67b1e6 130px,#6cb3e7 131px,#7dbdeb 132px,#96ccf0 133px,#c1e2f7 136px,#d6edfa 139px,#f4fafe 150px,#fcfeff 170px,#feffff 212px)"></div>
<div style="background-image:linear-gradient(90deg,#feffff 1px,#f9fcff 44px,#e5f4fc 60px,#d7edfa 77px,#c9e6f8 81px,#b5dbf5 83px,#a5d3f2 84px,#8bc6ee 85px,#61ace4 86px,#4391d9 87px,#3172ca 88px,#2a4fb4 89px,#27379c 90px,#242a8b 91px,#232988 92px,#263095 93px,#2945aa 94px,#2e64c2 95px,#3b85d4 96px,#54a1e0 97px,#79bbea 98px,#9ccff1 99px,#bbdef6 101px,#cee9f9 104px,#daeffb 112px,#d6edfa 120px,#c6e5f8 124px,#a1d1f2 127px,#78bbea 129px,#6ab3e7 130px,#69b2e7 131px,#76b9e9 132px,#a0d1f2 134px,#c8e6f8 137px,#dff1fc 142px,#f6fbfe 152px,#fefeff 186px,#feffff 212px)"></div>
<div style="background-image:linear-gradient(90deg,#feffff 1px,#f8fcfe 45px,#e5f4fd 60px,#d7edfa 77px,#c9e7f8 81px,#b6dcf5 83px,#a7d4f3 84px,#90c8ef 85px,#64afe5 86px,#4594db 87px,#3276cd 88px,#2b52b6 89px,#27399d 90px,#242a8b 91px,#232886 92px,#262d91 93px,#2840a6 94px,#2d5ebe 95px,#3880d2 96px,#4f9ddf 97px,#99cdf0 99px,#b9ddf5 101px,#cee9f9 104px,#daeffb 112px,#d5edfa 121px,#c9e7f8 124px,#a8d4f3 127px,#99cdf0 128px,#70b6e8 130px,#6ab2e7 131px,#70b6e8 132px,#9acef1 134px,#c3e3f7 137px,#daeffb 141px,#f6fbfe 152px,#fdfeff 181px,#feffff 212px)"></div>
<div style="background-image:linear-gradient(90deg,#feffff 1px,#f8fcfe 45px,#e5f4fd 60px,#d7edfa 77px,#cae7f8 81px,#b8dcf5 83px,#a9d5f3 84px,#94cbf0 85px,#69b2e7 86px,#4797dc 87px,#3479ce 88px,#2b55b9 89px,#283a9f 90px,#252b8c 91px,#222784 92px,#252b8d 93px,#283ca1 94px,#2c58ba 95px,#357bcf 96px,#4999dd 97px,#6bb3e7 98px,#95cbf0 99px,#b7dcf5 101px,#c9e6f8 103px,#d8eefa 109px,#d9eefb 119px,#cce8f9 124px,#afd8f4 127px,#8ec7ee 129px,#78bbea 130px,#6cb4e7 131px,#6db4e7 132px,#7bbcea 133px,#a3d2f2 135px,#c9e7f8 138px,#dff1fc 143px,#f6fbfe 153px,#fefeff 189px,#feffff 212px)"></div>
<div style="background-image:linear-gradient(90deg,#feffff 1px,#f9fcff 45px,#e5f4fd 60px,#d7eefa 77px,#cae7f8 81px,#b9ddf6 83px,#97cdf0 85px,#6eb5e8 86px,#4b9ade 87px,#367cd0 88px,#2c59bb 89px,#283ca1 90px,#252b8d 91px,#222683 92px,#242a8a 93px,#27389d 94px,#2b52b7 95px,#3276cd 96px,#4594db 97px,#65afe6 98px,#8fc8ef 99px,#a6d4f3 100px,#c0e1f7 102px,#d0eaf9 105px,#dbeffb 114px,#d5edfa 122px,#c9e6f8 125px,#a7d4f3 128px,#98cdf0 129px,#71b7e8 131px,#6cb4e7 132px,#75b9e9 133px,#add6f3 136px,#c5e5f8 138px,#dbeffb 142px,#f6fbfe 153px,#fdfeff 184px,#feffff 212px)"></div>
<div style="background-image:linear-gradient(90deg,#feffff 1px,#f9fcff 45px,#e5f4fc 61px,#d7eefa 77px,#cbe7f8 81px,#badef6 83px,#9acef1 85px,#4f9ddf 87px,#3880d1 88px,#2d5cbd 89px,#283ea4 90px,#252b8e 91px,#212681 92px,#232886 93px,#273499 94px,#2a4db3 95px,#3170c9 96px,#4290d9 97px,#60abe4 98px,#89c4ed 99px,#a3d2f2 100px,#bfe0f6 102px,#d0eaf9 105px,#dbeffb 114px,#d6edfa 122px,#c5e4f7 126px,#9fd0f1 129px,#79bbea 131px,#6eb5e8 132px,#71b6e8 133px,#80bfeb 134px,#97ccf0 135px,#c1e2f7 138px,#d6edfa 141px,#f4fafe 152px,#fcfeff 171px,#feffff 212px)"></div>
<div style="background-image:linear-gradient(90deg,#feffff 1px,#f9fcff 45px,#e5f4fc 61px,#d8eefa 77px,#c5e4f8 82px,#afd8f4 84px,#9ccff1 85px,#78bbea 86px,#52a0e0 87px,#3a83d3 88px,#2e60bf 89px,#2841a6 90px,#252c8f 91px,#212580 92px,#222783 93px,#263095 94px,#2948ae 95px,#306ac6 96px,#3f8bd7 97px,#5ba7e2 98px,#83c1ec 99px,#a1d1f2 100px,#bde0f6 102px,#cfeaf9 105px,#dbeffb 113px,#d7eefa 122px,#c9e6f8 126px,#a7d4f3 129px,#98cdf0 130px,#82c0ec 131px,#73b7e9 132px,#6fb6e8 133px,#79bbea 134px,#b0d8f4 137px,#c7e6f8 139px,#dff1fc 144px,#f6fbfe 154px,#fdfeff 187px,#feffff 212px)"></div>
<div style="background-image:linear-gradient(90deg,#feffff 1px,#f9fcff 45px,#e5f4fc 61px,#d6edfa 78px,#c6e5f8 82px,#b1d8f4 84px,#9ed0f1 85px,#7dbdeb 86px,#56a3e1 87px,#3c86d5 88px,#2e64c2 89px,#2943a8 90px,#262d90 91px,#212580 92px,#212580 93px,#262d91 94px,#2943a9 95px,#2e64c2 96px,#3c86d5 97px,#56a3e1 98px,#7cbdeb 99px,#9ed0f1 100px,#b0d8f4 101px,#c5e4f7 103px,#d6edfa 108px,#dbeffb 119px,#d0eaf9 125px,#badef6 128px,#9fd0f1 130px,#79bbea 132px,#71b6e8 133px,#75b9e9 134px,#a9d5f3 137px,#cce8f9 140px,#e3f3fc 146px,#f7fbfe 155px,#fefeff 196px,#feffff 212px)"></div>
<div style="background-image:linear-gradient(90deg,#feffff 1px,#f9fcff 45px,#e5f4fc 61px,#d6edfa 78px,#c7e6f8 82px,#b2d9f4 84px,#a1d1f2 85px,#82c0ec 86px,#5aa6e2 87px,#3e89d6 88px,#2f68c4 89px,#2946ab 90px,#262e92 91px,#21257f 92px,#20247d 93px,#252b8c 94px,#283fa4 95px,#2d5ebe 96px,#3981d2 97px,#519fdf 98px,#9bcef1 100px,#badef6 102px,#cee9f9 105px,#dbeffb 113px,#d7eefa 123px,#c8e6f8 127px,#a6d3f2 130px,#97cdf0 131px,#82c0ec 132px,#74b8e9 133px,#73b7e9 134px,#7ebeeb 135px,#a3d2f2 137px,#c9e6f8 140px,#dff1fc 145px,#f6fbfe 155px,#fefeff 190px,#feffff 212px)"></div>
<div style="background-image:linear-gradient(90deg,#feffff 1px,#f9fcff 45px,#e5f4fc 61px,#d6edfa 78px,#c8e6f8 82px,#b4daf5 84px,#a3d2f2 85px,#87c3ed 86px,#5da9e3 87px,#408dd8 88px,#306cc7 89px,#2948ae 90px,#262f94 91px,#21257f 92px,#20237b 93px,#232988 94px,#283b9f 95px,#2c58ba 96px,#367cd0 97px,#4c9ade 98px,#6eb5e8 99px,#97cdf0 100px,#b8ddf5 102px,#cee9f9 105px,#dbeffb 113px,#d8eefa 123px,#cbe7f8 127px,#add7f4 130px,#7abcea 133px,#73b8e9 134px,#79bbea 135px,#acd6f3 138px,#c5e4f7 140px,#dbeffb 144px,#f6fbfe 155px,#fdfeff 185px,#feffff 212px)"></div>
<div style="background-image:linear-gradient(90deg,#feffff 1px,#f8fcfe 46px,#e5f4fc 61px,#d6edfa 78px,#c9e6f8 82px,#b5dbf5 84px,#a5d3f2 85px,#8bc6ee 86px,#61ace4 87px,#4290d9 88px,#3170c9 89px,#2a4bb1 90px,#263195 91px,#212580 92px,#1f2279 93px,#222784 94px,#27369b 95px,#2b52b7 96px,#3378ce 97px,#4796dc 98px,#68b1e6 99px,#93caef 100px,#a8d4f3 101px,#c1e2f7 103px,#d0eaf9 106px,#dcf0fb 115px,#d7eefa 124px,#c8e6f8 128px,#a5d3f2 131px,#82c1ec 133px,#76b9e9 134px,#76b9e9 135px,#82c1ec 136px,#97cdf0 137px,#c0e2f7 140px,#d5edfa 143px,#f4fafe 154px,#fcfeff 172px,#feffff 212px)"></div>
<div style="background-image:linear-gradient(90deg,#feffff 1px,#f8fcfe 46px,#e5f4fc 61px,#d7edfa 78px,#c9e7f8 82px,#b6dcf5 84px,#a7d4f3 85px,#90c8ef 86px,#64aee5 87px,#4493db 88px,#3274cb 89px,#2a4eb4 90px,#273397 91px,#212580 92px,#1f2177 93px,#212580 94px,#273296 95px,#2a4db3 96px,#3172ca 97px,#4392da 98px,#62ade5 99px,#8dc7ee 100px,#a5d3f2 101px,#c0e1f7 103px,#d0eaf9 106px,#dcf0fb 115px,#d8eefa 124px,#cbe7f8 128px,#acd6f3 131px,#7cbdea 134px,#76b9e9 135px,#7dbdeb 136px,#afd8f4 139px,#c7e5f8 141px,#dbeffb 145px,#f6fbfe 156px,#fdfeff 187px,#feffff 212px)"></div>
<div style="background-image:linear-gradient(90deg,#feffff 1px,#f9fcff 46px,#e5f4fc 62px,#d7edfa 78px,#cae7f8 82px,#b8dcf5 84px,#a9d5f3 85px,#94cbf0 86px,#68b1e6 87px,#4696dc 88px,#3377ce 89px,#2b51b6 90px,#273599 91px,#212681 92px,#1e2176 93px,#20237c 94px,#262e92 95px,#2948ae 96px,#306cc7 97px,#408dd8 98px,#5ea9e3 99px,#87c3ed 100px,#a2d2f2 101px,#bee0f6 103px,#cfeaf9 106px,#dcf0fb 115px,#d7eefa 125px,#c7e6f8 129px,#a5d3f2 132px,#83c1ec 134px,#78bbea 135px,#7abbea 136px,#b7dcf5 140px,#d1ebf9 143px,#f0f8fe 153px,#fbfdff 165px,#feffff 212px)"></div>
<div style="background-image:linear-gradient(90deg,#feffff 1px,#f9fcff 46px,#e5f4fc 62px,#d7edfa 78px,#cae7f8 82px,#b9ddf5 84px,#97cdf0 86px,#6db4e8 87px,#4a99dd 88px,#357acf 89px,#2b55b8 90px,#27379c 91px,#222682 92px,#1e2075 93px,#1f2279 94px,#252b8d 95px,#2943a9 96px,#2f66c3 97px,#3d88d6 98px,#59a5e2 99px,#80bfeb 100px,#a0d0f1 101px,#bddff6 103px,#cfe9f9 106px,#dcf0fb 115px,#d8eefa 125px,#cae7f8 129px,#acd6f3 132px,#7dbdeb 135px,#79bbea 136px,#81c0ec 137px,#b2d9f4 140px,#c8e6f8 142px,#dff1fc 147px,#f6fbfe 157px,#fefeff 190px,#feffff 212px)"></div>
<div style="background-image:linear-gradient(90deg,#feffff 1px,#f9fcff 46px,#e5f4fc 62px,#d7eefa 78px,#cbe7f8 82px,#badef6 84px,#add7f4 85px,#9acef1 86px,#4e9cde 88px,#377ed1 89px,#2c58bb 90px,#27399e 91px,#222783 92px,#1e2074 93px,#1e2176 94px,#232988 95px,#283fa4 96px,#2e60bf 97px,#3a84d3 98px,#54a1e0 99px,#7abcea 100px,#9dcff1 101px,#afd8f4 102px,#c5e4f7 104px,#d6edfa 109px,#ddf0fb 121px,#d5ecfa 127px,#c7e5f8 130px,#a4d2f2 133px,#84c1ec 135px,#7abcea 136px,#7dbeeb 137px,#b9ddf5 141px,#cce8f9 143px,#e4f3fc 149px,#f7fbfe 158px,#fefeff 199px,#feffff 212px)"></div>
<div style="background-image:linear-gradient(90deg,#feffff 1px,#f9fcff 46px,#e5f4fc 62px,#d7eefa 78px,#c5e4f8 83px,#afd7f4 85px,#9ccff1 86px,#77baea 87px,#519fdf 88px,#3981d2 89px,#2d5cbd 90px,#283ca1 91px,#232885 92px,#1d2073 93px,#1d1f73 94px,#222784 95px,#283a9f 96px,#2c5abb 97px,#387fd1 98px,#4f9ddf 99px,#9acef1 101px,#badef6 103px,#cee9f9 106px,#dbeffb 114px,#daeffb 125px,#cae7f8 130px,#abd6f3 133px,#7ebeeb 136px,#7cbdeb 137px,#86c2ed 138px,#b4daf5 141px,#cae7f8 143px,#dff1fc 148px,#f6fbfe 158px,#fefeff 193px,#feffff 212px)"></div>
<div style="background-image:linear-gradient(90deg,#feffff 1px,#f9fcff 46px,#e5f4fc 62px,#d6edfa 79px,#c6e5f8 83px,#b0d8f4 85px,#9ed0f1 86px,#7cbdeb 87px,#55a2e1 88px,#3b84d4 89px,#2e60bf 90px,#283ea3 91px,#232887 92px,#1d1f73 93px,#1c1e70 94px,#21257f 95px,#27369a 96px,#2b54b8 97px,#357acf 98px,#4a99dd 99px,#6cb4e7 100px,#97ccf0 101px,#b8ddf5 103px,#c9e7f8 105px,#d9eefa 111px,#dcf0fb 124px,#d1ebf9 129px,#c7e5f8 131px,#a4d2f2 134px,#85c2ec 136px,#7dbdeb 137px,#81c0ec 138px,#bbdef6 142px,#cde9f9 144px,#e7f5fd 151px,#f8fcfe 160px,#feffff 212px)"></div>
<div style="background-image:linear-gradient(90deg,#feffff 1px,#f9fcff 46px,#e5f4fc 62px,#d6edfa 79px,#c7e5f8 83px,#b2d9f4 85px,#a0d1f2 86px,#80bfec 87px,#58a5e2 88px,#3d87d5 89px,#2e64c2 90px,#2841a6 91px,#242989 92px,#1d1f73 93px,#1c1d6e 94px,#20237b 95px,#273195 96px,#2a4eb4 97px,#3275cc 98px,#4595db 99px,#66b0e6 100px,#91c9ef 101px,#a7d4f3 102px,#c1e2f7 104px,#d0eaf9 107px,#dcf0fb 116px,#d8eefa 127px,#cae7f8 131px,#aad5f3 134px,#80bfeb 137px,#7fbfeb 138px,#c2e2f7 143px,#d6edfa 146px,#f4fafe 157px,#fcfeff 175px,#feffff 212px)"></div>
<div style="background-image:linear-gradient(90deg,#feffff 1px,#f9fcff 46px,#e4f3fc 63px,#d6edfa 79px,#c8e6f8 83px,#b3daf5 85px,#a2d2f2 86px,#85c2ec 87px,#5ca8e3 88px,#3f8bd7 89px,#2f68c4 90px,#2943a9 91px,#242a8b 92px,#1d2073 93px,#1b1c6c 94px,#1e2177 95px,#262d91 96px,#2949af 97px,#316fc9 98px,#4290d9 99px,#61ace4 100px,#8cc6ee 101px,#a5d3f2 102px,#bfe1f7 104px,#d0eaf9 107px,#dcf0fb 116px,#d9effb 127px,#cce8f9 131px,#b1d9f4 134px,#86c3ed 137px,#7fbfeb 138px,#85c2ec 139px,#bde0f6 143px,#cee9f9 145px,#eaf6fd 153px,#f9fcff 163px,#feffff 212px)"></div>
<div style="background-image:linear-gradient(90deg,#feffff 1px,#f8fcfe 47px,#e5f4fc 62px,#d6edfa 79px,#c8e6f8 83px,#b4dbf5 85px,#a4d3f2 86px,#89c5ed 87px,#5faae4 88px,#418ed8 89px,#306cc7 90px,#2946ac 91px,#252b8d 92px,#1e2074 93px,#1b1b6a 94px,#1d1f73 95px,#242b8c 96px,#2944aa 97px,#2f69c5 98px,#3f8bd7 99px,#5ca8e3 100px,#85c2ed 101px,#a2d2f2 102px,#bee0f6 104px,#cfeaf9 107px,#dcf0fb 116px,#daeffb 127px,#cae7f8 132px,#aad5f3 135px,#82c0ec 138px,#82c1ec 139px,#c4e3f7 144px,#daeffb 148px,#f6fbfe 159px,#fdfeff 186px,#feffff 212px)"></div>
<div style="background-image:linear-gradient(90deg,#feffff 1px,#f9fcff 47px,#e5f3fc 63px,#d6edfa 79px,#c9e6f8 83px,#b6dbf5 85px,#a6d3f2 86px,#8ec7ee 87px,#62ade5 88px,#4391da 89px,#3170c9 90px,#2949af 91px,#262d90 92px,#1e2075 93px,#1a1b69 94px,#1c1e6f 95px,#232886 96px,#283fa5 97px,#2e63c1 98px,#3d87d5 99px,#58a4e2 100px,#7fbfeb 101px,#9fd0f1 102px,#b1d9f4 103px,#c6e5f8 105px,#d6edfa 110px,#ddf0fb 123px,#d5ecfa 130px,#c6e5f8 133px,#96ccf0 137px,#87c3ed 138px,#82c0ec 139px,#89c4ed 140px,#bfe1f6 144px,#d5ecfa 147px,#f3fafe 158px,#fcfeff 175px,#feffff 212px)"></div>
<div style="background-image:linear-gradient(90deg,#feffff 1px,#f9fcff 47px,#e5f3fc 63px,#d7edfa 79px,#c9e7f8 83px,#b7dcf5 85px,#a8d4f3 86px,#92caef 87px,#66b0e6 88px,#4594db 89px,#3274cb 90px,#2a4cb2 91px,#262e92 92px,#1e2176 93px,#1a1a68 94px,#1b1c6c 95px,#212681 96px,#283ba0 97px,#2d5dbd 98px,#3a82d3 99px,#53a0e0 100px,#79bbea 101px,#9dcff1 102px,#afd7f4 103px,#c4e4f7 105px,#d6edfa 110px,#def0fb 123px,#d6edfa 130px,#c9e7f8 133px,#aad5f3 136px,#84c2ec 139px,#86c3ed 140px,#c5e4f8 145px,#dbeffb 149px,#f6fbfe 160px,#fdfeff 188px,#feffff 212px)"></div>
<div style="background-image:linear-gradient(90deg,#feffff 1px,#f9fcff 47px,#e5f4fc 63px,#d7edfa 79px,#cae7f8 83px,#b8ddf5 85px,#96ccf0 87px,#6ab3e7 88px,#4797dc 89px,#3377ce 90px,#2a4fb5 91px,#263195 92px,#1e2177 93px,#1a1a67 94px,#1a1b69 95px,#20247c 96px,#27369b 97px,#2c57ba 98px,#377dd1 99px,#4e9cde 100px,#9acef1 102px,#b9def6 104px,#cee9f9 107px,#dcf0fb 115px,#dbeffb 128px,#cce8f9 133px,#b0d8f4 136px,#89c4ed 139px,#85c2ec 140px,#9bcef1 142px,#cae7f8 146px,#e0f1fc 151px,#f7fbfe 161px,#fefeff 196px,#feffff 212px)"></div>
<div style="background-image:linear-gradient(90deg,#feffff 1px,#f9fcff 47px,#e5f4fc 63px,#d7edfa 79px,#cae7f8 83px,#b9ddf6 85px,#98cdf0 87px,#4b9ade 89px,#357acf 90px,#2b53b7 91px,#273397 92px,#1f2279 93px,#1a1a66 94px,#191966 95px,#1f2177 96px,#273296 97px,#2b51b6 98px,#3479ce 99px,#4998dd 100px,#6cb4e7 101px,#97ccf0 102px,#b8ddf5 104px,#c9e7f8 106px,#d9eefa 112px,#ddf0fb 126px,#d3ebfa 132px,#c0e1f7 135px,#86c3ed 140px,#89c5ed 141px,#c7e5f8 146px,#def1fc 151px,#f6fbfe 161px,#fdfeff 191px,#feffff 212px)"></div>
<div style="background-image:linear-gradient(90deg,#feffff 1px,#f9fcff 47px,#e5f4fc 63px,#d7eefa 79px,#cbe7f8 83px,#badef6 85px,#aed7f4 86px,#9acef1 87px,#4e9ddf 89px,#377ed1 90px,#2c57b9 91px,#27359a 92px,#1f237a 93px,#1a1966 94px,#191863 95px,#1d1f73 96px,#262d91 97px,#2a4cb1 98px,#3274cb 99px,#4594db 100px,#66b0e6 101px,#92c9ef 102px,#a8d4f3 103px,#c1e2f7 105px,#d0eaf9 108px,#ddf0fb 118px,#d9effb 130px,#cce8f9 134px,#b0d8f4 137px,#8ac5ee 140px,#88c4ed 141px,#cbe8f8 147px,#e3f3fc 153px,#f8fcfe 163px,#feffff 212px)"></div>
<div style="background-image:linear-gradient(90deg,#feffff 1px,#f9fcff 47px,#e5f4fc 63px,#d7eefa 79px,#c5e4f8 84px,#afd8f4 86px,#9dcff1 87px,#78bbea 88px,#52a0e0 89px,#3981d2 90px,#2c5abc 91px,#27389d 92px,#20247c 93px,#191966 94px,#181761 95px,#1c1d6f 96px,#242b8c 97px,#2947ac 98px,#306ec8 99px,#4290d9 100px,#61ace4 101px,#8cc6ee 102px,#a5d3f2 103px,#bfe1f7 105px,#d0eaf9 108px,#ddf0fb 117px,#daeffb 130px,#c9e6f8 135px,#90c9ef 140px,#89c4ed 141px,#8dc7ee 142px,#c9e6f8 147px,#dff1fc 152px,#f6fbfe 162px,#fdfeff 193px,#feffff 212px)"></div>
<div style="background-image:linear-gradient(90deg,#feffff 1px,#f9fcff 47px,#e4f3fc 64px,#d5edfa 80px,#c6e5f8 84px,#b1d8f4 86px,#9fd0f1 87px,#7dbdeb 88px,#55a2e1 89px,#3b84d4 90px,#2d5ebe 91px,#283b9f 92px,#21257e 93px,#1a1a66 94px,#17165f 95px,#1b1b6a 96px,#232886 97px,#2942a7 98px,#2f68c4 99px,#3f8bd7 100px,#5da8e3 101px,#86c3ed 102px,#a2d2f2 103px,#bee0f6 105px,#d0eaf9 108px,#ddf0fb 117px,#dbeffb 130px,#cce8f9 135px,#afd8f4 138px,#8cc6ee 141px,#8bc6ee 142px,#c5e4f7 147px,#daeffb 151px,#f6fbfe 162px,#fdfeff 188px,#feffff 212px)"></div>
<div style="background-image:linear-gradient(90deg,#feffff 1px,#f8fcfe 48px,#e5f4fc 63px,#d6edfa 80px,#c7e5f8 84px,#b2d9f4 86px,#a1d1f2 87px,#81c0ec 88px,#59a5e2 89px,#3d87d5 90px,#2e62c0 91px,#283da2 92px,#212681 93px,#1a1a67 94px,#17165d 95px,#1a1a67 96px,#212681 97px,#283da2 98px,#2e62c0 99px,#3c87d5 100px,#58a5e2 101px,#80bfeb 102px,#a0d0f1 103px,#bddff6 105px,#cfeaf9 108px,#ddf0fb 117px,#dcf0fb 130px,#cee9f9 135px,#b5dbf5 138px,#92caef 141px,#8bc6ee 142px,#9ccff1 144px,#cae7f8 148px,#dff1fc 153px,#f6fbfe 163px,#fefeff 196px,#feffff 212px)"></div>
<div style="background-image:linear-gradient(90deg,#feffff 1px,#f8fcfe 48px,#e4f3fc 64px,#d6edfa 80px,#c8e6f8 84px,#b3daf5 86px,#a3d2f2 87px,#86c2ed 88px,#5ca8e3 89px,#3f8ad6 90px,#2f66c3 91px,#2840a5 92px,#222783 93px,#1a1a67 94px,#17155c 95px,#191863 96px,#20237b 97px,#27389d 98px,#2d5cbd 99px,#3a82d3 100px,#53a1e0 101px,#7abcea 102px,#9dcff1 103px,#afd8f4 104px,#c5e4f7 106px,#d6edfa 111px,#dff1fc 125px,#d7eefa 133px,#c4e4f7 137px,#8ec7ee 142px,#8ec8ee 143px,#c6e5f8 148px,#dbeffb 152px,#f6fbfe 163px,#fdfeff 191px,#feffff 212px)"></div>
<div style="background-image:linear-gradient(90deg,#feffff 1px,#f9fcff 48px,#e4f3fc 64px,#d6edfa 80px,#c8e6f8 84px,#b4dbf5 86px,#a4d3f2 87px,#8ac5ed 88px,#5faae4 89px,#418dd8 90px,#306ac5 91px,#2943a8 92px,#232886 93px,#1a1a68 94px,#16145b 95px,#181760 96px,#1e2176 97px,#273498 98px,#2c56b9 99px,#377dd0 100px,#4e9ddf 101px,#9acef1 103px,#add7f4 104px,#c3e3f7 106px,#d4ecfa 110px,#dff1fc 122px,#d9eefa 133px,#c8e6f8 137px,#93caef 142px,#8ec7ee 143px,#9ed0f1 145px,#cbe7f8 149px,#e3f3fc 155px,#f8fcfe 165px,#feffff 212px)"></div>
<div style="background-image:linear-gradient(90deg,#feffff 1px,#f9fcff 48px,#e4f3fc 64px,#d6edfa 80px,#c9e6f8 84px,#b6dbf5 86px,#a6d3f2 87px,#8ec7ee 88px,#62ade5 89px,#4290d9 90px,#306ec8 91px,#2946ab 92px,#242989 93px,#1a1b69 94px,#16145a 95px,#17155c 96px,#1d1f71 97px,#262f93 98px,#2a50b5 99px,#3479ce 100px,#4a99dd 101px,#6db4e8 102px,#97cdf0 103px,#b8ddf5 105px,#cee9f9 108px,#dcf0fb 116px,#dcf0fb 131px,#d0eaf9 136px,#badef6 139px,#90c9ef 143px,#92c9ef 144px,#c8e6f8 149px,#dff1fc 154px,#f7fbfe 165px,#feffff 209px,#feffff 212px)"></div>
<div style="background-image:linear-gradient(90deg,#feffff 1px,#f9fcff 48px,#e5f3fc 64px,#d6edfa 80px,#c9e7f8 84px,#b7dcf5 86px,#a8d4f3 87px,#92caef 88px,#65b0e6 89px,#4493db 90px,#3172ca 91px,#2949ae 92px,#242b8c 93px,#1b1c6b 94px,#161459 95px,#161459 96px,#1b1c6c 97px,#252c8e 98px,#2a4bb0 99px,#3274cc 100px,#4595db 101px,#67b1e6 102px,#93caef 103px,#a8d4f3 104px,#c1e2f7 106px,#d0eaf9 109px,#def1fb 119px,#dcf0fb 132px,#cee9f9 137px,#b4dbf5 140px,#95cbf0 143px,#91c9ef 144px,#a1d1f2 146px,#cce8f9 150px,#e3f3fc 156px,#f8fcfe 166px,#feffff 212px)"></div>
<div style="background-image:linear-gradient(90deg,#feffff 1px,#f9fcff 48px,#e5f3fc 64px,#d7edfa 80px,#cae7f8 84px,#b8ddf5 86px,#96ccf0 88px,#6ab2e7 89px,#4696dc 90px,#3275cd 91px,#2a4cb2 92px,#252c8f 93px,#1b1c6c 94px,#161458 95px,#151356 96px,#1a1a68 97px,#232988 98px,#2946ab 99px,#306ec8 100px,#4390d9 101px,#62ade5 102px,#8ec7ee 103px,#a6d3f2 104px,#c0e1f7 106px,#d0eaf9 109px,#def1fb 119px,#dbeffb 133px,#cbe8f8 138px,#99cdf0 143px,#93caef 144px,#9dcff1 146px,#c9e7f8 150px,#dff1fc 155px,#f6fbfe 165px,#fdfeff 195px,#feffff 212px)"></div>
<div style="background-image:linear-gradient(90deg,#feffff 1px,#f9fcff 48px,#e5f3fc 64px,#d7edfa 80px,#cae7f8 84px,#b9ddf6 86px,#98cdf0 88px,#4a99dd 90px,#3479ce 91px,#2a4fb5 92px,#262e92 93px,#1c1d6e 94px,#161458 95px,#151354 96px,#191863 97px,#222682 98px,#2841a6 99px,#2f68c4 100px,#408cd7 101px,#5ea9e3 102px,#88c4ed 103px,#a3d2f2 104px,#bfe0f6 106px,#d0eaf9 109px,#ddf0fb 118px,#dcf0fb 133px,#cee9f9 138px,#b4daf5 141px,#96ccf0 144px,#94cbf0 145px,#a3d2f2 147px,#c5e4f8 150px,#dbeffb 154px,#f6fbfe 165px,#fdfeff 191px,#feffff 212px)"></div>
<div style="background-image:linear-gradient(90deg,#feffff 1px,#f9fcff 48px,#e4f3fc 65px,#d7edfa 80px,#cbe7f8 84px,#badef6 86px,#add7f4 87px,#9acef1 88px,#4d9cde 90px,#367cd0 91px,#2b53b7 92px,#263094 93px,#1c1e70 94px,#161458 95px,#141251 96px,#18165f 97px,#20247c 98px,#283ca1 99px,#2e62c0 100px,#3d88d5 101px,#59a6e2 102px,#82c0ec 103px,#a1d1f2 104px,#bde0f6 106px,#cfeaf9 109px,#ddf0fb 118px,#ddf0fb 133px,#d0eaf9 138px,#b9ddf6 141px,#9acef1 144px,#95cbf0 145px,#9fd0f1 147px,#cae7f8 151px,#dff1fc 156px,#f7fbfe 166px,#fefeff 198px,#feffff 212px)"></div>
<div style="background-image:linear-gradient(90deg,#feffff 1px,#f9fcff 48px,#e4f3fc 65px,#d5ecfa 81px,#c5e4f7 85px,#afd7f4 87px,#9ccff1 88px,#77baea 89px,#509edf 90px,#377fd1 91px,#2c56b9 92px,#273397 93px,#1d1f72 94px,#161458 95px,#14124f 96px,#16155b 97px,#1e2177 98px,#27379c 99px,#2d5cbd 100px,#3a83d3 101px,#55a2e1 102px,#7cbdeb 103px,#9ed0f1 104px,#b0d8f4 105px,#c5e4f8 107px,#d6edfa 112px,#e0f1fc 127px,#d9eefa 136px,#c8e6f8 140px,#9ed0f1 144px,#96ccf0 146px,#a5d3f2 148px,#c7e5f8 151px,#def1fb 156px,#f7fbfe 167px,#fefeff 208px,#feffff 212px)"></div>
<div style="background-image:linear-gradient(90deg,#feffff 1px,#f8fcfe 49px,#e4f3fc 65px,#d5edfa 81px,#c6e5f8 85px,#b0d8f4 87px,#9ed0f1 88px,#7bbcea 89px,#54a1e0 90px,#3982d3 91px,#2c5abc 92px,#27369a 93px,#1e2075 94px,#161459 95px,#13114d 96px,#151357 97px,#1d1f72 98px,#273397 99px,#2c56b9 100px,#377fd1 101px,#509edf 102px,#76bae9 103px,#9ccff1 104px,#aed7f4 105px,#c4e4f7 107px,#d4ecfa 111px,#dff1fc 124px,#daeffb 136px,#cbe7f8 140px,#9acef1 145px,#99cef1 147px,#cbe8f8 152px,#e3f3fc 158px,#f8fcfe 168px,#feffff 212px)"></div>
<div style="background-image:linear-gradient(90deg,#feffff 1px,#f8fcfe 49px,#e4f3fc 65px,#d5edfa 81px,#c6e5f8 85px,#b1d9f4 87px,#a0d1f2 88px,#7fbfeb 89px,#57a4e1 90px,#3b85d4 91px,#2d5ebe 92px,#27389d 93px,#1e2177 94px,#16145a 95px,#13114b 96px,#141253 97px,#1b1c6c 98px,#262e92 99px,#2a50b5 100px,#357acf 101px,#4c9ade 102px,#99cdf0 104px,#b9ddf6 106px,#cee9f9 109px,#dcf0fb 117px,#def1fb 133px,#d2ebf9 139px,#bee0f6 142px,#9ed0f1 145px,#98cdf0 147px,#a8d4f3 149px,#c8e6f8 152px,#dff1fc 157px,#f7fbfe 168px,#feffff 211px,#feffff 212px)"></div>
<div style="background-image:linear-gradient(90deg,#feffff 1px,#f9fcff 49px,#e4f3fc 65px,#d5edfa 81px,#c7e5f8 85px,#b3daf4 87px,#a2d1f2 88px,#84c1ec 89px,#5aa6e2 90px,#3d88d5 91px,#2e62c0 92px,#283ba0 93px,#1f227a 94px,#16145b 95px,#12104a 96px,#14124f 97px,#1a1a67 98px,#252b8c 99px,#2a4bb1 100px,#3275cd 101px,#4797dc 102px,#6ab2e7 103px,#96ccf0 104px,#b8dcf5 106px,#c9e7f8 108px,#d9eefb 114px,#e0f1fc 130px,#d7eefa 138px,#c3e3f7 142px,#9bcef1 146px,#9bcef1 148px,#cce8f9 153px,#e3f3fc 159px,#f8fcfe 169px,#feffff 212px)"></div>
<div style="height:1px;background-image:linear-gradient(90deg,#feffff 1px,#f9fcff 49px,#e4f3fc 65px,#d6edfa 81px,#c8e6f8 85px,#b3daf5 87px,#a3d2f2 88px,#87c3ed 89px,#5ca8e3 90px,#3f8ad6 91px,#2f65c2 92px,#283da2 93px,#20237c 94px,#16155c 95px,#121049 96px,#13114c 97px,#191864 98px,#232988 99px,#2947ad 100px,#3171ca 101px,#4494db 102px,#66b0e6 103px,#92caef 104px,#a8d4f3 105px,#c1e2f7 107px,#d0eaf9 110px,#def1fb 120px,#ddf0fb 135px,#d2ebf9 140px,#bddff6 143px,#9ed0f1 146px,#9acef1 148px,#b6dcf5 151px,#d0eaf9 154px,#edf7fd 163px,#fafdff 173px,#feffff 212px)"></div>
</div>
<div class="h" style="left:327px;top:589px;width:211px;height:212px">
<div style="background-image:linear-gradient(90deg,#feffff 1px,#fafcff 39px,#e8f5fd 54px,#dbeffb 71px,#cae7f8 75px,#acd6f3 77px,#94cbf0 78px,#69b2e7 79px,#4f9ddf 80px,#4290d9 81px,#408cd7 82px,#4493db 83px,#56a3e1 84px,#75b9e9 85px,#9bcef1 86px,#b0d8f4 87px,#c8e6f8 89px,#d4ecfa 93px,#cde8f9 97px,#bcdff6 99px,#9acef1 101px,#5ba7e2 103px,#4a99dd 104px,#4493db 105px,#4897dd 106px,#57a4e1 107px,#73b7e9 108px,#99cdf0 109px,#bee0f6 111px,#d1eaf9 113px,#e5f4fd 120px,#f9fcff 131px,#ffffff 211px)"></div>
<div style="background-image:linear-gradient(90deg,#feffff 1px,#fafdff 39px,#e8f5fd 54px,#dbeffb 71px,#cbe7f8 75px,#b0d8f4 77px,#99cdf0 78px,#70b6e8 79px,#53a1e0 80px,#4391da 81px,#408cd7 82px,#4391da 83px,#52a0e0 84px,#6eb5e8 85px,#97ccf0 86px,#acd6f3 87px,#c7e5f8 89px,#d3ebfa 92px,#d1ebf9 96px,#cae7f8 98px,#b4dbf5 100px,#a2d2f2 101px,#87c3ed 102px,#63aee5 103px,#4f9edf 104px,#4595db 105px,#4595db 106px,#509edf 107px,#65afe6 108px,#8bc6ee 109px,#a6d3f2 110px,#c7e5f8 112px,#d8eefa 115px,#f8fcfe 130px,#feffff 179px,#ffffff 211px)"></div>
<div style="background-image:linear-gradient(90deg,#feffff 1px,#fafdff 39px,#e8f5fd 54px,#dcf0fb 71px,#cce8f9 75px,#b3daf4 77px,#9dcff1 78px,#57a4e1 80px,#4594db 81px,#408cd7 82px,#4290d9 83px,#4f9ddf 84px,#68b1e6 85px,#91c9ef 86px,#a9d5f3 87px,#c6e5f8 89px,#d3ebfa 92px,#d0eaf9 97px,#c5e4f8 99px,#aad5f3 101px,#95cbf0 102px,#70b6e8 103px,#56a3e1 104px,#4897dd 105px,#4594db 106px,#4b9add 107px,#5ca8e3 108px,#9ed0f1 110px,#c2e2f7 112px,#d2ebf9 114px,#eff8fe 125px,#fbfdff 136px,#ffffff 211px)"></div>
<div style="background-image:linear-gradient(90deg,#feffff 1px,#fafdff 39px,#e8f5fd 54px,#dcf0fb 71px,#cde9f9 75px,#b6dbf5 77px,#a1d1f2 78px,#5ba7e3 80px,#4696dc 81px,#408dd8 82px,#418ed8 83px,#4b9ade 84px,#63ade5 85px,#8ac5ee 86px,#a6d3f2 87px,#c4e4f7 89px,#d2ebf9 92px,#d1ebf9 97px,#c9e6f8 99px,#b1d9f4 101px,#9ed0f1 102px,#5faae4 104px,#4c9bde 105px,#4594db 106px,#4797dc 107px,#55a2e1 108px,#6db4e8 109px,#94cbf0 110px,#bcdff6 112px,#d0eaf9 114px,#e3f3fc 120px,#f9fcff 132px,#ffffff 211px)"></div>
<div style="background-image:linear-gradient(90deg,#feffff 1px,#f9fcff 40px,#e8f5fd 54px,#daeffb 72px,#cfe9f9 75px,#c7e5f8 76px,#a5d3f2 78px,#87c3ed 79px,#60abe4 80px,#4999dd 81px,#418ed8 82px,#418dd8 83px,#4898dd 84px,#5eaae4 85px,#83c1ec 86px,#a2d2f2 87px,#c2e3f7 89px,#cfeaf9 91px,#d4ecfa 96px,#cbe8f8 99px,#b7dcf5 101px,#a6d3f2 102px,#8ec7ee 103px,#68b1e6 104px,#53a0e0 105px,#4696dc 106px,#4594db 107px,#4e9ddf 108px,#62ace5 109px,#85c2ed 110px,#a3d2f2 111px,#c5e4f7 113px,#d8eefa 116px,#f8fcfe 131px,#feffff 177px,#ffffff 211px)"></div>
<div style="background-image:linear-gradient(90deg,#feffff 1px,#f9fcff 40px,#e7f5fd 55px,#dbeffb 72px,#d0eaf9 75px,#c9e6f8 76px,#a9d5f3 78px,#8fc8ee 79px,#65afe6 80px,#4d9bde 81px,#418fd9 82px,#408dd8 83px,#4696dc 84px,#5aa7e2 85px,#9fd0f1 87px,#b3daf4 88px,#cae7f8 90px,#d5edfa 94px,#d1eaf9 98px,#c7e6f8 100px,#aed7f4 102px,#9acef1 103px,#77bae9 104px,#5aa6e2 105px,#4a99dd 106px,#4594db 107px,#4999dd 108px,#59a6e2 109px,#76b9e9 110px,#9acef1 111px,#bfe1f7 113px,#d1ebf9 115px,#e8f5fd 123px,#fafdff 134px,#ffffff 211px)"></div>
<div style="background-image:linear-gradient(90deg,#feffff 1px,#fafdff 40px,#e8f5fd 55px,#dbeffb 72px,#cae7f8 76px,#add7f4 78px,#96ccf0 79px,#6bb3e7 80px,#509edf 81px,#4290d9 82px,#408cd7 83px,#4494db 84px,#56a3e1 85px,#75b9e9 86px,#9bcef1 87px,#b0d8f4 88px,#c9e6f8 90px,#d5edfa 94px,#cfe9f9 99px,#c1e2f7 101px,#a2d2f2 103px,#86c2ed 104px,#63ade5 105px,#4f9ddf 106px,#4595db 107px,#4696dc 108px,#52a0e0 109px,#68b1e6 110px,#8fc8ee 111px,#a8d4f3 112px,#c7e6f8 114px,#d9eefb 117px,#f8fcfe 132px,#feffff 183px,#ffffff 211px)"></div>
<div style="background-image:linear-gradient(90deg,#feffff 1px,#fafdff 40px,#e8f5fd 55px,#dbeffb 72px,#cbe8f8 76px,#b1d8f4 78px,#9acef1 79px,#72b7e9 80px,#54a1e0 81px,#4492da 82px,#408cd7 83px,#4392da 84px,#53a0e0 85px,#6fb5e8 86px,#97cdf0 87px,#add7f4 88px,#c8e6f8 90px,#d5edfa 94px,#d1eaf9 99px,#c6e5f8 101px,#aad5f3 103px,#94cbf0 104px,#6fb5e8 105px,#56a3e1 106px,#4897dd 107px,#4594db 108px,#4c9bde 109px,#5eaae4 110px,#a0d0f1 112px,#c3e3f7 114px,#d7eefa 117px,#f8fcfe 132px,#feffff 175px,#ffffff 211px)"></div>
<div style="background-image:linear-gradient(90deg,#feffff 1px,#fafdff 40px,#e8f5fd 55px,#dcf0fb 72px,#cce8f9 76px,#b3daf5 78px,#9ed0f1 79px,#58a5e2 81px,#4594db 82px,#408dd8 83px,#4290d9 84px,#4f9ddf 85px,#68b1e6 86px,#92c9ef 87px,#aad5f3 88px,#c6e5f8 90px,#d4ecfa 93px,#d4ecfa 98px,#c9e7f8 101px,#b1d9f4 103px,#9ed0f1 104px,#5ea9e3 106px,#4c9bde 107px,#4594db 108px,#4897dd 109px,#56a3e1 110px,#70b6e8 111px,#97ccf0 112px,#bde0f6 114px,#d1eaf9 116px,#e3f3fc 122px,#f9fcff 134px,#ffffff 211px)"></div>
<div style="background-image:linear-gradient(90deg,#feffff 1px,#fafdff 40px,#e8f5fd 55px,#dcf0fb 72px,#cee9f9 76px,#c5e4f7 77px,#a2d2f2 79px,#5ca8e3 81px,#4797dc 82px,#408dd8 83px,#418fd9 84px,#4c9bde 85px,#63aee5 86px,#8bc5ee 87px,#a6d3f2 88px,#c5e4f7 90px,#d3ecfa 93px,#d5edfa 98px,#cbe8f8 101px,#b7dcf5 103px,#a6d3f2 104px,#8dc7ee 105px,#68b1e6 106px,#52a0e0 107px,#4696dc 108px,#4695dc 109px,#509edf 110px,#64aee5 111px,#88c4ed 112px,#a5d3f2 113px,#c6e5f8 115px,#d8eefa 118px,#f8fcfe 133px,#feffff 180px,#ffffff 211px)"></div>
<div style="background-image:linear-gradient(90deg,#feffff 1px,#f9fcff 41px,#e8f5fd 55px,#daeffb 73px,#cfe9f9 76px,#c7e6f8 77px,#a6d3f2 79px,#88c4ed 80px,#61ace4 81px,#4a99dd 82px,#418ed8 83px,#418ed8 84px,#4998dd 85px,#5faae4 86px,#84c1ec 87px,#a3d2f2 88px,#c3e3f7 90px,#d3ecfa 93px,#d4ecfa 99px,#c8e6f8 102px,#aed7f4 104px,#99cdf0 105px,#75b9e9 106px,#5aa6e2 107px,#4a99dd 108px,#4594db 109px,#4a9add 110px,#5ba7e3 111px,#9ccff1 113px,#c0e2f7 115px,#d2ebf9 117px,#edf7fd 127px,#fafdff 137px,#ffffff 211px)"></div>
<div style="background-image:linear-gradient(90deg,#feffff 1px,#f9fcff 41px,#e8f5fd 56px,#dbeffb 73px,#d0eaf9 76px,#c9e6f8 77px,#aad5f3 79px,#90c8ef 80px,#66b0e6 81px,#4d9cde 82px,#428fd9 83px,#408dd8 84px,#4696dc 85px,#5ba7e3 86px,#9fd0f1 88px,#b3daf5 89px,#cae7f8 91px,#d6edfa 95px,#d3ebfa 100px,#cae7f8 102px,#b4daf5 104px,#a1d1f2 105px,#62ade5 107px,#4f9ddf 108px,#4595dc 109px,#4797dc 110px,#54a1e0 111px,#6bb3e7 112px,#92c9ef 113px,#a9d5f3 114px,#c8e6f8 116px,#d9eefb 119px,#f8fcfe 134px,#feffff 186px,#ffffff 211px)"></div>
<div style="background-image:linear-gradient(90deg,#feffff 1px,#fafdff 41px,#e8f5fd 56px,#dbeffb 73px,#cae7f8 77px,#aed7f4 79px,#97ccf0 80px,#6cb4e7 81px,#519fdf 82px,#4391da 83px,#408dd8 84px,#4594db 85px,#57a4e1 86px,#9ccff1 88px,#b1d8f4 89px,#cae7f8 91px,#d6edfa 95px,#d4ecfa 100px,#c6e5f8 103px,#a9d5f3 105px,#93caef 106px,#6eb4e8 107px,#55a3e1 108px,#4897dd 109px,#4595db 110px,#4d9cde 111px,#60abe4 112px,#a1d1f2 114px,#c4e3f7 116px,#d8eefa 119px,#f8fcfe 134px,#feffff 178px,#ffffff 211px)"></div>
<div style="background-image:linear-gradient(90deg,#feffff 1px,#fafdff 41px,#e8f5fd 56px,#dcf0fb 73px,#cbe8f8 77px,#b1d9f4 79px,#9bcef1 80px,#73b8e9 81px,#55a2e1 82px,#4493db 83px,#408dd8 84px,#4492da 85px,#53a1e0 86px,#70b6e8 87px,#98cdf0 88px,#aed7f4 89px,#c9e6f8 91px,#d6edfa 95px,#d3ebfa 101px,#c9e7f8 103px,#b1d9f4 105px,#9dcff1 106px,#5da9e3 108px,#4c9bde 109px,#4595db 110px,#4998dd 111px,#58a5e2 112px,#73b8e9 113px,#99cdf0 114px,#bee0f6 116px,#d1ebf9 118px,#e5f4fd 125px,#f9fcff 136px,#ffffff 211px)"></div>
<div style="background-image:linear-gradient(90deg,#feffff 1px,#fafdff 41px,#e8f5fd 56px,#dcf0fb 73px,#cde8f9 77px,#b4daf5 79px,#9fd0f1 80px,#59a5e2 82px,#4595dc 83px,#408dd8 84px,#4391d9 85px,#509edf 86px,#69b2e7 87px,#93caef 88px,#aad5f3 89px,#c7e6f8 91px,#d6edfa 95px,#d4ecfa 101px,#c4e3f7 104px,#a5d3f2 106px,#8cc6ee 107px,#67b0e6 108px,#52a0e0 109px,#4696dc 110px,#4696dc 111px,#519fdf 112px,#66afe6 113px,#8bc6ee 114px,#a6d3f2 115px,#c7e5f8 117px,#d9eefa 120px,#f8fcfe 135px,#feffff 184px,#ffffff 211px)"></div>
<div style="background-image:linear-gradient(90deg,#feffff 1px,#fafdff 41px,#e8f5fd 56px,#dcf0fb 73px,#cee9f9 77px,#c5e4f8 78px,#a2d2f2 80px,#5da9e3 82px,#4897dc 83px,#418ed8 84px,#428fd9 85px,#4d9bde 86px,#64aee5 87px,#8cc6ee 88px,#a7d4f3 89px,#c6e5f8 91px,#d4ecfa 94px,#d7edfa 100px,#c8e6f8 104px,#add7f4 106px,#99cdf0 107px,#75b8e9 108px,#59a5e2 109px,#4a99dd 110px,#4595db 111px,#4b9ade 112px,#5da8e3 113px,#9ed0f1 115px,#c1e2f7 117px,#d2ebf9 119px,#eff8fe 130px,#fbfdff 141px,#ffffff 211px)"></div>
<div style="background-image:linear-gradient(90deg,#feffff 1px,#f9fcff 42px,#e8f5fd 56px,#dbeffb 74px,#cfe9f9 77px,#c7e6f8 78px,#a6d4f3 80px,#89c4ed 81px,#61ace5 82px,#4b9add 83px,#418fd9 84px,#418ed8 85px,#4a99dd 86px,#60abe4 87px,#85c2ed 88px,#a4d2f2 89px,#c4e4f7 91px,#d4ecfa 94px,#d7eefa 100px,#cbe7f8 104px,#b4daf5 106px,#a1d1f2 107px,#61ace5 109px,#4f9ddf 110px,#4695dc 111px,#4897dc 112px,#55a2e1 113px,#6db4e7 114px,#94cbf0 115px,#bcdff6 117px,#d0eaf9 119px,#e1f2fc 124px,#f9fcff 137px,#ffffff 211px)"></div>
<div style="background-image:linear-gradient(90deg,#feffff 1px,#f9fcff 42px,#e8f5fd 57px,#dbeffb 74px,#d0eaf9 77px,#c9e6f8 78px,#aad5f3 80px,#90c9ef 81px,#66b0e6 82px,#4e9cde 83px,#4290d9 84px,#418ed8 85px,#4797dc 86px,#5ca8e3 87px,#a0d1f2 89px,#c2e2f7 91px,#d0eaf9 93px,#d8eefa 98px,#d2ebf9 103px,#c6e5f8 105px,#a9d5f3 107px,#93caef 108px,#6db4e7 109px,#55a2e1 110px,#4897dd 111px,#4695dc 112px,#4f9ddf 113px,#62ace5 114px,#a2d2f2 116px,#c4e4f7 118px,#d8eefa 121px,#f8fcfe 136px,#feffff 181px,#ffffff 211px)"></div>
<div style="background-image:linear-gradient(90deg,#feffff 1px,#fafdff 42px,#e8f5fd 57px,#dbeffb 74px,#cae7f8 78px,#aed7f4 80px,#97ccf0 81px,#6cb4e7 82px,#519fe0 83px,#4391da 84px,#418dd8 85px,#4595db 86px,#58a4e2 87px,#9ccff1 89px,#b1d9f4 90px,#cae7f8 92px,#d7eefa 96px,#d6edfa 102px,#c9e7f8 105px,#b1d8f4 107px,#9dcff1 108px,#5da9e3 110px,#4c9bde 111px,#4595dc 112px,#4a99dd 113px,#59a6e2 114px,#75b9e9 115px,#9acef1 116px,#bfe1f7 118px,#d1ebf9 120px,#e8f5fd 128px,#fafdff 139px,#ffffff 211px)"></div>
<div style="background-image:linear-gradient(90deg,#feffff 1px,#fafdff 42px,#e8f5fd 57px,#dcf0fb 74px,#cbe8f8 78px,#b1d9f4 80px,#9bcef1 81px,#73b8e9 82px,#55a2e1 83px,#4493db 84px,#418dd8 85px,#4493db 86px,#54a2e0 87px,#71b7e8 88px,#99cdf0 89px,#afd7f4 90px,#c9e7f8 92px,#d7eefa 96px,#d4ecfa 103px,#c4e4f7 106px,#a5d3f2 108px,#8bc5ee 109px,#66b0e6 110px,#529fe0 111px,#4696dc 112px,#4796dc 113px,#52a0e0 114px,#67b1e6 115px,#8ec7ee 116px,#a7d4f3 117px,#c7e6f8 119px,#d9eefb 122px,#f8fcfe 137px,#feffff 187px,#ffffff 211px)"></div>
<div style="background-image:linear-gradient(90deg,#feffff 1px,#fafdff 42px,#e8f5fd 57px,#dcf0fb 74px,#cde8f9 78px,#b4daf5 80px,#9fd0f1 81px,#59a5e2 83px,#4595dc 84px,#418ed8 85px,#4391da 86px,#519fdf 87px,#6bb3e7 88px,#95cbf0 89px,#abd6f3 90px,#c8e6f8 92px,#d7eefa 96px,#d5edfa 103px,#c8e6f8 106px,#add7f4 108px,#98cdf0 109px,#74b8e9 110px,#59a5e2 111px,#4a99dd 112px,#4695dc 113px,#4c9bde 114px,#5ea9e3 115px,#9fd0f1 117px,#c2e3f7 119px,#d3ebfa 121px,#f1f9fe 133px,#fcfeff 145px,#ffffff 211px)"></div>
<div style="background-image:linear-gradient(90deg,#feffff 1px,#fafdff 42px,#e8f5fd 57px,#dcf0fb 74px,#cee9f9 78px,#c5e4f8 79px,#a2d2f2 81px,#5da9e3 83px,#4897dd 84px,#418ed8 85px,#4290d9 86px,#4d9cde 87px,#65afe6 88px,#8ec7ee 89px,#a8d4f3 90px,#c6e5f8 92px,#d5edfa 95px,#d8eefa 102px,#cbe7f8 106px,#b4daf5 108px,#a1d1f2 109px,#61ace4 111px,#4f9ddf 112px,#4696dc 113px,#4898dd 114px,#56a3e1 115px,#6fb5e8 116px,#96ccf0 117px,#bddff6 119px,#d0eaf9 121px,#e3f3fc 127px,#f9fcff 139px,#ffffff 211px)"></div>
<div style="background-image:linear-gradient(90deg,#feffff 1px,#fafdff 42px,#e8f5fd 57px,#dbeffb 75px,#cfe9f9 78px,#c7e6f8 79px,#a6d3f2 81px,#89c4ed 82px,#61ace5 83px,#4b9add 84px,#428fd9 85px,#428fd9 86px,#4b9add 87px,#61ace4 88px,#87c3ed 89px,#a5d3f2 90px,#c5e4f7 92px,#d5ecfa 95px,#d8eefa 102px,#cde9f9 106px,#b9def6 108px,#a9d5f3 109px,#92caef 110px,#6cb4e7 111px,#55a2e1 112px,#4898dd 113px,#4696dc 114px,#509edf 115px,#63ade5 116px,#87c3ed 117px,#a4d2f2 118px,#c5e4f8 120px,#d8eefa 123px,#f8fcfe 138px,#feffff 185px,#ffffff 211px)"></div>
<div style="background-image:linear-gradient(90deg,#feffff 1px,#f9fcff 43px,#e8f5fd 58px,#dbeffb 75px,#d0eaf9 78px,#c9e6f8 79px,#aad5f3 81px,#90c8ef 82px,#66b0e6 83px,#4e9cde 84px,#4290d9 85px,#418ed8 86px,#4897dd 87px,#5da9e3 88px,#a1d1f2 90px,#c3e3f7 92px,#d4ecfa 95px,#d9eefb 102px,#cfeaf9 106px,#bfe1f6 108px,#9ccff1 110px,#5da8e3 112px,#4c9bde 113px,#4695dc 114px,#4b9add 115px,#5aa7e2 116px,#78baea 117px,#9bcef1 118px,#c0e1f7 120px,#d2ebf9 122px,#eaf6fd 131px,#fafdff 141px,#ffffff 211px)"></div>
<div style="background-image:linear-gradient(90deg,#feffff 1px,#fafdff 43px,#e8f5fd 58px,#dbeffb 75px,#cae7f8 79px,#add7f4 81px,#96ccf0 82px,#6cb4e7 83px,#519fdf 84px,#4392da 85px,#418ed8 86px,#4695dc 87px,#59a5e2 88px,#9ed0f1 90px,#b2d9f4 91px,#cbe7f8 93px,#d8eefa 97px,#d7edfa 104px,#cce8f9 107px,#b7dcf5 109px,#a5d3f2 110px,#8ac5ee 111px,#66afe6 112px,#519fe0 113px,#4797dc 114px,#4797dc 115px,#53a1e0 116px,#69b2e7 117px,#90c8ef 118px,#a8d4f3 119px,#c8e6f8 121px,#d9eefb 124px,#f8fcfe 139px,#feffff 191px,#ffffff 211px)"></div>
<div style="background-image:linear-gradient(90deg,#feffff 1px,#fafdff 43px,#e8f5fd 58px,#dcf0fb 75px,#cbe8f8 79px,#b1d8f4 81px,#9acef1 82px,#73b7e9 83px,#55a2e1 84px,#4493db 85px,#418ed8 86px,#4494db 87px,#55a2e1 88px,#73b8e9 89px,#9acef1 90px,#b0d8f4 91px,#cae7f8 93px,#d8eefa 97px,#d8eefa 104px,#c8e6f8 108px,#add6f3 110px,#98cdf0 111px,#73b8e9 112px,#58a5e2 113px,#4a99dd 114px,#4696dc 115px,#4d9cde 116px,#5faae4 117px,#a0d1f2 119px,#c3e3f7 121px,#d8eefa 124px,#f8fcfe 139px,#feffff 182px,#ffffff 211px)"></div>
<div style="background-image:linear-gradient(90deg,#feffff 1px,#fafdff 43px,#e8f5fd 58px,#dcf0fb 75px,#cde8f9 79px,#b3daf5 81px,#9ed0f1 82px,#59a5e2 84px,#4595dc 85px,#418ed8 86px,#4392da 87px,#52a0e0 88px,#6db4e7 89px,#96ccf0 90px,#add6f3 91px,#c9e6f8 93px,#d8eefa 97px,#d7edfa 105px,#cbe7f8 108px,#b4daf5 110px,#a0d1f2 111px,#61ace4 113px,#4e9ddf 114px,#4696dc 115px,#4998dd 116px,#57a4e1 117px,#71b6e8 118px,#97ccf0 119px,#bde0f6 121px,#d1eaf9 123px,#e3f3fc 129px,#f9fcff 141px,#ffffff 211px)"></div>
<div style="background-image:linear-gradient(90deg,#feffff 1px,#fafdff 43px,#e8f5fd 58px,#dcf0fb 75px,#cee9f9 79px,#c5e4f7 80px,#a2d1f2 82px,#5da8e3 84px,#4897dc 85px,#418ed8 86px,#4391d9 87px,#4f9ddf 88px,#67b0e6 89px,#90c9ef 90px,#a9d5f3 91px,#c7e6f8 93px,#d6edfa 96px,#d9eefb 104px,#cde9f9 108px,#b9def6 110px,#a9d5f3 111px,#92c9ef 112px,#6cb3e7 113px,#55a2e1 114px,#4898dd 115px,#4796dc 116px,#519fdf 117px,#64aee5 118px,#89c4ed 119px,#a5d3f2 120px,#c6e5f8 122px,#d8eefa 125px,#f8fcfe 140px,#feffff 188px,#ffffff 211px)"></div>
<div style="background-image:linear-gradient(90deg,#feffff 1px,#fafdff 43px,#e8f5fd 58px,#dbeffb 76px,#cfe9f9 79px,#c7e5f8 80px,#a6d3f2 82px,#88c4ed 83px,#61ace4 84px,#4a9add 85px,#428fd9 86px,#4290d9 87px,#4c9bde 88px,#62ade5 89px,#8ac5ed 90px,#a6d3f2 91px,#c6e5f8 93px,#d5edfa 96px,#daeffb 104px,#d0eaf9 108px,#bfe1f6 110px,#9ccff1 112px,#5ca8e3 114px,#4c9bde 115px,#4696dc 116px,#4b9ade 117px,#5ba7e3 118px,#9ccff1 120px,#c1e2f7 122px,#d2ebf9 124px,#ebf6fd 133px,#fafdff 143px,#ffffff 211px)"></div>
<div style="background-image:linear-gradient(90deg,#feffff 1px,#f9fcff 44px,#e8f5fd 58px,#dbeffb 76px,#d0eaf9 79px,#c9e6f8 80px,#a9d5f3 82px,#8fc8ee 83px,#65afe6 84px,#4d9cde 85px,#4290d9 86px,#418fd9 87px,#4998dd 88px,#5eaae4 89px,#83c1ec 90px,#a3d2f2 91px,#c4e4f7 93px,#d5edfa 96px,#daeffb 104px,#d2ebf9 108px,#c4e4f7 110px,#a5d3f2 112px,#8ac5ed 113px,#65afe6 114px,#519fe0 115px,#4797dc 116px,#4897dd 117px,#54a1e0 118px,#6bb3e7 119px,#91c9ef 120px,#a9d5f3 121px,#c8e6f8 123px,#d9eefb 126px,#f8fcfe 141px,#feffff 194px,#ffffff 211px)"></div>
<div style="background-image:linear-gradient(90deg,#feffff 1px,#fafdff 44px,#e8f5fd 59px,#dbeffb 76px,#d1eaf9 79px,#bee0f6 81px,#add6f3 82px,#95ccf0 83px,#6bb3e7 84px,#519fdf 85px,#4391da 86px,#418ed8 87px,#4796dc 88px,#5ba7e2 89px,#9fd0f1 91px,#b4daf5 92px,#cbe8f8 94px,#d9eefb 98px,#d8eefa 106px,#c8e6f8 110px,#add6f3 112px,#98cdf0 113px,#73b7e9 114px,#58a5e2 115px,#4a99dd 116px,#4696dc 117px,#4e9ddf 118px,#60abe4 119px,#a1d1f2 121px,#c3e3f7 123px,#d8eefa 126px,#f8fcfe 141px,#feffff 185px,#ffffff 211px)"></div>
<div style="background-image:linear-gradient(90deg,#feffff 1px,#fafdff 44px,#e8f5fd 59px,#dcf0fb 76px,#cbe8f8 80px,#b0d8f4 82px,#9acef1 83px,#71b7e8 84px,#54a2e0 85px,#4493db 86px,#418ed8 87px,#4594db 88px,#57a4e1 89px,#76b9e9 90px,#9ccff1 91px,#b1d9f4 92px,#cae7f8 94px,#d9eefa 98px,#d9eefb 106px,#cbe8f8 110px,#b4daf5 112px,#a0d1f2 113px,#60ace4 115px,#4f9ddf 116px,#4696dc 117px,#4a99dd 118px,#58a5e2 119px,#73b7e9 120px,#98cdf0 121px,#bee0f6 123px,#d1ebf9 125px,#e3f3fc 131px,#f9fcff 143px,#ffffff 211px)"></div>
<div style="background-image:linear-gradient(90deg,#feffff 1px,#fafdff 44px,#e8f5fd 59px,#dcf0fb 76px,#cce8f9 80px,#b3daf4 82px,#9dcff1 83px,#58a4e2 85px,#4595dc 86px,#418ed8 87px,#4493db 88px,#53a1e0 89px,#70b6e8 90px,#98cdf0 91px,#aed7f4 92px,#c9e7f8 94px,#d9eefa 98px,#daeffb 106px,#cee9f9 110px,#b9def6 112px,#a9d5f3 113px,#91c9ef 114px,#6bb3e7 115px,#55a2e1 116px,#4898dd 117px,#4797dc 118px,#519fe0 119px,#65afe6 120px,#8ac5ee 121px,#a5d3f2 122px,#c6e5f8 124px,#d9eefa 127px,#f8fcfe 142px,#feffff 191px,#ffffff 211px)"></div>
<div style="background-image:linear-gradient(90deg,#feffff 1px,#fafdff 44px,#e8f5fd 59px,#dcf0fb 76px,#cde9f9 80px,#b6dbf5 82px,#a1d1f2 83px,#5ca8e3 85px,#4797dc 86px,#418fd9 87px,#4391da 88px,#509edf 89px,#69b2e7 90px,#93caef 91px,#abd6f3 92px,#c8e6f8 94px,#d8eefa 98px,#d9eefb 107px,#cae7f8 111px,#b0d8f4 113px,#9ccff1 114px,#5ca8e3 116px,#4c9bde 117px,#4696dc 118px,#4c9bde 119px,#5ca8e3 120px,#9dcff1 122px,#c1e2f7 124px,#d2ebf9 126px,#edf7fd 136px,#fbfdff 146px,#ffffff 211px)"></div>
<div style="background-image:linear-gradient(90deg,#feffff 1px,#fafdff 44px,#e8f5fd 59px,#dbeffb 77px,#cfe9f9 80px,#c7e5f8 81px,#a5d3f2 83px,#86c3ed 84px,#60abe4 85px,#4a99dd 86px,#428fd9 87px,#4290d9 88px,#4d9cde 89px,#64afe5 90px,#8dc7ee 91px,#a8d4f3 92px,#c7e5f8 94px,#d6edfa 97px,#dbeffb 105px,#d2ebf9 110px,#c4e4f7 112px,#a4d3f2 114px,#89c5ed 115px,#65afe6 116px,#519fe0 117px,#4797dc 118px,#4898dd 119px,#55a2e1 120px,#6cb3e7 121px,#93caef 122px,#aad5f3 123px,#c9e6f8 125px,#d9effb 128px,#f8fcfe 143px,#feffff 197px,#ffffff 211px)"></div>
<div style="background-image:linear-gradient(90deg,#feffff 1px,#fafdff 44px,#e8f5fd 60px,#dbeffb 77px,#d0eaf9 80px,#c8e6f8 81px,#a8d4f3 83px,#8dc7ee 84px,#64aee5 85px,#4d9bde 86px,#4290d9 87px,#428fd9 88px,#4a9add 89px,#60abe4 90px,#86c3ed 91px,#a4d3f2 92px,#c5e4f8 94px,#d6edfa 97px,#dcf0fb 105px,#d3ecfa 110px,#c8e6f8 112px,#add6f3 114px,#98cdf0 115px,#73b7e9 116px,#58a5e2 117px,#4a99dd 118px,#4796dc 119px,#4f9ddf 120px,#61ace4 121px,#a2d1f2 123px,#c4e4f7 125px,#d8eefa 128px,#f8fcfe 143px,#feffff 188px,#ffffff 211px)"></div>
<div style="background-image:linear-gradient(90deg,#feffff 1px,#fafcff 45px,#e8f5fd 60px,#dbeffb 77px,#d0eaf9 80px,#bde0f6 82px,#acd6f3 83px,#94cbef 84px,#69b2e7 85px,#509edf 86px,#4391da 87px,#418fd9 88px,#4897dd 89px,#5ca8e3 90px,#a1d1f2 92px,#c3e3f7 94px,#d5edfa 97px,#dcf0fb 105px,#d5ecfa 110px,#cbe8f8 112px,#b4daf5 114px,#a0d1f2 115px,#60abe4 117px,#4f9ddf 118px,#4796dc 119px,#4a99dd 120px,#59a5e2 121px,#74b8e9 122px,#99cdf0 123px,#bee0f6 125px,#d1ebf9 127px,#e6f4fd 134px,#f9fcff 145px,#ffffff 211px)"></div>
<div style="background-image:linear-gradient(90deg,#feffff 1px,#fafdff 45px,#e8f5fd 60px,#dcf0fb 77px,#cbe7f8 81px,#afd8f4 83px,#98cdf0 84px,#6fb5e8 85px,#53a1e0 86px,#4493da 87px,#418ed8 88px,#4696dc 89px,#59a5e2 90px,#9dcff1 92px,#b2d9f4 93px,#cbe8f8 95px,#d9effb 99px,#daeffb 108px,#cee9f9 112px,#badef6 114px,#a9d5f3 115px,#91c9ef 116px,#6bb3e7 117px,#55a2e1 118px,#4898dd 119px,#4797dc 120px,#52a0e0 121px,#66b0e6 122px,#8bc6ee 123px,#a6d3f2 124px,#c7e5f8 126px,#d9eefa 129px,#f8fcfe 144px,#feffff 193px,#ffffff 211px)"></div>
<div style="background-image:linear-gradient(90deg,#feffff 1px,#fafdff 45px,#e8f5fd 60px,#dcf0fb 77px,#cce8f9 81px,#b2d9f4 83px,#9ccff1 84px,#76b9e9 85px,#57a4e1 86px,#4594db 87px,#418ed8 88px,#4594db 89px,#55a2e1 90px,#73b8e9 91px,#9acef1 92px,#b0d8f4 93px,#cae7f8 95px,#d9eefb 99px,#dbeffb 108px,#d0eaf9 112px,#bfe1f7 114px,#9ccff1 116px,#5ca8e3 118px,#4c9bde 119px,#4696dc 120px,#4c9bde 121px,#5da9e3 122px,#9dcff1 124px,#c1e2f7 126px,#d2ebf9 128px,#eff8fe 139px,#fbfdff 150px,#ffffff 211px)"></div>
<div style="background-image:linear-gradient(90deg,#feffff 1px,#fafdff 45px,#e8f5fd 60px,#dcf0fb 77px,#cde9f9 81px,#b5dbf5 83px,#a0d0f1 84px,#5aa7e2 86px,#4796dc 87px,#418fd9 88px,#4492da 89px,#52a0e0 90px,#6db4e7 91px,#96ccf0 92px,#add7f4 93px,#c9e7f8 95px,#d9eefb 99px,#dbeffb 108px,#d2ebf9 112px,#c4e4f7 114px,#a4d3f2 116px,#89c5ed 117px,#65afe6 118px,#529fe0 119px,#4797dc 120px,#4998dd 121px,#55a3e1 122px,#6db4e7 123px,#93caef 124px,#bcdff6 126px,#d0eaf9 128px,#e1f2fc 133px,#f9fcff 146px,#ffffff 211px)"></div>
<div style="background-image:linear-gradient(90deg,#feffff 1px,#fafdff 45px,#e8f5fd 60px,#dcf0fb 77px,#cee9f9 81px,#c6e5f8 82px,#a3d2f2 84px,#83c1ec 85px,#5eaae4 86px,#4998dd 87px,#428fd9 88px,#4391da 89px,#4f9ddf 90px,#67b0e6 91px,#90c9ef 92px,#aad5f3 93px,#c8e6f8 95px,#d7edfa 98px,#dcf0fb 107px,#d4ecfa 112px,#c9e6f8 114px,#add6f3 116px,#98cdf0 117px,#73b7e9 118px,#58a5e2 119px,#4a99dd 120px,#4797dc 121px,#4f9ddf 122px,#61ace5 123px,#a2d2f2 125px,#c4e4f7 127px,#d8eefa 130px,#f8fcfe 145px,#feffff 190px,#ffffff 211px)"></div>
<div style="background-image:linear-gradient(90deg,#feffff 1px,#fafdff 45px,#e8f5fd 60px,#dbeffb 78px,#cfeaf9 81px,#c8e6f8 82px,#a7d4f3 84px,#8ac5ed 85px,#62ade5 86px,#4c9bde 87px,#4290d9 88px,#4290d9 89px,#4c9bde 90px,#63ade5 91px,#8ac5ee 92px,#a6d4f3 93px,#c6e5f8 95px,#d6edfa 98px,#dcf0fb 107px,#d5edfa 112px,#cbe8f8 114px,#b4daf5 116px,#a0d1f2 117px,#61ace4 119px,#4f9ddf 120px,#4797dc 121px,#4b9add 122px,#59a6e2 123px,#75b9e9 124px,#99cef1 125px,#bfe1f6 127px,#d1ebf9 129px,#e6f4fd 136px,#f9fcff 147px,#ffffff 211px)"></div>
<div style="background-image:linear-gradient(90deg,#feffff 1px,#fafcff 46px,#e8f5fd 60px,#dbeffb 78px,#d0eaf9 81px,#c9e7f8 82px,#aad5f3 84px,#91c9ef 85px,#67b0e6 86px,#4f9ddf 87px,#4391da 88px,#428fd9 89px,#4999dd 90px,#5faae4 91px,#84c1ec 92px,#a3d2f2 93px,#c5e4f7 95px,#d6edfa 98px,#ddf0fb 106px,#d7edfa 112px,#c7e5f8 115px,#a9d5f3 117px,#91c9ef 118px,#6bb3e7 119px,#55a2e1 120px,#4998dd 121px,#4897dd 122px,#52a0e0 123px,#67b0e6 124px,#8cc6ee 125px,#a7d4f3 126px,#c7e5f8 128px,#d9eefb 131px,#f8fcfe 146px,#feffff 196px,#ffffff 211px)"></div>
<div style="background-image:linear-gradient(90deg,#feffff 1px,#fafdff 46px,#e8f5fd 61px,#dbeffb 78px,#cae7f8 82px,#aed7f4 84px,#97ccf0 85px,#6db4e7 86px,#52a0e0 87px,#4492da 88px,#428fd9 89px,#4797dc 90px,#5ba7e3 91px,#a0d0f1 93px,#c3e3f7 95px,#d2ebf9 97px,#ddf0fb 103px,#d8eefa 112px,#cae7f8 115px,#b1d8f4 117px,#9ccff1 118px,#5ca8e3 120px,#4c9bde 121px,#4797dc 122px,#4d9cde 123px,#5da9e3 124px,#9ed0f1 126px,#c2e2f7 128px,#d3ebfa 130px,#eff8fe 141px,#fbfdff 152px,#ffffff 211px)"></div>
<div style="background-image:linear-gradient(90deg,#ffffff 1px,#fafdff 46px,#e8f5fd 61px,#dcf0fb 78px,#cbe8f8 82px,#b1d8f4 84px,#9acef1 85px,#73b8e9 86px,#55a2e1 87px,#4594db 88px,#418fd9 89px,#4595dc 90px,#58a4e1 91px,#9ccff1 93px,#b2d9f4 94px,#cbe8f8 96px,#daeffb 100px,#dbeffb 110px,#d2ebf9 114px,#c5e4f7 116px,#a5d3f2 118px,#8ac5ed 119px,#65afe6 120px,#52a0e0 121px,#4897dd 122px,#4999dd 123px,#56a3e1 124px,#6eb4e8 125px,#94cbf0 126px,#bcdff6 128px,#d0eaf9 130px,#e1f2fc 135px,#f9fcff 148px,#ffffff 211px)"></div>
<div style="background-image:linear-gradient(90deg,#ffffff 1px,#fafdff 46px,#e8f5fd 61px,#dcf0fb 78px,#cde8f9 82px,#b3daf5 84px,#9ed0f1 85px,#59a5e2 87px,#4696dc 88px,#428fd9 89px,#4493db 90px,#54a2e0 91px,#71b6e8 92px,#99cdf0 93px,#afd8f4 94px,#cae7f8 96px,#daeffb 100px,#dcf0fb 110px,#cfeaf9 115px,#bddff6 117px,#98cdf0 119px,#73b7e9 120px,#59a5e2 121px,#4a9add 122px,#4797dc 123px,#509edf 124px,#62ade5 125px,#a2d2f2 127px,#c4e4f7 129px,#d8eefa 132px,#f8fcfe 147px,#feffff 193px,#ffffff 211px)"></div>
<div style="background-image:linear-gradient(90deg,#ffffff 1px,#fafdff 46px,#e8f5fd 61px,#dcf0fb 78px,#cee9f9 82px,#c5e4f7 83px,#a1d1f2 85px,#5ca8e3 87px,#4898dd 88px,#428fd9 89px,#4492da 90px,#519fdf 91px,#6bb3e7 92px,#95cbf0 93px,#acd6f3 94px,#c9e7f8 96px,#d9effb 100px,#dcf0fb 110px,#d1ebf9 115px,#c2e3f7 117px,#a1d1f2 119px,#61ace4 121px,#4f9ddf 122px,#4797dc 123px,#4b9ade 124px,#5aa6e2 125px,#75b9e9 126px,#9acef1 127px,#bfe1f6 129px,#d1ebf9 131px,#e6f4fd 138px,#f9fcff 149px,#ffffff 211px)"></div>
<div style="background-image:linear-gradient(90deg,#ffffff 1px,#fafdff 46px,#e8f5fd 61px,#ddf0fb 78px,#cfe9f9 82px,#c7e5f8 83px,#a5d3f2 85px,#86c3ed 86px,#60abe4 87px,#4a9add 88px,#4290d9 89px,#4391da 90px,#4e9ddf 91px,#65afe6 92px,#8fc8ee 93px,#a9d5f3 94px,#c8e6f8 96px,#d7edfa 99px,#def0fb 108px,#d7edfa 114px,#c7e5f8 117px,#a9d5f3 119px,#92caef 120px,#6cb3e7 121px,#55a2e1 122px,#4998dd 123px,#4898dd 124px,#53a0e0 125px,#67b1e6 126px,#8dc7ee 127px,#a7d4f3 128px,#c7e5f8 130px,#d9eefb 133px,#f8fcfe 148px,#feffff 198px,#ffffff 211px)"></div>
<div style="background-image:linear-gradient(90deg,#ffffff 1px,#fafdff 46px,#e8f5fd 62px,#dbeffb 79px,#d0eaf9 82px,#c8e6f8 83px,#a8d4f3 85px,#8dc7ee 86px,#64aee5 87px,#4d9cde 88px,#4391d9 89px,#4290d9 90px,#4b9ade 91px,#61ace5 92px,#88c4ed 93px,#a5d3f2 94px,#c6e5f8 96px,#d7edfa 99px,#def1fb 108px,#d5ecfa 115px,#cae7f8 117px,#b1d9f4 119px,#9ccff1 120px,#5da8e3 122px,#4d9bde 123px,#4797dc 124px,#4d9cde 125px,#5ea9e3 126px,#9ed0f1 128px,#c2e2f7 130px,#d3ebfa 132px,#eff8fe 143px,#fbfdff 154px,#ffffff 211px)"></div>
<div style="background-image:linear-gradient(90deg,#ffffff 1px,#fafdff 47px,#e8f5fd 62px,#dbeffb 79px,#d1eaf9 82px,#bde0f6 84px,#acd6f3 85px,#94cbef 86px,#69b2e7 87px,#509edf 88px,#4392da 89px,#4290d9 90px,#4998dd 91px,#5ea9e3 92px,#a2d2f2 94px,#c4e4f7 96px,#d6edfa 99px,#def1fb 108px,#d6edfa 115px,#c5e4f7 118px,#a5d3f2 120px,#8ac5ee 121px,#66b0e6 122px,#52a0e0 123px,#4898dd 124px,#4999dd 125px,#56a3e1 126px,#6eb5e8 127px,#94cbf0 128px,#bcdff6 130px,#d0eaf9 132px,#e1f2fc 137px,#f9fcff 150px,#feffff 211px)"></div>
<div style="background-image:linear-gradient(90deg,#ffffff 1px,#fafdff 47px,#e8f5fd 62px,#dcf0fb 79px,#cbe7f8 83px,#afd8f4 85px,#98cdf0 86px,#6fb5e8 87px,#53a1e0 88px,#4493db 89px,#428fd9 90px,#4797dc 91px,#5aa6e2 92px,#9fd0f1 94px,#c2e3f7 96px,#d2ebf9 98px,#ddf0fb 104px,#daeffb 114px,#c9e7f8 118px,#add7f4 120px,#98cdf0 121px,#73b8e9 122px,#59a5e2 123px,#4b9add 124px,#4797dc 125px,#509edf 126px,#62ade5 127px,#a3d2f2 129px,#c5e4f7 131px,#d8eefa 134px,#f8fcfe 149px,#feffff 195px,#feffff 211px)"></div>
<div style="background-image:linear-gradient(90deg,#ffffff 1px,#fafdff 47px,#e8f5fd 62px,#dcf0fb 79px,#cce8f9 83px,#b2d9f4 85px,#9ccff1 86px,#75b9e9 87px,#57a3e1 88px,#4595db 89px,#428fd9 90px,#4595db 91px,#57a4e1 92px,#76b9e9 93px,#9bcff1 94px,#b1d9f4 95px,#cbe8f8 97px,#daeffb 101px,#ddf0fb 112px,#d2ebf9 117px,#c2e3f7 119px,#a1d1f2 121px,#61ace4 123px,#4f9edf 124px,#4797dc 125px,#4b9ade 126px,#5aa6e2 127px,#76b9e9 128px,#9acef1 129px,#bfe1f7 131px,#d2ebf9 133px,#e6f4fd 140px,#f9fcff 151px,#feffff 211px)"></div>
<div style="background-image:linear-gradient(90deg,#ffffff 1px,#fafdff 47px,#e8f5fd 62px,#dcf0fb 79px,#cde9f9 83px,#b4daf5 85px,#9fd0f1 86px,#5aa6e2 88px,#4796dc 89px,#428fd9 90px,#4493db 91px,#54a1e0 92px,#70b6e8 93px,#98cdf0 94px,#aed7f4 95px,#cae7f8 97px,#daeffb 101px,#ddf0fb 112px,#d4ecfa 117px,#c7e6f8 119px,#a9d5f3 121px,#92caef 122px,#6cb4e7 123px,#55a3e1 124px,#4999dd 125px,#4898dd 126px,#53a0e0 127px,#67b1e6 128px,#8dc7ee 129px,#a7d4f3 130px,#c7e5f8 132px,#d9eefb 135px,#f8fcfe 150px,#feffff 201px,#feffff 211px)"></div>
<div style="background-image:linear-gradient(90deg,#ffffff 1px,#fafdff 47px,#e8f5fd 62px,#dcf0fb 79px,#cee9f9 83px,#c5e5f8 84px,#a3d2f2 86px,#5ea9e3 88px,#4998dd 89px,#4290d9 90px,#4492da 91px,#519fdf 92px,#6ab2e7 93px,#94cbf0 94px,#abd6f3 95px,#c9e6f8 97px,#daeffb 101px,#ddf0fb 112px,#d5edfa 117px,#cbe7f8 119px,#b1d9f4 121px,#9dcff1 122px,#5da9e3 124px,#4d9cde 125px,#4797dc 126px,#4d9cde 127px,#5ea9e3 128px,#9ed0f1 130px,#c2e2f7 132px,#d3ebfa 134px,#f0f8fe 145px,#fbfdff 156px,#feffff 211px)"></div>
<div style="background-image:linear-gradient(90deg,#ffffff 1px,#fafdff 47px,#e8f5fd 62px,#dbeffb 80px,#cfe9f9 83px,#c7e6f8 84px,#a6d3f2 86px,#89c4ed 87px,#61ace5 88px,#4b9ade 89px,#4290d9 90px,#4391da 91px,#4e9cde 92px,#65afe6 93px,#8ec7ee 94px,#a8d4f3 95px,#c8e6f8 97px,#d7eefa 100px,#def1fc 110px,#d7edfa 117px,#c5e4f8 120px,#a5d3f2 122px,#8bc6ee 123px,#66b0e6 124px,#52a0e0 125px,#4898dd 126px,#4a99dd 127px,#56a3e1 128px,#6eb5e8 129px,#94cbf0 130px,#bcdff6 132px,#d0eaf9 134px,#e1f2fc 139px,#f9fcff 152px,#feffff 211px)"></div>
<div style="background-image:linear-gradient(90deg,#ffffff 1px,#fafdff 47px,#e8f5fd 63px,#dbeffb 80px,#d0eaf9 83px,#c9e6f8 84px,#a9d5f3 86px,#8fc8ef 87px,#65afe6 88px,#4e9ddf 89px,#4391da 90px,#4290d9 91px,#4b9ade 92px,#61ace4 93px,#87c3ed 94px,#a5d3f2 95px,#c6e5f8 97px,#d7edfa 100px,#dff1fc 109px,#d8eefa 117px,#c9e7f8 120px,#aed7f4 122px,#99cdf0 123px,#74b8e9 124px,#59a6e2 125px,#4b9ade 126px,#4897dd 127px,#509edf 128px,#62ade5 129px,#a3d2f2 131px,#c5e4f7 133px,#d8eefa 136px,#f8fcfe 151px,#feffff 197px,#feffff 211px)"></div>
<div style="background-image:linear-gradient(90deg,#ffffff 1px,#fafdff 48px,#e8f5fd 63px,#dbeffb 80px,#d1eaf9 83px,#bee0f6 85px,#add6f3 86px,#95cbf0 87px,#6bb3e7 88px,#519fdf 89px,#4492da 90px,#4290d9 91px,#4998dd 92px,#5da9e3 93px,#a2d1f2 95px,#c4e4f7 97px,#d6edfa 100px,#dff1fc 109px,#d9eefb 117px,#cce8f9 120px,#b5dbf5 122px,#a1d1f2 123px,#62ace5 125px,#509edf 126px,#4897dd 127px,#4b9ade 128px,#5aa6e2 129px,#76b9e9 130px,#9acef1 131px,#bfe1f7 133px,#d2ebf9 135px,#e6f4fd 142px,#f9fcff 153px,#feffff 211px)"></div>
<div style="background-image:linear-gradient(90deg,#ffffff 1px,#fafdff 48px,#e8f5fd 63px,#dcf0fb 80px,#cbe8f8 84px,#b0d8f4 86px,#99cdf0 87px,#71b6e8 88px,#54a1e0 89px,#4594db 90px,#428fd9 91px,#4796dc 92px,#5aa6e2 93px,#9fd0f1 95px,#b3daf5 96px,#cce8f9 98px,#dbeffb 102px,#ddf0fb 114px,#d4ecfa 119px,#c8e6f8 121px,#aad5f3 123px,#93caef 124px,#6db4e7 125px,#56a3e1 126px,#4a99dd 127px,#4898dd 128px,#53a0e0 129px,#67b1e6 130px,#8dc7ee 131px,#a7d4f3 132px,#c7e5f8 134px,#d9eefb 137px,#f8fcfe 152px,#feffff 203px,#feffff 211px)"></div>
<div style="background-image:linear-gradient(90deg,#ffffff 1px,#fafdff 48px,#e8f5fd 63px,#dcf0fb 80px,#cce8f9 84px,#b2d9f4 86px,#9dcff1 87px,#77baea 88px,#57a4e1 89px,#4695dc 90px,#428fd9 91px,#4595db 92px,#57a3e1 93px,#75b9e9 94px,#9bcef1 95px,#b1d9f4 96px,#cbe8f8 98px,#daeffb 102px,#def1fb 114px,#d5edfa 119px,#cbe7f8 121px,#b2d9f4 123px,#9dcff1 124px,#5ea9e3 126px,#4d9cde 127px,#4897dc 128px,#4d9cde 129px,#5ea9e3 130px,#9ed0f1 132px,#c2e2f7 134px,#d3ebfa 136px,#f0f8fe 147px,#fbfdff 158px,#feffff 211px)"></div>
<div style="background-image:linear-gradient(90deg,#ffffff 1px,#fafdff 48px,#e8f5fd 63px,#dcf0fb 80px,#cde9f9 84px,#b5dbf5 86px,#a0d1f2 87px,#5ba7e3 89px,#4797dc 90px,#4290d9 91px,#4493db 92px,#53a1e0 93px,#6fb5e8 94px,#98cdf0 95px,#aed7f4 96px,#cae7f8 98px,#daeffb 102px,#def1fb 114px,#d3ecfa 120px,#c6e5f8 122px,#a6d3f2 124px,#8cc6ee 125px,#67b0e6 126px,#53a0e0 127px,#4998dd 128px,#4a99dd 129px,#56a3e1 130px,#6eb5e8 131px,#94cbf0 132px,#bcdff6 134px,#d0eaf9 136px,#e1f2fc 141px,#f9fcff 154px,#feffff 211px)"></div>
<div style="background-image:linear-gradient(90deg,#ffffff 1px,#fafdff 48px,#e8f5fd 63px,#ddf0fb 80px,#cee9f9 84px,#c6e5f8 85px,#a3d2f2 87px,#83c1ec 88px,#5eaae4 89px,#4999dd 90px,#4290d9 91px,#4492da 92px,#509fdf 93px,#69b2e7 94px,#93cbef 95px,#abd6f3 96px,#c9e7f8 98px,#d8eefa 101px,#dff1fc 111px,#d8eefa 119px,#cae7f8 122px,#aed7f4 124px,#99cdf0 125px,#75b9e9 126px,#5aa6e2 127px,#4b9ade 128px,#4897dd 129px,#509edf 130px,#62ade5 131px,#a2d2f2 133px,#c4e4f7 135px,#d8eefa 138px,#f8fcfe 153px,#feffff 199px,#feffff 211px)"></div>
<div style="background-image:linear-gradient(90deg,#ffffff 1px,#fafdff 48px,#e8f5fd 63px,#dbeffb 81px,#cfeaf9 84px,#c8e6f8 85px,#a7d4f3 87px,#8ac5ed 88px,#62ade5 89px,#4c9bde 90px,#4391d9 91px,#4391da 92px,#4e9cde 93px,#65afe6 94px,#8dc7ee 95px,#a8d4f3 96px,#c8e6f8 98px,#d7eefa 101px,#dff1fc 111px,#d9eefb 119px,#cce8f9 122px,#b5dbf5 124px,#a2d1f2 125px,#62ade5 127px,#509edf 128px,#4898dd 129px,#4b9ade 130px,#5aa6e2 131px,#75b9e9 132px,#9acef1 133px,#bfe1f6 135px,#d2ebf9 137px,#e6f4fd 144px,#f9fcff 155px,#feffff 211px)"></div>
<div style="background-image:linear-gradient(90deg,#ffffff 1px,#fbfdff 48px,#e8f5fd 64px,#dbeffb 81px,#d0eaf9 84px,#c9e7f8 85px,#aad5f3 87px,#90c8ef 88px,#66b0e6 89px,#4f9ddf 90px,#4391da 91px,#4390d9 92px,#4b9ade 93px,#61ace4 94px,#87c3ed 95px,#a5d3f2 96px,#c6e5f8 98px,#d7edfa 101px,#dff1fc 110px,#daeffb 119px,#cfeaf9 122px,#bbdff6 124px,#94cbf0 126px,#6eb5e8 127px,#56a3e1 128px,#4a99dd 129px,#4998dd 130px,#53a0e0 131px,#67b0e6 132px,#8cc6ee 133px,#a7d4f3 134px,#c7e5f8 136px,#d9eefb 139px,#f8fcfe 154px,#feffff 204px,#feffff 211px)"></div>
<div style="background-image:linear-gradient(90deg,#ffffff 1px,#fafdff 49px,#e8f5fd 64px,#dcf0fb 81px,#d1eaf9 84px,#bee0f6 86px,#add7f4 87px,#96ccf0 88px,#6cb3e7 89px,#519fe0 90px,#4493da 91px,#4290d9 92px,#4998dd 93px,#5da9e3 94px,#a2d1f2 96px,#c4e4f7 98px,#d7edfa 101px,#e0f1fc 110px,#d9eefa 120px,#cbe8f8 123px,#b2d9f4 125px,#9ed0f1 126px,#5eaae4 128px,#4e9cde 129px,#4897dd 130px,#4d9cde 131px,#5ea9e3 132px,#9ed0f1 134px,#c2e2f7 136px,#d3ebfa 138px,#f0f8fe 149px,#fbfdff 160px,#feffff 211px)"></div>
<div style="background-image:linear-gradient(90deg,#ffffff 1px,#fafdff 49px,#e8f5fd 64px,#dcf0fb 81px,#cbe8f8 85px,#b0d8f4 87px,#99cef1 88px,#71b7e8 89px,#55a2e1 90px,#4594db 91px,#4290d9 92px,#4797dc 93px,#5aa6e2 94px,#9fd0f1 96px,#c3e3f7 98px,#d2ebf9 100px,#def1fb 106px,#dbeffb 119px,#cee9f9 123px,#b8ddf5 125px,#a7d4f3 126px,#8dc7ee 127px,#68b1e6 128px,#53a1e0 129px,#4998dd 130px,#4a99dd 131px,#56a3e1 132px,#6db4e8 133px,#94cbef 134px,#bcdff6 136px,#d0eaf9 138px,#e1f2fc 143px,#f9fcff 156px,#feffff 211px)"></div>
<div style="background-image:linear-gradient(90deg,#ffffff 1px,#fafdff 49px,#e8f5fd 64px,#dcf0fb 81px,#cce8f9 85px,#b3d9f4 87px,#9dcff1 88px,#58a4e2 90px,#4696dc 91px,#4290d9 92px,#4595dc 93px,#57a4e1 94px,#75b9e9 95px,#9bcff1 96px,#b1d9f4 97px,#cbe8f8 99px,#dbeffb 103px,#dff1fc 116px,#d5edfa 122px,#cae7f8 124px,#afd8f4 126px,#9acef1 127px,#76b9e9 128px,#5aa7e2 129px,#4c9bde 130px,#4898dd 131px,#509edf 132px,#62ace5 133px,#a2d2f2 135px,#c4e4f7 137px,#d8eefa 140px,#f8fcfe 155px,#feffff 201px,#feffff 211px)"></div>
<div style="background-image:linear-gradient(90deg,#ffffff 1px,#fafdff 49px,#e8f5fd 64px,#dcf0fb 81px,#cde9f9 85px,#b5dbf5 87px,#a0d1f2 88px,#5ba7e3 90px,#4797dc 91px,#4290d9 92px,#4594db 93px,#54a1e0 94px,#70b6e8 95px,#98cdf0 96px,#afd7f4 97px,#cae7f8 99px,#daeffb 103px,#dff1fc 116px,#d7edfa 122px,#c4e4f7 125px,#a3d2f2 127px,#86c3ed 128px,#63ade5 129px,#519fdf 130px,#4898dd 131px,#4b9ade 132px,#59a6e2 133px,#74b8e9 134px,#99cdf0 135px,#bfe1f6 137px,#d1ebf9 139px,#e6f4fd 146px,#f9fcff 157px,#feffff 211px)"></div>
<div style="background-image:linear-gradient(90deg,#ffffff 1px,#fafdff 49px,#e8f5fd 64px,#ddf0fb 81px,#cee9f9 85px,#c6e5f8 86px,#a3d2f2 88px,#84c1ec 89px,#5faae4 90px,#4a99dd 91px,#4290d9 92px,#4492da 93px,#519fdf 94px,#6ab2e7 95px,#94cbf0 96px,#acd6f3 97px,#c9e7f8 99px,#d8eefa 102px,#e0f2fc 112px,#d8eefa 122px,#c8e6f8 125px,#abd6f3 127px,#95cbf0 128px,#6fb6e8 129px,#57a4e1 130px,#4a99dd 131px,#4998dd 132px,#53a0e0 133px,#67b0e6 134px,#8cc6ee 135px,#a6d3f2 136px,#c7e5f8 138px,#d9eefb 141px,#f8fcfe 156px,#feffff 206px,#feffff 211px)"></div>
<div style="background-image:linear-gradient(90deg,#ffffff 1px,#fafdff 49px,#e8f5fd 64px,#dbeffb 82px,#cfeaf9 85px,#c8e6f8 86px,#a7d4f3 88px,#8ac5ed 89px,#62ade5 90px,#4c9bde 91px,#4391da 92px,#4391da 93px,#4e9ddf 94px,#65afe6 95px,#8ec7ee 96px,#a9d5f3 97px,#c8e6f8 99px,#d8eefa 102px,#e0f2fc 112px,#d9eefb 122px,#cce8f9 125px,#b3daf4 127px,#9fd0f1 128px,#5faae4 130px,#4e9ddf 131px,#4898dd 132px,#4d9cde 133px,#5da9e3 134px,#9dcff1 136px,#c1e2f7 138px,#d3ebfa 140px,#edf7fd 150px,#fbfdff 160px,#feffff 211px)"></div>
<div style="background-image:linear-gradient(90deg,#ffffff 1px,#fbfdff 49px,#e8f5fd 65px,#dbeffb 82px,#d0eaf9 85px,#c9e7f8 86px,#aad5f3 88px,#90c8ef 89px,#66b0e6 90px,#4f9ddf 91px,#4392da 92px,#4391da 93px,#4c9bde 94px,#61ace5 95px,#88c4ed 96px,#a6d3f2 97px,#c7e5f8 99px,#d7eefa 102px,#e0f2fc 112px,#daeffb 122px,#cee9f9 125px,#b9ddf6 127px,#a7d4f3 128px,#8fc8ee 129px,#69b2e7 130px,#54a1e0 131px,#4999dd 132px,#4a99dd 133px,#56a3e1 134px,#6db4e7 135px,#93caef 136px,#bbdff6 138px,#c9e6f8 139px,#daeffb 142px,#f8fcfe 157px,#feffff 211px)"></div>
<div style="background-image:linear-gradient(90deg,#ffffff 1px,#fafdff 50px,#e8f5fd 65px,#dcf0fb 82px,#d1eaf9 85px,#bee0f6 87px,#add7f4 88px,#96ccf0 89px,#6bb3e7 90px,#519fe0 91px,#4493da 92px,#4290d9 93px,#4999dd 94px,#5ea9e3 95px,#a2d2f2 97px,#c5e4f7 99px,#d7edfa 102px,#e0f2fc 111px,#dbeffb 122px,#cae7f8 126px,#b0d8f4 128px,#9bcef1 129px,#78baea 130px,#5ba7e3 131px,#4c9bde 132px,#4898dd 133px,#509edf 134px,#61ace4 135px,#a1d1f2 137px,#c4e4f7 139px,#d8eefa 142px,#f8fcfe 157px,#feffff 202px,#feffff 211px)"></div>
<div style="background-image:linear-gradient(90deg,#ffffff 1px,#fafdff 50px,#e8f5fd 65px,#dcf0fb 82px,#cbe8f8 86px,#b0d8f4 88px,#99cdf0 89px,#71b6e8 90px,#54a2e1 91px,#4594db 92px,#4290d9 93px,#4797dc 94px,#5ba7e2 95px,#9fd0f1 97px,#c3e3f7 99px,#d2ebf9 101px,#def1fc 107px,#ddf0fb 121px,#d3ebfa 125px,#c4e4f7 127px,#a4d2f2 129px,#87c3ed 130px,#64aee5 131px,#519fe0 132px,#4898dd 133px,#4b9ade 134px,#59a5e2 135px,#74b8e9 136px,#99cdf0 137px,#bee0f6 139px,#d1ebf9 141px,#e4f3fc 147px,#f9fcff 159px,#feffff 211px)"></div>
<div style="background-image:linear-gradient(90deg,#ffffff 1px,#fafdff 50px,#e8f5fd 65px,#dcf0fb 82px,#cce8f9 86px,#b2d9f4 88px,#9ccff1 89px,#77baea 90px,#58a4e1 91px,#4695dc 92px,#4290d9 93px,#4696dc 94px,#58a4e1 95px,#77bae9 96px,#9ccff1 97px,#b2d9f4 98px,#cce8f9 100px,#dbeffb 104px,#e0f2fc 117px,#d8eefa 124px,#c9e6f8 127px,#acd6f3 129px,#96ccf0 130px,#71b6e8 131px,#58a5e2 132px,#4b9add 133px,#4998dd 134px,#52a0e0 135px,#66b0e6 136px,#8ac5ee 137px,#a5d3f2 138px,#c6e5f8 140px,#d9eefb 143px,#f8fcfe 158px,#feffff 207px,#feffff 211px)"></div>
<div style="background-image:linear-gradient(90deg,#ffffff 1px,#fafdff 50px,#e8f5fd 65px,#dcf0fb 82px,#cde9f9 86px,#b5dbf5 88px,#a0d0f1 89px,#5ba7e2 91px,#4797dc 92px,#4290d9 93px,#4594db 94px,#55a2e1 95px,#71b6e8 96px,#99cdf0 97px,#afd8f4 98px,#cbe7f8 100px,#dbeffb 104px,#e0f2fc 117px,#d6edfa 125px,#cce8f9 127px,#b3daf5 129px,#a0d0f1 130px,#60abe4 132px,#4f9ddf 133px,#4898dd 134px,#4d9cde 135px,#5da8e3 136px,#9dcff1 138px,#c1e2f7 140px,#d2ebf9 142px,#ebf6fd 151px,#fafdff 161px,#feffff 211px)"></div>
<div style="background-image:linear-gradient(90deg,#ffffff 1px,#fafdff 50px,#e8f5fd 65px,#ddf0fb 82px,#cee9f9 86px,#c6e5f8 87px,#a3d2f2 89px,#5eaae4 91px,#4999dd 92px,#4290d9 93px,#4493db 94px,#529fe0 95px,#6cb3e7 96px,#95ccf0 97px,#add6f3 98px,#cae7f8 100px,#daeffb 104px,#e0f2fc 117px,#d8eefa 125px,#c7e6f8 128px,#a8d4f3 130px,#90c9ef 131px,#6bb3e7 132px,#55a2e1 133px,#4a99dd 134px,#4a99dd 135px,#55a2e1 136px,#6cb3e7 137px,#92caef 138px,#a9d5f3 139px,#c8e6f8 141px,#d9effb 144px,#f8fcfe 159px,#feffff 211px)"></div>
<div style="background-image:linear-gradient(90deg,#ffffff 1px,#fafdff 50px,#e8f5fd 65px,#ddf0fb 82px,#cfeaf9 86px,#c7e6f8 87px,#a6d3f2 89px,#89c4ed 90px,#62ace5 91px,#4c9bde 92px,#4391da 93px,#4392da 94px,#4f9ddf 95px,#66b0e6 96px,#90c8ef 97px,#aad5f3 98px,#c9e6f8 100px,#d8eefa 103px,#e1f2fc 113px,#dbeffb 124px,#cbe7f8 128px,#b0d8f4 130px,#9ccff1 131px,#5ca8e3 133px,#4d9cde 134px,#4898dd 135px,#4f9edf 136px,#61ace4 137px,#a1d1f2 139px,#c3e3f7 141px,#d8eefa 144px,#f8fcfe 159px,#feffff 203px,#feffff 211px)"></div>
<div style="background-image:linear-gradient(90deg,#ffffff 1px,#fafdff 50px,#e8f5fd 66px,#dbeffb 83px,#d0eaf9 86px,#c9e6f8 87px,#a9d5f3 89px,#8fc8ee 90px,#65afe6 91px,#4e9ddf 92px,#4392da 93px,#4391da 94px,#4c9bde 95px,#63ade5 96px,#8ac5ee 97px,#a7d4f3 98px,#c7e6f8 100px,#d8eefa 103px,#e1f2fc 113px,#daeffb 125px,#cde9f9 128px,#b7dcf5 130px,#a5d3f2 131px,#89c5ed 132px,#65afe6 133px,#52a0e0 134px,#4998dd 135px,#4b9ade 136px,#58a5e2 137px,#72b7e9 138px,#98cdf0 139px,#bee0f6 141px,#d1ebf9 143px,#e4f3fc 149px,#f9fcff 161px,#feffff 211px)"></div>
<div style="background-image:linear-gradient(90deg,#ffffff 1px,#fbfdff 50px,#e8f5fd 66px,#dcf0fb 83px,#d1eaf9 86px,#bde0f6 88px,#acd6f3 89px,#95cbf0 90px,#6ab2e7 91px,#519fdf 92px,#4493da 93px,#4390d9 94px,#4a99dd 95px,#5faae4 96px,#84c2ec 97px,#a4d2f2 98px,#c6e5f8 100px,#d7eefa 103px,#e1f2fc 113px,#dbeffb 125px,#c9e7f8 129px,#add7f4 131px,#98cdf0 132px,#73b7e9 133px,#59a5e2 134px,#4b9ade 135px,#4998dd 136px,#52a0e0 137px,#65afe6 138px,#89c4ed 139px,#a5d3f2 140px,#c6e5f8 142px,#d9eefa 145px,#f8fcfe 160px,#feffff 209px,#feffff 211px)"></div>
<div style="background-image:linear-gradient(90deg,#ffffff 1px,#fafdff 51px,#e8f5fd 66px,#dcf0fb 83px,#cbe7f8 87px,#afd8f4 89px,#98cdf0 90px,#70b6e8 91px,#54a1e0 92px,#4594db 93px,#4290d9 94px,#4898dd 95px,#5ca8e3 96px,#a0d1f2 98px,#c4e4f7 100px,#d7edfa 103px,#e1f2fc 112px,#dbeffb 125px,#cce8f9 129px,#b4dbf5 131px,#a1d1f2 132px,#61ace4 134px,#509edf 135px,#4898dd 136px,#4d9bde 137px,#5ca8e3 138px,#9ccff1 140px,#c0e2f7 142px,#d2ebf9 144px,#e9f5fd 152px,#fafdff 163px,#feffff 211px)"></div>
<div style="background-image:linear-gradient(90deg,#ffffff 1px,#fafdff 51px,#e8f5fd 66px,#dcf0fb 83px,#cce8f9 87px,#b2d9f4 89px,#9ccff1 90px,#75b9e9 91px,#57a4e1 92px,#4595dc 93px,#4290d9 94px,#4696dc 95px,#59a5e2 96px,#9dcff1 98px,#b3daf4 99px,#cce8f9 101px,#dbeffb 105px,#e1f2fc 119px,#d8eefa 127px,#c8e6f8 130px,#a9d5f3 132px,#92caef 133px,#6cb4e7 134px,#56a3e1 135px,#4a99dd 136px,#4a99dd 137px,#55a2e1 138px,#6ab2e7 139px,#90c9ef 140px,#a9d5f3 141px,#c8e6f8 143px,#d9effb 146px,#f8fcfe 161px,#feffff 211px)"></div>
<div style="background-image:linear-gradient(90deg,#ffffff 1px,#fafdff 51px,#e8f5fd 66px,#dcf0fb 83px,#cde8f9 87px,#b4daf5 89px,#9fd0f1 90px,#5aa6e2 92px,#4797dc 93px,#4290d9 94px,#4595db 95px,#56a3e1 96px,#73b8e9 97px,#9acef1 98px,#b1d8f4 99px,#cbe8f8 101px,#dbeffb 105px,#e1f2fc 119px,#d9eefb 127px,#cbe8f8 130px,#b1d9f4 132px,#9dcff1 133px,#5da9e3 135px,#4e9cde 136px,#4898dd 137px,#4f9ddf 138px,#60abe4 139px,#a0d1f2 141px,#c3e3f7 143px,#d8eefa 146px,#f8fcfe 161px,#feffff 205px,#feffff 211px)"></div>
<div style="background-image:linear-gradient(90deg,#ffffff 1px,#fafdff 51px,#e8f5fd 66px,#ddf0fb 83px,#cee9f9 87px,#c5e4f8 88px,#a2d1f2 90px,#5da9e3 92px,#4998dd 93px,#4290d9 94px,#4493db 95px,#53a0e0 96px,#6eb5e8 97px,#97cdf0 98px,#aed7f4 99px,#cae7f8 101px,#dbeffb 105px,#e1f2fc 119px,#d7eefa 128px,#c6e5f8 131px,#a6d3f2 133px,#8bc6ee 134px,#67b0e6 135px,#53a1e0 136px,#4999dd 137px,#4b9ade 138px,#58a4e2 139px,#71b6e8 140px,#96ccf0 141px,#bde0f6 143px,#d1eaf9 145px,#e3f3fc 151px,#f9fcff 163px,#feffff 211px)"></div>
<div style="background-image:linear-gradient(90deg,#ffffff 1px,#fafdff 51px,#e8f5fd 66px,#ddf0fb 83px,#cfe9f9 87px,#c7e5f8 88px,#a5d3f2 90px,#87c3ed 91px,#60abe4 92px,#4b9ade 93px,#4391da 94px,#4492da 95px,#509edf 96px,#69b2e7 97px,#93caef 98px,#abd6f3 99px,#c9e7f8 101px,#d8eefa 104px,#e1f2fc 115px,#dbeffb 127px,#cae7f8 131px,#aed7f4 133px,#99cdf0 134px,#75b9e9 135px,#5aa6e2 136px,#4c9bde 137px,#4998dd 138px,#519fe0 139px,#64aee5 140px,#87c3ed 141px,#a4d2f2 142px,#c5e4f8 144px,#d9eefa 147px,#f8fcfe 162px,#feffff 210px,#feffff 211px)"></div>
<div style="background-image:linear-gradient(90deg,#ffffff 1px,#fafdff 51px,#e8f5fd 66px,#dbeffb 84px,#d0eaf9 87px,#c8e6f8 88px,#a8d4f3 90px,#8cc6ee 91px,#64aee5 92px,#4d9cde 93px,#4391da 94px,#4392da 95px,#4e9cde 96px,#64afe5 97px,#8dc7ee 98px,#a8d4f3 99px,#c8e6f8 101px,#d8eefa 104px,#e2f2fc 115px,#dcf0fb 127px,#cde8f9 131px,#b5dbf5 133px,#a2d2f2 134px,#62ade5 136px,#509edf 137px,#4998dd 138px,#4c9bde 139px,#5ba7e3 140px,#77baea 141px,#9bcef1 142px,#c0e1f7 144px,#d2ebf9 146px,#e8f5fd 154px,#fafdff 165px,#feffff 211px)"></div>
<div style="background-image:linear-gradient(90deg,#ffffff 1px,#fbfdff 51px,#e8f5fd 67px,#dbeffb 84px,#d0eaf9 87px,#bddff6 89px,#abd6f3 90px,#92caef 91px,#68b1e6 92px,#509edf 93px,#4492da 94px,#4391da 95px,#4b9ade 96px,#61ace4 97px,#87c3ed 98px,#a5d3f2 99px,#c7e5f8 101px,#d8eefa 104px,#e1f2fc 114px,#dcf0fb 127px,#cfeaf9 131px,#bbdff6 133px,#94cbf0 135px,#6fb5e8 136px,#57a4e1 137px,#4a9add 138px,#4999dd 139px,#54a1e0 140px,#69b2e7 141px,#8ec8ee 142px,#a8d4f3 143px,#c8e6f8 145px,#d9eefb 148px,#f8fcfe 163px,#feffff 211px)"></div>
<div style="background-image:linear-gradient(90deg,#ffffff 1px,#fafdff 52px,#e8f5fd 67px,#dcf0fb 84px,#d1ebf9 87px,#bfe1f6 89px,#aed7f4 90px,#97ccf0 91px,#6db4e8 92px,#53a0e0 93px,#4493db 94px,#4390d9 95px,#4999dd 96px,#5ea9e3 97px,#a2d2f2 99px,#c5e4f7 101px,#d7eefa 104px,#e1f2fc 114px,#dbeffb 128px,#cce8f9 132px,#b2d9f4 134px,#9ed0f1 135px,#5faae4 137px,#4e9ddf 138px,#4898dd 139px,#4e9ddf 140px,#5faae4 141px,#9fd0f1 143px,#c2e3f7 145px,#d3ebfa 147px,#f0f8fe 158px,#fcfdff 169px,#feffff 211px)"></div>
<div style="background-image:linear-gradient(90deg,#ffffff 1px,#fafdff 52px,#e8f5fd 67px,#dcf0fb 84px,#cce8f9 88px,#b1d8f4 90px,#9acef1 91px,#73b7e9 92px,#55a3e1 93px,#4595db 94px,#4290d9 95px,#4797dc 96px,#5ba7e2 97px,#9fd0f1 99px,#c3e3f7 101px,#d3ebfa 103px,#dff1fc 109px,#dff1fc 125px,#d4ecfa 131px,#c7e5f8 133px,#a7d4f3 135px,#8ec7ee 136px,#69b1e6 137px,#54a1e0 138px,#4999dd 139px,#4b9add 140px,#57a4e1 141px,#6fb5e8 142px,#95cbf0 143px,#bcdff6 145px,#d1eaf9 147px,#e1f2fc 152px,#f9fcff 165px,#feffff 211px)"></div>
<div style="background-image:linear-gradient(90deg,#ffffff 1px,#fafdff 52px,#e8f5fd 67px,#dcf0fb 84px,#cde8f9 88px,#b3daf4 90px,#9dcff1 91px,#58a5e2 93px,#4696dc 94px,#4290d9 95px,#4696dc 96px,#58a4e1 97px,#77bae9 98px,#9ccff1 99px,#b2d9f4 100px,#cce8f9 102px,#dbeffb 106px,#e2f2fc 121px,#d9eefb 130px,#cae7f8 133px,#afd8f4 135px,#9acef1 136px,#77baea 137px,#5ba7e3 138px,#4d9bde 139px,#4998dd 140px,#519fdf 141px,#62ade5 142px,#a3d2f2 144px,#c5e4f7 146px,#d8eefa 149px,#f8fcfe 164px,#feffff 210px,#feffff 211px)"></div>
<div style="background-image:linear-gradient(90deg,#ffffff 1px,#fafdff 52px,#e8f5fd 67px,#dcf0fb 84px,#cde9f9 88px,#b5dbf5 90px,#a0d1f2 91px,#5ba7e3 93px,#4898dd 94px,#4290d9 95px,#4594db 96px,#55a2e1 97px,#71b7e8 98px,#99cdf0 99px,#b0d8f4 100px,#cbe7f8 102px,#dbeffb 106px,#e2f2fc 121px,#daeffb 130px,#cde9f9 133px,#b6dcf5 135px,#a3d2f2 136px,#87c3ed 137px,#64aee5 138px,#519fe0 139px,#4998dd 140px,#4c9bde 141px,#5aa6e2 142px,#75b9e9 143px,#9acef1 144px,#bfe1f6 146px,#d2ebf9 148px,#e6f4fd 155px,#fafcff 166px,#feffff 211px)"></div>
<div style="background-image:linear-gradient(90deg,#ffffff 1px,#fafdff 52px,#e8f5fd 67px,#ddf0fb 84px,#cee9f9 88px,#c6e5f8 89px,#a3d2f2 91px,#84c1ec 92px,#5faae4 93px,#4a99dd 94px,#4391d9 95px,#4493db 96px,#52a0e0 97px,#6cb3e7 98px,#96ccf0 99px,#add7f4 100px,#cae7f8 102px,#d9eefa 105px,#e2f2fc 117px,#dbeffb 130px,#d0eaf9 133px,#bcdff6 135px,#96ccf0 137px,#71b6e8 138px,#58a5e2 139px,#4b9ade 140px,#4999dd 141px,#53a1e0 142px,#67b0e6 143px,#8cc6ee 144px,#a6d4f3 145px,#c7e5f8 147px,#d9eefb 150px,#f8fcfe 165px,#feffff 211px)"></div>
<div style="background-image:linear-gradient(90deg,#ffffff 1px,#fafdff 52px,#e8f5fd 67px,#ddf0fb 84px,#cfeaf9 88px,#c8e6f8 89px,#a6d4f3 91px,#89c5ed 92px,#62ade5 93px,#4c9bde 94px,#4391da 95px,#4492da 96px,#4f9edf 97px,#67b1e6 98px,#91c9ef 99px,#aad5f3 100px,#c9e6f8 102px,#d8eefa 105px,#e2f2fc 116px,#dcf0fb 130px,#cce8f9 134px,#b4daf5 136px,#a0d0f1 137px,#60abe4 139px,#4f9ddf 140px,#4998dd 141px,#4e9cde 142px,#5ea9e3 143px,#9dcff1 145px,#c1e2f7 147px,#d3ebfa 149px,#edf7fd 159px,#fbfdff 169px,#feffff 211px)"></div>
<div style="background-image:linear-gradient(90deg,#ffffff 1px,#fbfdff 52px,#e8f5fd 68px,#dbeffb 85px,#d0eaf9 88px,#c9e6f8 89px,#a9d5f3 91px,#8fc8ef 92px,#65afe6 93px,#4e9ddf 94px,#4392da 95px,#4391da 96px,#4d9cde 97px,#63aee5 98px,#8bc6ee 99px,#a7d4f3 100px,#c8e6f8 102px,#d8eefa 105px,#e2f2fc 116px,#dcf0fb 130px,#cfe9f9 134px,#c7e6f8 135px,#a8d5f3 137px,#91c9ef 138px,#6bb3e7 139px,#55a2e1 140px,#4a99dd 141px,#4a99dd 142px,#56a3e1 143px,#6db4e7 144px,#93caef 145px,#bbdff6 147px,#c9e6f8 148px,#daeffb 151px,#f9fcff 166px,#feffff 211px)"></div>
<div style="background-image:linear-gradient(90deg,#ffffff 1px,#fbfdff 52px,#e8f5fd 68px,#dcf0fb 85px,#d1eaf9 88px,#bde0f6 90px,#acd6f3 91px,#94cbf0 92px,#6ab2e7 93px,#519fdf 94px,#4493db 95px,#4391da 96px,#4b9ade 97px,#60abe4 98px,#86c2ed 99px,#a4d3f2 100px,#c6e5f8 102px,#d8eefa 105px,#e2f2fc 115px,#ddf0fb 130px,#d1ebf9 134px,#c0e1f7 136px,#9ccff1 138px,#5da8e3 140px,#4d9cde 141px,#4998dd 142px,#509edf 143px,#61ace5 144px,#a1d1f2 146px,#c4e4f7 148px,#d8eefa 151px,#f8fcfe 166px,#feffff 211px)"></div>
<div style="background-image:linear-gradient(90deg,#ffffff 1px,#fafdff 53px,#e8f5fd 68px,#dcf0fb 85px,#cbe7f8 89px,#afd8f4 91px,#98cdf0 92px,#6fb5e8 93px,#54a1e0 94px,#4594db 95px,#4391d9 96px,#4998dd 97px,#5da9e3 98px,#a1d1f2 100px,#c5e4f7 102px,#d7eefa 105px,#e2f2fc 115px,#def0fb 130px,#d3ecfa 134px,#c5e5f8 136px,#a5d3f2 138px,#8ac5ed 139px,#66afe6 140px,#52a0e0 141px,#4999dd 142px,#4c9bde 143px,#59a5e2 144px,#73b8e9 145px,#98cdf0 146px,#bee0f6 148px,#d1ebf9 150px,#e4f3fc 156px,#f9fcff 168px,#feffff 211px)"></div>
<div style="background-image:linear-gradient(90deg,#ffffff 1px,#fafdff 53px,#e8f5fd 68px,#dcf0fb 85px,#cce8f9 89px,#b1d9f4 91px,#9bcef1 92px,#75b9e9 93px,#56a3e1 94px,#4695dc 95px,#4290d9 96px,#4797dc 97px,#5aa6e2 98px,#9ed0f1 100px,#c3e3f7 102px,#d3ebfa 104px,#dff1fc 110px,#e1f2fc 127px,#d5edfa 134px,#cae7f8 136px,#aed7f4 138px,#98cdf0 139px,#74b8e9 140px,#59a6e2 141px,#4c9bde 142px,#4999dd 143px,#52a0e0 144px,#65afe6 145px,#8ac5ed 146px,#a5d3f2 147px,#c6e5f8 149px,#d9eefb 152px,#f8fcfe 167px,#feffff 211px)"></div>
<div style="background-image:linear-gradient(90deg,#ffffff 1px,#fafdff 53px,#e8f5fd 68px,#dcf0fb 85px,#cde8f9 89px,#b4daf5 91px,#9ed0f1 92px,#59a6e2 94px,#4797dc 95px,#4290d9 96px,#4695dc 97px,#57a4e1 98px,#76b9e9 99px,#9ccff1 100px,#b1d9f4 101px,#cce8f9 103px,#dbeffb 107px,#e3f3fc 122px,#daeffb 133px,#cde8f9 136px,#b5dbf5 138px,#a1d1f2 139px,#62ace5 141px,#509edf 142px,#4998dd 143px,#4d9cde 144px,#5ca8e3 145px,#9ccff1 147px,#c1e2f7 149px,#d2ebf9 151px,#ebf6fd 160px,#fafdff 170px,#feffff 211px)"></div>
<div style="background-image:linear-gradient(90deg,#ffffff 1px,#fafdff 53px,#e8f5fd 68px,#ddf0fb 85px,#cee9f9 89px,#c5e4f7 90px,#a1d1f2 92px,#5ca8e3 94px,#4998dd 95px,#4391d9 96px,#4594db 97px,#54a2e0 98px,#70b6e8 99px,#99cdf0 100px,#afd8f4 101px,#cbe7f8 103px,#dbeffb 107px,#e3f3fc 122px,#dbeffb 133px,#cfeaf9 136px,#bbdef6 138px,#93caef 140px,#6db4e8 141px,#56a3e1 142px,#4b9add 143px,#4a99dd 144px,#55a2e1 145px,#6bb3e7 146px,#91c9ef 147px,#a9d5f3 148px,#c8e6f8 150px,#d9effb 153px,#f8fcfe 168px,#feffff 211px)"></div>
<div style="background-image:linear-gradient(90deg,#ffffff 1px,#fafdff 53px,#e8f5fd 68px,#ddf0fb 85px,#cfe9f9 89px,#c6e5f8 90px,#a4d2f2 92px,#85c2ec 93px,#5fabe4 94px,#4b9add 95px,#4391da 96px,#4493db 97px,#529fe0 98px,#6bb3e7 99px,#95ccf0 100px,#acd6f3 101px,#cae7f8 103px,#d9eefa 106px,#e3f3fc 118px,#dcf0fb 133px,#cce8f9 137px,#b2d9f4 139px,#9ed0f1 140px,#5eaae4 142px,#4e9ddf 143px,#4998dd 144px,#4f9ddf 145px,#60abe4 146px,#a0d1f2 148px,#c3e3f7 150px,#d8eefa 153px,#f8fcfe 168px,#feffff 211px)"></div>
<div style="background-image:linear-gradient(90deg,#ffffff 1px,#fafdff 53px,#e8f5fd 68px,#ddf0fb 85px,#cfeaf9 89px,#c8e6f8 90px,#a7d4f3 92px,#8ac5ee 93px,#63ade5 94px,#4d9bde 95px,#4391da 96px,#4492da 97px,#4f9ddf 98px,#66b0e6 99px,#90c9ef 100px,#aad5f3 101px,#c9e6f8 103px,#d8eefa 106px,#e3f3fc 117px,#dcf0fb 133px,#cee9f9 137px,#c6e5f8 138px,#a7d4f3 140px,#8dc7ee 141px,#68b1e6 142px,#54a1e0 143px,#4a99dd 144px,#4b9ade 145px,#58a4e2 146px,#71b6e8 147px,#96ccf0 148px,#bde0f6 150px,#d1eaf9 152px,#e4f3fc 158px,#f9fcff 170px,#feffff 211px)"></div>
<div style="background-image:linear-gradient(90deg,#ffffff 1px,#fbfdff 53px,#e8f5fd 69px,#dbeffb 86px,#d0eaf9 89px,#c9e7f8 90px,#aad5f3 92px,#90c8ef 93px,#66b0e6 94px,#4f9ddf 95px,#4492da 96px,#4392da 97px,#4d9cde 98px,#63aee5 99px,#8bc5ee 100px,#a7d4f3 101px,#c8e6f8 103px,#d8eefa 106px,#e3f3fc 117px,#ddf0fb 133px,#d1eaf9 137px,#bfe1f6 139px,#9acef1 141px,#77bae9 142px,#5ba7e3 143px,#4d9bde 144px,#4998dd 145px,#519fe0 146px,#63aee5 147px,#87c3ed 148px,#a3d2f2 149px,#c5e4f8 151px,#d9eefa 154px,#f8fcfe 169px,#feffff 211px)"></div>
<div style="background-image:linear-gradient(90deg,#ffffff 1px,#fbfdff 53px,#e8f5fd 69px,#dcf0fb 86px,#d1eaf9 89px,#bee0f6 91px,#add6f3 92px,#95cbf0 93px,#6bb3e7 94px,#519fe0 95px,#4493db 96px,#4391da 97px,#4b9ade 98px,#60abe4 99px,#85c2ed 100px,#a4d3f2 101px,#c6e5f8 103px,#d8eefa 106px,#e2f3fc 116px,#def0fb 133px,#d3ecfa 137px,#c4e4f7 139px,#a3d2f2 141px,#86c3ed 142px,#63aee5 143px,#519fe0 144px,#4999dd 145px,#4d9bde 146px,#5ba7e3 147px,#77baea 148px,#9acef1 149px,#c0e1f7 151px,#d2ebf9 153px,#e6f4fd 160px,#fafdff 171px,#feffff 211px)"></div>
<div style="background-image:linear-gradient(90deg,#ffffff 1px,#fafdff 54px,#e8f5fd 69px,#dcf0fb 86px,#cbe8f8 90px,#afd8f4 92px,#99cdf0 93px,#70b6e8 94px,#54a1e0 95px,#4594db 96px,#4391d9 97px,#4998dd 98px,#5da9e3 99px,#a1d1f2 101px,#c5e4f7 103px,#d7eefa 106px,#e2f3fc 116px,#def1fb 133px,#d0eaf9 138px,#bcdff6 140px,#96ccf0 142px,#70b6e8 143px,#58a4e2 144px,#4b9ade 145px,#4a99dd 146px,#54a1e0 147px,#68b1e6 148px,#8ec7ee 149px,#a7d4f3 150px,#c7e6f8 152px,#d9eefb 155px,#f8fcfe 170px,#feffff 211px)"></div>
<div style="background-image:linear-gradient(90deg,#ffffff 1px,#fafdff 54px,#e8f5fd 69px,#dcf0fb 86px,#cce8f9 90px,#b2d9f4 92px,#9bcff1 93px,#75b9e9 94px,#57a4e1 95px,#4695dc 96px,#4390d9 97px,#4797dc 98px,#5aa6e2 99px,#9ed0f1 101px,#c3e3f7 103px,#d3ebfa 105px,#dff1fc 111px,#e2f2fc 129px,#d7edfa 137px,#cce8f9 139px,#b3daf5 141px,#a0d0f1 142px,#60abe4 144px,#4f9ddf 145px,#4998dd 146px,#4e9ddf 147px,#5eaae4 148px,#9ed0f1 150px,#c2e2f7 152px,#d3ebfa 154px,#f0f8fe 165px,#fcfdff 176px,#feffff 211px)"></div>
<div style="background-image:linear-gradient(90deg,#ffffff 1px,#fafdff 54px,#e8f5fd 69px,#dcf0fb 86px,#cde8f9 90px,#b4daf5 92px,#9ed0f1 93px,#5aa6e2 95px,#4797dc 96px,#4390d9 97px,#4696dc 98px,#57a4e1 99px,#76b9e9 100px,#9ccff1 101px,#b2d9f4 102px,#cce8f9 104px,#dcf0fb 108px,#e3f3fc 124px,#dbeffb 136px,#cfe9f9 139px,#c7e6f8 140px,#a8d4f3 142px,#90c9ef 143px,#6bb3e7 144px,#55a2e1 145px,#4a99dd 146px,#4b9add 147px,#57a3e1 148px,#6eb5e8 149px,#94cbef 150px,#bcdff6 152px,#d0eaf9 154px,#e1f2fc 159px,#f9fcff 172px,#feffff 211px)"></div>
<div style="background-image:linear-gradient(90deg,#ffffff 1px,#fafdff 54px,#e8f5fd 69px,#ddf0fb 86px,#cee9f9 90px,#c5e4f7 91px,#a1d1f2 93px,#5da8e3 95px,#4998dd 96px,#4391da 97px,#4594db 98px,#54a2e1 99px,#71b6e8 100px,#99cdf0 101px,#afd8f4 102px,#cbe7f8 104px,#dbeffb 108px,#e3f3fc 124px,#dcf0fb 136px,#cbe7f8 140px,#b1d8f4 142px,#9ccff1 143px,#5da8e3 145px,#4d9cde 146px,#4998dd 147px,#509edf 148px,#62ade5 149px,#a2d1f2 151px,#c4e4f7 153px,#d8eefa 156px,#f8fcfe 171px,#feffff 211px)"></div>
<div style="background-image:linear-gradient(90deg,#ffffff 1px,#fafdff 54px,#e8f5fd 69px,#ddf0fb 86px,#cfe9f9 90px,#c6e5f8 91px,#a4d2f2 93px,#85c2ec 94px,#60abe4 95px,#4b9add 96px,#4391da 97px,#4493db 98px,#52a0e0 99px,#6cb3e7 100px,#96ccf0 101px,#add6f3 102px,#cae7f8 104px,#d9eefb 107px,#e3f3fc 119px,#def1fb 135px,#d4ecfa 139px,#c6e5f8 141px,#a5d3f2 143px,#8ac5ed 144px,#66b0e6 145px,#53a0e0 146px,#4999dd 147px,#4c9bde 148px,#59a6e2 149px,#74b8e9 150px,#99cdf0 151px,#bee0f6 153px,#d1ebf9 155px,#e4f3fc 161px,#fafcff 173px,#feffff 211px)"></div>
</div>
<svg width="550" height="871" viewBox="0 0 550 871">
<g fill="#000">
<path fill-rule="evenodd" d="M79.80 65.40H299.75V285.80H79.80Z M82.80 67.90V283.30H296.75V67.90Z"/>
<rect x="81.80" y="82.27" width="4.80" height="3.00"/>
<rect x="292.95" y="82.27" width="4.80" height="3.00"/>
<rect x="81.80" y="100.63" width="9.30" height="3.00"/>
<rect x="288.45" y="100.63" width="9.30" height="3.00"/>
<rect x="81.80" y="119.00" width="4.80" height="3.00"/>
<rect x="292.95" y="119.00" width="4.80" height="3.00"/>
<rect x="81.80" y="137.37" width="9.30" height="3.00"/>
<rect x="288.45" y="137.37" width="9.30" height="3.00"/>
<rect x="81.80" y="155.73" width="4.80" height="3.00"/>
<rect x="292.95" y="155.73" width="4.80" height="3.00"/>
<rect x="81.80" y="174.10" width="9.30" height="3.00"/>
<rect x="288.45" y="174.10" width="9.30" height="3.00"/>
<rect x="81.80" y="192.47" width="4.80" height="3.00"/>
<rect x="292.95" y="192.47" width="4.80" height="3.00"/>
<rect x="81.80" y="210.83" width="9.30" height="3.00"/>
<rect x="288.45" y="210.83" width="9.30" height="3.00"/>
<rect x="81.80" y="229.20" width="4.80" height="3.00"/>
<rect x="292.95" y="229.20" width="4.80" height="3.00"/>
<rect x="81.80" y="247.57" width="9.30" height="3.00"/>
<rect x="288.45" y="247.57" width="9.30" height="3.00"/>
<rect x="81.80" y="265.93" width="4.80" height="3.00"/>
<rect x="292.95" y="265.93" width="4.80" height="3.00"/>
<rect x="101.29" y="66.90" width="3.00" height="4.30"/>
<rect x="100.29" y="280.00" width="3.00" height="4.30"/>
<rect x="123.29" y="66.90" width="3.00" height="8.00"/>
<rect x="122.29" y="276.30" width="3.00" height="8.00"/>
<rect x="145.28" y="66.90" width="3.00" height="4.30"/>
<rect x="144.28" y="280.00" width="3.00" height="4.30"/>
<rect x="167.28" y="66.90" width="3.00" height="8.00"/>
<rect x="166.28" y="276.30" width="3.00" height="8.00"/>
<rect x="189.27" y="66.90" width="3.00" height="4.30"/>
<rect x="188.27" y="280.00" width="3.00" height="4.30"/>
<rect x="211.27" y="66.90" width="3.00" height="8.00"/>
<rect x="210.27" y="276.30" width="3.00" height="8.00"/>
<rect x="233.26" y="66.90" width="3.00" height="4.30"/>
<rect x="232.26" y="280.00" width="3.00" height="4.30"/>
<rect x="255.26" y="66.90" width="3.00" height="8.00"/>
<rect x="254.26" y="276.30" width="3.00" height="8.00"/>
<rect x="277.25" y="66.90" width="3.00" height="4.30"/>
<rect x="276.25" y="280.00" width="3.00" height="4.30"/>
<path fill-rule="evenodd" d="M78.70 324.30H299.00V544.60H78.70Z M81.70 326.80V542.10H296.00V326.80Z"/>
<rect x="80.70" y="341.16" width="4.80" height="3.00"/>
<rect x="292.20" y="341.16" width="4.80" height="3.00"/>
<rect x="80.70" y="359.52" width="9.30" height="3.00"/>
<rect x="287.70" y="359.52" width="9.30" height="3.00"/>
<rect x="80.70" y="377.88" width="4.80" height="3.00"/>
<rect x="292.20" y="377.88" width="4.80" height="3.00"/>
<rect x="80.70" y="396.23" width="9.30" height="3.00"/>
<rect x="287.70" y="396.23" width="9.30" height="3.00"/>
<rect x="80.70" y="414.59" width="4.80" height="3.00"/>
<rect x="292.20" y="414.59" width="4.80" height="3.00"/>
<rect x="80.70" y="432.95" width="9.30" height="3.00"/>
<rect x="287.70" y="432.95" width="9.30" height="3.00"/>
<rect x="80.70" y="451.31" width="4.80" height="3.00"/>
<rect x="292.20" y="451.31" width="4.80" height="3.00"/>
<rect x="80.70" y="469.67" width="9.30" height="3.00"/>
<rect x="287.70" y="469.67" width="9.30" height="3.00"/>
<rect x="80.70" y="488.02" width="4.80" height="3.00"/>
<rect x="292.20" y="488.02" width="4.80" height="3.00"/>
<rect x="80.70" y="506.38" width="9.30" height="3.00"/>
<rect x="287.70" y="506.38" width="9.30" height="3.00"/>
<rect x="80.70" y="524.74" width="4.80" height="3.00"/>
<rect x="292.20" y="524.74" width="4.80" height="3.00"/>
<rect x="100.23" y="325.80" width="3.00" height="4.30"/>
<rect x="99.23" y="538.80" width="3.00" height="4.30"/>
<rect x="122.26" y="325.80" width="3.00" height="8.00"/>
<rect x="121.26" y="535.10" width="3.00" height="8.00"/>
<rect x="144.29" y="325.80" width="3.00" height="4.30"/>
<rect x="143.29" y="538.80" width="3.00" height="4.30"/>
<rect x="166.32" y="325.80" width="3.00" height="8.00"/>
<rect x="165.32" y="535.10" width="3.00" height="8.00"/>
<rect x="188.35" y="325.80" width="3.00" height="4.30"/>
<rect x="187.35" y="538.80" width="3.00" height="4.30"/>
<rect x="210.38" y="325.80" width="3.00" height="8.00"/>
<rect x="209.38" y="535.10" width="3.00" height="8.00"/>
<rect x="232.41" y="325.80" width="3.00" height="4.30"/>
<rect x="231.41" y="538.80" width="3.00" height="4.30"/>
<rect x="254.44" y="325.80" width="3.00" height="8.00"/>
<rect x="253.44" y="535.10" width="3.00" height="8.00"/>
<rect x="276.47" y="325.80" width="3.00" height="4.30"/>
<rect x="275.47" y="538.80" width="3.00" height="4.30"/>
<path fill-rule="evenodd" d="M78.90 585.10H298.80V804.70H78.90Z M81.90 587.60V802.20H295.80V587.60Z"/>
<rect x="80.90" y="601.90" width="4.80" height="3.00"/>
<rect x="292.00" y="601.90" width="4.80" height="3.00"/>
<rect x="80.90" y="620.20" width="9.30" height="3.00"/>
<rect x="287.50" y="620.20" width="9.30" height="3.00"/>
<rect x="80.90" y="638.50" width="4.80" height="3.00"/>
<rect x="292.00" y="638.50" width="4.80" height="3.00"/>
<rect x="80.90" y="656.80" width="9.30" height="3.00"/>
<rect x="287.50" y="656.80" width="9.30" height="3.00"/>
<rect x="80.90" y="675.10" width="4.80" height="3.00"/>
<rect x="292.00" y="675.10" width="4.80" height="3.00"/>
<rect x="80.90" y="693.40" width="9.30" height="3.00"/>
<rect x="287.50" y="693.40" width="9.30" height="3.00"/>
<rect x="80.90" y="711.70" width="4.80" height="3.00"/>
<rect x="292.00" y="711.70" width="4.80" height="3.00"/>
<rect x="80.90" y="730.00" width="9.30" height="3.00"/>
<rect x="287.50" y="730.00" width="9.30" height="3.00"/>
<rect x="80.90" y="748.30" width="4.80" height="3.00"/>
<rect x="292.00" y="748.30" width="4.80" height="3.00"/>
<rect x="80.90" y="766.60" width="9.30" height="3.00"/>
<rect x="287.50" y="766.60" width="9.30" height="3.00"/>
<rect x="80.90" y="784.90" width="4.80" height="3.00"/>
<rect x="292.00" y="784.90" width="4.80" height="3.00"/>
<rect x="100.39" y="586.60" width="3.00" height="4.30"/>
<rect x="99.39" y="798.90" width="3.00" height="4.30"/>
<rect x="122.38" y="586.60" width="3.00" height="8.00"/>
<rect x="121.38" y="795.20" width="3.00" height="8.00"/>
<rect x="144.37" y="586.60" width="3.00" height="4.30"/>
<rect x="143.37" y="798.90" width="3.00" height="4.30"/>
<rect x="166.36" y="586.60" width="3.00" height="8.00"/>
<rect x="165.36" y="795.20" width="3.00" height="8.00"/>
<rect x="188.35" y="586.60" width="3.00" height="4.30"/>
<rect x="187.35" y="798.90" width="3.00" height="4.30"/>
<rect x="210.34" y="586.60" width="3.00" height="8.00"/>
<rect x="209.34" y="795.20" width="3.00" height="8.00"/>
<rect x="232.33" y="586.60" width="3.00" height="4.30"/>
<rect x="231.33" y="798.90" width="3.00" height="4.30"/>
<rect x="254.32" y="586.60" width="3.00" height="8.00"/>
<rect x="253.32" y="795.20" width="3.00" height="8.00"/>
<rect x="276.31" y="586.60" width="3.00" height="4.30"/>
<rect x="275.31" y="798.90" width="3.00" height="4.30"/>
<path fill-rule="evenodd" d="M324.00 65.90H544.00V285.80H324.00Z M327.00 68.40V283.30H541.00V68.40Z"/>
<rect x="326.00" y="82.73" width="4.80" height="3.00"/>
<rect x="537.20" y="82.73" width="4.80" height="3.00"/>
<rect x="326.00" y="101.05" width="9.30" height="3.00"/>
<rect x="532.70" y="101.05" width="9.30" height="3.00"/>
<rect x="326.00" y="119.38" width="4.80" height="3.00"/>
<rect x="537.20" y="119.38" width="4.80" height="3.00"/>
<rect x="326.00" y="137.70" width="9.30" height="3.00"/>
<rect x="532.70" y="137.70" width="9.30" height="3.00"/>
<rect x="326.00" y="156.03" width="4.80" height="3.00"/>
<rect x="537.20" y="156.03" width="4.80" height="3.00"/>
<rect x="326.00" y="174.35" width="9.30" height="3.00"/>
<rect x="532.70" y="174.35" width="9.30" height="3.00"/>
<rect x="326.00" y="192.68" width="4.80" height="3.00"/>
<rect x="537.20" y="192.68" width="4.80" height="3.00"/>
<rect x="326.00" y="211.00" width="9.30" height="3.00"/>
<rect x="532.70" y="211.00" width="9.30" height="3.00"/>
<rect x="326.00" y="229.33" width="4.80" height="3.00"/>
<rect x="537.20" y="229.33" width="4.80" height="3.00"/>
<rect x="326.00" y="247.65" width="9.30" height="3.00"/>
<rect x="532.70" y="247.65" width="9.30" height="3.00"/>
<rect x="326.00" y="265.98" width="4.80" height="3.00"/>
<rect x="537.20" y="265.98" width="4.80" height="3.00"/>
<rect x="344.90" y="67.40" width="3.00" height="4.30"/>
<rect x="344.50" y="280.00" width="3.00" height="4.30"/>
<rect x="366.90" y="67.40" width="3.00" height="8.00"/>
<rect x="366.50" y="276.30" width="3.00" height="8.00"/>
<rect x="388.90" y="67.40" width="3.00" height="4.30"/>
<rect x="388.50" y="280.00" width="3.00" height="4.30"/>
<rect x="410.90" y="67.40" width="3.00" height="8.00"/>
<rect x="410.50" y="276.30" width="3.00" height="8.00"/>
<rect x="432.90" y="67.40" width="3.00" height="4.30"/>
<rect x="432.50" y="280.00" width="3.00" height="4.30"/>
<rect x="454.90" y="67.40" width="3.00" height="8.00"/>
<rect x="454.50" y="276.30" width="3.00" height="8.00"/>
<rect x="476.90" y="67.40" width="3.00" height="4.30"/>
<rect x="476.50" y="280.00" width="3.00" height="4.30"/>
<rect x="498.90" y="67.40" width="3.00" height="8.00"/>
<rect x="498.50" y="276.30" width="3.00" height="8.00"/>
<rect x="520.90" y="67.40" width="3.00" height="4.30"/>
<rect x="520.50" y="280.00" width="3.00" height="4.30"/>
<path fill-rule="evenodd" d="M323.80 324.00H543.90V544.50H323.80Z M326.80 326.50V542.00H540.90V326.50Z"/>
<rect x="325.80" y="340.88" width="4.80" height="3.00"/>
<rect x="537.10" y="340.88" width="4.80" height="3.00"/>
<rect x="325.80" y="359.25" width="9.30" height="3.00"/>
<rect x="532.60" y="359.25" width="9.30" height="3.00"/>
<rect x="325.80" y="377.62" width="4.80" height="3.00"/>
<rect x="537.10" y="377.62" width="4.80" height="3.00"/>
<rect x="325.80" y="396.00" width="9.30" height="3.00"/>
<rect x="532.60" y="396.00" width="9.30" height="3.00"/>
<rect x="325.80" y="414.38" width="4.80" height="3.00"/>
<rect x="537.10" y="414.38" width="4.80" height="3.00"/>
<rect x="325.80" y="432.75" width="9.30" height="3.00"/>
<rect x="532.60" y="432.75" width="9.30" height="3.00"/>
<rect x="325.80" y="451.12" width="4.80" height="3.00"/>
<rect x="537.10" y="451.12" width="4.80" height="3.00"/>
<rect x="325.80" y="469.50" width="9.30" height="3.00"/>
<rect x="532.60" y="469.50" width="9.30" height="3.00"/>
<rect x="325.80" y="487.88" width="4.80" height="3.00"/>
<rect x="537.10" y="487.88" width="4.80" height="3.00"/>
<rect x="325.80" y="506.25" width="9.30" height="3.00"/>
<rect x="532.60" y="506.25" width="9.30" height="3.00"/>
<rect x="325.80" y="524.62" width="4.80" height="3.00"/>
<rect x="537.10" y="524.62" width="4.80" height="3.00"/>
<rect x="344.71" y="325.50" width="3.00" height="4.30"/>
<rect x="344.31" y="538.70" width="3.00" height="4.30"/>
<rect x="366.72" y="325.50" width="3.00" height="8.00"/>
<rect x="366.32" y="535.00" width="3.00" height="8.00"/>
<rect x="388.73" y="325.50" width="3.00" height="4.30"/>
<rect x="388.33" y="538.70" width="3.00" height="4.30"/>
<rect x="410.74" y="325.50" width="3.00" height="8.00"/>
<rect x="410.34" y="535.00" width="3.00" height="8.00"/>
<rect x="432.75" y="325.50" width="3.00" height="4.30"/>
<rect x="432.35" y="538.70" width="3.00" height="4.30"/>
<rect x="454.76" y="325.50" width="3.00" height="8.00"/>
<rect x="454.36" y="535.00" width="3.00" height="8.00"/>
<rect x="476.77" y="325.50" width="3.00" height="4.30"/>
<rect x="476.37" y="538.70" width="3.00" height="4.30"/>
<rect x="498.78" y="325.50" width="3.00" height="8.00"/>
<rect x="498.38" y="535.00" width="3.00" height="8.00"/>
<rect x="520.79" y="325.50" width="3.00" height="4.30"/>
<rect x="520.39" y="538.70" width="3.00" height="4.30"/>
<path fill-rule="evenodd" d="M322.60 585.40H542.40V804.60H322.60Z M325.60 587.90V802.10H539.40V587.90Z"/>
<rect x="324.60" y="602.17" width="4.80" height="3.00"/>
<rect x="535.60" y="602.17" width="4.80" height="3.00"/>
<rect x="324.60" y="620.43" width="9.30" height="3.00"/>
<rect x="531.10" y="620.43" width="9.30" height="3.00"/>
<rect x="324.60" y="638.70" width="4.80" height="3.00"/>
<rect x="535.60" y="638.70" width="4.80" height="3.00"/>
<rect x="324.60" y="656.97" width="9.30" height="3.00"/>
<rect x="531.10" y="656.97" width="9.30" height="3.00"/>
<rect x="324.60" y="675.23" width="4.80" height="3.00"/>
<rect x="535.60" y="675.23" width="4.80" height="3.00"/>
<rect x="324.60" y="693.50" width="9.30" height="3.00"/>
<rect x="531.10" y="693.50" width="9.30" height="3.00"/>
<rect x="324.60" y="711.77" width="4.80" height="3.00"/>
<rect x="535.60" y="711.77" width="4.80" height="3.00"/>
<rect x="324.60" y="730.03" width="9.30" height="3.00"/>
<rect x="531.10" y="730.03" width="9.30" height="3.00"/>
<rect x="324.60" y="748.30" width="4.80" height="3.00"/>
<rect x="535.60" y="748.30" width="4.80" height="3.00"/>
<rect x="324.60" y="766.57" width="9.30" height="3.00"/>
<rect x="531.10" y="766.57" width="9.30" height="3.00"/>
<rect x="324.60" y="784.83" width="4.80" height="3.00"/>
<rect x="535.60" y="784.83" width="4.80" height="3.00"/>
<rect x="343.48" y="586.90" width="3.00" height="4.30"/>
<rect x="343.08" y="798.80" width="3.00" height="4.30"/>
<rect x="365.46" y="586.90" width="3.00" height="8.00"/>
<rect x="365.06" y="795.10" width="3.00" height="8.00"/>
<rect x="387.44" y="586.90" width="3.00" height="4.30"/>
<rect x="387.04" y="798.80" width="3.00" height="4.30"/>
<rect x="409.42" y="586.90" width="3.00" height="8.00"/>
<rect x="409.02" y="795.10" width="3.00" height="8.00"/>
<rect x="431.40" y="586.90" width="3.00" height="4.30"/>
<rect x="431.00" y="798.80" width="3.00" height="4.30"/>
<rect x="453.38" y="586.90" width="3.00" height="8.00"/>
<rect x="452.98" y="795.10" width="3.00" height="8.00"/>
<rect x="475.36" y="586.90" width="3.00" height="4.30"/>
<rect x="474.96" y="798.80" width="3.00" height="4.30"/>
<rect x="497.34" y="586.90" width="3.00" height="8.00"/>
<rect x="496.94" y="795.10" width="3.00" height="8.00"/>
<rect x="519.32" y="586.90" width="3.00" height="4.30"/>
<rect x="518.92" y="798.80" width="3.00" height="4.30"/>
</g>
<g fill="#000" stroke="#000" stroke-width="0.5" font-family="Liberation Serif, serif">
<text x="177" y="19" font-size="24.5" text-anchor="middle">Experiment</text>
<text x="430.4" y="18.5" font-size="24" text-anchor="middle">Theory</text>
<text x="85.5" y="53.3" font-size="22.1">Polarization angle: 0<tspan font-size="14.5" dy="-7.4" dx="-0.4">o</tspan></text>
<text x="85.5" y="316.1" font-size="22.1">Polarization angle: 45<tspan font-size="14.5" dy="-7.4" dx="-0.4">o</tspan></text>
<text x="85.5" y="571.7" font-size="22.1">Polarization angle: 90<tspan font-size="14.5" dy="-7.4" dx="-0.4">o</tspan></text>
<text x="65" y="75.35" font-size="21" text-anchor="end">100</text>
<text x="65" y="181.50" font-size="21" text-anchor="end">50</text>
<text x="65" y="290.60" font-size="21" text-anchor="end">0</text>
<text transform="translate(19.4 174.0) rotate(-90)" font-size="22" text-anchor="middle">Induced Stress (MPa)</text>
<text x="65" y="334.80" font-size="21" text-anchor="end">100</text>
<text x="65" y="443.05" font-size="21" text-anchor="end">50</text>
<text x="65" y="552.40" font-size="21" text-anchor="end">0</text>
<text transform="translate(19.4 436.1) rotate(-90)" font-size="22" text-anchor="middle">Induced Stress (MPa)</text>
<text x="65" y="593.55" font-size="21" text-anchor="end">100</text>
<text x="65" y="705.50" font-size="21" text-anchor="end">50</text>
<text x="65" y="810.25" font-size="21" text-anchor="end">0</text>
<text transform="translate(19.4 694.7) rotate(-90)" font-size="22" text-anchor="middle">Induced Stress (MPa)</text>
<text x="85.95" y="828.8" font-size="20.5" text-anchor="middle">1.505</text>
<text x="169.5" y="828.8" font-size="20.5" text-anchor="middle">1.515</text>
<text x="257.9" y="828.8" font-size="20.5" text-anchor="middle">1.525</text>
<text x="331" y="828.8" font-size="20.5" text-anchor="middle">1.505</text>
<text x="414.7" y="828.8" font-size="20.5" text-anchor="middle">1.515</text>
<text x="503" y="828.8" font-size="20.5" text-anchor="middle">1.525</text>
<text x="192.3" y="860" font-size="22" text-anchor="middle">Energy (eV)</text>
<text x="439" y="860" font-size="22" text-anchor="middle">Energy (eV)</text>
<text x="151" y="755.9" font-size="21.5" stroke-width="0.6">E<tspan font-size="12.5" dy="6.8" stroke-width="0.3">1</tspan></text>
<text x="238.7" y="769.4" font-size="21.5" stroke-width="0.6">E<tspan font-size="12.5" dy="6.8" stroke-width="0.3">2</tspan></text>
<text x="390.5" y="775.7" font-size="21.5" stroke-width="0.3">E<tspan font-size="12.5" dy="6.8" stroke-width="0.3">1</tspan></text>
<text x="479.4" y="772.5" font-size="21.5" stroke-width="0.3">E<tspan font-size="12.5" dy="6.8" stroke-width="0.3">2</tspan></text>
<text x="95" y="785.2" font-size="18.6">ψ</text>
<text x="108" y="788.6" font-family="Liberation Sans, sans-serif" font-weight="bold" stroke-width="0.1" font-size="13">s1</text>
<text x="122.4" y="783.9" font-family="Liberation Sans, sans-serif" font-weight="bold" stroke-width="0.1" font-size="18.5">=</text>
<text x="134.2" y="783.9" font-family="Liberation Sans, sans-serif" font-weight="bold" stroke-width="0.1" font-size="18.5">15</text>
<text x="154.6" y="784.5" font-family="Liberation Sans, sans-serif" font-weight="bold" stroke-width="0.1" font-size="20">°</text>
</g>
</svg>
</div></body></html>
